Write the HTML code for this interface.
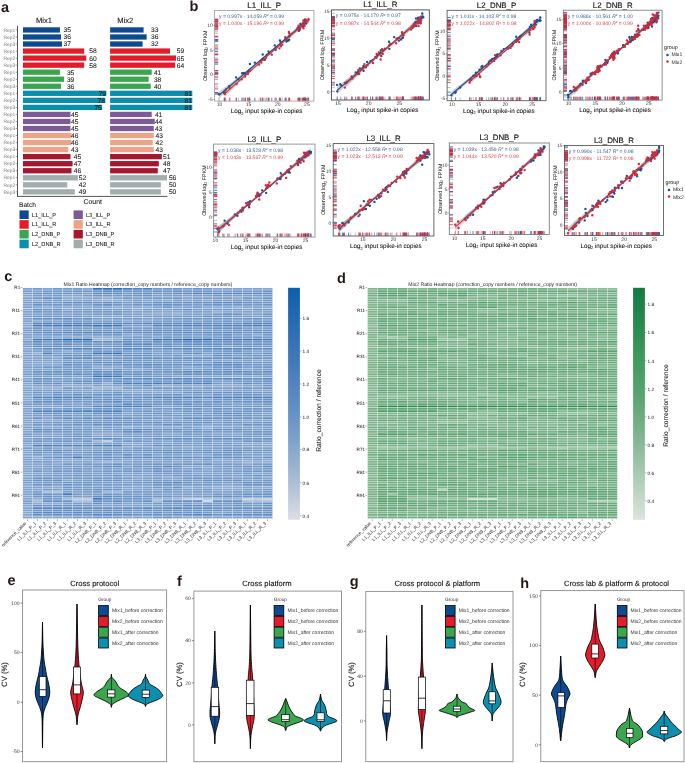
<!DOCTYPE html>
<html><head><meta charset="utf-8"><style>
html,body{margin:0;padding:0;background:#fff;}
body{width:685px;height:763px;overflow:hidden;}
svg{display:block;will-change:transform;text-rendering:geometricPrecision;font-family:"Liberation Sans", sans-serif;}
</style></head><body>
<svg width="685" height="763" viewBox="0 0 685 763">
<text x="1" y="12.2" font-size="14.5" fill="#231815" font-weight="bold">a</text>
<text x="36" y="23" font-size="7.6" fill="#1a1a1a" stroke="#1a1a1a" stroke-width="0.11">Mix1</text>
<text x="117.3" y="22.6" font-size="7.6" fill="#1a1a1a" stroke="#1a1a1a" stroke-width="0.11">Mix2</text>
<rect x="23" y="27.3" width="36.92" height="5.3" fill="#0c4a91"/>
<rect x="110.1" y="27.3" width="33.49" height="5.3" fill="#0c4a91"/>
<text x="63.6" y="32.35" font-size="6.7" fill="#1a1a1a" stroke="#1a1a1a" stroke-width="0.08">35</text>
<text x="151" y="32.35" font-size="6.7" fill="#1a1a1a" stroke="#1a1a1a" stroke-width="0.08">33</text>
<text x="15.2" y="31.65" font-size="4.9" fill="#777" text-anchor="end">Rep1</text>
<line x1="15.6" y1="29.95" x2="17.5" y2="29.95" stroke="#555" stroke-width="0.5"/>
<rect x="23" y="34.34" width="37.98" height="5.3" fill="#0c4a91"/>
<rect x="110.1" y="34.34" width="36.54" height="5.3" fill="#0c4a91"/>
<text x="63.6" y="39.39" font-size="6.7" fill="#1a1a1a" stroke="#1a1a1a" stroke-width="0.08">36</text>
<text x="151" y="39.39" font-size="6.7" fill="#1a1a1a" stroke="#1a1a1a" stroke-width="0.08">36</text>
<text x="15.2" y="38.69" font-size="4.9" fill="#777" text-anchor="end">Rep2</text>
<line x1="15.6" y1="36.99" x2="17.5" y2="36.99" stroke="#555" stroke-width="0.5"/>
<rect x="23" y="41.38" width="39.03" height="5.3" fill="#0c4a91"/>
<rect x="110.1" y="41.38" width="32.48" height="5.3" fill="#0c4a91"/>
<text x="63.6" y="46.43" font-size="6.7" fill="#1a1a1a" stroke="#1a1a1a" stroke-width="0.08">37</text>
<text x="151" y="46.43" font-size="6.7" fill="#1a1a1a" stroke="#1a1a1a" stroke-width="0.08">32</text>
<text x="15.2" y="45.73" font-size="4.9" fill="#777" text-anchor="end">Rep3</text>
<line x1="15.6" y1="44.03" x2="17.5" y2="44.03" stroke="#555" stroke-width="0.5"/>
<rect x="23" y="48.42" width="61.19" height="5.3" fill="#e31b2a"/>
<rect x="110.1" y="48.42" width="59.88" height="5.3" fill="#e31b2a"/>
<text x="89.2" y="53.47" font-size="6.7" fill="#1a1a1a" stroke="#1a1a1a" stroke-width="0.08">58</text>
<text x="176.7" y="53.47" font-size="6.7" fill="#1a1a1a" stroke="#1a1a1a" stroke-width="0.08">59</text>
<text x="15.2" y="52.77" font-size="4.9" fill="#777" text-anchor="end">Rep1</text>
<line x1="15.6" y1="51.07" x2="17.5" y2="51.07" stroke="#555" stroke-width="0.5"/>
<rect x="23" y="55.46" width="63.3" height="5.3" fill="#e31b2a"/>
<rect x="110.1" y="55.46" width="65.97" height="5.3" fill="#e31b2a"/>
<text x="89.2" y="60.51" font-size="6.7" fill="#1a1a1a" stroke="#1a1a1a" stroke-width="0.08">60</text>
<text x="176.7" y="60.51" font-size="6.7" fill="#1a1a1a" stroke="#1a1a1a" stroke-width="0.08">65</text>
<text x="15.2" y="59.81" font-size="4.9" fill="#777" text-anchor="end">Rep2</text>
<line x1="15.6" y1="58.11" x2="17.5" y2="58.11" stroke="#555" stroke-width="0.5"/>
<rect x="23" y="62.5" width="61.19" height="5.3" fill="#e31b2a"/>
<rect x="110.1" y="62.5" width="64.96" height="5.3" fill="#e31b2a"/>
<text x="89.2" y="67.55" font-size="6.7" fill="#1a1a1a" stroke="#1a1a1a" stroke-width="0.08">58</text>
<text x="176.7" y="67.55" font-size="6.7" fill="#1a1a1a" stroke="#1a1a1a" stroke-width="0.08">64</text>
<text x="15.2" y="66.85" font-size="4.9" fill="#777" text-anchor="end">Rep3</text>
<line x1="15.6" y1="65.15" x2="17.5" y2="65.15" stroke="#555" stroke-width="0.5"/>
<rect x="23" y="69.54" width="36.92" height="5.3" fill="#3aa64d"/>
<rect x="110.1" y="69.54" width="41.61" height="5.3" fill="#3aa64d"/>
<text x="66.9" y="74.59" font-size="6.7" fill="#1a1a1a" stroke="#1a1a1a" stroke-width="0.08">35</text>
<text x="153.9" y="74.59" font-size="6.7" fill="#1a1a1a" stroke="#1a1a1a" stroke-width="0.08">41</text>
<text x="15.2" y="73.89" font-size="4.9" fill="#777" text-anchor="end">Rep1</text>
<line x1="15.6" y1="72.19" x2="17.5" y2="72.19" stroke="#555" stroke-width="0.5"/>
<rect x="23" y="76.58" width="41.14" height="5.3" fill="#3aa64d"/>
<rect x="110.1" y="76.58" width="38.57" height="5.3" fill="#3aa64d"/>
<text x="66.9" y="81.63" font-size="6.7" fill="#1a1a1a" stroke="#1a1a1a" stroke-width="0.08">39</text>
<text x="153.9" y="81.63" font-size="6.7" fill="#1a1a1a" stroke="#1a1a1a" stroke-width="0.08">38</text>
<text x="15.2" y="80.93" font-size="4.9" fill="#777" text-anchor="end">Rep2</text>
<line x1="15.6" y1="79.23" x2="17.5" y2="79.23" stroke="#555" stroke-width="0.5"/>
<rect x="23" y="83.62" width="37.98" height="5.3" fill="#3aa64d"/>
<rect x="110.1" y="83.62" width="40.6" height="5.3" fill="#3aa64d"/>
<text x="66.9" y="88.67" font-size="6.7" fill="#1a1a1a" stroke="#1a1a1a" stroke-width="0.08">36</text>
<text x="153.9" y="88.67" font-size="6.7" fill="#1a1a1a" stroke="#1a1a1a" stroke-width="0.08">40</text>
<text x="15.2" y="87.97" font-size="4.9" fill="#777" text-anchor="end">Rep3</text>
<line x1="15.6" y1="86.27" x2="17.5" y2="86.27" stroke="#555" stroke-width="0.5"/>
<rect x="23" y="90.66" width="83.34" height="5.3" fill="#0b8db0"/>
<rect x="110.1" y="90.66" width="82.21" height="5.3" fill="#0b8db0"/>
<text x="106.05" y="95.71" font-size="6.7" fill="#1a1a1a" text-anchor="end" stroke="#1a1a1a" stroke-width="0.08">79</text>
<text x="192.01" y="95.71" font-size="6.7" fill="#1a1a1a" text-anchor="end" stroke="#1a1a1a" stroke-width="0.08">81</text>
<text x="15.2" y="95.01" font-size="4.9" fill="#777" text-anchor="end">Rep1</text>
<line x1="15.6" y1="93.31" x2="17.5" y2="93.31" stroke="#555" stroke-width="0.5"/>
<rect x="23" y="97.7" width="82.29" height="5.3" fill="#0b8db0"/>
<rect x="110.1" y="97.7" width="82.21" height="5.3" fill="#0b8db0"/>
<text x="104.99" y="102.75" font-size="6.7" fill="#1a1a1a" text-anchor="end" stroke="#1a1a1a" stroke-width="0.08">78</text>
<text x="192.01" y="102.75" font-size="6.7" fill="#1a1a1a" text-anchor="end" stroke="#1a1a1a" stroke-width="0.08">81</text>
<text x="15.2" y="102.05" font-size="4.9" fill="#777" text-anchor="end">Rep2</text>
<line x1="15.6" y1="100.35" x2="17.5" y2="100.35" stroke="#555" stroke-width="0.5"/>
<rect x="23" y="104.74" width="79.12" height="5.3" fill="#0b8db0"/>
<rect x="110.1" y="104.74" width="82.21" height="5.3" fill="#0b8db0"/>
<text x="101.83" y="109.79" font-size="6.7" fill="#1a1a1a" text-anchor="end" stroke="#1a1a1a" stroke-width="0.08">75</text>
<text x="192.01" y="109.79" font-size="6.7" fill="#1a1a1a" text-anchor="end" stroke="#1a1a1a" stroke-width="0.08">81</text>
<text x="15.2" y="109.09" font-size="4.9" fill="#777" text-anchor="end">Rep3</text>
<line x1="15.6" y1="107.39" x2="17.5" y2="107.39" stroke="#555" stroke-width="0.5"/>
<rect x="23" y="111.78" width="47.47" height="5.3" fill="#7c5a96"/>
<rect x="110.1" y="111.78" width="41.61" height="5.3" fill="#7c5a96"/>
<text x="71.1" y="116.83" font-size="6.7" fill="#1a1a1a" stroke="#1a1a1a" stroke-width="0.08">45</text>
<text x="154.9" y="116.83" font-size="6.7" fill="#1a1a1a" stroke="#1a1a1a" stroke-width="0.08">41</text>
<text x="15.2" y="116.13" font-size="4.9" fill="#777" text-anchor="end">Rep1</text>
<line x1="15.6" y1="114.43" x2="17.5" y2="114.43" stroke="#555" stroke-width="0.5"/>
<rect x="23" y="118.82" width="47.47" height="5.3" fill="#7c5a96"/>
<rect x="110.1" y="118.82" width="44.66" height="5.3" fill="#7c5a96"/>
<text x="71.1" y="123.87" font-size="6.7" fill="#1a1a1a" stroke="#1a1a1a" stroke-width="0.08">45</text>
<text x="154.9" y="123.87" font-size="6.7" fill="#1a1a1a" stroke="#1a1a1a" stroke-width="0.08">44</text>
<text x="15.2" y="123.17" font-size="4.9" fill="#777" text-anchor="end">Rep2</text>
<line x1="15.6" y1="121.47" x2="17.5" y2="121.47" stroke="#555" stroke-width="0.5"/>
<rect x="23" y="125.86" width="47.47" height="5.3" fill="#7c5a96"/>
<rect x="110.1" y="125.86" width="43.64" height="5.3" fill="#7c5a96"/>
<text x="71.1" y="130.91" font-size="6.7" fill="#1a1a1a" stroke="#1a1a1a" stroke-width="0.08">45</text>
<text x="154.9" y="130.91" font-size="6.7" fill="#1a1a1a" stroke="#1a1a1a" stroke-width="0.08">43</text>
<text x="15.2" y="130.21" font-size="4.9" fill="#777" text-anchor="end">Rep3</text>
<line x1="15.6" y1="128.51" x2="17.5" y2="128.51" stroke="#555" stroke-width="0.5"/>
<rect x="23" y="132.9" width="48.53" height="5.3" fill="#eea387"/>
<rect x="110.1" y="132.9" width="43.64" height="5.3" fill="#eea387"/>
<text x="71.1" y="137.95" font-size="6.7" fill="#1a1a1a" stroke="#1a1a1a" stroke-width="0.08">46</text>
<text x="155.5" y="137.95" font-size="6.7" fill="#1a1a1a" stroke="#1a1a1a" stroke-width="0.08">43</text>
<text x="15.2" y="137.25" font-size="4.9" fill="#777" text-anchor="end">Rep1</text>
<line x1="15.6" y1="135.55" x2="17.5" y2="135.55" stroke="#555" stroke-width="0.5"/>
<rect x="23" y="139.94" width="48.53" height="5.3" fill="#eea387"/>
<rect x="110.1" y="139.94" width="42.63" height="5.3" fill="#eea387"/>
<text x="71.1" y="144.99" font-size="6.7" fill="#1a1a1a" stroke="#1a1a1a" stroke-width="0.08">46</text>
<text x="155.5" y="144.99" font-size="6.7" fill="#1a1a1a" stroke="#1a1a1a" stroke-width="0.08">42</text>
<text x="15.2" y="144.29" font-size="4.9" fill="#777" text-anchor="end">Rep2</text>
<line x1="15.6" y1="142.59" x2="17.5" y2="142.59" stroke="#555" stroke-width="0.5"/>
<rect x="23" y="146.98" width="45.36" height="5.3" fill="#eea387"/>
<rect x="110.1" y="146.98" width="43.64" height="5.3" fill="#eea387"/>
<text x="71.1" y="152.03" font-size="6.7" fill="#1a1a1a" stroke="#1a1a1a" stroke-width="0.08">43</text>
<text x="155.5" y="152.03" font-size="6.7" fill="#1a1a1a" stroke="#1a1a1a" stroke-width="0.08">43</text>
<text x="15.2" y="151.33" font-size="4.9" fill="#777" text-anchor="end">Rep3</text>
<line x1="15.6" y1="149.63" x2="17.5" y2="149.63" stroke="#555" stroke-width="0.5"/>
<rect x="23" y="154.02" width="47.47" height="5.3" fill="#a3182f"/>
<rect x="110.1" y="154.02" width="51.76" height="5.3" fill="#a3182f"/>
<text x="73.7" y="159.07" font-size="6.7" fill="#1a1a1a" stroke="#1a1a1a" stroke-width="0.08">45</text>
<text x="163.1" y="159.07" font-size="6.7" fill="#1a1a1a" stroke="#1a1a1a" stroke-width="0.08">51</text>
<text x="15.2" y="158.37" font-size="4.9" fill="#777" text-anchor="end">Rep1</text>
<line x1="15.6" y1="156.67" x2="17.5" y2="156.67" stroke="#555" stroke-width="0.5"/>
<rect x="23" y="161.06" width="49.58" height="5.3" fill="#a3182f"/>
<rect x="110.1" y="161.06" width="48.72" height="5.3" fill="#a3182f"/>
<text x="73.7" y="166.11" font-size="6.7" fill="#1a1a1a" stroke="#1a1a1a" stroke-width="0.08">47</text>
<text x="163.1" y="166.11" font-size="6.7" fill="#1a1a1a" stroke="#1a1a1a" stroke-width="0.08">48</text>
<text x="15.2" y="165.41" font-size="4.9" fill="#777" text-anchor="end">Rep2</text>
<line x1="15.6" y1="163.71" x2="17.5" y2="163.71" stroke="#555" stroke-width="0.5"/>
<rect x="23" y="168.1" width="48.53" height="5.3" fill="#a3182f"/>
<rect x="110.1" y="168.1" width="47.7" height="5.3" fill="#a3182f"/>
<text x="73.7" y="173.15" font-size="6.7" fill="#1a1a1a" stroke="#1a1a1a" stroke-width="0.08">46</text>
<text x="163.1" y="173.15" font-size="6.7" fill="#1a1a1a" stroke="#1a1a1a" stroke-width="0.08">47</text>
<text x="15.2" y="172.45" font-size="4.9" fill="#777" text-anchor="end">Rep3</text>
<line x1="15.6" y1="170.75" x2="17.5" y2="170.75" stroke="#555" stroke-width="0.5"/>
<rect x="23" y="175.14" width="54.86" height="5.3" fill="#a3adad"/>
<rect x="110.1" y="175.14" width="56.84" height="5.3" fill="#a3adad"/>
<text x="78.8" y="180.19" font-size="6.7" fill="#1a1a1a" stroke="#1a1a1a" stroke-width="0.08">52</text>
<text x="168.9" y="180.19" font-size="6.7" fill="#1a1a1a" stroke="#1a1a1a" stroke-width="0.08">56</text>
<text x="15.2" y="179.49" font-size="4.9" fill="#777" text-anchor="end">Rep1</text>
<line x1="15.6" y1="177.79" x2="17.5" y2="177.79" stroke="#555" stroke-width="0.5"/>
<rect x="23" y="182.18" width="44.31" height="5.3" fill="#a3adad"/>
<rect x="110.1" y="182.18" width="50.75" height="5.3" fill="#a3adad"/>
<text x="78.8" y="187.23" font-size="6.7" fill="#1a1a1a" stroke="#1a1a1a" stroke-width="0.08">42</text>
<text x="168.9" y="187.23" font-size="6.7" fill="#1a1a1a" stroke="#1a1a1a" stroke-width="0.08">50</text>
<text x="15.2" y="186.53" font-size="4.9" fill="#777" text-anchor="end">Rep2</text>
<line x1="15.6" y1="184.83" x2="17.5" y2="184.83" stroke="#555" stroke-width="0.5"/>
<rect x="23" y="189.22" width="51.7" height="5.3" fill="#a3adad"/>
<rect x="110.1" y="189.22" width="50.75" height="5.3" fill="#a3adad"/>
<text x="78.8" y="194.27" font-size="6.7" fill="#1a1a1a" stroke="#1a1a1a" stroke-width="0.08">49</text>
<text x="168.9" y="194.27" font-size="6.7" fill="#1a1a1a" stroke="#1a1a1a" stroke-width="0.08">50</text>
<text x="15.2" y="193.57" font-size="4.9" fill="#777" text-anchor="end">Rep3</text>
<line x1="15.6" y1="191.87" x2="17.5" y2="191.87" stroke="#555" stroke-width="0.5"/>
<line x1="17.5" y1="25.8" x2="17.5" y2="196.8" stroke="#444" stroke-width="0.9"/>
<line x1="17.1" y1="196.4" x2="167.4" y2="196.4" stroke="#444" stroke-width="0.9"/>
<text x="83.5" y="203.8" font-size="6.9" fill="#1a1a1a" stroke="#1a1a1a" stroke-width="0.09">Count</text>
<text x="19" y="207.4" font-size="6.6" fill="#1a1a1a" stroke="#1a1a1a" stroke-width="0.07">Batch</text>
<rect x="19.5" y="210.4" width="9.2" height="8.6" fill="#0c4a91"/>
<text x="31.8" y="216.7" font-size="5.7" fill="#1a1a1a" stroke="#1a1a1a" stroke-width="0.04">L1_ILL_P</text>
<rect x="19.5" y="220.15" width="9.2" height="8.6" fill="#e31b2a"/>
<text x="31.8" y="226.45" font-size="5.7" fill="#1a1a1a" stroke="#1a1a1a" stroke-width="0.04">L1_ILL_R</text>
<rect x="19.5" y="229.9" width="9.2" height="8.6" fill="#3aa64d"/>
<text x="31.8" y="236.2" font-size="5.7" fill="#1a1a1a" stroke="#1a1a1a" stroke-width="0.04">L2_DNB_P</text>
<rect x="19.5" y="239.65" width="9.2" height="8.6" fill="#0b8db0"/>
<text x="31.8" y="245.95" font-size="5.7" fill="#1a1a1a" stroke="#1a1a1a" stroke-width="0.04">L2_DNB_R</text>
<rect x="73.6" y="210.4" width="9.2" height="8.6" fill="#7c5a96"/>
<text x="85.9" y="216.7" font-size="5.7" fill="#1a1a1a" stroke="#1a1a1a" stroke-width="0.04">L3_ILL_P</text>
<rect x="73.6" y="220.15" width="9.2" height="8.6" fill="#eea387"/>
<text x="85.9" y="226.45" font-size="5.7" fill="#1a1a1a" stroke="#1a1a1a" stroke-width="0.04">L3_ILL_R</text>
<rect x="73.6" y="229.9" width="9.2" height="8.6" fill="#a3182f"/>
<text x="85.9" y="236.2" font-size="5.7" fill="#1a1a1a" stroke="#1a1a1a" stroke-width="0.04">L3_DNB_P</text>
<rect x="73.6" y="239.65" width="9.2" height="8.6" fill="#a3adad"/>
<text x="85.9" y="245.95" font-size="5.7" fill="#1a1a1a" stroke="#1a1a1a" stroke-width="0.04">L3_DNB_R</text>
<text x="189.4" y="11" font-size="14.5" fill="#231815" font-weight="bold">b</text>
<rect x="214.6" y="10.5" width="99.3" height="90.6" fill="#fff"/>
<text x="264.25" y="7.9" font-size="7.9" fill="#111" text-anchor="middle" stroke="#111" stroke-width="0.12">L1_ILL_P</text>
<svg x="214.6" y="10.5" width="99.3" height="90.6" viewBox="214.6 10.5 99.3 90.6" overflow="hidden">
<polygon points="218.92,91.6 226.19,86.28 233.47,80.82 240.75,75.2 248.02,69.44 255.3,63.52 262.58,57.46 269.85,51.24 277.13,44.87 284.4,38.35 291.68,31.68 298.96,24.86 306.23,17.89 306.23,25.09 298.96,30.4 291.68,35.87 284.4,41.48 277.13,47.25 269.85,53.17 262.58,59.23 255.3,65.45 248.02,71.82 240.75,78.34 233.47,85.01 226.19,91.83 218.92,98.8" fill="#9a9a9a" fill-opacity="0.45"/>
<polygon points="224.74,89.97 231.74,84.65 238.73,79.17 245.72,73.54 252.71,67.76 259.7,61.83 266.7,55.75 273.69,49.52 280.68,43.13 287.67,36.6 294.66,29.91 301.66,23.08 308.65,16.09 308.65,23.3 301.66,28.62 294.66,34.1 287.67,39.73 280.68,45.51 273.69,51.44 266.7,57.52 259.7,63.76 252.71,70.14 245.72,76.67 238.73,83.36 231.74,90.19 224.74,97.18" fill="#9a9a9a" fill-opacity="0.45"/>
<path stroke="#1d4f95" stroke-width="0.75" stroke-opacity="0.45" d="M218.92 97.7v3.4M214.6 94.2h3.6M229.33 97.7v3.4M214.6 86.23h3.6M238.49 97.7v3.4M214.6 79.29h3.6M248.41 97.7v3.4M214.6 71.16h3.6M264.81 97.7v3.4M214.6 59.86h3.6M274.73 97.7v3.4M214.6 45.4h3.6M288.43 97.7v3.4M214.6 40.53h3.6M286.37 97.7v3.4M214.6 39.55h3.6M289.14 97.7v3.4M214.6 39.63h3.6M286.48 97.7v3.4M214.6 41.62h3.6M300.38 97.7v3.4M214.6 23.95h3.6M298.97 97.7v3.4M214.6 30.87h3.6M299.29 97.7v3.4M214.6 26.89h3.6M304.34 97.7v3.4M214.6 25.77h3.6M306.23 97.7v3.4M214.6 23.55h3.6"/>
<path stroke="#1d4f95" stroke-width="0.75" stroke-opacity="0.7" d="M236.08 97.7v3.4M214.6 77.41h3.6M249.91 97.7v3.4M214.6 64.01h3.6M262.74 97.7v3.4M214.6 54.48h3.6M262.67 97.7v3.4M214.6 59.05h3.6M269.28 97.7v3.4M214.6 53.24h3.6M275.58 97.7v3.4M214.6 49.8h3.6M280.41 97.7v3.4M214.6 41.48h3.6M304.63 97.7v3.4M214.6 21.09h3.6M305.16 97.7v3.4M214.6 21.5h3.6M301.79 97.7v3.4M214.6 25.77h3.6M305.9 97.7v3.4M214.6 19.85h3.6M305.97 97.7v3.4M214.6 21.33h3.6"/>
<path stroke="#1d4f95" stroke-width="0.75" stroke-opacity="1.0" d="M224.17 97.7v3.4M214.6 92.95h3.6M224.99 97.7v3.4M214.6 92.5h3.6M243.92 97.7v3.4M214.6 72.89h3.6M242.15 97.7v3.4M214.6 73.2h3.6M245.61 97.7v3.4M214.6 74.18h3.6M249.31 97.7v3.4M214.6 70.65h3.6M254.87 97.7v3.4M214.6 62.67h3.6M268.54 97.7v3.4M214.6 51.43h3.6M279.87 97.7v3.4M214.6 40.36h3.6M285.19 97.7v3.4M214.6 39.46h3.6M299.54 97.7v3.4M214.6 28.1h3.6M302.65 97.7v3.4M214.6 26.59h3.6M304.23 97.7v3.4M214.6 22.9h3.6M305.05 97.7v3.4M214.6 19.39h3.6"/>
<path stroke="#e3232e" stroke-width="0.75" stroke-opacity="0.45" d="M225.92 97.7v3.4M214.6 89.39h3.6M241.67 97.7v3.4M214.6 79.26h3.6M259.09 97.7v3.4M214.6 64.52h3.6M261.38 97.7v3.4M214.6 62.62h3.6M263.26 97.7v3.4M214.6 59.68h3.6M265.99 97.7v3.4M214.6 57.8h3.6M282.29 97.7v3.4M214.6 44.64h3.6M280.82 97.7v3.4M214.6 46.19h3.6M288.88 97.7v3.4M214.6 31.9h3.6M289.22 97.7v3.4M214.6 33.38h3.6M297.6 97.7v3.4M214.6 27.91h3.6M303.34 97.7v3.4M214.6 20.45h3.6M302.94 97.7v3.4M214.6 23.3h3.6M303.52 97.7v3.4M214.6 28.18h3.6M304.12 97.7v3.4M214.6 25.88h3.6"/>
<path stroke="#e3232e" stroke-width="0.75" stroke-opacity="0.7" d="M245.02 97.7v3.4M214.6 76.42h3.6M276.48 97.7v3.4M214.6 47.18h3.6M289.33 97.7v3.4M214.6 36.3h3.6M285.33 97.7v3.4M214.6 37.25h3.6M297.9 97.7v3.4M214.6 29.22h3.6M299.13 97.7v3.4M214.6 26.88h3.6M300.04 97.7v3.4M214.6 29.46h3.6M305.78 97.7v3.4M214.6 20.15h3.6M303.34 97.7v3.4M214.6 25.07h3.6M304.79 97.7v3.4M214.6 22.76h3.6"/>
<path stroke="#e3232e" stroke-width="0.75" stroke-opacity="1.0" d="M224.74 97.7v3.4M214.6 94.04h3.6M229.83 97.7v3.4M214.6 88.17h3.6M236.57 97.7v3.4M214.6 83.99h3.6M247.88 97.7v3.4M214.6 72.81h3.6M247.82 97.7v3.4M214.6 74.01h3.6M249.6 97.7v3.4M214.6 70.57h3.6M260.61 97.7v3.4M214.6 61.06h3.6M266.91 97.7v3.4M214.6 54.7h3.6M271.78 97.7v3.4M214.6 54.66h3.6M279.39 97.7v3.4M214.6 48.35h3.6M289.75 97.7v3.4M214.6 36.27h3.6M298.61 97.7v3.4M214.6 25.66h3.6M303.68 97.7v3.4M214.6 24.58h3.6M308.65 97.7v3.4M214.6 19.54h3.6M308.55 97.7v3.4M214.6 19.23h3.6M307.48 97.7v3.4M214.6 21.38h3.6"/>
<path stroke="#1d4f95" stroke-width="2.4" stroke-linecap="round" d="M218.92 94.2h0M224.17 92.95h0M224.99 92.5h0M229.33 86.23h0M238.49 79.29h0M236.08 77.41h0M243.92 72.89h0M242.15 73.2h0M249.91 64.01h0M245.61 74.18h0M249.31 70.65h0M248.41 71.16h0M254.87 62.67h0M262.74 54.48h0M262.67 59.05h0M264.81 59.86h0M268.54 51.43h0M269.28 53.24h0M275.58 49.8h0M274.73 45.4h0M279.87 40.36h0M280.41 41.48h0M288.43 40.53h0M286.37 39.55h0M289.14 39.63h0M286.48 41.62h0M285.19 39.46h0M300.38 23.95h0M299.54 28.1h0M298.97 30.87h0M299.29 26.89h0M304.63 21.09h0M302.65 26.59h0M304.34 25.77h0M304.23 22.9h0M305.16 21.5h0M301.79 25.77h0M305.05 19.39h0M305.9 19.85h0M306.23 23.55h0M305.97 21.33h0"/>
<path stroke="#e3232e" stroke-width="2.4" stroke-linecap="round" d="M225.92 89.39h0M224.74 94.04h0M229.83 88.17h0M236.57 83.99h0M245.02 76.42h0M241.67 79.26h0M247.88 72.81h0M247.82 74.01h0M249.6 70.57h0M259.09 64.52h0M260.61 61.06h0M261.38 62.62h0M263.26 59.68h0M266.91 54.7h0M271.78 54.66h0M265.99 57.8h0M276.48 47.18h0M279.39 48.35h0M282.29 44.64h0M280.82 46.19h0M288.88 31.9h0M289.33 36.3h0M285.33 37.25h0M289.22 33.38h0M289.75 36.27h0M297.9 29.22h0M297.6 27.91h0M299.13 26.88h0M300.04 29.46h0M298.61 25.66h0M305.78 20.15h0M303.68 24.58h0M303.34 20.45h0M303.34 25.07h0M302.94 23.3h0M303.52 28.18h0M304.79 22.76h0M308.65 19.54h0M308.55 19.23h0M307.48 21.38h0M304.12 25.88h0"/>
<line x1="218.92" y1="95.2" x2="306.23" y2="21.49" stroke="#1f4f8f" stroke-width="1.15"/>
<line x1="224.74" y1="93.58" x2="308.65" y2="19.69" stroke="#d3313b" stroke-width="1.15"/>
</svg>
<text x="219" y="18" font-size="5" fill="#3b5b8f">y = 0.997x - 14.059  <tspan font-style="italic">R</tspan><tspan font-size="3" dy="-1.6">2</tspan><tspan dy="1.6"> = 0.99</tspan></text>
<text x="219" y="25.3" font-size="5" fill="#d8404d">y = 1.040x - 15.196  <tspan font-style="italic">R</tspan><tspan font-size="3" dy="-1.6">2</tspan><tspan dy="1.6"> = 0.99</tspan></text>
<rect x="214.6" y="10.5" width="99.3" height="90.6" fill="none" stroke="#a0a0a0" stroke-width="0.85"/>
<line x1="219.5" y1="101.1" x2="219.5" y2="102.4" stroke="#666" stroke-width="0.5"/>
<text x="219.5" y="106.4" font-size="5" fill="#333" text-anchor="middle">10</text>
<line x1="248.63" y1="101.1" x2="248.63" y2="102.4" stroke="#666" stroke-width="0.5"/>
<text x="248.63" y="106.4" font-size="5" fill="#333" text-anchor="middle">15</text>
<line x1="277.77" y1="101.1" x2="277.77" y2="102.4" stroke="#666" stroke-width="0.5"/>
<text x="277.77" y="106.4" font-size="5" fill="#333" text-anchor="middle">20</text>
<line x1="306.9" y1="101.1" x2="306.9" y2="102.4" stroke="#666" stroke-width="0.5"/>
<text x="306.9" y="106.4" font-size="5" fill="#333" text-anchor="middle">25</text>
<line x1="213.3" y1="99.2" x2="214.6" y2="99.2" stroke="#666" stroke-width="0.5"/>
<text x="212.7" y="100.9" font-size="4.9" fill="#333" text-anchor="end">-5</text>
<line x1="213.3" y1="74.53" x2="214.6" y2="74.53" stroke="#666" stroke-width="0.5"/>
<text x="212.7" y="76.23" font-size="4.9" fill="#333" text-anchor="end">0</text>
<line x1="213.3" y1="49.87" x2="214.6" y2="49.87" stroke="#666" stroke-width="0.5"/>
<text x="212.7" y="51.57" font-size="4.9" fill="#333" text-anchor="end">5</text>
<line x1="213.3" y1="25.2" x2="214.6" y2="25.2" stroke="#666" stroke-width="0.5"/>
<text x="212.7" y="26.9" font-size="4.9" fill="#333" text-anchor="end">10</text>
<text x="266.55" y="113.3" font-size="6.3" fill="#111" text-anchor="middle" stroke="#111" stroke-width="0.06">Log<tspan font-size="4.0" dy="1.4">2</tspan><tspan dy="-1.4"> input spike-in copies</tspan></text>
<text x="206.8" y="55.8" font-size="5.4" fill="#222" text-anchor="middle" transform="rotate(-90 206.8 55.8)" stroke="#222" stroke-width="0.03">Observed log<tspan font-size="3.7" dy="1.3">2</tspan><tspan dy="-1.3"> FPKM</tspan></text>
<rect x="331.4" y="9.9" width="97.9" height="90.1" fill="#fff"/>
<text x="380.35" y="7.3" font-size="7.9" fill="#111" text-anchor="middle" stroke="#111" stroke-width="0.12">L1_ILL_R</text>
<svg x="331.4" y="9.9" width="97.9" height="90.1" viewBox="331.4 9.9 97.9 90.1" overflow="hidden">
<polygon points="337.06,86.43 344.25,81.19 351.44,75.78 358.64,70.21 365.83,64.48 373.02,58.58 380.21,52.51 387.4,46.28 394.59,39.89 401.79,33.33 408.98,26.61 416.17,19.73 423.36,12.68 423.36,20.52 416.17,25.77 408.98,31.18 401.79,36.75 394.59,42.48 387.4,48.38 380.21,54.45 373.02,60.68 365.83,67.07 358.64,73.62 351.44,80.35 344.25,87.23 337.06,94.28" fill="#9a9a9a" fill-opacity="0.45"/>
<polygon points="344.83,80.77 351.16,76.2 357.48,71.46 363.81,66.56 370.14,61.5 376.46,56.27 382.79,50.88 389.12,45.32 395.45,39.6 401.77,33.72 408.1,27.67 414.43,21.46 420.75,15.08 420.75,22.92 414.43,27.49 408.1,32.23 401.77,37.13 395.45,42.19 389.12,47.42 382.79,52.81 376.46,58.37 370.14,64.09 363.81,69.97 357.48,76.02 351.16,82.23 344.83,88.61" fill="#9a9a9a" fill-opacity="0.45"/>
<path stroke="#1d4f95" stroke-width="0.75" stroke-opacity="0.45" d="M337.06 96.6v3.4M331.4 84.86h3.6M341.11 96.6v3.4M331.4 85.34h3.6M340.21 96.6v3.4M331.4 84.3h3.6M358.25 96.6v3.4M331.4 74h3.6M367.13 96.6v3.4M331.4 61.96h3.6M380.34 96.6v3.4M331.4 52.96h3.6M394.11 96.6v3.4M331.4 37.11h3.6M398.78 96.6v3.4M331.4 40.64h3.6M402.86 96.6v3.4M331.4 37.85h3.6M403.21 96.6v3.4M331.4 35.36h3.6M414.39 96.6v3.4M331.4 25.63h3.6M412.63 96.6v3.4M331.4 27.72h3.6M414.53 96.6v3.4M331.4 23.51h3.6M413.56 96.6v3.4M331.4 25.85h3.6M422.21 96.6v3.4M331.4 13.47h3.6M418.73 96.6v3.4M331.4 20.79h3.6M416.37 96.6v3.4M331.4 21.83h3.6"/>
<path stroke="#1d4f95" stroke-width="0.75" stroke-opacity="0.7" d="M337.26 96.6v3.4M331.4 91.35h3.6M346.79 96.6v3.4M331.4 82.2h3.6M357.88 96.6v3.4M331.4 72.21h3.6M359.85 96.6v3.4M331.4 68.57h3.6M363.6 96.6v3.4M331.4 70.7h3.6M377.3 96.6v3.4M331.4 55.48h3.6M383.23 96.6v3.4M331.4 50.38h3.6M380.71 96.6v3.4M331.4 50.56h3.6M388.97 96.6v3.4M331.4 41.77h3.6M396.83 96.6v3.4M331.4 38.98h3.6M402.44 96.6v3.4M331.4 33.39h3.6M402.49 96.6v3.4M331.4 38h3.6M415.99 96.6v3.4M331.4 18.55h3.6M415.2 96.6v3.4M331.4 22.4h3.6M418.52 96.6v3.4M331.4 19.21h3.6M419.75 96.6v3.4M331.4 20.84h3.6M420.58 96.6v3.4M331.4 17.12h3.6M418.95 96.6v3.4M331.4 21.94h3.6M421.59 96.6v3.4M331.4 17.68h3.6M422.17 96.6v3.4M331.4 16.8h3.6M422.57 96.6v3.4M331.4 16.36h3.6"/>
<path stroke="#1d4f95" stroke-width="0.75" stroke-opacity="1.0" d="M355.7 96.6v3.4M331.4 72.38h3.6M365.95 96.6v3.4M331.4 67.19h3.6M363.37 96.6v3.4M331.4 66.24h3.6M372.53 96.6v3.4M331.4 60.27h3.6M370.55 96.6v3.4M331.4 61.11h3.6M379.69 96.6v3.4M331.4 53.44h3.6M379.24 96.6v3.4M331.4 54.13h3.6M381.23 96.6v3.4M331.4 55.95h3.6M389.33 96.6v3.4M331.4 48.87h3.6M400.94 96.6v3.4M331.4 39.51h3.6M416.26 96.6v3.4M331.4 25.98h3.6M418.16 96.6v3.4M331.4 17.77h3.6M420.54 96.6v3.4M331.4 19.46h3.6M423.36 96.6v3.4M331.4 17.32h3.6M420.48 96.6v3.4M331.4 23.37h3.6"/>
<path stroke="#e3232e" stroke-width="0.75" stroke-opacity="0.45" d="M344.83 96.6v3.4M331.4 87.61h3.6M357.65 96.6v3.4M331.4 72.62h3.6M365.21 96.6v3.4M331.4 66.88h3.6M376.48 96.6v3.4M331.4 57.83h3.6M378.8 96.6v3.4M331.4 52.36h3.6M384.77 96.6v3.4M331.4 48.82h3.6M380.63 96.6v3.4M331.4 59.48h3.6M389.11 96.6v3.4M331.4 45.5h3.6M402.09 96.6v3.4M331.4 32.16h3.6M412.33 96.6v3.4M331.4 26.15h3.6M413.61 96.6v3.4M331.4 24.77h3.6M414.97 96.6v3.4M331.4 24.1h3.6M413.59 96.6v3.4M331.4 26.47h3.6M417.61 96.6v3.4M331.4 22.19h3.6M418.65 96.6v3.4M331.4 26.1h3.6M420.75 96.6v3.4M331.4 22.79h3.6"/>
<path stroke="#e3232e" stroke-width="0.75" stroke-opacity="0.7" d="M358.31 96.6v3.4M331.4 69.95h3.6M359.26 96.6v3.4M331.4 73.87h3.6M364.36 96.6v3.4M331.4 64.27h3.6M372.9 96.6v3.4M331.4 62.9h3.6M375.43 96.6v3.4M331.4 56.91h3.6M397.48 96.6v3.4M331.4 38.2h3.6M396.81 96.6v3.4M331.4 38.48h3.6M396.17 96.6v3.4M331.4 43.25h3.6M402.83 96.6v3.4M331.4 34.16h3.6M403.54 96.6v3.4M331.4 35.21h3.6M403.17 96.6v3.4M331.4 35.03h3.6M415.08 96.6v3.4M331.4 25.59h3.6M411.15 96.6v3.4M331.4 29.6h3.6M419.84 96.6v3.4M331.4 19.11h3.6M418.24 96.6v3.4M331.4 23.38h3.6M420.75 96.6v3.4M331.4 20.52h3.6M420.75 96.6v3.4M331.4 17.77h3.6M420.75 96.6v3.4M331.4 16.92h3.6M420.75 96.6v3.4M331.4 21.11h3.6"/>
<path stroke="#e3232e" stroke-width="0.75" stroke-opacity="1.0" d="M344.86 96.6v3.4M331.4 82.87h3.6M351.54 96.6v3.4M331.4 76.38h3.6M352.35 96.6v3.4M331.4 78.55h3.6M367.49 96.6v3.4M331.4 65.25h3.6M362.32 96.6v3.4M331.4 68.3h3.6M376.68 96.6v3.4M331.4 54.05h3.6M382.09 96.6v3.4M331.4 49.25h3.6M382.8 96.6v3.4M331.4 53.8h3.6M382.21 96.6v3.4M331.4 53.61h3.6M390.36 96.6v3.4M331.4 43.72h3.6M403.27 96.6v3.4M331.4 35.57h3.6M399.05 96.6v3.4M331.4 38.15h3.6M415.56 96.6v3.4M331.4 23.63h3.6M418.16 96.6v3.4M331.4 19.67h3.6M420.75 96.6v3.4M331.4 23.04h3.6M418.31 96.6v3.4M331.4 20.62h3.6"/>
<path stroke="#1d4f95" stroke-width="2.4" stroke-linecap="round" d="M337.06 84.86h0M337.26 91.35h0M341.11 85.34h0M340.21 84.3h0M346.79 82.2h0M355.7 72.38h0M357.88 72.21h0M358.25 74h0M359.85 68.57h0M367.13 61.96h0M363.6 70.7h0M365.95 67.19h0M363.37 66.24h0M372.53 60.27h0M370.55 61.11h0M379.69 53.44h0M379.24 54.13h0M377.3 55.48h0M383.23 50.38h0M381.23 55.95h0M380.71 50.56h0M380.34 52.96h0M388.97 41.77h0M389.33 48.87h0M396.83 38.98h0M394.11 37.11h0M398.78 40.64h0M400.94 39.51h0M402.86 37.85h0M402.44 33.39h0M402.49 38h0M403.21 35.36h0M415.99 18.55h0M414.39 25.63h0M415.2 22.4h0M412.63 27.72h0M414.53 23.51h0M413.56 25.85h0M418.52 19.21h0M422.21 13.47h0M419.75 20.84h0M420.58 17.12h0M418.73 20.79h0M416.26 25.98h0M416.37 21.83h0M418.95 21.94h0M418.16 17.77h0M420.54 19.46h0M423.36 17.32h0M420.48 23.37h0M421.59 17.68h0M422.17 16.8h0M422.57 16.36h0"/>
<path stroke="#e3232e" stroke-width="2.4" stroke-linecap="round" d="M344.86 82.87h0M344.83 87.61h0M351.54 76.38h0M352.35 78.55h0M358.31 69.95h0M359.26 73.87h0M357.65 72.62h0M365.21 66.88h0M367.49 65.25h0M362.32 68.3h0M364.36 64.27h0M372.9 62.9h0M376.48 57.83h0M375.43 56.91h0M376.68 54.05h0M378.8 52.36h0M384.77 48.82h0M382.09 49.25h0M380.63 59.48h0M382.8 53.8h0M382.21 53.61h0M389.11 45.5h0M390.36 43.72h0M397.48 38.2h0M396.81 38.48h0M396.17 43.25h0M403.27 35.57h0M402.83 34.16h0M399.05 38.15h0M403.54 35.21h0M402.09 32.16h0M403.17 35.03h0M415.08 25.59h0M412.33 26.15h0M413.61 24.77h0M411.15 29.6h0M415.56 23.63h0M414.97 24.1h0M419.84 19.11h0M413.59 26.47h0M418.16 19.67h0M418.24 23.38h0M417.61 22.19h0M420.75 23.04h0M418.65 26.1h0M418.31 20.62h0M420.75 20.52h0M420.75 17.77h0M420.75 16.92h0M420.75 21.11h0M420.75 22.79h0"/>
<line x1="337.06" y1="90.36" x2="423.36" y2="16.6" stroke="#1f4f8f" stroke-width="1.15"/>
<line x1="344.83" y1="84.69" x2="420.75" y2="19" stroke="#d3313b" stroke-width="1.15"/>
</svg>
<text x="335.8" y="17.4" font-size="5" fill="#3b5b8f">y = 0.975x - 14.170  <tspan font-style="italic">R</tspan><tspan font-size="3" dy="-1.6">2</tspan><tspan dy="1.6"> = 0.97</tspan></text>
<text x="335.8" y="24.7" font-size="5" fill="#d8404d">y = 0.987x - 14.544  <tspan font-style="italic">R</tspan><tspan font-size="3" dy="-1.6">2</tspan><tspan dy="1.6"> = 0.98</tspan></text>
<rect x="331.4" y="9.9" width="97.9" height="90.1" fill="none" stroke="#3c3c3c" stroke-width="0.85"/>
<line x1="338" y1="100" x2="338" y2="101.3" stroke="#666" stroke-width="0.5"/>
<text x="338" y="105.3" font-size="5" fill="#333" text-anchor="middle">15</text>
<line x1="368.65" y1="100" x2="368.65" y2="101.3" stroke="#666" stroke-width="0.5"/>
<text x="368.65" y="105.3" font-size="5" fill="#333" text-anchor="middle">20</text>
<line x1="399.3" y1="100" x2="399.3" y2="101.3" stroke="#666" stroke-width="0.5"/>
<text x="399.3" y="105.3" font-size="5" fill="#333" text-anchor="middle">25</text>
<line x1="330.1" y1="92" x2="331.4" y2="92" stroke="#666" stroke-width="0.5"/>
<text x="329.5" y="93.7" font-size="4.9" fill="#333" text-anchor="end">0</text>
<line x1="330.1" y1="65.13" x2="331.4" y2="65.13" stroke="#666" stroke-width="0.5"/>
<text x="329.5" y="66.83" font-size="4.9" fill="#333" text-anchor="end">5</text>
<line x1="330.1" y1="38.27" x2="331.4" y2="38.27" stroke="#666" stroke-width="0.5"/>
<text x="329.5" y="39.97" font-size="4.9" fill="#333" text-anchor="end">10</text>
<line x1="330.1" y1="11.4" x2="331.4" y2="11.4" stroke="#666" stroke-width="0.5"/>
<text x="329.5" y="13.1" font-size="4.9" fill="#333" text-anchor="end">15</text>
<text x="382.65" y="112.2" font-size="6.3" fill="#111" text-anchor="middle" stroke="#111" stroke-width="0.06">Log<tspan font-size="4.0" dy="1.4">2</tspan><tspan dy="-1.4"> input spike-in copies</tspan></text>
<text x="323.6" y="54.95" font-size="5.4" fill="#222" text-anchor="middle" transform="rotate(-90 323.6 54.95)" stroke="#222" stroke-width="0.03">Observed log<tspan font-size="3.7" dy="1.3">2</tspan><tspan dy="-1.3"> FPKM</tspan></text>
<rect x="447.1" y="10.3" width="98.9" height="90.4" fill="#fff"/>
<text x="496.55" y="7.7" font-size="7.9" fill="#111" text-anchor="middle" stroke="#111" stroke-width="0.12">L2_DNB_P</text>
<svg x="447.1" y="10.3" width="98.9" height="90.4" viewBox="447.1 10.3 98.9 90.4" overflow="hidden">
<polygon points="451.37,91.17 458.8,85.62 466.24,79.92 473.68,74.1 481.11,68.13 488.55,62.03 495.99,55.79 503.42,49.41 510.86,42.9 518.3,36.25 525.73,29.46 533.17,22.54 540.61,15.48 540.61,22.02 533.17,27.57 525.73,33.27 518.3,39.09 510.86,45.06 503.42,51.16 495.99,57.4 488.55,63.78 481.11,70.29 473.68,76.94 466.24,83.73 458.8,90.65 451.37,97.71" fill="#9a9a9a" fill-opacity="0.45"/>
<polygon points="469.52,78.25 474.95,74.35 480.38,70.31 485.81,66.13 491.24,61.82 496.67,57.37 502.1,52.78 507.52,48.06 512.95,43.2 518.38,38.2 523.81,33.07 529.24,27.8 534.67,22.39 534.67,28.93 529.24,32.83 523.81,36.87 518.38,41.05 512.95,45.36 507.52,49.81 502.1,54.4 496.67,59.12 491.24,63.98 485.81,68.98 480.38,74.11 474.95,79.38 469.52,84.79" fill="#9a9a9a" fill-opacity="0.45"/>
<path stroke="#1d4f95" stroke-width="0.75" stroke-opacity="0.45" d="M455.35 97.3v3.4M447.1 92.7h3.6M460.15 97.3v3.4M447.1 87.48h3.6M475.85 97.3v3.4M447.1 72.7h3.6M476.58 97.3v3.4M447.1 75.73h3.6M488.73 97.3v3.4M447.1 63.99h3.6M490.4 97.3v3.4M447.1 60.41h3.6M497.4 97.3v3.4M447.1 56.8h3.6M497.13 97.3v3.4M447.1 54.61h3.6M516.37 97.3v3.4M447.1 41.77h3.6M516.22 97.3v3.4M447.1 36.79h3.6M531.16 97.3v3.4M447.1 24.77h3.6M536.48 97.3v3.4M447.1 20.33h3.6M536.27 97.3v3.4M447.1 21.66h3.6M535.06 97.3v3.4M447.1 22.64h3.6M535.99 97.3v3.4M447.1 24.6h3.6"/>
<path stroke="#1d4f95" stroke-width="0.75" stroke-opacity="0.7" d="M455.63 97.3v3.4M447.1 91.98h3.6M471.19 97.3v3.4M447.1 79.74h3.6M479.5 97.3v3.4M447.1 69.78h3.6M491.31 97.3v3.4M447.1 60.76h3.6M494.54 97.3v3.4M447.1 58.45h3.6M497.45 97.3v3.4M447.1 54.37h3.6M508.29 97.3v3.4M447.1 48.55h3.6M511.52 97.3v3.4M447.1 46.12h3.6M517.73 97.3v3.4M447.1 39.78h3.6M520.86 97.3v3.4M447.1 35.87h3.6M519.91 97.3v3.4M447.1 36.7h3.6M535.54 97.3v3.4M447.1 22.36h3.6M539.76 97.3v3.4M447.1 20.72h3.6M537.16 97.3v3.4M447.1 20.93h3.6"/>
<path stroke="#1d4f95" stroke-width="0.75" stroke-opacity="1.0" d="M451.37 97.3v3.4M447.1 95.21h3.6M481.47 97.3v3.4M447.1 66.63h3.6M482.42 97.3v3.4M447.1 66.03h3.6M492.41 97.3v3.4M447.1 58.83h3.6M503.75 97.3v3.4M447.1 49.16h3.6M513.03 97.3v3.4M447.1 43.85h3.6M532.73 97.3v3.4M447.1 28.46h3.6M529.92 97.3v3.4M447.1 26.85h3.6M529.36 97.3v3.4M447.1 32.38h3.6M537.26 97.3v3.4M447.1 19.9h3.6M536.82 97.3v3.4M447.1 21.23h3.6M540.28 97.3v3.4M447.1 17.56h3.6M540.61 97.3v3.4M447.1 20.59h3.6"/>
<path stroke="#e3232e" stroke-width="0.75" stroke-opacity="0.45" d="M470.18 97.3v3.4M447.1 80.32h3.6M473.54 97.3v3.4M447.1 75.78h3.6M479.02 97.3v3.4M447.1 74.23h3.6M475.55 97.3v3.4M447.1 76.3h3.6M480.14 97.3v3.4M447.1 76.47h3.6M486.46 97.3v3.4M447.1 66.43h3.6M488.88 97.3v3.4M447.1 61.69h3.6M500.51 97.3v3.4M447.1 55.42h3.6M501.4 97.3v3.4M447.1 51.07h3.6M519.41 97.3v3.4M447.1 38.86h3.6M529.64 97.3v3.4M447.1 34.51h3.6M534.67 97.3v3.4M447.1 21h3.6M534.67 97.3v3.4M447.1 24.38h3.6M534.67 97.3v3.4M447.1 27.25h3.6M534.67 97.3v3.4M447.1 25.33h3.6"/>
<path stroke="#e3232e" stroke-width="0.75" stroke-opacity="0.7" d="M494.81 97.3v3.4M447.1 58.23h3.6M507.33 97.3v3.4M447.1 48.08h3.6M510.45 97.3v3.4M447.1 47.91h3.6M534.67 97.3v3.4M447.1 23.74h3.6M534.67 97.3v3.4M447.1 26.69h3.6M534.67 97.3v3.4M447.1 25.35h3.6M534.67 97.3v3.4M447.1 23.5h3.6"/>
<path stroke="#e3232e" stroke-width="0.75" stroke-opacity="1.0" d="M469.52 97.3v3.4M447.1 82.57h3.6M481.57 97.3v3.4M447.1 68.52h3.6M480.09 97.3v3.4M447.1 77.03h3.6M494.14 97.3v3.4M447.1 60.91h3.6M495.16 97.3v3.4M447.1 55.27h3.6M496.14 97.3v3.4M447.1 58.26h3.6M512.58 97.3v3.4M447.1 45.36h3.6M519.58 97.3v3.4M447.1 38.8h3.6M519.18 97.3v3.4M447.1 42.09h3.6M517.15 97.3v3.4M447.1 40.79h3.6M529.61 97.3v3.4M447.1 29.73h3.6M533.3 97.3v3.4M447.1 29.05h3.6M530.21 97.3v3.4M447.1 29.74h3.6M534.67 97.3v3.4M447.1 25.08h3.6M534.67 97.3v3.4M447.1 21.79h3.6M534.67 97.3v3.4M447.1 24.79h3.6M534.67 97.3v3.4M447.1 25.42h3.6"/>
<path stroke="#1d4f95" stroke-width="2.4" stroke-linecap="round" d="M451.37 95.21h0M455.63 91.98h0M455.35 92.7h0M460.15 87.48h0M471.19 79.74h0M475.85 72.7h0M476.58 75.73h0M479.5 69.78h0M481.47 66.63h0M482.42 66.03h0M488.73 63.99h0M490.4 60.41h0M491.31 60.76h0M492.41 58.83h0M494.54 58.45h0M497.4 56.8h0M497.45 54.37h0M497.13 54.61h0M508.29 48.55h0M503.75 49.16h0M511.52 46.12h0M513.03 43.85h0M516.37 41.77h0M517.73 39.78h0M520.86 35.87h0M516.22 36.79h0M519.91 36.7h0M532.73 28.46h0M529.92 26.85h0M529.36 32.38h0M531.16 24.77h0M536.48 20.33h0M537.26 19.9h0M536.27 21.66h0M535.54 22.36h0M536.82 21.23h0M535.06 22.64h0M535.99 24.6h0M540.28 17.56h0M539.76 20.72h0M537.16 20.93h0M540.61 20.59h0"/>
<path stroke="#e3232e" stroke-width="2.4" stroke-linecap="round" d="M469.52 82.57h0M470.18 80.32h0M473.54 75.78h0M479.02 74.23h0M475.55 76.3h0M481.57 68.52h0M480.14 76.47h0M480.09 77.03h0M486.46 66.43h0M488.88 61.69h0M494.14 60.91h0M495.16 55.27h0M494.81 58.23h0M496.14 58.26h0M500.51 55.42h0M501.4 51.07h0M507.33 48.08h0M512.58 45.36h0M510.45 47.91h0M519.58 38.8h0M519.18 42.09h0M519.41 38.86h0M517.15 40.79h0M529.61 29.73h0M533.3 29.05h0M529.64 34.51h0M530.21 29.74h0M534.67 23.74h0M534.67 26.69h0M534.67 25.08h0M534.67 21h0M534.67 21.79h0M534.67 24.38h0M534.67 25.35h0M534.67 23.5h0M534.67 24.79h0M534.67 27.25h0M534.67 25.42h0M534.67 25.33h0"/>
<line x1="451.37" y1="94.44" x2="540.61" y2="18.75" stroke="#1f4f8f" stroke-width="1.15"/>
<line x1="469.52" y1="81.52" x2="534.67" y2="25.66" stroke="#d3313b" stroke-width="1.15"/>
</svg>
<text x="451.5" y="17.8" font-size="5" fill="#3b5b8f">y = 1.011x - 14.103  <tspan font-style="italic">R</tspan><tspan font-size="3" dy="-1.6">2</tspan><tspan dy="1.6"> = 0.98</tspan></text>
<text x="451.5" y="25.1" font-size="5" fill="#d8404d">y = 1.022x - 14.802  <tspan font-style="italic">R</tspan><tspan font-size="3" dy="-1.6">2</tspan><tspan dy="1.6"> = 0.98</tspan></text>
<rect x="447.1" y="10.3" width="98.9" height="90.4" fill="none" stroke="#555" stroke-width="0.85"/>
<line x1="451.9" y1="100.7" x2="451.9" y2="102" stroke="#666" stroke-width="0.5"/>
<text x="451.9" y="106" font-size="5" fill="#333" text-anchor="middle">10</text>
<line x1="478.6" y1="100.7" x2="478.6" y2="102" stroke="#666" stroke-width="0.5"/>
<text x="478.6" y="106" font-size="5" fill="#333" text-anchor="middle">15</text>
<line x1="505.3" y1="100.7" x2="505.3" y2="102" stroke="#666" stroke-width="0.5"/>
<text x="505.3" y="106" font-size="5" fill="#333" text-anchor="middle">20</text>
<line x1="532" y1="100.7" x2="532" y2="102" stroke="#666" stroke-width="0.5"/>
<text x="532" y="106" font-size="5" fill="#333" text-anchor="middle">25</text>
<line x1="445.8" y1="98.5" x2="447.1" y2="98.5" stroke="#666" stroke-width="0.5"/>
<text x="445.2" y="100.2" font-size="4.9" fill="#333" text-anchor="end">-5</text>
<line x1="445.8" y1="76.1" x2="447.1" y2="76.1" stroke="#666" stroke-width="0.5"/>
<text x="445.2" y="77.8" font-size="4.9" fill="#333" text-anchor="end">0</text>
<line x1="445.8" y1="53.7" x2="447.1" y2="53.7" stroke="#666" stroke-width="0.5"/>
<text x="445.2" y="55.4" font-size="4.9" fill="#333" text-anchor="end">5</text>
<line x1="445.8" y1="31.3" x2="447.1" y2="31.3" stroke="#666" stroke-width="0.5"/>
<text x="445.2" y="33" font-size="4.9" fill="#333" text-anchor="end">10</text>
<text x="498.85" y="112.9" font-size="6.3" fill="#111" text-anchor="middle" stroke="#111" stroke-width="0.06">Log<tspan font-size="4.0" dy="1.4">2</tspan><tspan dy="-1.4"> input spike-in copies</tspan></text>
<text x="439.3" y="55.5" font-size="5.4" fill="#222" text-anchor="middle" transform="rotate(-90 439.3 55.5)" stroke="#222" stroke-width="0.03">Observed log<tspan font-size="3.7" dy="1.3">2</tspan><tspan dy="-1.3"> FPKM</tspan></text>
<rect x="563.4" y="10.2" width="98.7" height="89.9" fill="#fff"/>
<text x="612.75" y="7.6" font-size="7.9" fill="#111" text-anchor="middle" stroke="#111" stroke-width="0.12">L2_DNB_R</text>
<svg x="563.4" y="10.2" width="98.7" height="89.9" viewBox="563.4 10.2 98.7 89.9" overflow="hidden">
<polygon points="567.96,92.34 575.5,86.43 583.04,80.37 590.58,74.17 598.12,67.82 605.66,61.32 613.2,54.67 620.74,47.88 628.28,40.94 635.82,33.85 643.36,26.61 650.9,19.22 658.44,11.69 658.44,18.75 650.9,24.66 643.36,30.72 635.82,36.92 628.28,43.27 620.74,49.77 613.2,56.42 605.66,63.21 598.12,70.15 590.58,77.24 583.04,84.48 575.5,91.87 567.96,99.4" fill="#9a9a9a" fill-opacity="0.45"/>
<polygon points="573.77,87.77 580.69,82.32 587.61,76.73 594.53,70.99 601.46,65.1 608.38,59.07 615.3,52.88 622.22,46.55 629.14,40.07 636.06,33.44 642.99,26.67 649.91,19.74 656.83,12.67 656.83,19.74 649.91,25.18 642.99,30.78 636.06,36.52 629.14,42.4 622.22,48.44 615.3,54.62 608.38,60.96 601.46,67.44 594.53,74.06 587.61,80.84 580.69,87.76 573.77,94.83" fill="#9a9a9a" fill-opacity="0.45"/>
<path stroke="#1d4f95" stroke-width="0.75" stroke-opacity="0.45" d="M568.34 96.7v3.4M563.4 96.94h3.6M574.74 96.7v3.4M563.4 90.57h3.6M582.84 96.7v3.4M563.4 80.79h3.6M590.62 96.7v3.4M563.4 73.71h3.6M599.71 96.7v3.4M563.4 65.89h3.6M605.48 96.7v3.4M563.4 59.94h3.6M604.3 96.7v3.4M563.4 64.65h3.6M607.37 96.7v3.4M563.4 62.74h3.6M612.87 96.7v3.4M563.4 57.66h3.6M607.71 96.7v3.4M563.4 61.83h3.6M612.76 96.7v3.4M563.4 56.96h3.6M614.45 96.7v3.4M563.4 51.7h3.6M633.05 96.7v3.4M563.4 39.79h3.6M629.37 96.7v3.4M563.4 37.15h3.6M634.17 96.7v3.4M563.4 37.86h3.6M638.68 96.7v3.4M563.4 30.18h3.6M636.25 96.7v3.4M563.4 35.11h3.6M651.85 96.7v3.4M563.4 21.11h3.6M646.53 96.7v3.4M563.4 26.15h3.6M652.27 96.7v3.4M563.4 18h3.6M652.31 96.7v3.4M563.4 22.22h3.6M653.12 96.7v3.4M563.4 20.63h3.6M655.76 96.7v3.4M563.4 15.76h3.6M652.01 96.7v3.4M563.4 18.89h3.6M656.09 96.7v3.4M563.4 18.11h3.6M655.7 96.7v3.4M563.4 17.08h3.6M655.09 96.7v3.4M563.4 20.3h3.6"/>
<path stroke="#1d4f95" stroke-width="0.75" stroke-opacity="0.7" d="M571.39 96.7v3.4M563.4 91.52h3.6M570.16 96.7v3.4M563.4 91.03h3.6M575.38 96.7v3.4M563.4 88.55h3.6M580.28 96.7v3.4M563.4 84.23h3.6M586.08 96.7v3.4M563.4 82.96h3.6M582.44 96.7v3.4M563.4 84.65h3.6M595.93 96.7v3.4M563.4 71.88h3.6M590.97 96.7v3.4M563.4 75.11h3.6M592.45 96.7v3.4M563.4 72.65h3.6M597.38 96.7v3.4M563.4 67.41h3.6M598.16 96.7v3.4M563.4 68.02h3.6M599.13 96.7v3.4M563.4 68.53h3.6M605.27 96.7v3.4M563.4 62.77h3.6M613.17 96.7v3.4M563.4 54.7h3.6M614.11 96.7v3.4M563.4 53.92h3.6M607.69 96.7v3.4M563.4 61.59h3.6M611.08 96.7v3.4M563.4 55.44h3.6M617.5 96.7v3.4M563.4 52.33h3.6M613.26 96.7v3.4M563.4 52.65h3.6M627.68 96.7v3.4M563.4 43.69h3.6M623.04 96.7v3.4M563.4 45.27h3.6M629.68 96.7v3.4M563.4 37.67h3.6M630.47 96.7v3.4M563.4 41.93h3.6M635.48 96.7v3.4M563.4 35.65h3.6M635.05 96.7v3.4M563.4 34.75h3.6M652.96 96.7v3.4M563.4 18.57h3.6M648.49 96.7v3.4M563.4 27.4h3.6M647.71 96.7v3.4M563.4 22.62h3.6M646.08 96.7v3.4M563.4 26.04h3.6M651.39 96.7v3.4M563.4 23.51h3.6M655.47 96.7v3.4M563.4 18.82h3.6M651.91 96.7v3.4M563.4 20.08h3.6M655.66 96.7v3.4M563.4 19.19h3.6M658.22 96.7v3.4M563.4 18.27h3.6M656.25 96.7v3.4M563.4 17.57h3.6M651.05 96.7v3.4M563.4 18.89h3.6M656.45 96.7v3.4M563.4 22.21h3.6"/>
<path stroke="#1d4f95" stroke-width="0.75" stroke-opacity="1.0" d="M567.96 96.7v3.4M563.4 94.99h3.6M580.99 96.7v3.4M563.4 84.03h3.6M577.78 96.7v3.4M563.4 87.31h3.6M597.79 96.7v3.4M563.4 69.64h3.6M594.46 96.7v3.4M563.4 72.82h3.6M599.62 96.7v3.4M563.4 70.56h3.6M600.52 96.7v3.4M563.4 65.59h3.6M594.36 96.7v3.4M563.4 73.69h3.6M614.03 96.7v3.4M563.4 54.55h3.6M617.91 96.7v3.4M563.4 53.4h3.6M618.22 96.7v3.4M563.4 51.28h3.6M619.42 96.7v3.4M563.4 49.43h3.6M623.65 96.7v3.4M563.4 46.78h3.6M631.88 96.7v3.4M563.4 37.05h3.6M633.54 96.7v3.4M563.4 37.68h3.6M636.65 96.7v3.4M563.4 36.68h3.6M638.83 96.7v3.4M563.4 34.58h3.6M631.28 96.7v3.4M563.4 40.62h3.6M632.43 96.7v3.4M563.4 37.66h3.6M637.15 96.7v3.4M563.4 35.4h3.6M642.95 96.7v3.4M563.4 29.77h3.6M648.27 96.7v3.4M563.4 25.74h3.6M648.12 96.7v3.4M563.4 28.01h3.6M647.79 96.7v3.4M563.4 27.38h3.6M652.06 96.7v3.4M563.4 26.5h3.6M654.12 96.7v3.4M563.4 19.41h3.6M652.95 96.7v3.4M563.4 19.69h3.6M653.79 96.7v3.4M563.4 21.75h3.6M656.19 96.7v3.4M563.4 18.04h3.6M652.01 96.7v3.4M563.4 19.24h3.6M652.55 96.7v3.4M563.4 22.04h3.6M651.06 96.7v3.4M563.4 21.13h3.6M658.44 96.7v3.4M563.4 15.73h3.6M658.44 96.7v3.4M563.4 12.58h3.6M653.69 96.7v3.4M563.4 22.3h3.6"/>
<path stroke="#e3232e" stroke-width="0.75" stroke-opacity="0.45" d="M579.84 96.7v3.4M563.4 85.68h3.6M576.36 96.7v3.4M563.4 88.33h3.6M587.28 96.7v3.4M563.4 80.55h3.6M585.7 96.7v3.4M563.4 81.69h3.6M594.39 96.7v3.4M563.4 73.04h3.6M592.34 96.7v3.4M563.4 73.14h3.6M595.27 96.7v3.4M563.4 74.15h3.6M587.56 96.7v3.4M563.4 77.81h3.6M598.03 96.7v3.4M563.4 72.13h3.6M601.59 96.7v3.4M563.4 66.49h3.6M597.75 96.7v3.4M563.4 71.06h3.6M605.88 96.7v3.4M563.4 64.55h3.6M607.44 96.7v3.4M563.4 60.55h3.6M614.71 96.7v3.4M563.4 54.42h3.6M614.58 96.7v3.4M563.4 58.19h3.6M614.36 96.7v3.4M563.4 52.89h3.6M614.36 96.7v3.4M563.4 56.77h3.6M633.69 96.7v3.4M563.4 37.79h3.6M636.67 96.7v3.4M563.4 31.18h3.6M637.26 96.7v3.4M563.4 34.31h3.6M638.14 96.7v3.4M563.4 29.03h3.6M634.44 96.7v3.4M563.4 36.46h3.6M636.52 96.7v3.4M563.4 35.97h3.6M639.54 96.7v3.4M563.4 35.09h3.6M649.13 96.7v3.4M563.4 25.05h3.6M645.27 96.7v3.4M563.4 27.88h3.6M646.91 96.7v3.4M563.4 27.12h3.6M655.87 96.7v3.4M563.4 17.43h3.6M650.2 96.7v3.4M563.4 22.6h3.6M648.9 96.7v3.4M563.4 23.57h3.6M651.22 96.7v3.4M563.4 24.8h3.6M652.09 96.7v3.4M563.4 21.72h3.6"/>
<path stroke="#e3232e" stroke-width="0.75" stroke-opacity="0.7" d="M576.24 96.7v3.4M563.4 89.88h3.6M573.81 96.7v3.4M563.4 86.95h3.6M588.83 96.7v3.4M563.4 79.83h3.6M597.64 96.7v3.4M563.4 68.3h3.6M597.83 96.7v3.4M563.4 66.2h3.6M605.27 96.7v3.4M563.4 63.05h3.6M610.83 96.7v3.4M563.4 56.67h3.6M613.3 96.7v3.4M563.4 59.81h3.6M618.56 96.7v3.4M563.4 49.37h3.6M613.85 96.7v3.4M563.4 52.96h3.6M624.23 96.7v3.4M563.4 45.88h3.6M628.7 96.7v3.4M563.4 42.33h3.6M628.36 96.7v3.4M563.4 42.93h3.6M635.72 96.7v3.4M563.4 37.02h3.6M637.88 96.7v3.4M563.4 36.29h3.6M634.82 96.7v3.4M563.4 38.82h3.6M649.98 96.7v3.4M563.4 23.28h3.6M643.97 96.7v3.4M563.4 25.7h3.6M647.16 96.7v3.4M563.4 25.23h3.6M647.5 96.7v3.4M563.4 26.15h3.6M651.31 96.7v3.4M563.4 19.18h3.6M652.13 96.7v3.4M563.4 19.39h3.6M651.86 96.7v3.4M563.4 21.4h3.6M656.83 96.7v3.4M563.4 18.98h3.6M656.25 96.7v3.4M563.4 16.83h3.6M654.35 96.7v3.4M563.4 15.39h3.6M652.8 96.7v3.4M563.4 19.37h3.6"/>
<path stroke="#e3232e" stroke-width="0.75" stroke-opacity="1.0" d="M573.77 96.7v3.4M563.4 90.33h3.6M578.98 96.7v3.4M563.4 86.28h3.6M589.26 96.7v3.4M563.4 79.58h3.6M595.63 96.7v3.4M563.4 72.05h3.6M599.05 96.7v3.4M563.4 71.31h3.6M600.12 96.7v3.4M563.4 65.98h3.6M609.62 96.7v3.4M563.4 57.33h3.6M612.54 96.7v3.4M563.4 56.14h3.6M616.72 96.7v3.4M563.4 51.04h3.6M616.52 96.7v3.4M563.4 52.3h3.6M612.01 96.7v3.4M563.4 53.68h3.6M618.54 96.7v3.4M563.4 49.99h3.6M624.88 96.7v3.4M563.4 46.64h3.6M626.87 96.7v3.4M563.4 40.41h3.6M630.03 96.7v3.4M563.4 39.16h3.6M628.24 96.7v3.4M563.4 42.12h3.6M638.4 96.7v3.4M563.4 35.33h3.6M638.2 96.7v3.4M563.4 25.71h3.6M636.47 96.7v3.4M563.4 34.96h3.6M647.09 96.7v3.4M563.4 28.37h3.6M647.36 96.7v3.4M563.4 25.94h3.6M650.32 96.7v3.4M563.4 21.8h3.6M644.96 96.7v3.4M563.4 29.65h3.6M654.09 96.7v3.4M563.4 19.51h3.6M654.79 96.7v3.4M563.4 16.61h3.6M650.79 96.7v3.4M563.4 24.56h3.6M656.02 96.7v3.4M563.4 15.84h3.6M654.2 96.7v3.4M563.4 17.88h3.6M651.61 96.7v3.4M563.4 22.34h3.6M652.79 96.7v3.4M563.4 14.5h3.6M656.83 96.7v3.4M563.4 13.06h3.6M652.35 96.7v3.4M563.4 20.64h3.6M656.83 96.7v3.4M563.4 15.84h3.6M652.26 96.7v3.4M563.4 19.15h3.6M656.83 96.7v3.4M563.4 20.96h3.6M651.75 96.7v3.4M563.4 23.86h3.6M656.83 96.7v3.4M563.4 14.41h3.6M656.83 96.7v3.4M563.4 18.37h3.6"/>
<path stroke="#1d4f95" stroke-width="2.4" stroke-linecap="round" d="M567.96 94.99h0M568.34 96.94h0M571.39 91.52h0M570.16 91.03h0M574.74 90.57h0M575.38 88.55h0M580.99 84.03h0M580.28 84.23h0M577.78 87.31h0M586.08 82.96h0M582.84 80.79h0M582.44 84.65h0M590.62 73.71h0M595.93 71.88h0M590.97 75.11h0M592.45 72.65h0M597.79 69.64h0M594.46 72.82h0M597.38 67.41h0M599.71 65.89h0M598.16 68.02h0M599.13 68.53h0M599.62 70.56h0M600.52 65.59h0M605.27 62.77h0M594.36 73.69h0M605.48 59.94h0M604.3 64.65h0M607.37 62.74h0M613.17 54.7h0M614.11 53.92h0M612.87 57.66h0M607.69 61.59h0M611.08 55.44h0M607.71 61.83h0M614.03 54.55h0M612.76 56.96h0M614.45 51.7h0M617.91 53.4h0M618.22 51.28h0M617.5 52.33h0M613.26 52.65h0M619.42 49.43h0M627.68 43.69h0M623.04 45.27h0M623.65 46.78h0M633.05 39.79h0M631.88 37.05h0M629.37 37.15h0M629.68 37.67h0M630.47 41.93h0M633.54 37.68h0M634.17 37.86h0M636.65 36.68h0M638.68 30.18h0M638.83 34.58h0M631.28 40.62h0M636.25 35.11h0M635.48 35.65h0M635.05 34.75h0M632.43 37.66h0M637.15 35.4h0M651.85 21.11h0M646.53 26.15h0M652.96 18.57h0M642.95 29.77h0M648.49 27.4h0M648.27 25.74h0M647.71 22.62h0M648.12 28.01h0M647.79 27.38h0M646.08 26.04h0M651.39 23.51h0M652.06 26.5h0M654.12 19.41h0M652.27 18h0M652.31 22.22h0M655.47 18.82h0M653.12 20.63h0M652.95 19.69h0M653.79 21.75h0M656.19 18.04h0M652.01 19.24h0M651.91 20.08h0M655.76 15.76h0M652.01 18.89h0M652.55 22.04h0M651.06 21.13h0M656.09 18.11h0M655.7 17.08h0M655.66 19.19h0M658.44 15.73h0M655.09 20.3h0M658.22 18.27h0M656.25 17.57h0M658.44 12.58h0M651.05 18.89h0M653.69 22.3h0M656.45 22.21h0"/>
<path stroke="#e3232e" stroke-width="2.4" stroke-linecap="round" d="M576.24 89.88h0M573.77 90.33h0M573.81 86.95h0M579.84 85.68h0M576.36 88.33h0M578.98 86.28h0M589.26 79.58h0M587.28 80.55h0M585.7 81.69h0M594.39 73.04h0M592.34 73.14h0M595.27 74.15h0M588.83 79.83h0M587.56 77.81h0M597.64 68.3h0M595.63 72.05h0M599.05 71.31h0M598.03 72.13h0M597.83 66.2h0M601.59 66.49h0M597.75 71.06h0M600.12 65.98h0M605.88 64.55h0M605.27 63.05h0M607.44 60.55h0M610.83 56.67h0M609.62 57.33h0M613.3 59.81h0M614.71 54.42h0M612.54 56.14h0M614.58 58.19h0M616.72 51.04h0M618.56 49.37h0M614.36 52.89h0M616.52 52.3h0M612.01 53.68h0M614.36 56.77h0M618.54 49.99h0M613.85 52.96h0M624.88 46.64h0M624.23 45.88h0M626.87 40.41h0M630.03 39.16h0M633.69 37.79h0M636.67 31.18h0M628.7 42.33h0M628.24 42.12h0M628.36 42.93h0M635.72 37.02h0M637.88 36.29h0M637.26 34.31h0M638.4 35.33h0M638.14 29.03h0M634.44 36.46h0M638.2 25.71h0M636.52 35.97h0M636.47 34.96h0M634.82 38.82h0M639.54 35.09h0M649.13 25.05h0M649.98 23.28h0M647.09 28.37h0M643.97 25.7h0M647.36 25.94h0M645.27 27.88h0M647.16 25.23h0M646.91 27.12h0M647.5 26.15h0M650.32 21.8h0M644.96 29.65h0M654.09 19.51h0M654.79 16.61h0M650.79 24.56h0M656.02 15.84h0M651.31 19.18h0M654.2 17.88h0M651.61 22.34h0M655.87 17.43h0M652.13 19.39h0M650.2 22.6h0M652.79 14.5h0M648.9 23.57h0M651.22 24.8h0M656.83 13.06h0M651.86 21.4h0M652.35 20.64h0M656.83 15.84h0M652.26 19.15h0M656.83 20.96h0M656.83 18.98h0M651.75 23.86h0M656.83 14.41h0M656.25 16.83h0M656.83 18.37h0M654.35 15.39h0M652.8 19.37h0M652.09 21.72h0"/>
<line x1="567.96" y1="95.87" x2="658.44" y2="15.22" stroke="#1f4f8f" stroke-width="1.15"/>
<line x1="573.77" y1="91.3" x2="656.83" y2="16.21" stroke="#d3313b" stroke-width="1.15"/>
</svg>
<text x="567.8" y="17.7" font-size="5" fill="#3b5b8f">y = 0.986x - 10.561  <tspan font-style="italic">R</tspan><tspan font-size="3" dy="-1.6">2</tspan><tspan dy="1.6"> = 1.00</tspan></text>
<text x="567.8" y="25" font-size="5" fill="#d8404d">y = 1.000x - 10.840  <tspan font-style="italic">R</tspan><tspan font-size="3" dy="-1.6">2</tspan><tspan dy="1.6"> = 0.99</tspan></text>
<rect x="563.4" y="10.2" width="98.7" height="89.9" fill="none" stroke="#7a7a7a" stroke-width="0.85"/>
<line x1="568.5" y1="100.1" x2="568.5" y2="101.4" stroke="#666" stroke-width="0.5"/>
<text x="568.5" y="105.4" font-size="5" fill="#333" text-anchor="middle">10</text>
<line x1="595.27" y1="100.1" x2="595.27" y2="101.4" stroke="#666" stroke-width="0.5"/>
<text x="595.27" y="105.4" font-size="5" fill="#333" text-anchor="middle">15</text>
<line x1="622.03" y1="100.1" x2="622.03" y2="101.4" stroke="#666" stroke-width="0.5"/>
<text x="622.03" y="105.4" font-size="5" fill="#333" text-anchor="middle">20</text>
<line x1="648.8" y1="100.1" x2="648.8" y2="101.4" stroke="#666" stroke-width="0.5"/>
<text x="648.8" y="105.4" font-size="5" fill="#333" text-anchor="middle">25</text>
<line x1="562.1" y1="92" x2="563.4" y2="92" stroke="#666" stroke-width="0.5"/>
<text x="561.5" y="93.7" font-size="4.9" fill="#333" text-anchor="end">0</text>
<line x1="562.1" y1="67.8" x2="563.4" y2="67.8" stroke="#666" stroke-width="0.5"/>
<text x="561.5" y="69.5" font-size="4.9" fill="#333" text-anchor="end">5</text>
<line x1="562.1" y1="43.6" x2="563.4" y2="43.6" stroke="#666" stroke-width="0.5"/>
<text x="561.5" y="45.3" font-size="4.9" fill="#333" text-anchor="end">10</text>
<line x1="562.1" y1="19.4" x2="563.4" y2="19.4" stroke="#666" stroke-width="0.5"/>
<text x="561.5" y="21.1" font-size="4.9" fill="#333" text-anchor="end">15</text>
<text x="615.05" y="112.3" font-size="6.3" fill="#111" text-anchor="middle" stroke="#111" stroke-width="0.06">Log<tspan font-size="4.0" dy="1.4">2</tspan><tspan dy="-1.4"> input spike-in copies</tspan></text>
<text x="555.6" y="55.15" font-size="5.4" fill="#222" text-anchor="middle" transform="rotate(-90 555.6 55.15)" stroke="#222" stroke-width="0.03">Observed log<tspan font-size="3.7" dy="1.3">2</tspan><tspan dy="-1.3"> FPKM</tspan></text>
<rect x="213.6" y="144.1" width="101.4" height="92.9" fill="#fff"/>
<text x="264.3" y="141.5" font-size="7.9" fill="#111" text-anchor="middle" stroke="#111" stroke-width="0.12">L3_ILL_P</text>
<svg x="213.6" y="144.1" width="101.4" height="92.9" viewBox="213.6 144.1 101.4 92.9" overflow="hidden">
<polygon points="217.42,226.96 225.21,221.18 233.01,215.25 240.81,209.16 248.61,202.93 256.41,196.54 264.21,190.01 272,183.32 279.8,176.49 287.6,169.5 295.4,162.37 303.2,155.09 311,147.65 311,154.82 303.2,160.6 295.4,166.54 287.6,172.62 279.8,178.86 272,185.24 264.21,191.78 256.41,198.46 248.61,205.29 240.81,212.28 233.01,219.41 225.21,226.7 217.42,234.13" fill="#9a9a9a" fill-opacity="0.45"/>
<polygon points="218.41,226.06 225.92,220.48 233.44,214.76 240.96,208.88 248.47,202.85 255.99,196.68 263.51,190.35 271.02,183.87 278.54,177.25 286.06,170.47 293.57,163.54 301.09,156.47 308.61,149.24 308.61,156.41 301.09,161.99 293.57,167.71 286.06,173.59 278.54,179.61 271.02,185.79 263.51,192.12 255.99,198.59 248.47,205.22 240.96,212 233.44,218.92 225.92,226 218.41,233.23" fill="#9a9a9a" fill-opacity="0.45"/>
<path stroke="#1d4f95" stroke-width="0.75" stroke-opacity="0.45" d="M219.1 233.6v3.4M213.6 231.54h3.6M224.62 233.6v3.4M213.6 220.65h3.6M234.81 233.6v3.4M213.6 214.65h3.6M241.34 233.6v3.4M213.6 211.8h3.6M242.48 233.6v3.4M213.6 208.01h3.6M249.17 233.6v3.4M213.6 207.3h3.6M248.14 233.6v3.4M213.6 202.38h3.6M266.24 233.6v3.4M213.6 188.37h3.6M268.18 233.6v3.4M213.6 185.08h3.6M280.49 233.6v3.4M213.6 178.99h3.6M289.79 233.6v3.4M213.6 172.58h3.6M288.65 233.6v3.4M213.6 172.29h3.6M287.21 233.6v3.4M213.6 171.63h3.6M288.53 233.6v3.4M213.6 170.96h3.6M299.04 233.6v3.4M213.6 161.1h3.6M300.65 233.6v3.4M213.6 162.62h3.6M299 233.6v3.4M213.6 158.91h3.6M304.87 233.6v3.4M213.6 155.3h3.6M306.38 233.6v3.4M213.6 154.42h3.6M305.6 233.6v3.4M213.6 156.63h3.6M309.22 233.6v3.4M213.6 151.38h3.6M308.49 233.6v3.4M213.6 153.3h3.6"/>
<path stroke="#1d4f95" stroke-width="0.75" stroke-opacity="0.7" d="M227.62 233.6v3.4M213.6 223.43h3.6M240.49 233.6v3.4M213.6 210.45h3.6M250 233.6v3.4M213.6 201.29h3.6M249.55 233.6v3.4M213.6 204.2h3.6M266.12 233.6v3.4M213.6 192.83h3.6M267.76 233.6v3.4M213.6 187.27h3.6M270 233.6v3.4M213.6 185.75h3.6M279.31 233.6v3.4M213.6 178.8h3.6M280.73 233.6v3.4M213.6 173.2h3.6M284.85 233.6v3.4M213.6 173.87h3.6M297.77 233.6v3.4M213.6 163.74h3.6M302.07 233.6v3.4M213.6 159.54h3.6M305.54 233.6v3.4M213.6 154.31h3.6M307.45 233.6v3.4M213.6 152.64h3.6"/>
<path stroke="#1d4f95" stroke-width="0.75" stroke-opacity="1.0" d="M217.42 233.6v3.4M213.6 228.72h3.6M222.94 233.6v3.4M213.6 226.22h3.6M237.41 233.6v3.4M213.6 215.68h3.6M257.6 233.6v3.4M213.6 192.73h3.6M259.02 233.6v3.4M213.6 194.51h3.6M259.02 233.6v3.4M213.6 196.15h3.6M262.17 233.6v3.4M213.6 190.35h3.6M277.47 233.6v3.4M213.6 178.39h3.6M307.95 233.6v3.4M213.6 153.59h3.6M305.63 233.6v3.4M213.6 154.59h3.6M305.56 233.6v3.4M213.6 155.19h3.6M304.17 233.6v3.4M213.6 157.08h3.6M310.76 233.6v3.4M213.6 153.2h3.6M311 233.6v3.4M213.6 152.02h3.6"/>
<path stroke="#e3232e" stroke-width="0.75" stroke-opacity="0.45" d="M218.41 233.6v3.4M213.6 227.67h3.6M218.41 233.6v3.4M213.6 232.45h3.6M223.56 233.6v3.4M213.6 225.91h3.6M238.12 233.6v3.4M213.6 212.67h3.6M235.6 233.6v3.4M213.6 214.78h3.6M242.88 233.6v3.4M213.6 209.19h3.6M242.98 233.6v3.4M213.6 207.6h3.6M257.24 233.6v3.4M213.6 194.14h3.6M268.12 233.6v3.4M213.6 185h3.6M265.75 233.6v3.4M213.6 185.2h3.6M267.14 233.6v3.4M213.6 186.76h3.6M276.77 233.6v3.4M213.6 183.4h3.6M282.73 233.6v3.4M213.6 175.32h3.6M290.8 233.6v3.4M213.6 166.13h3.6M287.52 233.6v3.4M213.6 170.56h3.6M286.13 233.6v3.4M213.6 177.92h3.6M306.89 233.6v3.4M213.6 152.61h3.6M306.86 233.6v3.4M213.6 155.78h3.6M305.6 233.6v3.4M213.6 155.98h3.6M308.61 233.6v3.4M213.6 153.96h3.6M308.61 233.6v3.4M213.6 152.75h3.6"/>
<path stroke="#e3232e" stroke-width="0.75" stroke-opacity="0.7" d="M242.96 233.6v3.4M213.6 210.42h3.6M246.07 233.6v3.4M213.6 203.31h3.6M269.35 233.6v3.4M213.6 182.53h3.6M288.94 233.6v3.4M213.6 169.57h3.6M286.71 233.6v3.4M213.6 172.27h3.6M297.35 233.6v3.4M213.6 160.72h3.6M303.64 233.6v3.4M213.6 161.28h3.6M308.61 233.6v3.4M213.6 154.83h3.6"/>
<path stroke="#e3232e" stroke-width="0.75" stroke-opacity="1.0" d="M229.07 233.6v3.4M213.6 225.08h3.6M248.04 233.6v3.4M213.6 204.69h3.6M247.38 233.6v3.4M213.6 204.58h3.6M248.76 233.6v3.4M213.6 206.07h3.6M257.29 233.6v3.4M213.6 196.15h3.6M255.96 233.6v3.4M213.6 196.06h3.6M259.26 233.6v3.4M213.6 199.48h3.6M260.39 233.6v3.4M213.6 194.91h3.6M281.09 233.6v3.4M213.6 176.78h3.6M281.96 233.6v3.4M213.6 174.99h3.6M301.46 233.6v3.4M213.6 158.44h3.6M298.78 233.6v3.4M213.6 162.17h3.6M298.01 233.6v3.4M213.6 165.1h3.6M301.69 233.6v3.4M213.6 159.48h3.6M303.61 233.6v3.4M213.6 156.67h3.6M307.11 233.6v3.4M213.6 153.3h3.6M305.08 233.6v3.4M213.6 152.84h3.6M303.92 233.6v3.4M213.6 152.78h3.6M308.61 233.6v3.4M213.6 155.17h3.6M308.57 233.6v3.4M213.6 153.71h3.6"/>
<path stroke="#1d4f95" stroke-width="2.4" stroke-linecap="round" d="M219.1 231.54h0M217.42 228.72h0M222.94 226.22h0M224.62 220.65h0M227.62 223.43h0M237.41 215.68h0M234.81 214.65h0M241.34 211.8h0M240.49 210.45h0M242.48 208.01h0M250 201.29h0M249.17 207.3h0M248.14 202.38h0M249.55 204.2h0M257.6 192.73h0M259.02 194.51h0M259.02 196.15h0M266.12 192.83h0M262.17 190.35h0M266.24 188.37h0M268.18 185.08h0M267.76 187.27h0M270 185.75h0M277.47 178.39h0M280.49 178.99h0M279.31 178.8h0M280.73 173.2h0M289.79 172.58h0M288.65 172.29h0M284.85 173.87h0M287.21 171.63h0M288.53 170.96h0M299.04 161.1h0M297.77 163.74h0M300.65 162.62h0M299 158.91h0M302.07 159.54h0M307.95 153.59h0M305.63 154.59h0M304.87 155.3h0M306.38 154.42h0M305.54 154.31h0M305.6 156.63h0M305.56 155.19h0M304.17 157.08h0M309.22 151.38h0M308.49 153.3h0M310.76 153.2h0M307.45 152.64h0M311 152.02h0"/>
<path stroke="#e3232e" stroke-width="2.4" stroke-linecap="round" d="M218.41 227.67h0M218.41 232.45h0M223.56 225.91h0M229.07 225.08h0M238.12 212.67h0M235.6 214.78h0M242.88 209.19h0M242.98 207.6h0M242.96 210.42h0M248.04 204.69h0M247.38 204.58h0M248.76 206.07h0M246.07 203.31h0M257.29 196.15h0M255.96 196.06h0M257.24 194.14h0M259.26 199.48h0M260.39 194.91h0M268.12 185h0M269.35 182.53h0M265.75 185.2h0M267.14 186.76h0M276.77 183.4h0M281.09 176.78h0M281.96 174.99h0M282.73 175.32h0M288.94 169.57h0M286.71 172.27h0M290.8 166.13h0M287.52 170.56h0M286.13 177.92h0M301.46 158.44h0M298.78 162.17h0M297.35 160.72h0M298.01 165.1h0M301.69 159.48h0M306.89 152.61h0M303.64 161.28h0M303.61 156.67h0M306.86 155.78h0M307.11 153.3h0M305.08 152.84h0M305.6 155.98h0M303.92 152.78h0M308.61 154.83h0M308.61 153.96h0M308.61 155.17h0M308.57 153.71h0M308.61 152.75h0"/>
<line x1="217.42" y1="230.55" x2="311" y2="151.24" stroke="#1f4f8f" stroke-width="1.15"/>
<line x1="218.41" y1="229.64" x2="308.61" y2="152.83" stroke="#d3313b" stroke-width="1.15"/>
</svg>
<text x="218" y="151.6" font-size="5" fill="#3b5b8f">y = 1.038x - 13.528  <tspan font-style="italic">R</tspan><tspan font-size="3" dy="-1.6">2</tspan><tspan dy="1.6"> = 0.98</tspan></text>
<text x="218" y="158.9" font-size="5" fill="#d8404d">y = 1.043x - 13.567  <tspan font-style="italic">R</tspan><tspan font-size="3" dy="-1.6">2</tspan><tspan dy="1.6"> = 0.99</tspan></text>
<rect x="213.6" y="144.1" width="101.4" height="92.9" fill="none" stroke="#8a8a8a" stroke-width="0.85"/>
<line x1="215.4" y1="237" x2="215.4" y2="238.3" stroke="#666" stroke-width="0.5"/>
<text x="215.4" y="242.3" font-size="5" fill="#333" text-anchor="middle">10</text>
<line x1="245.47" y1="237" x2="245.47" y2="238.3" stroke="#666" stroke-width="0.5"/>
<text x="245.47" y="242.3" font-size="5" fill="#333" text-anchor="middle">15</text>
<line x1="275.53" y1="237" x2="275.53" y2="238.3" stroke="#666" stroke-width="0.5"/>
<text x="275.53" y="242.3" font-size="5" fill="#333" text-anchor="middle">20</text>
<line x1="305.6" y1="237" x2="305.6" y2="238.3" stroke="#666" stroke-width="0.5"/>
<text x="305.6" y="242.3" font-size="5" fill="#333" text-anchor="middle">25</text>
<line x1="212.3" y1="216.8" x2="213.6" y2="216.8" stroke="#666" stroke-width="0.5"/>
<text x="211.7" y="218.5" font-size="4.9" fill="#333" text-anchor="end">0</text>
<line x1="212.3" y1="192.25" x2="213.6" y2="192.25" stroke="#666" stroke-width="0.5"/>
<text x="211.7" y="193.95" font-size="4.9" fill="#333" text-anchor="end">5</text>
<line x1="212.3" y1="167.7" x2="213.6" y2="167.7" stroke="#666" stroke-width="0.5"/>
<text x="211.7" y="169.4" font-size="4.9" fill="#333" text-anchor="end">10</text>
<text x="266.6" y="249.2" font-size="6.3" fill="#111" text-anchor="middle" stroke="#111" stroke-width="0.06">Log<tspan font-size="4.0" dy="1.4">2</tspan><tspan dy="-1.4"> input spike-in copies</tspan></text>
<text x="205.8" y="190.55" font-size="5.4" fill="#222" text-anchor="middle" transform="rotate(-90 205.8 190.55)" stroke="#222" stroke-width="0.03">Observed log<tspan font-size="3.7" dy="1.3">2</tspan><tspan dy="-1.3"> FPKM</tspan></text>
<rect x="333.2" y="143.6" width="100.7" height="92.4" fill="#fff"/>
<text x="383.55" y="141" font-size="7.9" fill="#111" text-anchor="middle" stroke="#111" stroke-width="0.12">L3_ILL_R</text>
<svg x="333.2" y="143.6" width="100.7" height="92.4" viewBox="333.2 143.6 100.7 92.4" overflow="hidden">
<polygon points="338.6,225.41 346.17,219.79 353.73,214.02 361.3,208.09 368.87,202.01 376.44,195.76 384,189.36 391.57,182.8 399.14,176.08 406.71,169.2 414.27,162.16 421.84,154.97 429.41,147.61 429.41,155.18 421.84,160.79 414.27,166.56 406.71,172.49 399.14,178.58 391.57,184.82 384,191.22 376.44,197.79 368.87,204.51 361.3,211.38 353.73,218.42 346.17,225.62 338.6,232.97" fill="#9a9a9a" fill-opacity="0.45"/>
<polygon points="338.6,225.12 346.01,219.63 353.43,213.98 360.85,208.18 368.26,202.21 375.68,196.09 383.09,189.81 390.51,183.37 397.93,176.78 405.34,170.02 412.76,163.11 420.17,156.04 427.59,148.81 427.59,156.37 420.17,161.86 412.76,167.51 405.34,173.31 397.93,179.27 390.51,185.4 383.09,191.68 375.68,198.11 368.26,204.71 360.85,211.46 353.43,218.38 346.01,225.45 338.6,232.68" fill="#9a9a9a" fill-opacity="0.45"/>
<path stroke="#1d4f95" stroke-width="0.75" stroke-opacity="0.45" d="M338.6 232.6v3.4M333.2 226.06h3.6M355.22 232.6v3.4M333.2 214.04h3.6M363.86 232.6v3.4M333.2 201.15h3.6M367.28 232.6v3.4M333.2 204.88h3.6M367.97 232.6v3.4M333.2 204.79h3.6M369.88 232.6v3.4M333.2 205.71h3.6M376.6 232.6v3.4M333.2 198.79h3.6M378.37 232.6v3.4M333.2 195.23h3.6M386.46 232.6v3.4M333.2 189.25h3.6M386.67 232.6v3.4M333.2 186.87h3.6M403.52 232.6v3.4M333.2 174.15h3.6M402.4 232.6v3.4M333.2 174.4h3.6M406.42 232.6v3.4M333.2 173.44h3.6M421.22 232.6v3.4M333.2 156.48h3.6M425.12 232.6v3.4M333.2 157.37h3.6"/>
<path stroke="#1d4f95" stroke-width="0.75" stroke-opacity="0.7" d="M340.03 232.6v3.4M333.2 228.53h3.6M374.45 232.6v3.4M333.2 201.98h3.6M381.42 232.6v3.4M333.2 193.38h3.6M379.03 232.6v3.4M333.2 197.46h3.6M379 232.6v3.4M333.2 194.86h3.6M387.79 232.6v3.4M333.2 191.91h3.6M385.49 232.6v3.4M333.2 188.14h3.6M391.92 232.6v3.4M333.2 183.06h3.6M406.36 232.6v3.4M333.2 171.86h3.6M408.08 232.6v3.4M333.2 169.92h3.6M420.12 232.6v3.4M333.2 160.4h3.6M420.27 232.6v3.4M333.2 155.44h3.6M422.18 232.6v3.4M333.2 164.64h3.6M424.57 232.6v3.4M333.2 152.61h3.6M421.38 232.6v3.4M333.2 158.01h3.6M428.67 232.6v3.4M333.2 151.95h3.6M426.59 232.6v3.4M333.2 157.25h3.6M427.14 232.6v3.4M333.2 153.66h3.6M427.56 232.6v3.4M333.2 157.21h3.6M429.41 232.6v3.4M333.2 154.24h3.6"/>
<path stroke="#1d4f95" stroke-width="0.75" stroke-opacity="1.0" d="M343.52 232.6v3.4M333.2 223.85h3.6M342.38 232.6v3.4M333.2 222.99h3.6M348.63 232.6v3.4M333.2 222.3h3.6M365.98 232.6v3.4M333.2 209.05h3.6M359.78 232.6v3.4M333.2 214.61h3.6M404.54 232.6v3.4M333.2 171.16h3.6M403.81 232.6v3.4M333.2 175.46h3.6M405.66 232.6v3.4M333.2 173.27h3.6M420.3 232.6v3.4M333.2 160.43h3.6M417.85 232.6v3.4M333.2 159.92h3.6M424.92 232.6v3.4M333.2 156.32h3.6M425.19 232.6v3.4M333.2 153.59h3.6M423.56 232.6v3.4M333.2 152.11h3.6"/>
<path stroke="#e3232e" stroke-width="0.75" stroke-opacity="0.45" d="M350.7 232.6v3.4M333.2 217.61h3.6M364.04 232.6v3.4M333.2 209.14h3.6M382.88 232.6v3.4M333.2 189.62h3.6M381.05 232.6v3.4M333.2 196.08h3.6M388.24 232.6v3.4M333.2 185.34h3.6M385.53 232.6v3.4M333.2 189.99h3.6M397.23 232.6v3.4M333.2 176.61h3.6M402.98 232.6v3.4M333.2 172.11h3.6M408.13 232.6v3.4M333.2 169.42h3.6M419.05 232.6v3.4M333.2 157.54h3.6M417.87 232.6v3.4M333.2 159.21h3.6M422.23 232.6v3.4M333.2 156.05h3.6M422.68 232.6v3.4M333.2 157.87h3.6M423.57 232.6v3.4M333.2 156.37h3.6M427.59 232.6v3.4M333.2 150.81h3.6"/>
<path stroke="#e3232e" stroke-width="0.75" stroke-opacity="0.7" d="M358.52 232.6v3.4M333.2 216.14h3.6M359.33 232.6v3.4M333.2 210.39h3.6M366.63 232.6v3.4M333.2 204.5h3.6M371.74 232.6v3.4M333.2 199.83h3.6M367.97 232.6v3.4M333.2 201.46h3.6M377.92 232.6v3.4M333.2 194.9h3.6M390.19 232.6v3.4M333.2 186.12h3.6M384.93 232.6v3.4M333.2 190.87h3.6M396.26 232.6v3.4M333.2 181.69h3.6M400.37 232.6v3.4M333.2 178.13h3.6M404.19 232.6v3.4M333.2 172.93h3.6M405.01 232.6v3.4M333.2 177.55h3.6M406.64 232.6v3.4M333.2 169.07h3.6M416.6 232.6v3.4M333.2 157.88h3.6M422.68 232.6v3.4M333.2 156.52h3.6M427.59 232.6v3.4M333.2 152.64h3.6"/>
<path stroke="#e3232e" stroke-width="0.75" stroke-opacity="1.0" d="M338.6 232.6v3.4M333.2 227.22h3.6M339.51 232.6v3.4M333.2 225.21h3.6M344.51 232.6v3.4M333.2 225.3h3.6M360.72 232.6v3.4M333.2 205.74h3.6M362.51 232.6v3.4M333.2 210.11h3.6M369.58 232.6v3.4M333.2 199.81h3.6M380.16 232.6v3.4M333.2 196.43h3.6M403.76 232.6v3.4M333.2 173.46h3.6M405.98 232.6v3.4M333.2 170.9h3.6M420.32 232.6v3.4M333.2 158.84h3.6M416.8 232.6v3.4M333.2 161.26h3.6M424.63 232.6v3.4M333.2 155.05h3.6M424.96 232.6v3.4M333.2 158.11h3.6M422.51 232.6v3.4M333.2 156.12h3.6M424.27 232.6v3.4M333.2 155.46h3.6M426.98 232.6v3.4M333.2 152.31h3.6M427.59 232.6v3.4M333.2 152.99h3.6M427.59 232.6v3.4M333.2 150.05h3.6"/>
<path stroke="#1d4f95" stroke-width="2.4" stroke-linecap="round" d="M338.6 226.06h0M340.03 228.53h0M343.52 223.85h0M342.38 222.99h0M348.63 222.3h0M355.22 214.04h0M365.98 209.05h0M363.86 201.15h0M359.78 214.61h0M367.28 204.88h0M374.45 201.98h0M367.97 204.79h0M369.88 205.71h0M381.42 193.38h0M376.6 198.79h0M378.37 195.23h0M379.03 197.46h0M379 194.86h0M387.79 191.91h0M386.46 189.25h0M385.49 188.14h0M386.67 186.87h0M391.92 183.06h0M403.52 174.15h0M402.4 174.4h0M404.54 171.16h0M406.42 173.44h0M403.81 175.46h0M406.36 171.86h0M405.66 173.27h0M408.08 169.92h0M420.12 160.4h0M421.22 156.48h0M420.3 160.43h0M420.27 155.44h0M417.85 159.92h0M424.92 156.32h0M425.19 153.59h0M422.18 164.64h0M424.57 152.61h0M423.56 152.11h0M421.38 158.01h0M425.12 157.37h0M428.67 151.95h0M426.59 157.25h0M427.14 153.66h0M427.56 157.21h0M429.41 154.24h0"/>
<path stroke="#e3232e" stroke-width="2.4" stroke-linecap="round" d="M338.6 227.22h0M339.51 225.21h0M344.51 225.3h0M350.7 217.61h0M358.52 216.14h0M359.33 210.39h0M360.72 205.74h0M362.51 210.11h0M364.04 209.14h0M366.63 204.5h0M371.74 199.83h0M367.97 201.46h0M369.58 199.81h0M377.92 194.9h0M380.16 196.43h0M382.88 189.62h0M381.05 196.08h0M388.24 185.34h0M390.19 186.12h0M385.53 189.99h0M384.93 190.87h0M396.26 181.69h0M397.23 176.61h0M402.98 172.11h0M403.76 173.46h0M400.37 178.13h0M408.13 169.42h0M405.98 170.9h0M404.19 172.93h0M405.01 177.55h0M406.64 169.07h0M416.6 157.88h0M419.05 157.54h0M420.32 158.84h0M416.8 161.26h0M417.87 159.21h0M424.63 155.05h0M424.96 158.11h0M422.23 156.05h0M422.68 156.52h0M422.51 156.12h0M422.68 157.87h0M423.57 156.37h0M424.27 155.46h0M426.98 152.31h0M427.59 152.99h0M427.59 150.81h0M427.59 150.05h0M427.59 152.64h0"/>
<line x1="338.6" y1="229.19" x2="429.41" y2="151.4" stroke="#1f4f8f" stroke-width="1.15"/>
<line x1="338.6" y1="228.9" x2="427.59" y2="152.59" stroke="#d3313b" stroke-width="1.15"/>
</svg>
<text x="337.6" y="151.1" font-size="5" fill="#3b5b8f">y = 1.022x - 12.558  <tspan font-style="italic">R</tspan><tspan font-size="3" dy="-1.6">2</tspan><tspan dy="1.6"> = 0.98</tspan></text>
<text x="337.6" y="158.4" font-size="5" fill="#d8404d">y = 1.023x - 12.513  <tspan font-style="italic">R</tspan><tspan font-size="3" dy="-1.6">2</tspan><tspan dy="1.6"> = 0.99</tspan></text>
<rect x="333.2" y="143.6" width="100.7" height="92.4" fill="none" stroke="#505050" stroke-width="0.85"/>
<line x1="362.7" y1="236" x2="362.7" y2="237.3" stroke="#666" stroke-width="0.5"/>
<text x="362.7" y="241.3" font-size="5" fill="#333" text-anchor="middle">15</text>
<line x1="393.6" y1="236" x2="393.6" y2="237.3" stroke="#666" stroke-width="0.5"/>
<text x="393.6" y="241.3" font-size="5" fill="#333" text-anchor="middle">20</text>
<line x1="424.5" y1="236" x2="424.5" y2="237.3" stroke="#666" stroke-width="0.5"/>
<text x="424.5" y="241.3" font-size="5" fill="#333" text-anchor="middle">25</text>
<line x1="331.9" y1="222.9" x2="333.2" y2="222.9" stroke="#666" stroke-width="0.5"/>
<text x="331.3" y="224.6" font-size="4.9" fill="#333" text-anchor="end">0</text>
<line x1="331.9" y1="197" x2="333.2" y2="197" stroke="#666" stroke-width="0.5"/>
<text x="331.3" y="198.7" font-size="4.9" fill="#333" text-anchor="end">5</text>
<line x1="331.9" y1="171.1" x2="333.2" y2="171.1" stroke="#666" stroke-width="0.5"/>
<text x="331.3" y="172.8" font-size="4.9" fill="#333" text-anchor="end">10</text>
<line x1="331.9" y1="145.2" x2="333.2" y2="145.2" stroke="#666" stroke-width="0.5"/>
<text x="331.3" y="146.9" font-size="4.9" fill="#333" text-anchor="end">15</text>
<text x="385.85" y="248.2" font-size="6.3" fill="#111" text-anchor="middle" stroke="#111" stroke-width="0.06">Log<tspan font-size="4.0" dy="1.4">2</tspan><tspan dy="-1.4"> input spike-in copies</tspan></text>
<text x="325.4" y="189.8" font-size="5.4" fill="#222" text-anchor="middle" transform="rotate(-90 325.4 189.8)" stroke="#222" stroke-width="0.03">Observed log<tspan font-size="3.7" dy="1.3">2</tspan><tspan dy="-1.3"> FPKM</tspan></text>
<rect x="449.3" y="143" width="100" height="91.5" fill="#fff"/>
<text x="499.3" y="140.4" font-size="7.9" fill="#111" text-anchor="middle" stroke="#111" stroke-width="0.12">L3_DNB_P</text>
<svg x="449.3" y="143" width="100" height="91.5" viewBox="449.3 143 100 91.5" overflow="hidden">
<polygon points="465.05,214.95 471.68,209.91 478.31,204.72 484.94,199.39 491.57,193.91 498.2,188.29 504.83,182.51 511.45,176.59 518.08,170.53 524.71,164.31 531.34,157.95 537.97,151.44 544.6,144.79 544.6,151.81 537.97,156.85 531.34,162.03 524.71,167.37 518.08,172.85 511.45,178.47 504.83,184.24 498.2,190.16 491.57,196.23 484.94,202.45 478.31,208.81 471.68,215.31 465.05,221.97" fill="#9a9a9a" fill-opacity="0.45"/>
<polygon points="455.22,223.66 462.48,218.04 469.74,212.27 477,206.35 484.26,200.28 491.52,194.07 498.78,187.71 506.04,181.21 513.3,174.55 520.56,167.75 527.81,160.8 535.07,153.71 542.33,146.47 542.33,153.49 535.07,159.12 527.81,164.89 520.56,170.81 513.3,176.87 506.04,183.08 498.78,189.44 491.52,195.95 484.26,202.6 477,209.4 469.74,216.35 462.48,223.45 455.22,230.69" fill="#9a9a9a" fill-opacity="0.45"/>
<path stroke="#1d4f95" stroke-width="0.75" stroke-opacity="0.45" d="M479.9 231.1v3.4M449.3 205.71h3.6M483.83 231.1v3.4M449.3 203.53h3.6M500.32 231.1v3.4M449.3 187.31h3.6M502.33 231.1v3.4M449.3 184.13h3.6M500.54 231.1v3.4M449.3 183.32h3.6M533.49 231.1v3.4M449.3 160.59h3.6M531.27 231.1v3.4M449.3 160.83h3.6M531.16 231.1v3.4M449.3 160.05h3.6M540.01 231.1v3.4M449.3 151.39h3.6M539.03 231.1v3.4M449.3 154.93h3.6M541.01 231.1v3.4M449.3 150.39h3.6M544.6 231.1v3.4M449.3 146.76h3.6M543.85 231.1v3.4M449.3 146.57h3.6"/>
<path stroke="#1d4f95" stroke-width="0.75" stroke-opacity="0.7" d="M465.05 231.1v3.4M449.3 218.67h3.6M467.56 231.1v3.4M449.3 217.57h3.6M492.74 231.1v3.4M449.3 192.09h3.6M494.54 231.1v3.4M449.3 191.68h3.6M497.64 231.1v3.4M449.3 186.68h3.6M502.49 231.1v3.4M449.3 184.52h3.6M511 231.1v3.4M449.3 176.76h3.6M516.88 231.1v3.4M449.3 177.73h3.6M520.44 231.1v3.4M449.3 169.03h3.6M520.37 231.1v3.4M449.3 169.96h3.6M521.46 231.1v3.4M449.3 169.64h3.6M538.78 231.1v3.4M449.3 154.02h3.6M540 231.1v3.4M449.3 153.59h3.6M543.78 231.1v3.4M449.3 148.02h3.6"/>
<path stroke="#1d4f95" stroke-width="0.75" stroke-opacity="1.0" d="M473.06 231.1v3.4M449.3 214.82h3.6M476.21 231.1v3.4M449.3 207.72h3.6M482.99 231.1v3.4M449.3 202.52h3.6M483.57 231.1v3.4M449.3 199.81h3.6M485.16 231.1v3.4M449.3 199.87h3.6M494.66 231.1v3.4M449.3 191.43h3.6M518.37 231.1v3.4M449.3 175.83h3.6M521.26 231.1v3.4M449.3 170.11h3.6M520.36 231.1v3.4M449.3 173.25h3.6M534.37 231.1v3.4M449.3 156.96h3.6M530.91 231.1v3.4M449.3 161.53h3.6M540.45 231.1v3.4M449.3 154.88h3.6M538.41 231.1v3.4M449.3 150.35h3.6M540.3 231.1v3.4M449.3 151.01h3.6M541.49 231.1v3.4M449.3 150.91h3.6"/>
<path stroke="#e3232e" stroke-width="0.75" stroke-opacity="0.45" d="M458.56 231.1v3.4M449.3 228h3.6M482.32 231.1v3.4M449.3 203.62h3.6M481.35 231.1v3.4M449.3 206.81h3.6M490.41 231.1v3.4M449.3 195.69h3.6M492.44 231.1v3.4M449.3 195.02h3.6M499.46 231.1v3.4M449.3 189.02h3.6M503.91 231.1v3.4M449.3 182.58h3.6M500.07 231.1v3.4M449.3 186.55h3.6M509.6 231.1v3.4M449.3 179.49h3.6M516.13 231.1v3.4M449.3 173.94h3.6M523.37 231.1v3.4M449.3 166.61h3.6M521.3 231.1v3.4M449.3 172.95h3.6M534.97 231.1v3.4M449.3 157.47h3.6M538.12 231.1v3.4M449.3 153.75h3.6M536.13 231.1v3.4M449.3 154.76h3.6M542.33 231.1v3.4M449.3 149.67h3.6M542.33 231.1v3.4M449.3 149.95h3.6"/>
<path stroke="#e3232e" stroke-width="0.75" stroke-opacity="0.7" d="M470.28 231.1v3.4M449.3 215.02h3.6M477.98 231.1v3.4M449.3 206.68h3.6M477.83 231.1v3.4M449.3 208.42h3.6M483.59 231.1v3.4M449.3 201.44h3.6M496.08 231.1v3.4M449.3 187.53h3.6M501.54 231.1v3.4M449.3 184.29h3.6M503.29 231.1v3.4M449.3 186.04h3.6M522.75 231.1v3.4M449.3 166.36h3.6M519.89 231.1v3.4M449.3 172.2h3.6M538.9 231.1v3.4M449.3 153.44h3.6M542.33 231.1v3.4M449.3 151.58h3.6"/>
<path stroke="#e3232e" stroke-width="0.75" stroke-opacity="1.0" d="M455.22 231.1v3.4M449.3 224.66h3.6M458.16 231.1v3.4M449.3 221.51h3.6M465.73 231.1v3.4M449.3 220.08h3.6M464.85 231.1v3.4M449.3 219.17h3.6M477.96 231.1v3.4M449.3 205.8h3.6M484.69 231.1v3.4M449.3 202.34h3.6M494.38 231.1v3.4M449.3 187.95h3.6M514.83 231.1v3.4M449.3 174.94h3.6M515.81 231.1v3.4M449.3 172.42h3.6M524.61 231.1v3.4M449.3 170.1h3.6M537.94 231.1v3.4M449.3 154.17h3.6M535.08 231.1v3.4M449.3 155.31h3.6M534.79 231.1v3.4M449.3 154.37h3.6M539.31 231.1v3.4M449.3 154.08h3.6M542.33 231.1v3.4M449.3 151.66h3.6M539.98 231.1v3.4M449.3 152.39h3.6M540.43 231.1v3.4M449.3 148.32h3.6M540.99 231.1v3.4M449.3 149.54h3.6"/>
<path stroke="#1d4f95" stroke-width="2.4" stroke-linecap="round" d="M465.05 218.67h0M467.56 217.57h0M473.06 214.82h0M479.9 205.71h0M476.21 207.72h0M483.83 203.53h0M482.99 202.52h0M483.57 199.81h0M485.16 199.87h0M492.74 192.09h0M494.54 191.68h0M497.64 186.68h0M494.66 191.43h0M500.32 187.31h0M502.49 184.52h0M502.33 184.13h0M500.54 183.32h0M511 176.76h0M518.37 175.83h0M516.88 177.73h0M520.44 169.03h0M521.26 170.11h0M520.37 169.96h0M520.36 173.25h0M521.46 169.64h0M533.49 160.59h0M534.37 156.96h0M531.27 160.83h0M531.16 160.05h0M530.91 161.53h0M540.45 154.88h0M540.01 151.39h0M538.41 150.35h0M538.78 154.02h0M539.03 154.93h0M540 153.59h0M540.3 151.01h0M541.01 150.39h0M543.78 148.02h0M544.6 146.76h0M541.49 150.91h0M543.85 146.57h0"/>
<path stroke="#e3232e" stroke-width="2.4" stroke-linecap="round" d="M455.22 224.66h0M458.56 228h0M458.16 221.51h0M465.73 220.08h0M464.85 219.17h0M470.28 215.02h0M477.98 206.68h0M477.96 205.8h0M477.83 208.42h0M482.32 203.62h0M481.35 206.81h0M483.59 201.44h0M484.69 202.34h0M490.41 195.69h0M492.44 195.02h0M496.08 187.53h0M499.46 189.02h0M494.38 187.95h0M501.54 184.29h0M503.91 182.58h0M500.07 186.55h0M503.29 186.04h0M509.6 179.49h0M514.83 174.94h0M516.13 173.94h0M515.81 172.42h0M522.75 166.36h0M524.61 170.1h0M519.89 172.2h0M523.37 166.61h0M521.3 172.95h0M537.94 154.17h0M535.08 155.31h0M534.97 157.47h0M534.79 154.37h0M539.31 154.08h0M538.12 153.75h0M542.33 151.66h0M539.98 152.39h0M540.43 148.32h0M536.13 154.76h0M538.9 153.44h0M542.33 151.58h0M540.99 149.54h0M542.33 149.67h0M542.33 149.95h0"/>
<line x1="465.05" y1="218.46" x2="544.6" y2="148.3" stroke="#1f4f8f" stroke-width="1.15"/>
<line x1="455.22" y1="227.18" x2="542.33" y2="149.98" stroke="#d3313b" stroke-width="1.15"/>
</svg>
<text x="453.7" y="150.5" font-size="5" fill="#3b5b8f">y = 1.039x - 13.459  <tspan font-style="italic">R</tspan><tspan font-size="3" dy="-1.6">2</tspan><tspan dy="1.6"> = 0.98</tspan></text>
<text x="453.7" y="157.8" font-size="5" fill="#d8404d">y = 1.044x - 13.520  <tspan font-style="italic">R</tspan><tspan font-size="3" dy="-1.6">2</tspan><tspan dy="1.6"> = 0.99</tspan></text>
<rect x="449.3" y="143" width="100" height="91.5" fill="none" stroke="#777" stroke-width="0.85"/>
<line x1="454.5" y1="234.5" x2="454.5" y2="235.8" stroke="#666" stroke-width="0.5"/>
<text x="454.5" y="239.8" font-size="5" fill="#333" text-anchor="middle">10</text>
<line x1="482.83" y1="234.5" x2="482.83" y2="235.8" stroke="#666" stroke-width="0.5"/>
<text x="482.83" y="239.8" font-size="5" fill="#333" text-anchor="middle">15</text>
<line x1="511.17" y1="234.5" x2="511.17" y2="235.8" stroke="#666" stroke-width="0.5"/>
<text x="511.17" y="239.8" font-size="5" fill="#333" text-anchor="middle">20</text>
<line x1="539.5" y1="234.5" x2="539.5" y2="235.8" stroke="#666" stroke-width="0.5"/>
<text x="539.5" y="239.8" font-size="5" fill="#333" text-anchor="middle">25</text>
<line x1="448" y1="213" x2="449.3" y2="213" stroke="#666" stroke-width="0.5"/>
<text x="447.4" y="214.7" font-size="4.9" fill="#333" text-anchor="end">0</text>
<line x1="448" y1="188.95" x2="449.3" y2="188.95" stroke="#666" stroke-width="0.5"/>
<text x="447.4" y="190.65" font-size="4.9" fill="#333" text-anchor="end">5</text>
<line x1="448" y1="164.9" x2="449.3" y2="164.9" stroke="#666" stroke-width="0.5"/>
<text x="447.4" y="166.6" font-size="4.9" fill="#333" text-anchor="end">10</text>
<text x="501.6" y="246.7" font-size="6.3" fill="#111" text-anchor="middle" stroke="#111" stroke-width="0.06">Log<tspan font-size="4.0" dy="1.4">2</tspan><tspan dy="-1.4"> input spike-in copies</tspan></text>
<text x="441.5" y="188.75" font-size="5.4" fill="#222" text-anchor="middle" transform="rotate(-90 441.5 188.75)" stroke="#222" stroke-width="0.03">Observed log<tspan font-size="3.7" dy="1.3">2</tspan><tspan dy="-1.3"> FPKM</tspan></text>
<rect x="564.4" y="145.5" width="99.1" height="90" fill="#fff"/>
<text x="613.95" y="142.9" font-size="7.9" fill="#111" text-anchor="middle" stroke="#111" stroke-width="0.12">L3_DNB_R</text>
<svg x="564.4" y="145.5" width="99.1" height="90" viewBox="564.4 145.5 99.1 90" overflow="hidden">
<polygon points="572.89,222.18 580.08,216.81 587.27,211.27 594.45,205.57 601.64,199.71 608.82,193.68 616.01,187.49 623.2,181.14 630.38,174.63 637.57,167.96 644.75,161.12 651.94,154.12 659.12,146.96 659.12,154.72 651.94,160.09 644.75,165.63 637.57,171.33 630.38,177.19 623.2,183.22 616.01,189.41 608.82,195.76 601.64,202.27 594.45,208.94 587.27,215.78 580.08,222.78 572.89,229.94" fill="#9a9a9a" fill-opacity="0.45"/>
<polygon points="568.07,226.87 575.51,221.22 582.95,215.41 590.38,209.44 597.82,203.3 605.26,197.01 612.69,190.55 620.13,183.93 627.57,177.14 635,170.2 642.44,163.09 649.88,155.82 657.31,148.39 657.31,156.14 649.88,161.79 642.44,167.6 635,173.57 627.57,179.7 620.13,186 612.69,192.46 605.26,199.08 597.82,205.87 590.38,212.81 582.95,219.92 575.51,227.19 568.07,234.62" fill="#9a9a9a" fill-opacity="0.45"/>
<path stroke="#1d4f95" stroke-width="0.75" stroke-opacity="0.45" d="M585.42 232.1v3.4M564.4 208.92h3.6M579.05 232.1v3.4M564.4 222.38h3.6M584.77 232.1v3.4M564.4 220.4h3.6M593.4 232.1v3.4M564.4 206.12h3.6M610.27 232.1v3.4M564.4 191.9h3.6M613.66 232.1v3.4M564.4 192.37h3.6M626.85 232.1v3.4M564.4 176.07h3.6M641.13 232.1v3.4M564.4 168.67h3.6M633.89 232.1v3.4M564.4 171.52h3.6M637.15 232.1v3.4M564.4 176.14h3.6M635 232.1v3.4M564.4 173.96h3.6M652.23 232.1v3.4M564.4 154.94h3.6M659.06 232.1v3.4M564.4 151.56h3.6M654.66 232.1v3.4M564.4 155.69h3.6M653.03 232.1v3.4M564.4 156.75h3.6M653.44 232.1v3.4M564.4 156.63h3.6M659.12 232.1v3.4M564.4 151.49h3.6M656.48 232.1v3.4M564.4 152.68h3.6"/>
<path stroke="#1d4f95" stroke-width="0.75" stroke-opacity="0.7" d="M572.89 232.1v3.4M564.4 228.2h3.6M585.84 232.1v3.4M564.4 212.87h3.6M591.9 232.1v3.4M564.4 208.84h3.6M596.55 232.1v3.4M564.4 205.37h3.6M597.86 232.1v3.4M564.4 202.63h3.6M598.46 232.1v3.4M564.4 200.7h3.6M613.06 232.1v3.4M564.4 196.85h3.6M614.33 232.1v3.4M564.4 193.56h3.6M611.48 232.1v3.4M564.4 192.33h3.6M618.63 232.1v3.4M564.4 188.05h3.6M614.86 232.1v3.4M564.4 187.63h3.6M621.11 232.1v3.4M564.4 181.66h3.6M621.98 232.1v3.4M564.4 188.05h3.6M630.75 232.1v3.4M564.4 178.36h3.6M641.36 232.1v3.4M564.4 168.74h3.6M638.9 232.1v3.4M564.4 169.47h3.6M648.24 232.1v3.4M564.4 160.28h3.6M649.69 232.1v3.4M564.4 159.47h3.6M653.05 232.1v3.4M564.4 153.52h3.6M648.22 232.1v3.4M564.4 158.09h3.6M656.18 232.1v3.4M564.4 155.07h3.6M659.12 232.1v3.4M564.4 150.43h3.6M659.12 232.1v3.4M564.4 147.75h3.6"/>
<path stroke="#1d4f95" stroke-width="0.75" stroke-opacity="1.0" d="M572.89 232.1v3.4M564.4 228.98h3.6M587.48 232.1v3.4M564.4 216.04h3.6M592.51 232.1v3.4M564.4 210.17h3.6M596.3 232.1v3.4M564.4 204.56h3.6M607.26 232.1v3.4M564.4 200.31h3.6M605.69 232.1v3.4M564.4 202.11h3.6M607.47 232.1v3.4M564.4 197.15h3.6M612.15 232.1v3.4M564.4 196.56h3.6M633.63 232.1v3.4M564.4 172.89h3.6M629.35 232.1v3.4M564.4 177.97h3.6M640.75 232.1v3.4M564.4 170.32h3.6M648.88 232.1v3.4M564.4 159.17h3.6M646.34 232.1v3.4M564.4 160.86h3.6M651.06 232.1v3.4M564.4 159.13h3.6M653.41 232.1v3.4M564.4 154.81h3.6M652.42 232.1v3.4M564.4 157.52h3.6M659.12 232.1v3.4M564.4 146.87h3.6M658.8 232.1v3.4M564.4 152.31h3.6M656.69 232.1v3.4M564.4 154.54h3.6"/>
<path stroke="#e3232e" stroke-width="0.75" stroke-opacity="0.45" d="M568.07 232.1v3.4M564.4 233.24h3.6M584.63 232.1v3.4M564.4 216.96h3.6M592.4 232.1v3.4M564.4 205.81h3.6M598.07 232.1v3.4M564.4 206.87h3.6M610.12 232.1v3.4M564.4 196.37h3.6M608.93 232.1v3.4M564.4 193.64h3.6M612.25 232.1v3.4M564.4 190.38h3.6M611.4 232.1v3.4M564.4 192.24h3.6M618.77 232.1v3.4M564.4 185.6h3.6M618.22 232.1v3.4M564.4 185.28h3.6M614.76 232.1v3.4M564.4 190.72h3.6M631.43 232.1v3.4M564.4 177.37h3.6M635.49 232.1v3.4M564.4 173.26h3.6M633.4 232.1v3.4M564.4 171.5h3.6M638.43 232.1v3.4M564.4 168.65h3.6M636.91 232.1v3.4M564.4 174.79h3.6M646.52 232.1v3.4M564.4 159.18h3.6M657.31 232.1v3.4M564.4 153.36h3.6M655.07 232.1v3.4M564.4 152.44h3.6M653.78 232.1v3.4M564.4 156.35h3.6M657.31 232.1v3.4M564.4 154.09h3.6M655.58 232.1v3.4M564.4 154.53h3.6M657.2 232.1v3.4M564.4 152.44h3.6"/>
<path stroke="#e3232e" stroke-width="0.75" stroke-opacity="0.7" d="M571.79 232.1v3.4M564.4 228.05h3.6M579.93 232.1v3.4M564.4 218.21h3.6M592.32 232.1v3.4M564.4 215.28h3.6M590.6 232.1v3.4M564.4 210.45h3.6M600.4 232.1v3.4M564.4 203.79h3.6M597.36 232.1v3.4M564.4 203.11h3.6M602.81 232.1v3.4M564.4 200.39h3.6M608.86 232.1v3.4M564.4 193.88h3.6M623.14 232.1v3.4M564.4 182.67h3.6M614.74 232.1v3.4M564.4 189.24h3.6M622.66 232.1v3.4M564.4 181.81h3.6M631.85 232.1v3.4M564.4 175.76h3.6M629.66 232.1v3.4M564.4 180.65h3.6M636.7 232.1v3.4M564.4 170.3h3.6M642.29 232.1v3.4M564.4 165.7h3.6M647.9 232.1v3.4M564.4 159.52h3.6M652.74 232.1v3.4M564.4 154.41h3.6M654.1 232.1v3.4M564.4 152.79h3.6M655.18 232.1v3.4M564.4 153.7h3.6M654.79 232.1v3.4M564.4 155.73h3.6"/>
<path stroke="#e3232e" stroke-width="0.75" stroke-opacity="1.0" d="M576.09 232.1v3.4M564.4 225.77h3.6M574.49 232.1v3.4M564.4 227.04h3.6M579.35 232.1v3.4M564.4 218.67h3.6M586.99 232.1v3.4M564.4 214.36h3.6M596.48 232.1v3.4M564.4 206.46h3.6M599.34 232.1v3.4M564.4 202.03h3.6M598.72 232.1v3.4M564.4 203.22h3.6M625.93 232.1v3.4M564.4 178.28h3.6M634.97 232.1v3.4M564.4 174.85h3.6M638.84 232.1v3.4M564.4 163.95h3.6M647.49 232.1v3.4M564.4 157.37h3.6M653.85 232.1v3.4M564.4 156.47h3.6M651.05 232.1v3.4M564.4 161.1h3.6M654.66 232.1v3.4M564.4 158.63h3.6M652.37 232.1v3.4M564.4 152.09h3.6M653.39 232.1v3.4M564.4 155.99h3.6M657.31 232.1v3.4M564.4 150.44h3.6M657.31 232.1v3.4M564.4 152.61h3.6M655.52 232.1v3.4M564.4 154.98h3.6"/>
<path stroke="#1d4f95" stroke-width="2.4" stroke-linecap="round" d="M572.89 228.98h0M572.89 228.2h0M585.42 208.92h0M579.05 222.38h0M584.77 220.4h0M585.84 212.87h0M587.48 216.04h0M592.51 210.17h0M591.9 208.84h0M596.55 205.37h0M597.86 202.63h0M593.4 206.12h0M598.46 200.7h0M596.3 204.56h0M607.26 200.31h0M605.69 202.11h0M610.27 191.9h0M607.47 197.15h0M612.15 196.56h0M613.06 196.85h0M614.33 193.56h0M611.48 192.33h0M618.63 188.05h0M614.86 187.63h0M613.66 192.37h0M621.11 181.66h0M621.98 188.05h0M633.63 172.89h0M630.75 178.36h0M629.35 177.97h0M626.85 176.07h0M640.75 170.32h0M641.13 168.67h0M641.36 168.74h0M638.9 169.47h0M633.89 171.52h0M637.15 176.14h0M635 173.96h0M648.88 159.17h0M648.24 160.28h0M646.34 160.86h0M649.69 159.47h0M653.05 153.52h0M651.06 159.13h0M652.23 154.94h0M653.41 154.81h0M659.06 151.56h0M654.66 155.69h0M653.03 156.75h0M653.44 156.63h0M652.42 157.52h0M659.12 151.49h0M648.22 158.09h0M659.12 146.87h0M658.8 152.31h0M656.18 155.07h0M659.12 150.43h0M659.12 147.75h0M656.69 154.54h0M656.48 152.68h0"/>
<path stroke="#e3232e" stroke-width="2.4" stroke-linecap="round" d="M568.07 233.24h0M571.79 228.05h0M576.09 225.77h0M574.49 227.04h0M579.93 218.21h0M579.35 218.67h0M586.99 214.36h0M584.63 216.96h0M592.32 215.28h0M596.48 206.46h0M592.4 205.81h0M590.6 210.45h0M600.4 203.79h0M599.34 202.03h0M598.72 203.22h0M598.07 206.87h0M597.36 203.11h0M602.81 200.39h0M608.86 193.88h0M610.12 196.37h0M608.93 193.64h0M612.25 190.38h0M611.4 192.24h0M623.14 182.67h0M618.77 185.6h0M618.22 185.28h0M614.76 190.72h0M614.74 189.24h0M625.93 178.28h0M622.66 181.81h0M631.43 177.37h0M631.85 175.76h0M629.66 180.65h0M635.49 173.26h0M634.97 174.85h0M633.4 171.5h0M636.7 170.3h0M638.84 163.95h0M638.43 168.65h0M636.91 174.79h0M642.29 165.7h0M647.9 159.52h0M647.49 157.37h0M646.52 159.18h0M652.74 154.41h0M653.85 156.47h0M657.31 153.36h0M654.1 152.79h0M655.07 152.44h0M653.78 156.35h0M651.05 161.1h0M655.18 153.7h0M654.66 158.63h0M652.37 152.09h0M653.39 155.99h0M657.31 150.44h0M657.31 152.61h0M657.31 154.09h0M655.52 154.98h0M655.58 154.53h0M654.79 155.73h0M657.2 152.44h0"/>
<line x1="572.89" y1="226.06" x2="659.12" y2="150.84" stroke="#1f4f8f" stroke-width="1.15"/>
<line x1="568.07" y1="230.74" x2="657.31" y2="152.26" stroke="#d3313b" stroke-width="1.15"/>
</svg>
<text x="568.8" y="153" font-size="5" fill="#3b5b8f">y = 0.990x - 11.547  <tspan font-style="italic">R</tspan><tspan font-size="3" dy="-1.6">2</tspan><tspan dy="1.6"> = 0.98</tspan></text>
<text x="568.8" y="160.3" font-size="5" fill="#d8404d">y = 0.998x - 11.722  <tspan font-style="italic">R</tspan><tspan font-size="3" dy="-1.6">2</tspan><tspan dy="1.6"> = 0.98</tspan></text>
<rect x="564.4" y="145.5" width="99.1" height="90" fill="none" stroke="#555" stroke-width="0.85"/>
<line x1="594" y1="235.5" x2="594" y2="236.8" stroke="#666" stroke-width="0.5"/>
<text x="594" y="240.8" font-size="5" fill="#333" text-anchor="middle">15</text>
<line x1="624.15" y1="235.5" x2="624.15" y2="236.8" stroke="#666" stroke-width="0.5"/>
<text x="624.15" y="240.8" font-size="5" fill="#333" text-anchor="middle">20</text>
<line x1="654.3" y1="235.5" x2="654.3" y2="236.8" stroke="#666" stroke-width="0.5"/>
<text x="654.3" y="240.8" font-size="5" fill="#333" text-anchor="middle">25</text>
<line x1="563.1" y1="225.2" x2="564.4" y2="225.2" stroke="#666" stroke-width="0.5"/>
<text x="562.5" y="226.9" font-size="4.9" fill="#333" text-anchor="end">0</text>
<line x1="563.1" y1="198.63" x2="564.4" y2="198.63" stroke="#666" stroke-width="0.5"/>
<text x="562.5" y="200.33" font-size="4.9" fill="#333" text-anchor="end">5</text>
<line x1="563.1" y1="172.07" x2="564.4" y2="172.07" stroke="#666" stroke-width="0.5"/>
<text x="562.5" y="173.77" font-size="4.9" fill="#333" text-anchor="end">10</text>
<line x1="563.1" y1="145.5" x2="564.4" y2="145.5" stroke="#666" stroke-width="0.5"/>
<text x="562.5" y="147.2" font-size="4.9" fill="#333" text-anchor="end">15</text>
<text x="616.25" y="247.7" font-size="6.3" fill="#111" text-anchor="middle" stroke="#111" stroke-width="0.06">Log<tspan font-size="4.0" dy="1.4">2</tspan><tspan dy="-1.4"> input spike-in copies</tspan></text>
<text x="556.6" y="190.5" font-size="5.4" fill="#222" text-anchor="middle" transform="rotate(-90 556.6 190.5)" stroke="#222" stroke-width="0.03">Observed log<tspan font-size="3.7" dy="1.3">2</tspan><tspan dy="-1.3"> FPKM</tspan></text>
<text x="663.9" y="48.6" font-size="5.4" fill="#222" stroke="#222" stroke-width="0.03">group</text>
<circle cx="667.5" cy="54.9" r="1.25" fill="#1d4f95"/>
<circle cx="667.5" cy="61.6" r="1.25" fill="#e3232e"/>
<text x="671.5" y="55.9" font-size="5.1" fill="#222">Mix1</text>
<text x="671.5" y="63.6" font-size="5.1" fill="#222">Mix2</text>
<text x="665.4" y="183.6" font-size="5.4" fill="#222" stroke="#222" stroke-width="0.03">group</text>
<circle cx="669" cy="189.9" r="1.25" fill="#1d4f95"/>
<circle cx="669" cy="196.6" r="1.25" fill="#e3232e"/>
<text x="673" y="190.9" font-size="5.1" fill="#222">Mix1</text>
<text x="673" y="198.6" font-size="5.1" fill="#222">Mix2</text>
<text x="4.3" y="280.8" font-size="14.5" fill="#231815" font-weight="bold">c</text>
<text x="147.9" y="285.6" font-size="5.1" fill="#222" text-anchor="middle">Mix1 Ratio Heatmap (correction_copy numbers / reference_copy numbers)</text>
<rect x="22.9" y="287.9" width="250" height="230.8" fill="#d9e3f0"/>
<path fill="#d2d8e1" d="M202.9 500.24h9.38v1.76h-9.38z"/>
<path fill="#ccd4e0" d="M192.9 497.93h9.38v1.76h-9.38zM242.9 497.93h9.38v1.76h-9.38zM262.9 497.93h9.38v1.76h-9.38z"/>
<path fill="#c2cddd" d="M102.9 440.23h9.38v1.76h-9.38zM72.9 497.93h9.38v1.76h-9.38zM82.9 497.93h9.38v1.76h-9.38zM182.9 497.93h9.38v1.76h-9.38zM252.9 497.93h9.38v1.76h-9.38z"/>
<path fill="#b8c6da" d="M202.9 497.93h9.38v1.76h-9.38z"/>
<path fill="#b2c3d8" d="M52.9 491h9.38v1.76h-9.38z"/>
<path fill="#adbfd7" d="M42.9 491h9.38v1.76h-9.38zM212.9 497.93h9.38v1.76h-9.38zM72.9 500.24h9.38v1.76h-9.38zM82.9 500.24h9.38v1.76h-9.38zM242.9 500.24h9.38v1.76h-9.38zM262.9 500.24h9.38v1.76h-9.38z"/>
<path fill="#a8bcd6" d="M62.9 497.93h9.38v1.76h-9.38zM152.9 497.93h9.38v1.76h-9.38zM32.9 500.24h9.38v1.76h-9.38zM152.9 500.24h9.38v1.76h-9.38zM252.9 500.24h9.38v1.76h-9.38z"/>
<path fill="#a4bad5" d="M172.9 497.93h9.38v1.76h-9.38z"/>
<path fill="#a1b7d4" d="M92.9 387.14h9.38v1.76h-9.38zM92.9 440.23h9.38v1.76h-9.38zM102.9 461h9.38v1.76h-9.38zM102.9 491h9.38v1.76h-9.38zM112.9 491h9.38v1.76h-9.38zM222.9 497.93h9.38v1.76h-9.38zM232.9 497.93h9.38v1.76h-9.38z"/>
<path fill="#9db4d3" d="M92.9 338.68h9.38v1.76h-9.38zM102.9 338.68h9.38v1.76h-9.38zM102.9 387.14h9.38v1.76h-9.38zM112.9 387.14h9.38v1.76h-9.38zM242.9 461h9.38v1.76h-9.38zM162.9 497.93h9.38v1.76h-9.38z"/>
<path fill="#99b2d2" d="M102.9 299.44h9.38v1.76h-9.38zM212.9 310.98h9.38v1.76h-9.38zM52.9 387.14h9.38v1.76h-9.38zM122.9 426.38h9.38v1.76h-9.38zM112.9 461h9.38v1.76h-9.38zM32.9 497.93h9.38v1.76h-9.38z"/>
<path fill="#95b0d1" d="M42.9 306.36h9.38v1.76h-9.38zM172.9 313.29h9.38v1.76h-9.38zM72.9 336.37h9.38v1.76h-9.38zM32.9 352.52h9.38v1.76h-9.38zM162.9 384.84h9.38v1.76h-9.38zM42.9 387.14h9.38v1.76h-9.38zM202.9 426.38h9.38v1.76h-9.38zM92.9 433.3h9.38v1.76h-9.38zM92.9 461h9.38v1.76h-9.38zM252.9 461h9.38v1.76h-9.38zM262.9 461h9.38v1.76h-9.38z"/>
<path fill="#91add0" d="M102.9 297.13h9.38v1.76h-9.38zM32.9 299.44h9.38v1.76h-9.38zM92.9 299.44h9.38v1.76h-9.38zM112.9 299.44h9.38v1.76h-9.38zM112.9 306.36h9.38v1.76h-9.38zM142.9 306.36h9.38v1.76h-9.38zM232.9 306.36h9.38v1.76h-9.38zM152.9 313.29h9.38v1.76h-9.38zM32.9 320.21h9.38v1.76h-9.38zM122.9 320.21h9.38v1.76h-9.38zM132.9 334.06h9.38v1.76h-9.38zM252.9 334.06h9.38v1.76h-9.38zM52.9 336.37h9.38v1.76h-9.38zM92.9 336.37h9.38v1.76h-9.38zM102.9 336.37h9.38v1.76h-9.38zM62.9 350.22h9.38v1.76h-9.38zM102.9 382.53h9.38v1.76h-9.38zM62.9 384.84h9.38v1.76h-9.38zM82.9 384.84h9.38v1.76h-9.38zM32.9 387.14h9.38v1.76h-9.38zM102.9 433.3h9.38v1.76h-9.38zM112.9 433.3h9.38v1.76h-9.38zM122.9 442.54h9.38v1.76h-9.38zM62.9 447.15h9.38v1.76h-9.38zM212.9 486.39h9.38v1.76h-9.38zM222.9 486.39h9.38v1.76h-9.38zM262.9 486.39h9.38v1.76h-9.38zM42.9 502.54h9.38v1.76h-9.38z"/>
<path fill="#8daacf" d="M62.9 297.13h9.38v1.76h-9.38zM82.9 297.13h9.38v1.76h-9.38zM162.9 299.44h9.38v1.76h-9.38zM202.9 299.44h9.38v1.76h-9.38zM62.9 306.36h9.38v1.76h-9.38zM82.9 306.36h9.38v1.76h-9.38zM212.9 306.36h9.38v1.76h-9.38zM262.9 306.36h9.38v1.76h-9.38zM222.9 310.98h9.38v1.76h-9.38zM142.9 313.29h9.38v1.76h-9.38zM162.9 313.29h9.38v1.76h-9.38zM142.9 320.21h9.38v1.76h-9.38zM122.9 334.06h9.38v1.76h-9.38zM62.9 336.37h9.38v1.76h-9.38zM112.9 336.37h9.38v1.76h-9.38zM112.9 338.68h9.38v1.76h-9.38zM92.9 366.37h9.38v1.76h-9.38zM132.9 368.68h9.38v1.76h-9.38zM222.9 375.6h9.38v1.76h-9.38zM232.9 375.6h9.38v1.76h-9.38zM252.9 375.6h9.38v1.76h-9.38zM72.9 384.84h9.38v1.76h-9.38zM152.9 384.84h9.38v1.76h-9.38zM192.9 384.84h9.38v1.76h-9.38zM222.9 384.84h9.38v1.76h-9.38zM232.9 384.84h9.38v1.76h-9.38zM132.9 389.45h9.38v1.76h-9.38zM32.9 419.46h9.38v1.76h-9.38zM42.9 419.46h9.38v1.76h-9.38zM52.9 419.46h9.38v1.76h-9.38zM162.9 426.38h9.38v1.76h-9.38zM162.9 433.3h9.38v1.76h-9.38zM172.9 433.3h9.38v1.76h-9.38zM232.9 433.3h9.38v1.76h-9.38zM42.9 442.54h9.38v1.76h-9.38zM72.9 442.54h9.38v1.76h-9.38zM242.9 442.54h9.38v1.76h-9.38zM252.9 442.54h9.38v1.76h-9.38zM262.9 442.54h9.38v1.76h-9.38zM32.9 456.38h9.38v1.76h-9.38zM72.9 458.69h9.38v1.76h-9.38zM212.9 458.69h9.38v1.76h-9.38zM62.9 461h9.38v1.76h-9.38zM172.9 461h9.38v1.76h-9.38zM192.9 461h9.38v1.76h-9.38zM222.9 461h9.38v1.76h-9.38zM232.9 461h9.38v1.76h-9.38zM242.9 463.31h9.38v1.76h-9.38zM252.9 472.54h9.38v1.76h-9.38zM182.9 486.39h9.38v1.76h-9.38zM232.9 486.39h9.38v1.76h-9.38zM252.9 486.39h9.38v1.76h-9.38zM32.9 502.54h9.38v1.76h-9.38zM52.9 502.54h9.38v1.76h-9.38zM182.9 516.39h9.38v1.76h-9.38z"/>
<path fill="#89a8ce" d="M262.9 287.9h9.38v1.76h-9.38zM72.9 297.13h9.38v1.76h-9.38zM232.9 297.13h9.38v1.76h-9.38zM62.9 299.44h9.38v1.76h-9.38zM122.9 299.44h9.38v1.76h-9.38zM152.9 299.44h9.38v1.76h-9.38zM122.9 306.36h9.38v1.76h-9.38zM132.9 306.36h9.38v1.76h-9.38zM202.9 306.36h9.38v1.76h-9.38zM132.9 308.67h9.38v1.76h-9.38zM152.9 310.98h9.38v1.76h-9.38zM162.9 310.98h9.38v1.76h-9.38zM172.9 310.98h9.38v1.76h-9.38zM232.9 310.98h9.38v1.76h-9.38zM252.9 310.98h9.38v1.76h-9.38zM22.9 313.29h9.38v1.76h-9.38zM112.9 315.6h9.38v1.76h-9.38zM42.9 320.21h9.38v1.76h-9.38zM52.9 320.21h9.38v1.76h-9.38zM132.9 320.21h9.38v1.76h-9.38zM232.9 320.21h9.38v1.76h-9.38zM32.9 336.37h9.38v1.76h-9.38zM42.9 336.37h9.38v1.76h-9.38zM82.9 336.37h9.38v1.76h-9.38zM152.9 336.37h9.38v1.76h-9.38zM22.9 347.91h9.38v1.76h-9.38zM192.9 354.83h9.38v1.76h-9.38zM22.9 357.14h9.38v1.76h-9.38zM222.9 359.45h9.38v1.76h-9.38zM252.9 359.45h9.38v1.76h-9.38zM22.9 364.06h9.38v1.76h-9.38zM42.9 364.06h9.38v1.76h-9.38zM52.9 364.06h9.38v1.76h-9.38zM102.9 366.37h9.38v1.76h-9.38zM112.9 366.37h9.38v1.76h-9.38zM182.9 366.37h9.38v1.76h-9.38zM242.9 375.6h9.38v1.76h-9.38zM172.9 384.84h9.38v1.76h-9.38zM182.9 384.84h9.38v1.76h-9.38zM212.9 384.84h9.38v1.76h-9.38zM22.9 387.14h9.38v1.76h-9.38zM122.9 389.45h9.38v1.76h-9.38zM142.9 389.45h9.38v1.76h-9.38zM212.9 389.45h9.38v1.76h-9.38zM252.9 389.45h9.38v1.76h-9.38zM162.9 391.76h9.38v1.76h-9.38zM22.9 394.07h9.38v1.76h-9.38zM202.9 394.07h9.38v1.76h-9.38zM22.9 398.68h9.38v1.76h-9.38zM22.9 424.07h9.38v1.76h-9.38zM142.9 426.38h9.38v1.76h-9.38zM172.9 426.38h9.38v1.76h-9.38zM212.9 433.3h9.38v1.76h-9.38zM62.9 442.54h9.38v1.76h-9.38zM132.9 442.54h9.38v1.76h-9.38zM52.9 447.15h9.38v1.76h-9.38zM72.9 447.15h9.38v1.76h-9.38zM92.9 447.15h9.38v1.76h-9.38zM102.9 447.15h9.38v1.76h-9.38zM122.9 447.15h9.38v1.76h-9.38zM152.9 447.15h9.38v1.76h-9.38zM182.9 447.15h9.38v1.76h-9.38zM192.9 454.08h9.38v1.76h-9.38zM32.9 458.69h9.38v1.76h-9.38zM52.9 458.69h9.38v1.76h-9.38zM62.9 458.69h9.38v1.76h-9.38zM82.9 458.69h9.38v1.76h-9.38zM142.9 458.69h9.38v1.76h-9.38zM242.9 458.69h9.38v1.76h-9.38zM262.9 458.69h9.38v1.76h-9.38zM122.9 461h9.38v1.76h-9.38zM202.9 461h9.38v1.76h-9.38zM52.9 463.31h9.38v1.76h-9.38zM182.9 465.62h9.38v1.76h-9.38zM202.9 465.62h9.38v1.76h-9.38zM92.9 467.92h9.38v1.76h-9.38zM202.9 467.92h9.38v1.76h-9.38zM22.9 472.54h9.38v1.76h-9.38zM22.9 477.16h9.38v1.76h-9.38zM162.9 477.16h9.38v1.76h-9.38zM262.9 477.16h9.38v1.76h-9.38zM22.9 484.08h9.38v1.76h-9.38zM52.9 486.39h9.38v1.76h-9.38zM202.9 486.39h9.38v1.76h-9.38zM22.9 495.62h9.38v1.76h-9.38zM22.9 511.78h9.38v1.76h-9.38zM42.9 516.39h9.38v1.76h-9.38zM52.9 516.39h9.38v1.76h-9.38zM62.9 516.39h9.38v1.76h-9.38zM142.9 516.39h9.38v1.76h-9.38zM192.9 516.39h9.38v1.76h-9.38z"/>
<path fill="#85a6ce" d="M212.9 287.9h9.38v1.76h-9.38zM32.9 290.21h9.38v1.76h-9.38zM22.9 294.82h9.38v1.76h-9.38zM62.9 294.82h9.38v1.76h-9.38zM72.9 294.82h9.38v1.76h-9.38zM22.9 299.44h9.38v1.76h-9.38zM72.9 299.44h9.38v1.76h-9.38zM142.9 299.44h9.38v1.76h-9.38zM252.9 299.44h9.38v1.76h-9.38zM32.9 306.36h9.38v1.76h-9.38zM52.9 306.36h9.38v1.76h-9.38zM72.9 306.36h9.38v1.76h-9.38zM102.9 306.36h9.38v1.76h-9.38zM172.9 306.36h9.38v1.76h-9.38zM222.9 306.36h9.38v1.76h-9.38zM242.9 306.36h9.38v1.76h-9.38zM22.9 308.67h9.38v1.76h-9.38zM62.9 308.67h9.38v1.76h-9.38zM242.9 310.98h9.38v1.76h-9.38zM262.9 310.98h9.38v1.76h-9.38zM32.9 313.29h9.38v1.76h-9.38zM62.9 313.29h9.38v1.76h-9.38zM242.9 313.29h9.38v1.76h-9.38zM92.9 315.6h9.38v1.76h-9.38zM92.9 320.21h9.38v1.76h-9.38zM172.9 320.21h9.38v1.76h-9.38zM192.9 320.21h9.38v1.76h-9.38zM22.9 322.52h9.38v1.76h-9.38zM22.9 324.83h9.38v1.76h-9.38zM42.9 327.14h9.38v1.76h-9.38zM22.9 338.68h9.38v1.76h-9.38zM82.9 350.22h9.38v1.76h-9.38zM172.9 350.22h9.38v1.76h-9.38zM252.9 350.22h9.38v1.76h-9.38zM22.9 352.52h9.38v1.76h-9.38zM182.9 354.83h9.38v1.76h-9.38zM202.9 354.83h9.38v1.76h-9.38zM52.9 357.14h9.38v1.76h-9.38zM232.9 359.45h9.38v1.76h-9.38zM32.9 361.76h9.38v1.76h-9.38zM42.9 361.76h9.38v1.76h-9.38zM32.9 364.06h9.38v1.76h-9.38zM102.9 368.68h9.38v1.76h-9.38zM22.9 375.6h9.38v1.76h-9.38zM182.9 375.6h9.38v1.76h-9.38zM192.9 375.6h9.38v1.76h-9.38zM202.9 375.6h9.38v1.76h-9.38zM212.9 375.6h9.38v1.76h-9.38zM22.9 377.91h9.38v1.76h-9.38zM132.9 380.22h9.38v1.76h-9.38zM22.9 382.53h9.38v1.76h-9.38zM22.9 384.84h9.38v1.76h-9.38zM102.9 384.84h9.38v1.76h-9.38zM202.9 384.84h9.38v1.76h-9.38zM72.9 387.14h9.38v1.76h-9.38zM82.9 389.45h9.38v1.76h-9.38zM262.9 389.45h9.38v1.76h-9.38zM132.9 391.76h9.38v1.76h-9.38zM152.9 391.76h9.38v1.76h-9.38zM172.9 391.76h9.38v1.76h-9.38zM42.9 394.07h9.38v1.76h-9.38zM182.9 394.07h9.38v1.76h-9.38zM202.9 398.68h9.38v1.76h-9.38zM92.9 403.3h9.38v1.76h-9.38zM102.9 403.3h9.38v1.76h-9.38zM32.9 405.61h9.38v1.76h-9.38zM22.9 410.22h9.38v1.76h-9.38zM122.9 412.53h9.38v1.76h-9.38zM22.9 419.46h9.38v1.76h-9.38zM242.9 419.46h9.38v1.76h-9.38zM252.9 419.46h9.38v1.76h-9.38zM262.9 419.46h9.38v1.76h-9.38zM22.9 421.76h9.38v1.76h-9.38zM202.9 424.07h9.38v1.76h-9.38zM42.9 426.38h9.38v1.76h-9.38zM52.9 426.38h9.38v1.76h-9.38zM92.9 426.38h9.38v1.76h-9.38zM132.9 426.38h9.38v1.76h-9.38zM152.9 426.38h9.38v1.76h-9.38zM192.9 426.38h9.38v1.76h-9.38zM222.9 426.38h9.38v1.76h-9.38zM22.9 428.69h9.38v1.76h-9.38zM22.9 431h9.38v1.76h-9.38zM102.9 431h9.38v1.76h-9.38zM32.9 433.3h9.38v1.76h-9.38zM42.9 433.3h9.38v1.76h-9.38zM52.9 433.3h9.38v1.76h-9.38zM132.9 433.3h9.38v1.76h-9.38zM202.9 433.3h9.38v1.76h-9.38zM222.9 433.3h9.38v1.76h-9.38zM162.9 440.23h9.38v1.76h-9.38zM22.9 442.54h9.38v1.76h-9.38zM52.9 442.54h9.38v1.76h-9.38zM142.9 442.54h9.38v1.76h-9.38zM162.9 442.54h9.38v1.76h-9.38zM232.9 442.54h9.38v1.76h-9.38zM22.9 444.84h9.38v1.76h-9.38zM262.9 444.84h9.38v1.76h-9.38zM32.9 447.15h9.38v1.76h-9.38zM82.9 447.15h9.38v1.76h-9.38zM112.9 447.15h9.38v1.76h-9.38zM162.9 447.15h9.38v1.76h-9.38zM192.9 447.15h9.38v1.76h-9.38zM22.9 449.46h9.38v1.76h-9.38zM22.9 451.77h9.38v1.76h-9.38zM22.9 454.08h9.38v1.76h-9.38zM42.9 454.08h9.38v1.76h-9.38zM182.9 454.08h9.38v1.76h-9.38zM202.9 454.08h9.38v1.76h-9.38zM42.9 458.69h9.38v1.76h-9.38zM122.9 458.69h9.38v1.76h-9.38zM222.9 458.69h9.38v1.76h-9.38zM22.9 461h9.38v1.76h-9.38zM52.9 461h9.38v1.76h-9.38zM72.9 461h9.38v1.76h-9.38zM82.9 461h9.38v1.76h-9.38zM152.9 461h9.38v1.76h-9.38zM212.9 461h9.38v1.76h-9.38zM22.9 463.31h9.38v1.76h-9.38zM32.9 463.31h9.38v1.76h-9.38zM192.9 465.62h9.38v1.76h-9.38zM22.9 467.92h9.38v1.76h-9.38zM112.9 467.92h9.38v1.76h-9.38zM182.9 467.92h9.38v1.76h-9.38zM232.9 467.92h9.38v1.76h-9.38zM22.9 470.23h9.38v1.76h-9.38zM32.9 472.54h9.38v1.76h-9.38zM192.9 472.54h9.38v1.76h-9.38zM132.9 477.16h9.38v1.76h-9.38zM172.9 477.16h9.38v1.76h-9.38zM62.9 479.46h9.38v1.76h-9.38zM222.9 484.08h9.38v1.76h-9.38zM42.9 486.39h9.38v1.76h-9.38zM122.9 488.7h9.38v1.76h-9.38zM152.9 488.7h9.38v1.76h-9.38zM222.9 488.7h9.38v1.76h-9.38zM232.9 488.7h9.38v1.76h-9.38zM22.9 491h9.38v1.76h-9.38zM22.9 493.31h9.38v1.76h-9.38zM162.9 493.31h9.38v1.76h-9.38zM202.9 493.31h9.38v1.76h-9.38zM22.9 497.93h9.38v1.76h-9.38zM122.9 502.54h9.38v1.76h-9.38zM192.9 502.54h9.38v1.76h-9.38zM22.9 504.85h9.38v1.76h-9.38zM122.9 504.85h9.38v1.76h-9.38zM22.9 514.08h9.38v1.76h-9.38zM32.9 516.39h9.38v1.76h-9.38zM122.9 516.39h9.38v1.76h-9.38zM222.9 516.39h9.38v1.76h-9.38z"/>
<path fill="#81a3cd" d="M22.9 287.9h9.38v1.76h-9.38zM42.9 287.9h9.38v1.76h-9.38zM82.9 287.9h9.38v1.76h-9.38zM222.9 287.9h9.38v1.76h-9.38zM232.9 287.9h9.38v1.76h-9.38zM242.9 287.9h9.38v1.76h-9.38zM252.9 287.9h9.38v1.76h-9.38zM212.9 290.21h9.38v1.76h-9.38zM22.9 292.52h9.38v1.76h-9.38zM182.9 294.82h9.38v1.76h-9.38zM22.9 297.13h9.38v1.76h-9.38zM92.9 297.13h9.38v1.76h-9.38zM112.9 297.13h9.38v1.76h-9.38zM182.9 297.13h9.38v1.76h-9.38zM42.9 299.44h9.38v1.76h-9.38zM82.9 299.44h9.38v1.76h-9.38zM182.9 299.44h9.38v1.76h-9.38zM222.9 299.44h9.38v1.76h-9.38zM22.9 304.06h9.38v1.76h-9.38zM22.9 306.36h9.38v1.76h-9.38zM92.9 306.36h9.38v1.76h-9.38zM152.9 306.36h9.38v1.76h-9.38zM182.9 306.36h9.38v1.76h-9.38zM252.9 306.36h9.38v1.76h-9.38zM242.9 308.67h9.38v1.76h-9.38zM22.9 310.98h9.38v1.76h-9.38zM132.9 310.98h9.38v1.76h-9.38zM142.9 310.98h9.38v1.76h-9.38zM182.9 310.98h9.38v1.76h-9.38zM202.9 310.98h9.38v1.76h-9.38zM82.9 313.29h9.38v1.76h-9.38zM122.9 313.29h9.38v1.76h-9.38zM132.9 313.29h9.38v1.76h-9.38zM182.9 313.29h9.38v1.76h-9.38zM192.9 313.29h9.38v1.76h-9.38zM202.9 313.29h9.38v1.76h-9.38zM252.9 313.29h9.38v1.76h-9.38zM102.9 315.6h9.38v1.76h-9.38zM132.9 315.6h9.38v1.76h-9.38zM252.9 315.6h9.38v1.76h-9.38zM22.9 317.9h9.38v1.76h-9.38zM22.9 320.21h9.38v1.76h-9.38zM82.9 320.21h9.38v1.76h-9.38zM102.9 320.21h9.38v1.76h-9.38zM112.9 320.21h9.38v1.76h-9.38zM152.9 320.21h9.38v1.76h-9.38zM242.9 320.21h9.38v1.76h-9.38zM22.9 327.14h9.38v1.76h-9.38zM252.9 327.14h9.38v1.76h-9.38zM22.9 331.75h9.38v1.76h-9.38zM22.9 334.06h9.38v1.76h-9.38zM32.9 334.06h9.38v1.76h-9.38zM62.9 334.06h9.38v1.76h-9.38zM82.9 334.06h9.38v1.76h-9.38zM142.9 334.06h9.38v1.76h-9.38zM22.9 336.37h9.38v1.76h-9.38zM122.9 336.37h9.38v1.76h-9.38zM22.9 343.29h9.38v1.76h-9.38zM222.9 345.6h9.38v1.76h-9.38zM22.9 350.22h9.38v1.76h-9.38zM52.9 350.22h9.38v1.76h-9.38zM152.9 350.22h9.38v1.76h-9.38zM162.9 350.22h9.38v1.76h-9.38zM192.9 350.22h9.38v1.76h-9.38zM242.9 350.22h9.38v1.76h-9.38zM262.9 350.22h9.38v1.76h-9.38zM32.9 357.14h9.38v1.76h-9.38zM22.9 359.45h9.38v1.76h-9.38zM32.9 359.45h9.38v1.76h-9.38zM42.9 359.45h9.38v1.76h-9.38zM52.9 359.45h9.38v1.76h-9.38zM72.9 359.45h9.38v1.76h-9.38zM82.9 359.45h9.38v1.76h-9.38zM212.9 359.45h9.38v1.76h-9.38zM262.9 359.45h9.38v1.76h-9.38zM22.9 361.76h9.38v1.76h-9.38zM52.9 361.76h9.38v1.76h-9.38zM192.9 361.76h9.38v1.76h-9.38zM192.9 366.37h9.38v1.76h-9.38zM202.9 366.37h9.38v1.76h-9.38zM22.9 368.68h9.38v1.76h-9.38zM42.9 368.68h9.38v1.76h-9.38zM122.9 368.68h9.38v1.76h-9.38zM142.9 368.68h9.38v1.76h-9.38zM242.9 368.68h9.38v1.76h-9.38zM22.9 370.99h9.38v1.76h-9.38zM52.9 375.6h9.38v1.76h-9.38zM172.9 375.6h9.38v1.76h-9.38zM72.9 377.91h9.38v1.76h-9.38zM52.9 380.22h9.38v1.76h-9.38zM142.9 380.22h9.38v1.76h-9.38zM212.9 380.22h9.38v1.76h-9.38zM222.9 380.22h9.38v1.76h-9.38zM122.9 384.84h9.38v1.76h-9.38zM242.9 384.84h9.38v1.76h-9.38zM252.9 384.84h9.38v1.76h-9.38zM192.9 387.14h9.38v1.76h-9.38zM52.9 389.45h9.38v1.76h-9.38zM72.9 389.45h9.38v1.76h-9.38zM92.9 389.45h9.38v1.76h-9.38zM112.9 389.45h9.38v1.76h-9.38zM152.9 389.45h9.38v1.76h-9.38zM222.9 389.45h9.38v1.76h-9.38zM232.9 389.45h9.38v1.76h-9.38zM22.9 391.76h9.38v1.76h-9.38zM122.9 391.76h9.38v1.76h-9.38zM142.9 391.76h9.38v1.76h-9.38zM192.9 394.07h9.38v1.76h-9.38zM22.9 400.99h9.38v1.76h-9.38zM72.9 403.3h9.38v1.76h-9.38zM112.9 403.3h9.38v1.76h-9.38zM232.9 403.3h9.38v1.76h-9.38zM252.9 403.3h9.38v1.76h-9.38zM22.9 405.61h9.38v1.76h-9.38zM42.9 405.61h9.38v1.76h-9.38zM52.9 405.61h9.38v1.76h-9.38zM162.9 405.61h9.38v1.76h-9.38zM22.9 407.92h9.38v1.76h-9.38zM142.9 407.92h9.38v1.76h-9.38zM152.9 410.22h9.38v1.76h-9.38zM162.9 410.22h9.38v1.76h-9.38zM22.9 412.53h9.38v1.76h-9.38zM82.9 412.53h9.38v1.76h-9.38zM172.9 412.53h9.38v1.76h-9.38zM262.9 412.53h9.38v1.76h-9.38zM22.9 414.84h9.38v1.76h-9.38zM22.9 417.15h9.38v1.76h-9.38zM142.9 419.46h9.38v1.76h-9.38zM152.9 419.46h9.38v1.76h-9.38zM172.9 419.46h9.38v1.76h-9.38zM212.9 419.46h9.38v1.76h-9.38zM232.9 419.46h9.38v1.76h-9.38zM212.9 426.38h9.38v1.76h-9.38zM252.9 426.38h9.38v1.76h-9.38zM92.9 431h9.38v1.76h-9.38zM122.9 433.3h9.38v1.76h-9.38zM142.9 433.3h9.38v1.76h-9.38zM92.9 435.61h9.38v1.76h-9.38zM22.9 437.92h9.38v1.76h-9.38zM152.9 440.23h9.38v1.76h-9.38zM212.9 440.23h9.38v1.76h-9.38zM222.9 440.23h9.38v1.76h-9.38zM232.9 440.23h9.38v1.76h-9.38zM32.9 442.54h9.38v1.76h-9.38zM82.9 442.54h9.38v1.76h-9.38zM92.9 442.54h9.38v1.76h-9.38zM102.9 442.54h9.38v1.76h-9.38zM212.9 442.54h9.38v1.76h-9.38zM132.9 444.84h9.38v1.76h-9.38zM242.9 444.84h9.38v1.76h-9.38zM172.9 447.15h9.38v1.76h-9.38zM202.9 447.15h9.38v1.76h-9.38zM252.9 447.15h9.38v1.76h-9.38zM242.9 451.77h9.38v1.76h-9.38zM52.9 454.08h9.38v1.76h-9.38zM152.9 454.08h9.38v1.76h-9.38zM172.9 454.08h9.38v1.76h-9.38zM262.9 454.08h9.38v1.76h-9.38zM132.9 458.69h9.38v1.76h-9.38zM152.9 458.69h9.38v1.76h-9.38zM172.9 458.69h9.38v1.76h-9.38zM192.9 458.69h9.38v1.76h-9.38zM232.9 458.69h9.38v1.76h-9.38zM132.9 461h9.38v1.76h-9.38zM142.9 461h9.38v1.76h-9.38zM162.9 461h9.38v1.76h-9.38zM182.9 461h9.38v1.76h-9.38zM42.9 463.31h9.38v1.76h-9.38zM22.9 465.62h9.38v1.76h-9.38zM32.9 465.62h9.38v1.76h-9.38zM32.9 467.92h9.38v1.76h-9.38zM132.9 467.92h9.38v1.76h-9.38zM162.9 467.92h9.38v1.76h-9.38zM212.9 467.92h9.38v1.76h-9.38zM222.9 467.92h9.38v1.76h-9.38zM252.9 467.92h9.38v1.76h-9.38zM192.9 470.23h9.38v1.76h-9.38zM202.9 470.23h9.38v1.76h-9.38zM42.9 472.54h9.38v1.76h-9.38zM112.9 472.54h9.38v1.76h-9.38zM122.9 472.54h9.38v1.76h-9.38zM142.9 472.54h9.38v1.76h-9.38zM202.9 472.54h9.38v1.76h-9.38zM212.9 472.54h9.38v1.76h-9.38zM262.9 472.54h9.38v1.76h-9.38zM22.9 474.85h9.38v1.76h-9.38zM142.9 477.16h9.38v1.76h-9.38zM232.9 477.16h9.38v1.76h-9.38zM22.9 486.39h9.38v1.76h-9.38zM122.9 486.39h9.38v1.76h-9.38zM132.9 486.39h9.38v1.76h-9.38zM192.9 486.39h9.38v1.76h-9.38zM242.9 486.39h9.38v1.76h-9.38zM22.9 488.7h9.38v1.76h-9.38zM32.9 488.7h9.38v1.76h-9.38zM132.9 488.7h9.38v1.76h-9.38zM212.9 488.7h9.38v1.76h-9.38zM62.9 491h9.38v1.76h-9.38zM72.9 491h9.38v1.76h-9.38zM182.9 491h9.38v1.76h-9.38zM212.9 491h9.38v1.76h-9.38zM222.9 491h9.38v1.76h-9.38zM252.9 491h9.38v1.76h-9.38zM92.9 493.31h9.38v1.76h-9.38zM132.9 493.31h9.38v1.76h-9.38zM152.9 493.31h9.38v1.76h-9.38zM172.9 493.31h9.38v1.76h-9.38zM192.9 493.31h9.38v1.76h-9.38zM222.9 493.31h9.38v1.76h-9.38zM102.9 502.54h9.38v1.76h-9.38zM132.9 502.54h9.38v1.76h-9.38zM102.9 504.85h9.38v1.76h-9.38zM142.9 504.85h9.38v1.76h-9.38zM22.9 507.16h9.38v1.76h-9.38zM22.9 509.47h9.38v1.76h-9.38zM212.9 511.78h9.38v1.76h-9.38zM22.9 516.39h9.38v1.76h-9.38zM132.9 516.39h9.38v1.76h-9.38zM232.9 516.39h9.38v1.76h-9.38z"/>
<path fill="#7da0cc" d="M22.9 290.21h9.38v1.76h-9.38zM222.9 290.21h9.38v1.76h-9.38zM242.9 290.21h9.38v1.76h-9.38zM82.9 292.52h9.38v1.76h-9.38zM42.9 294.82h9.38v1.76h-9.38zM152.9 294.82h9.38v1.76h-9.38zM192.9 294.82h9.38v1.76h-9.38zM202.9 294.82h9.38v1.76h-9.38zM232.9 294.82h9.38v1.76h-9.38zM242.9 294.82h9.38v1.76h-9.38zM132.9 297.13h9.38v1.76h-9.38zM252.9 297.13h9.38v1.76h-9.38zM132.9 299.44h9.38v1.76h-9.38zM172.9 299.44h9.38v1.76h-9.38zM192.9 299.44h9.38v1.76h-9.38zM22.9 301.75h9.38v1.76h-9.38zM82.9 304.06h9.38v1.76h-9.38zM162.9 308.67h9.38v1.76h-9.38zM122.9 310.98h9.38v1.76h-9.38zM192.9 310.98h9.38v1.76h-9.38zM42.9 313.29h9.38v1.76h-9.38zM52.9 313.29h9.38v1.76h-9.38zM72.9 313.29h9.38v1.76h-9.38zM22.9 315.6h9.38v1.76h-9.38zM82.9 315.6h9.38v1.76h-9.38zM92.9 317.9h9.38v1.76h-9.38zM102.9 317.9h9.38v1.76h-9.38zM142.9 317.9h9.38v1.76h-9.38zM72.9 320.21h9.38v1.76h-9.38zM162.9 320.21h9.38v1.76h-9.38zM212.9 320.21h9.38v1.76h-9.38zM52.9 327.14h9.38v1.76h-9.38zM132.9 327.14h9.38v1.76h-9.38zM112.9 329.44h9.38v1.76h-9.38zM162.9 334.06h9.38v1.76h-9.38zM232.9 334.06h9.38v1.76h-9.38zM242.9 334.06h9.38v1.76h-9.38zM172.9 336.37h9.38v1.76h-9.38zM192.9 336.37h9.38v1.76h-9.38zM202.9 336.37h9.38v1.76h-9.38zM212.9 336.37h9.38v1.76h-9.38zM22.9 345.6h9.38v1.76h-9.38zM32.9 350.22h9.38v1.76h-9.38zM42.9 350.22h9.38v1.76h-9.38zM72.9 350.22h9.38v1.76h-9.38zM132.9 350.22h9.38v1.76h-9.38zM142.9 350.22h9.38v1.76h-9.38zM152.9 352.52h9.38v1.76h-9.38zM202.9 352.52h9.38v1.76h-9.38zM22.9 354.83h9.38v1.76h-9.38zM102.9 354.83h9.38v1.76h-9.38zM62.9 359.45h9.38v1.76h-9.38zM102.9 359.45h9.38v1.76h-9.38zM202.9 361.76h9.38v1.76h-9.38zM32.9 368.68h9.38v1.76h-9.38zM52.9 368.68h9.38v1.76h-9.38zM192.9 368.68h9.38v1.76h-9.38zM22.9 373.3h9.38v1.76h-9.38zM162.9 373.3h9.38v1.76h-9.38zM72.9 375.6h9.38v1.76h-9.38zM262.9 375.6h9.38v1.76h-9.38zM22.9 380.22h9.38v1.76h-9.38zM62.9 382.53h9.38v1.76h-9.38zM222.9 382.53h9.38v1.76h-9.38zM32.9 384.84h9.38v1.76h-9.38zM42.9 384.84h9.38v1.76h-9.38zM92.9 384.84h9.38v1.76h-9.38zM112.9 384.84h9.38v1.76h-9.38zM82.9 387.14h9.38v1.76h-9.38zM142.9 387.14h9.38v1.76h-9.38zM22.9 389.45h9.38v1.76h-9.38zM42.9 389.45h9.38v1.76h-9.38zM102.9 389.45h9.38v1.76h-9.38zM162.9 389.45h9.38v1.76h-9.38zM172.9 389.45h9.38v1.76h-9.38zM182.9 389.45h9.38v1.76h-9.38zM192.9 389.45h9.38v1.76h-9.38zM202.9 389.45h9.38v1.76h-9.38zM242.9 389.45h9.38v1.76h-9.38zM62.9 391.76h9.38v1.76h-9.38zM92.9 391.76h9.38v1.76h-9.38zM32.9 394.07h9.38v1.76h-9.38zM222.9 394.07h9.38v1.76h-9.38zM262.9 394.07h9.38v1.76h-9.38zM22.9 396.38h9.38v1.76h-9.38zM192.9 398.68h9.38v1.76h-9.38zM42.9 403.3h9.38v1.76h-9.38zM62.9 403.3h9.38v1.76h-9.38zM242.9 403.3h9.38v1.76h-9.38zM52.9 407.92h9.38v1.76h-9.38zM132.9 407.92h9.38v1.76h-9.38zM172.9 410.22h9.38v1.76h-9.38zM192.9 410.22h9.38v1.76h-9.38zM202.9 410.22h9.38v1.76h-9.38zM222.9 410.22h9.38v1.76h-9.38zM62.9 412.53h9.38v1.76h-9.38zM132.9 412.53h9.38v1.76h-9.38zM202.9 412.53h9.38v1.76h-9.38zM42.9 417.15h9.38v1.76h-9.38zM92.9 419.46h9.38v1.76h-9.38zM182.9 419.46h9.38v1.76h-9.38zM142.9 424.07h9.38v1.76h-9.38zM182.9 424.07h9.38v1.76h-9.38zM212.9 424.07h9.38v1.76h-9.38zM232.9 424.07h9.38v1.76h-9.38zM22.9 426.38h9.38v1.76h-9.38zM32.9 426.38h9.38v1.76h-9.38zM72.9 426.38h9.38v1.76h-9.38zM112.9 426.38h9.38v1.76h-9.38zM232.9 426.38h9.38v1.76h-9.38zM242.9 426.38h9.38v1.76h-9.38zM262.9 426.38h9.38v1.76h-9.38zM202.9 428.69h9.38v1.76h-9.38zM252.9 428.69h9.38v1.76h-9.38zM72.9 431h9.38v1.76h-9.38zM112.9 431h9.38v1.76h-9.38zM212.9 431h9.38v1.76h-9.38zM22.9 433.3h9.38v1.76h-9.38zM62.9 433.3h9.38v1.76h-9.38zM82.9 433.3h9.38v1.76h-9.38zM152.9 433.3h9.38v1.76h-9.38zM192.9 433.3h9.38v1.76h-9.38zM22.9 435.61h9.38v1.76h-9.38zM32.9 435.61h9.38v1.76h-9.38zM42.9 435.61h9.38v1.76h-9.38zM52.9 435.61h9.38v1.76h-9.38zM262.9 435.61h9.38v1.76h-9.38zM122.9 437.92h9.38v1.76h-9.38zM22.9 440.23h9.38v1.76h-9.38zM112.9 440.23h9.38v1.76h-9.38zM192.9 440.23h9.38v1.76h-9.38zM112.9 442.54h9.38v1.76h-9.38zM172.9 442.54h9.38v1.76h-9.38zM182.9 442.54h9.38v1.76h-9.38zM182.9 444.84h9.38v1.76h-9.38zM252.9 444.84h9.38v1.76h-9.38zM22.9 447.15h9.38v1.76h-9.38zM142.9 447.15h9.38v1.76h-9.38zM262.9 447.15h9.38v1.76h-9.38zM82.9 449.46h9.38v1.76h-9.38zM262.9 451.77h9.38v1.76h-9.38zM112.9 454.08h9.38v1.76h-9.38zM132.9 454.08h9.38v1.76h-9.38zM162.9 454.08h9.38v1.76h-9.38zM242.9 454.08h9.38v1.76h-9.38zM252.9 454.08h9.38v1.76h-9.38zM22.9 456.38h9.38v1.76h-9.38zM22.9 458.69h9.38v1.76h-9.38zM72.9 463.31h9.38v1.76h-9.38zM122.9 465.62h9.38v1.76h-9.38zM42.9 467.92h9.38v1.76h-9.38zM52.9 467.92h9.38v1.76h-9.38zM62.9 467.92h9.38v1.76h-9.38zM102.9 467.92h9.38v1.76h-9.38zM262.9 467.92h9.38v1.76h-9.38zM42.9 470.23h9.38v1.76h-9.38zM82.9 470.23h9.38v1.76h-9.38zM212.9 470.23h9.38v1.76h-9.38zM222.9 470.23h9.38v1.76h-9.38zM52.9 472.54h9.38v1.76h-9.38zM62.9 472.54h9.38v1.76h-9.38zM82.9 472.54h9.38v1.76h-9.38zM92.9 472.54h9.38v1.76h-9.38zM132.9 472.54h9.38v1.76h-9.38zM182.9 472.54h9.38v1.76h-9.38zM232.9 472.54h9.38v1.76h-9.38zM122.9 474.85h9.38v1.76h-9.38zM162.9 474.85h9.38v1.76h-9.38zM242.9 477.16h9.38v1.76h-9.38zM22.9 479.46h9.38v1.76h-9.38zM122.9 479.46h9.38v1.76h-9.38zM22.9 481.77h9.38v1.76h-9.38zM132.9 484.08h9.38v1.76h-9.38zM142.9 484.08h9.38v1.76h-9.38zM232.9 484.08h9.38v1.76h-9.38zM32.9 486.39h9.38v1.76h-9.38zM142.9 486.39h9.38v1.76h-9.38zM142.9 488.7h9.38v1.76h-9.38zM172.9 491h9.38v1.76h-9.38zM242.9 491h9.38v1.76h-9.38zM82.9 493.31h9.38v1.76h-9.38zM182.9 493.31h9.38v1.76h-9.38zM82.9 495.62h9.38v1.76h-9.38zM182.9 495.62h9.38v1.76h-9.38zM142.9 497.93h9.38v1.76h-9.38zM22.9 500.24h9.38v1.76h-9.38zM22.9 502.54h9.38v1.76h-9.38zM62.9 502.54h9.38v1.76h-9.38zM82.9 502.54h9.38v1.76h-9.38zM142.9 502.54h9.38v1.76h-9.38zM92.9 504.85h9.38v1.76h-9.38zM112.9 504.85h9.38v1.76h-9.38zM132.9 504.85h9.38v1.76h-9.38zM152.9 504.85h9.38v1.76h-9.38zM222.9 511.78h9.38v1.76h-9.38zM82.9 516.39h9.38v1.76h-9.38zM172.9 516.39h9.38v1.76h-9.38zM202.9 516.39h9.38v1.76h-9.38zM212.9 516.39h9.38v1.76h-9.38zM262.9 516.39h9.38v1.76h-9.38z"/>
<path fill="#799ecb" d="M182.9 287.9h9.38v1.76h-9.38zM42.9 290.21h9.38v1.76h-9.38zM52.9 290.21h9.38v1.76h-9.38zM62.9 290.21h9.38v1.76h-9.38zM252.9 290.21h9.38v1.76h-9.38zM82.9 294.82h9.38v1.76h-9.38zM162.9 294.82h9.38v1.76h-9.38zM172.9 294.82h9.38v1.76h-9.38zM222.9 294.82h9.38v1.76h-9.38zM252.9 294.82h9.38v1.76h-9.38zM192.9 297.13h9.38v1.76h-9.38zM202.9 297.13h9.38v1.76h-9.38zM52.9 299.44h9.38v1.76h-9.38zM212.9 299.44h9.38v1.76h-9.38zM122.9 301.75h9.38v1.76h-9.38zM142.9 301.75h9.38v1.76h-9.38zM72.9 304.06h9.38v1.76h-9.38zM122.9 308.67h9.38v1.76h-9.38zM42.9 310.98h9.38v1.76h-9.38zM62.9 310.98h9.38v1.76h-9.38zM72.9 310.98h9.38v1.76h-9.38zM92.9 313.29h9.38v1.76h-9.38zM62.9 315.6h9.38v1.76h-9.38zM122.9 315.6h9.38v1.76h-9.38zM142.9 315.6h9.38v1.76h-9.38zM192.9 315.6h9.38v1.76h-9.38zM232.9 315.6h9.38v1.76h-9.38zM242.9 315.6h9.38v1.76h-9.38zM152.9 317.9h9.38v1.76h-9.38zM262.9 317.9h9.38v1.76h-9.38zM62.9 320.21h9.38v1.76h-9.38zM202.9 320.21h9.38v1.76h-9.38zM252.9 320.21h9.38v1.76h-9.38zM262.9 320.21h9.38v1.76h-9.38zM62.9 327.14h9.38v1.76h-9.38zM72.9 327.14h9.38v1.76h-9.38zM82.9 327.14h9.38v1.76h-9.38zM92.9 327.14h9.38v1.76h-9.38zM112.9 327.14h9.38v1.76h-9.38zM142.9 327.14h9.38v1.76h-9.38zM162.9 327.14h9.38v1.76h-9.38zM172.9 327.14h9.38v1.76h-9.38zM242.9 327.14h9.38v1.76h-9.38zM262.9 327.14h9.38v1.76h-9.38zM22.9 329.44h9.38v1.76h-9.38zM202.9 329.44h9.38v1.76h-9.38zM42.9 334.06h9.38v1.76h-9.38zM152.9 334.06h9.38v1.76h-9.38zM182.9 334.06h9.38v1.76h-9.38zM192.9 334.06h9.38v1.76h-9.38zM142.9 336.37h9.38v1.76h-9.38zM182.9 336.37h9.38v1.76h-9.38zM242.9 336.37h9.38v1.76h-9.38zM262.9 336.37h9.38v1.76h-9.38zM42.9 340.98h9.38v1.76h-9.38zM122.9 350.22h9.38v1.76h-9.38zM212.9 350.22h9.38v1.76h-9.38zM52.9 352.52h9.38v1.76h-9.38zM72.9 352.52h9.38v1.76h-9.38zM172.9 352.52h9.38v1.76h-9.38zM252.9 352.52h9.38v1.76h-9.38zM32.9 354.83h9.38v1.76h-9.38zM92.9 354.83h9.38v1.76h-9.38zM42.9 357.14h9.38v1.76h-9.38zM112.9 359.45h9.38v1.76h-9.38zM152.9 359.45h9.38v1.76h-9.38zM242.9 359.45h9.38v1.76h-9.38zM182.9 361.76h9.38v1.76h-9.38zM92.9 364.06h9.38v1.76h-9.38zM262.9 364.06h9.38v1.76h-9.38zM22.9 366.37h9.38v1.76h-9.38zM32.9 366.37h9.38v1.76h-9.38zM172.9 366.37h9.38v1.76h-9.38zM242.9 366.37h9.38v1.76h-9.38zM172.9 368.68h9.38v1.76h-9.38zM152.9 373.3h9.38v1.76h-9.38zM42.9 375.6h9.38v1.76h-9.38zM122.9 375.6h9.38v1.76h-9.38zM62.9 377.91h9.38v1.76h-9.38zM82.9 377.91h9.38v1.76h-9.38zM122.9 380.22h9.38v1.76h-9.38zM162.9 380.22h9.38v1.76h-9.38zM172.9 380.22h9.38v1.76h-9.38zM232.9 380.22h9.38v1.76h-9.38zM242.9 380.22h9.38v1.76h-9.38zM52.9 384.84h9.38v1.76h-9.38zM132.9 384.84h9.38v1.76h-9.38zM212.9 387.14h9.38v1.76h-9.38zM222.9 387.14h9.38v1.76h-9.38zM32.9 389.45h9.38v1.76h-9.38zM62.9 389.45h9.38v1.76h-9.38zM42.9 391.76h9.38v1.76h-9.38zM82.9 391.76h9.38v1.76h-9.38zM102.9 391.76h9.38v1.76h-9.38zM62.9 394.07h9.38v1.76h-9.38zM82.9 394.07h9.38v1.76h-9.38zM152.9 398.68h9.38v1.76h-9.38zM182.9 398.68h9.38v1.76h-9.38zM142.9 400.99h9.38v1.76h-9.38zM222.9 400.99h9.38v1.76h-9.38zM22.9 403.3h9.38v1.76h-9.38zM82.9 403.3h9.38v1.76h-9.38zM192.9 403.3h9.38v1.76h-9.38zM212.9 403.3h9.38v1.76h-9.38zM262.9 405.61h9.38v1.76h-9.38zM82.9 407.92h9.38v1.76h-9.38zM202.9 407.92h9.38v1.76h-9.38zM232.9 407.92h9.38v1.76h-9.38zM122.9 410.22h9.38v1.76h-9.38zM262.9 410.22h9.38v1.76h-9.38zM72.9 412.53h9.38v1.76h-9.38zM142.9 412.53h9.38v1.76h-9.38zM182.9 412.53h9.38v1.76h-9.38zM252.9 412.53h9.38v1.76h-9.38zM42.9 414.84h9.38v1.76h-9.38zM102.9 414.84h9.38v1.76h-9.38zM122.9 414.84h9.38v1.76h-9.38zM152.9 414.84h9.38v1.76h-9.38zM192.9 414.84h9.38v1.76h-9.38zM162.9 417.15h9.38v1.76h-9.38zM172.9 417.15h9.38v1.76h-9.38zM62.9 419.46h9.38v1.76h-9.38zM82.9 419.46h9.38v1.76h-9.38zM122.9 419.46h9.38v1.76h-9.38zM162.9 419.46h9.38v1.76h-9.38zM192.9 419.46h9.38v1.76h-9.38zM202.9 419.46h9.38v1.76h-9.38zM222.9 419.46h9.38v1.76h-9.38zM242.9 421.76h9.38v1.76h-9.38zM42.9 424.07h9.38v1.76h-9.38zM222.9 424.07h9.38v1.76h-9.38zM102.9 426.38h9.38v1.76h-9.38zM92.9 428.69h9.38v1.76h-9.38zM52.9 431h9.38v1.76h-9.38zM82.9 431h9.38v1.76h-9.38zM162.9 431h9.38v1.76h-9.38zM222.9 431h9.38v1.76h-9.38zM232.9 431h9.38v1.76h-9.38zM102.9 435.61h9.38v1.76h-9.38zM112.9 435.61h9.38v1.76h-9.38zM82.9 437.92h9.38v1.76h-9.38zM142.9 437.92h9.38v1.76h-9.38zM72.9 440.23h9.38v1.76h-9.38zM142.9 440.23h9.38v1.76h-9.38zM172.9 440.23h9.38v1.76h-9.38zM182.9 440.23h9.38v1.76h-9.38zM262.9 440.23h9.38v1.76h-9.38zM152.9 442.54h9.38v1.76h-9.38zM192.9 442.54h9.38v1.76h-9.38zM202.9 442.54h9.38v1.76h-9.38zM222.9 442.54h9.38v1.76h-9.38zM122.9 444.84h9.38v1.76h-9.38zM192.9 444.84h9.38v1.76h-9.38zM222.9 444.84h9.38v1.76h-9.38zM132.9 447.15h9.38v1.76h-9.38zM212.9 447.15h9.38v1.76h-9.38zM232.9 447.15h9.38v1.76h-9.38zM242.9 447.15h9.38v1.76h-9.38zM42.9 451.77h9.38v1.76h-9.38zM62.9 451.77h9.38v1.76h-9.38zM72.9 451.77h9.38v1.76h-9.38zM122.9 451.77h9.38v1.76h-9.38zM132.9 451.77h9.38v1.76h-9.38zM142.9 451.77h9.38v1.76h-9.38zM32.9 454.08h9.38v1.76h-9.38zM82.9 454.08h9.38v1.76h-9.38zM112.9 458.69h9.38v1.76h-9.38zM182.9 458.69h9.38v1.76h-9.38zM252.9 458.69h9.38v1.76h-9.38zM32.9 461h9.38v1.76h-9.38zM42.9 461h9.38v1.76h-9.38zM122.9 463.31h9.38v1.76h-9.38zM132.9 463.31h9.38v1.76h-9.38zM162.9 463.31h9.38v1.76h-9.38zM212.9 463.31h9.38v1.76h-9.38zM222.9 463.31h9.38v1.76h-9.38zM232.9 463.31h9.38v1.76h-9.38zM252.9 463.31h9.38v1.76h-9.38zM262.9 463.31h9.38v1.76h-9.38zM42.9 465.62h9.38v1.76h-9.38zM62.9 465.62h9.38v1.76h-9.38zM72.9 465.62h9.38v1.76h-9.38zM82.9 465.62h9.38v1.76h-9.38zM212.9 465.62h9.38v1.76h-9.38zM252.9 465.62h9.38v1.76h-9.38zM82.9 467.92h9.38v1.76h-9.38zM142.9 467.92h9.38v1.76h-9.38zM172.9 467.92h9.38v1.76h-9.38zM242.9 467.92h9.38v1.76h-9.38zM92.9 470.23h9.38v1.76h-9.38zM142.9 470.23h9.38v1.76h-9.38zM72.9 472.54h9.38v1.76h-9.38zM102.9 472.54h9.38v1.76h-9.38zM222.9 472.54h9.38v1.76h-9.38zM242.9 472.54h9.38v1.76h-9.38zM132.9 474.85h9.38v1.76h-9.38zM142.9 474.85h9.38v1.76h-9.38zM222.9 474.85h9.38v1.76h-9.38zM232.9 474.85h9.38v1.76h-9.38zM52.9 477.16h9.38v1.76h-9.38zM82.9 477.16h9.38v1.76h-9.38zM122.9 477.16h9.38v1.76h-9.38zM152.9 477.16h9.38v1.76h-9.38zM212.9 477.16h9.38v1.76h-9.38zM72.9 479.46h9.38v1.76h-9.38zM132.9 479.46h9.38v1.76h-9.38zM172.9 479.46h9.38v1.76h-9.38zM242.9 479.46h9.38v1.76h-9.38zM252.9 479.46h9.38v1.76h-9.38zM102.9 481.77h9.38v1.76h-9.38zM112.9 481.77h9.38v1.76h-9.38zM122.9 481.77h9.38v1.76h-9.38zM192.9 481.77h9.38v1.76h-9.38zM222.9 481.77h9.38v1.76h-9.38zM232.9 481.77h9.38v1.76h-9.38zM52.9 484.08h9.38v1.76h-9.38zM92.9 484.08h9.38v1.76h-9.38zM212.9 484.08h9.38v1.76h-9.38zM162.9 486.39h9.38v1.76h-9.38zM52.9 488.7h9.38v1.76h-9.38zM192.9 488.7h9.38v1.76h-9.38zM242.9 488.7h9.38v1.76h-9.38zM252.9 488.7h9.38v1.76h-9.38zM32.9 491h9.38v1.76h-9.38zM82.9 491h9.38v1.76h-9.38zM142.9 491h9.38v1.76h-9.38zM162.9 491h9.38v1.76h-9.38zM202.9 491h9.38v1.76h-9.38zM262.9 491h9.38v1.76h-9.38zM112.9 493.31h9.38v1.76h-9.38zM142.9 493.31h9.38v1.76h-9.38zM72.9 495.62h9.38v1.76h-9.38zM172.9 495.62h9.38v1.76h-9.38zM192.9 495.62h9.38v1.76h-9.38zM52.9 497.93h9.38v1.76h-9.38zM72.9 502.54h9.38v1.76h-9.38zM162.9 502.54h9.38v1.76h-9.38zM182.9 502.54h9.38v1.76h-9.38zM72.9 516.39h9.38v1.76h-9.38zM102.9 516.39h9.38v1.76h-9.38zM112.9 516.39h9.38v1.76h-9.38zM242.9 516.39h9.38v1.76h-9.38zM252.9 516.39h9.38v1.76h-9.38z"/>
<path fill="#759cca" d="M32.9 287.9h9.38v1.76h-9.38zM62.9 287.9h9.38v1.76h-9.38zM72.9 287.9h9.38v1.76h-9.38zM82.9 290.21h9.38v1.76h-9.38zM142.9 290.21h9.38v1.76h-9.38zM162.9 290.21h9.38v1.76h-9.38zM202.9 290.21h9.38v1.76h-9.38zM232.9 290.21h9.38v1.76h-9.38zM122.9 292.52h9.38v1.76h-9.38zM152.9 292.52h9.38v1.76h-9.38zM262.9 294.82h9.38v1.76h-9.38zM142.9 297.13h9.38v1.76h-9.38zM212.9 297.13h9.38v1.76h-9.38zM222.9 297.13h9.38v1.76h-9.38zM232.9 299.44h9.38v1.76h-9.38zM242.9 299.44h9.38v1.76h-9.38zM262.9 299.44h9.38v1.76h-9.38zM52.9 301.75h9.38v1.76h-9.38zM122.9 304.06h9.38v1.76h-9.38zM192.9 304.06h9.38v1.76h-9.38zM252.9 304.06h9.38v1.76h-9.38zM192.9 306.36h9.38v1.76h-9.38zM102.9 308.67h9.38v1.76h-9.38zM112.9 308.67h9.38v1.76h-9.38zM142.9 308.67h9.38v1.76h-9.38zM152.9 308.67h9.38v1.76h-9.38zM192.9 308.67h9.38v1.76h-9.38zM232.9 308.67h9.38v1.76h-9.38zM262.9 308.67h9.38v1.76h-9.38zM52.9 310.98h9.38v1.76h-9.38zM82.9 310.98h9.38v1.76h-9.38zM92.9 310.98h9.38v1.76h-9.38zM102.9 310.98h9.38v1.76h-9.38zM102.9 313.29h9.38v1.76h-9.38zM212.9 313.29h9.38v1.76h-9.38zM72.9 315.6h9.38v1.76h-9.38zM172.9 315.6h9.38v1.76h-9.38zM112.9 317.9h9.38v1.76h-9.38zM122.9 317.9h9.38v1.76h-9.38zM182.9 320.21h9.38v1.76h-9.38zM222.9 320.21h9.38v1.76h-9.38zM122.9 324.83h9.38v1.76h-9.38zM132.9 324.83h9.38v1.76h-9.38zM142.9 324.83h9.38v1.76h-9.38zM102.9 327.14h9.38v1.76h-9.38zM192.9 327.14h9.38v1.76h-9.38zM82.9 329.44h9.38v1.76h-9.38zM192.9 329.44h9.38v1.76h-9.38zM212.9 329.44h9.38v1.76h-9.38zM222.9 329.44h9.38v1.76h-9.38zM92.9 334.06h9.38v1.76h-9.38zM102.9 334.06h9.38v1.76h-9.38zM202.9 334.06h9.38v1.76h-9.38zM262.9 334.06h9.38v1.76h-9.38zM132.9 336.37h9.38v1.76h-9.38zM162.9 336.37h9.38v1.76h-9.38zM232.9 336.37h9.38v1.76h-9.38zM252.9 336.37h9.38v1.76h-9.38zM22.9 340.98h9.38v1.76h-9.38zM242.9 340.98h9.38v1.76h-9.38zM42.9 343.29h9.38v1.76h-9.38zM72.9 343.29h9.38v1.76h-9.38zM92.9 343.29h9.38v1.76h-9.38zM102.9 343.29h9.38v1.76h-9.38zM112.9 343.29h9.38v1.76h-9.38zM72.9 345.6h9.38v1.76h-9.38zM102.9 345.6h9.38v1.76h-9.38zM232.9 345.6h9.38v1.76h-9.38zM102.9 347.91h9.38v1.76h-9.38zM102.9 350.22h9.38v1.76h-9.38zM182.9 350.22h9.38v1.76h-9.38zM202.9 350.22h9.38v1.76h-9.38zM42.9 354.83h9.38v1.76h-9.38zM152.9 354.83h9.38v1.76h-9.38zM162.9 354.83h9.38v1.76h-9.38zM232.9 354.83h9.38v1.76h-9.38zM162.9 359.45h9.38v1.76h-9.38zM202.9 359.45h9.38v1.76h-9.38zM132.9 361.76h9.38v1.76h-9.38zM162.9 361.76h9.38v1.76h-9.38zM82.9 364.06h9.38v1.76h-9.38zM112.9 364.06h9.38v1.76h-9.38zM252.9 364.06h9.38v1.76h-9.38zM62.9 366.37h9.38v1.76h-9.38zM72.9 366.37h9.38v1.76h-9.38zM122.9 366.37h9.38v1.76h-9.38zM132.9 366.37h9.38v1.76h-9.38zM162.9 366.37h9.38v1.76h-9.38zM92.9 368.68h9.38v1.76h-9.38zM182.9 368.68h9.38v1.76h-9.38zM252.9 368.68h9.38v1.76h-9.38zM262.9 368.68h9.38v1.76h-9.38zM82.9 370.99h9.38v1.76h-9.38zM172.9 373.3h9.38v1.76h-9.38zM32.9 375.6h9.38v1.76h-9.38zM62.9 375.6h9.38v1.76h-9.38zM162.9 375.6h9.38v1.76h-9.38zM52.9 377.91h9.38v1.76h-9.38zM42.9 380.22h9.38v1.76h-9.38zM62.9 380.22h9.38v1.76h-9.38zM102.9 380.22h9.38v1.76h-9.38zM152.9 380.22h9.38v1.76h-9.38zM252.9 380.22h9.38v1.76h-9.38zM62.9 387.14h9.38v1.76h-9.38zM122.9 387.14h9.38v1.76h-9.38zM132.9 387.14h9.38v1.76h-9.38zM162.9 387.14h9.38v1.76h-9.38zM172.9 387.14h9.38v1.76h-9.38zM232.9 387.14h9.38v1.76h-9.38zM252.9 387.14h9.38v1.76h-9.38zM72.9 391.76h9.38v1.76h-9.38zM132.9 394.07h9.38v1.76h-9.38zM142.9 394.07h9.38v1.76h-9.38zM32.9 398.68h9.38v1.76h-9.38zM82.9 398.68h9.38v1.76h-9.38zM122.9 398.68h9.38v1.76h-9.38zM142.9 398.68h9.38v1.76h-9.38zM62.9 400.99h9.38v1.76h-9.38zM72.9 400.99h9.38v1.76h-9.38zM82.9 400.99h9.38v1.76h-9.38zM32.9 403.3h9.38v1.76h-9.38zM52.9 403.3h9.38v1.76h-9.38zM222.9 403.3h9.38v1.76h-9.38zM72.9 405.61h9.38v1.76h-9.38zM82.9 405.61h9.38v1.76h-9.38zM172.9 405.61h9.38v1.76h-9.38zM222.9 405.61h9.38v1.76h-9.38zM32.9 407.92h9.38v1.76h-9.38zM42.9 407.92h9.38v1.76h-9.38zM122.9 407.92h9.38v1.76h-9.38zM162.9 407.92h9.38v1.76h-9.38zM232.9 410.22h9.38v1.76h-9.38zM32.9 412.53h9.38v1.76h-9.38zM32.9 414.84h9.38v1.76h-9.38zM72.9 414.84h9.38v1.76h-9.38zM92.9 414.84h9.38v1.76h-9.38zM262.9 414.84h9.38v1.76h-9.38zM72.9 419.46h9.38v1.76h-9.38zM102.9 419.46h9.38v1.76h-9.38zM112.9 419.46h9.38v1.76h-9.38zM132.9 419.46h9.38v1.76h-9.38zM62.9 421.76h9.38v1.76h-9.38zM162.9 421.76h9.38v1.76h-9.38zM212.9 421.76h9.38v1.76h-9.38zM82.9 424.07h9.38v1.76h-9.38zM122.9 424.07h9.38v1.76h-9.38zM132.9 424.07h9.38v1.76h-9.38zM152.9 424.07h9.38v1.76h-9.38zM192.9 424.07h9.38v1.76h-9.38zM62.9 426.38h9.38v1.76h-9.38zM82.9 426.38h9.38v1.76h-9.38zM182.9 426.38h9.38v1.76h-9.38zM182.9 428.69h9.38v1.76h-9.38zM262.9 428.69h9.38v1.76h-9.38zM62.9 431h9.38v1.76h-9.38zM152.9 431h9.38v1.76h-9.38zM172.9 431h9.38v1.76h-9.38zM242.9 431h9.38v1.76h-9.38zM72.9 433.3h9.38v1.76h-9.38zM182.9 433.3h9.38v1.76h-9.38zM242.9 433.3h9.38v1.76h-9.38zM252.9 433.3h9.38v1.76h-9.38zM122.9 435.61h9.38v1.76h-9.38zM162.9 435.61h9.38v1.76h-9.38zM172.9 435.61h9.38v1.76h-9.38zM182.9 435.61h9.38v1.76h-9.38zM192.9 435.61h9.38v1.76h-9.38zM222.9 435.61h9.38v1.76h-9.38zM232.9 435.61h9.38v1.76h-9.38zM252.9 435.61h9.38v1.76h-9.38zM62.9 437.92h9.38v1.76h-9.38zM132.9 437.92h9.38v1.76h-9.38zM42.9 440.23h9.38v1.76h-9.38zM202.9 440.23h9.38v1.76h-9.38zM142.9 444.84h9.38v1.76h-9.38zM202.9 444.84h9.38v1.76h-9.38zM42.9 447.15h9.38v1.76h-9.38zM222.9 447.15h9.38v1.76h-9.38zM72.9 449.46h9.38v1.76h-9.38zM212.9 449.46h9.38v1.76h-9.38zM252.9 449.46h9.38v1.76h-9.38zM252.9 451.77h9.38v1.76h-9.38zM62.9 454.08h9.38v1.76h-9.38zM72.9 454.08h9.38v1.76h-9.38zM92.9 454.08h9.38v1.76h-9.38zM232.9 454.08h9.38v1.76h-9.38zM92.9 458.69h9.38v1.76h-9.38zM162.9 458.69h9.38v1.76h-9.38zM92.9 463.31h9.38v1.76h-9.38zM102.9 463.31h9.38v1.76h-9.38zM142.9 463.31h9.38v1.76h-9.38zM142.9 465.62h9.38v1.76h-9.38zM222.9 465.62h9.38v1.76h-9.38zM72.9 467.92h9.38v1.76h-9.38zM122.9 467.92h9.38v1.76h-9.38zM192.9 467.92h9.38v1.76h-9.38zM62.9 470.23h9.38v1.76h-9.38zM182.9 470.23h9.38v1.76h-9.38zM232.9 470.23h9.38v1.76h-9.38zM152.9 472.54h9.38v1.76h-9.38zM162.9 472.54h9.38v1.76h-9.38zM172.9 472.54h9.38v1.76h-9.38zM42.9 474.85h9.38v1.76h-9.38zM92.9 474.85h9.38v1.76h-9.38zM202.9 474.85h9.38v1.76h-9.38zM62.9 477.16h9.38v1.76h-9.38zM72.9 477.16h9.38v1.76h-9.38zM102.9 477.16h9.38v1.76h-9.38zM202.9 477.16h9.38v1.76h-9.38zM222.9 477.16h9.38v1.76h-9.38zM252.9 477.16h9.38v1.76h-9.38zM82.9 479.46h9.38v1.76h-9.38zM142.9 479.46h9.38v1.76h-9.38zM152.9 479.46h9.38v1.76h-9.38zM162.9 479.46h9.38v1.76h-9.38zM192.9 479.46h9.38v1.76h-9.38zM32.9 481.77h9.38v1.76h-9.38zM42.9 481.77h9.38v1.76h-9.38zM52.9 481.77h9.38v1.76h-9.38zM212.9 481.77h9.38v1.76h-9.38zM72.9 484.08h9.38v1.76h-9.38zM112.9 484.08h9.38v1.76h-9.38zM122.9 484.08h9.38v1.76h-9.38zM82.9 486.39h9.38v1.76h-9.38zM102.9 486.39h9.38v1.76h-9.38zM112.9 486.39h9.38v1.76h-9.38zM172.9 488.7h9.38v1.76h-9.38zM182.9 488.7h9.38v1.76h-9.38zM262.9 488.7h9.38v1.76h-9.38zM122.9 491h9.38v1.76h-9.38zM152.9 491h9.38v1.76h-9.38zM192.9 491h9.38v1.76h-9.38zM232.9 491h9.38v1.76h-9.38zM52.9 493.31h9.38v1.76h-9.38zM72.9 493.31h9.38v1.76h-9.38zM122.9 493.31h9.38v1.76h-9.38zM212.9 493.31h9.38v1.76h-9.38zM232.9 493.31h9.38v1.76h-9.38zM62.9 495.62h9.38v1.76h-9.38zM202.9 502.54h9.38v1.76h-9.38zM212.9 502.54h9.38v1.76h-9.38zM222.9 502.54h9.38v1.76h-9.38zM252.9 502.54h9.38v1.76h-9.38zM172.9 504.85h9.38v1.76h-9.38zM222.9 504.85h9.38v1.76h-9.38zM252.9 504.85h9.38v1.76h-9.38zM222.9 509.47h9.38v1.76h-9.38zM232.9 509.47h9.38v1.76h-9.38zM122.9 511.78h9.38v1.76h-9.38zM132.9 511.78h9.38v1.76h-9.38zM142.9 511.78h9.38v1.76h-9.38zM162.9 511.78h9.38v1.76h-9.38zM232.9 511.78h9.38v1.76h-9.38zM242.9 511.78h9.38v1.76h-9.38z"/>
<path fill="#7199c9" d="M52.9 287.9h9.38v1.76h-9.38zM152.9 287.9h9.38v1.76h-9.38zM202.9 287.9h9.38v1.76h-9.38zM72.9 290.21h9.38v1.76h-9.38zM92.9 290.21h9.38v1.76h-9.38zM122.9 290.21h9.38v1.76h-9.38zM182.9 290.21h9.38v1.76h-9.38zM192.9 290.21h9.38v1.76h-9.38zM62.9 292.52h9.38v1.76h-9.38zM72.9 292.52h9.38v1.76h-9.38zM32.9 294.82h9.38v1.76h-9.38zM52.9 294.82h9.38v1.76h-9.38zM112.9 294.82h9.38v1.76h-9.38zM122.9 297.13h9.38v1.76h-9.38zM162.9 297.13h9.38v1.76h-9.38zM262.9 301.75h9.38v1.76h-9.38zM42.9 304.06h9.38v1.76h-9.38zM62.9 304.06h9.38v1.76h-9.38zM182.9 304.06h9.38v1.76h-9.38zM242.9 304.06h9.38v1.76h-9.38zM162.9 306.36h9.38v1.76h-9.38zM72.9 308.67h9.38v1.76h-9.38zM82.9 308.67h9.38v1.76h-9.38zM172.9 308.67h9.38v1.76h-9.38zM202.9 308.67h9.38v1.76h-9.38zM212.9 308.67h9.38v1.76h-9.38zM222.9 308.67h9.38v1.76h-9.38zM32.9 310.98h9.38v1.76h-9.38zM112.9 310.98h9.38v1.76h-9.38zM112.9 313.29h9.38v1.76h-9.38zM262.9 313.29h9.38v1.76h-9.38zM42.9 315.6h9.38v1.76h-9.38zM52.9 315.6h9.38v1.76h-9.38zM152.9 315.6h9.38v1.76h-9.38zM162.9 315.6h9.38v1.76h-9.38zM182.9 315.6h9.38v1.76h-9.38zM262.9 315.6h9.38v1.76h-9.38zM132.9 317.9h9.38v1.76h-9.38zM162.9 317.9h9.38v1.76h-9.38zM172.9 317.9h9.38v1.76h-9.38zM202.9 317.9h9.38v1.76h-9.38zM222.9 317.9h9.38v1.76h-9.38zM232.9 317.9h9.38v1.76h-9.38zM152.9 327.14h9.38v1.76h-9.38zM52.9 329.44h9.38v1.76h-9.38zM52.9 334.06h9.38v1.76h-9.38zM72.9 334.06h9.38v1.76h-9.38zM112.9 334.06h9.38v1.76h-9.38zM172.9 334.06h9.38v1.76h-9.38zM212.9 334.06h9.38v1.76h-9.38zM132.9 340.98h9.38v1.76h-9.38zM142.9 340.98h9.38v1.76h-9.38zM162.9 340.98h9.38v1.76h-9.38zM252.9 340.98h9.38v1.76h-9.38zM172.9 343.29h9.38v1.76h-9.38zM92.9 345.6h9.38v1.76h-9.38zM152.9 345.6h9.38v1.76h-9.38zM172.9 345.6h9.38v1.76h-9.38zM192.9 345.6h9.38v1.76h-9.38zM252.9 345.6h9.38v1.76h-9.38zM262.9 345.6h9.38v1.76h-9.38zM32.9 347.91h9.38v1.76h-9.38zM92.9 350.22h9.38v1.76h-9.38zM112.9 350.22h9.38v1.76h-9.38zM222.9 350.22h9.38v1.76h-9.38zM62.9 352.52h9.38v1.76h-9.38zM82.9 352.52h9.38v1.76h-9.38zM132.9 352.52h9.38v1.76h-9.38zM52.9 354.83h9.38v1.76h-9.38zM242.9 354.83h9.38v1.76h-9.38zM262.9 354.83h9.38v1.76h-9.38zM92.9 359.45h9.38v1.76h-9.38zM142.9 359.45h9.38v1.76h-9.38zM182.9 359.45h9.38v1.76h-9.38zM122.9 361.76h9.38v1.76h-9.38zM152.9 361.76h9.38v1.76h-9.38zM172.9 361.76h9.38v1.76h-9.38zM242.9 361.76h9.38v1.76h-9.38zM252.9 361.76h9.38v1.76h-9.38zM262.9 361.76h9.38v1.76h-9.38zM242.9 364.06h9.38v1.76h-9.38zM82.9 366.37h9.38v1.76h-9.38zM152.9 366.37h9.38v1.76h-9.38zM252.9 366.37h9.38v1.76h-9.38zM62.9 368.68h9.38v1.76h-9.38zM82.9 368.68h9.38v1.76h-9.38zM232.9 368.68h9.38v1.76h-9.38zM72.9 370.99h9.38v1.76h-9.38zM122.9 370.99h9.38v1.76h-9.38zM152.9 370.99h9.38v1.76h-9.38zM32.9 373.3h9.38v1.76h-9.38zM52.9 373.3h9.38v1.76h-9.38zM262.9 373.3h9.38v1.76h-9.38zM82.9 375.6h9.38v1.76h-9.38zM142.9 375.6h9.38v1.76h-9.38zM152.9 375.6h9.38v1.76h-9.38zM32.9 380.22h9.38v1.76h-9.38zM192.9 380.22h9.38v1.76h-9.38zM212.9 382.53h9.38v1.76h-9.38zM232.9 382.53h9.38v1.76h-9.38zM262.9 384.84h9.38v1.76h-9.38zM182.9 387.14h9.38v1.76h-9.38zM202.9 387.14h9.38v1.76h-9.38zM252.9 391.76h9.38v1.76h-9.38zM262.9 391.76h9.38v1.76h-9.38zM52.9 394.07h9.38v1.76h-9.38zM122.9 394.07h9.38v1.76h-9.38zM152.9 394.07h9.38v1.76h-9.38zM162.9 394.07h9.38v1.76h-9.38zM212.9 394.07h9.38v1.76h-9.38zM232.9 394.07h9.38v1.76h-9.38zM242.9 394.07h9.38v1.76h-9.38zM252.9 394.07h9.38v1.76h-9.38zM212.9 398.68h9.38v1.76h-9.38zM232.9 398.68h9.38v1.76h-9.38zM242.9 398.68h9.38v1.76h-9.38zM122.9 400.99h9.38v1.76h-9.38zM182.9 400.99h9.38v1.76h-9.38zM132.9 403.3h9.38v1.76h-9.38zM202.9 403.3h9.38v1.76h-9.38zM262.9 403.3h9.38v1.76h-9.38zM62.9 405.61h9.38v1.76h-9.38zM152.9 405.61h9.38v1.76h-9.38zM232.9 405.61h9.38v1.76h-9.38zM242.9 405.61h9.38v1.76h-9.38zM62.9 407.92h9.38v1.76h-9.38zM72.9 407.92h9.38v1.76h-9.38zM112.9 407.92h9.38v1.76h-9.38zM152.9 407.92h9.38v1.76h-9.38zM132.9 410.22h9.38v1.76h-9.38zM142.9 410.22h9.38v1.76h-9.38zM182.9 410.22h9.38v1.76h-9.38zM212.9 410.22h9.38v1.76h-9.38zM242.9 410.22h9.38v1.76h-9.38zM252.9 410.22h9.38v1.76h-9.38zM162.9 412.53h9.38v1.76h-9.38zM242.9 412.53h9.38v1.76h-9.38zM82.9 414.84h9.38v1.76h-9.38zM112.9 414.84h9.38v1.76h-9.38zM132.9 414.84h9.38v1.76h-9.38zM142.9 414.84h9.38v1.76h-9.38zM162.9 414.84h9.38v1.76h-9.38zM172.9 414.84h9.38v1.76h-9.38zM182.9 414.84h9.38v1.76h-9.38zM202.9 414.84h9.38v1.76h-9.38zM212.9 414.84h9.38v1.76h-9.38zM252.9 414.84h9.38v1.76h-9.38zM132.9 417.15h9.38v1.76h-9.38zM32.9 421.76h9.38v1.76h-9.38zM42.9 421.76h9.38v1.76h-9.38zM32.9 424.07h9.38v1.76h-9.38zM52.9 424.07h9.38v1.76h-9.38zM62.9 424.07h9.38v1.76h-9.38zM262.9 424.07h9.38v1.76h-9.38zM102.9 428.69h9.38v1.76h-9.38zM242.9 428.69h9.38v1.76h-9.38zM42.9 431h9.38v1.76h-9.38zM142.9 431h9.38v1.76h-9.38zM182.9 431h9.38v1.76h-9.38zM192.9 431h9.38v1.76h-9.38zM202.9 431h9.38v1.76h-9.38zM262.9 431h9.38v1.76h-9.38zM132.9 435.61h9.38v1.76h-9.38zM142.9 435.61h9.38v1.76h-9.38zM152.9 435.61h9.38v1.76h-9.38zM212.9 435.61h9.38v1.76h-9.38zM242.9 435.61h9.38v1.76h-9.38zM32.9 437.92h9.38v1.76h-9.38zM52.9 437.92h9.38v1.76h-9.38zM132.9 440.23h9.38v1.76h-9.38zM212.9 444.84h9.38v1.76h-9.38zM232.9 444.84h9.38v1.76h-9.38zM92.9 449.46h9.38v1.76h-9.38zM182.9 449.46h9.38v1.76h-9.38zM82.9 451.77h9.38v1.76h-9.38zM152.9 451.77h9.38v1.76h-9.38zM192.9 451.77h9.38v1.76h-9.38zM252.9 456.38h9.38v1.76h-9.38zM102.9 458.69h9.38v1.76h-9.38zM202.9 458.69h9.38v1.76h-9.38zM62.9 463.31h9.38v1.76h-9.38zM82.9 463.31h9.38v1.76h-9.38zM172.9 463.31h9.38v1.76h-9.38zM182.9 463.31h9.38v1.76h-9.38zM52.9 465.62h9.38v1.76h-9.38zM232.9 465.62h9.38v1.76h-9.38zM102.9 470.23h9.38v1.76h-9.38zM112.9 470.23h9.38v1.76h-9.38zM162.9 470.23h9.38v1.76h-9.38zM172.9 470.23h9.38v1.76h-9.38zM242.9 470.23h9.38v1.76h-9.38zM262.9 470.23h9.38v1.76h-9.38zM32.9 474.85h9.38v1.76h-9.38zM52.9 474.85h9.38v1.76h-9.38zM62.9 474.85h9.38v1.76h-9.38zM102.9 474.85h9.38v1.76h-9.38zM152.9 474.85h9.38v1.76h-9.38zM212.9 474.85h9.38v1.76h-9.38zM242.9 474.85h9.38v1.76h-9.38zM262.9 474.85h9.38v1.76h-9.38zM92.9 477.16h9.38v1.76h-9.38zM112.9 477.16h9.38v1.76h-9.38zM182.9 477.16h9.38v1.76h-9.38zM182.9 479.46h9.38v1.76h-9.38zM62.9 481.77h9.38v1.76h-9.38zM92.9 481.77h9.38v1.76h-9.38zM202.9 481.77h9.38v1.76h-9.38zM102.9 484.08h9.38v1.76h-9.38zM172.9 484.08h9.38v1.76h-9.38zM182.9 484.08h9.38v1.76h-9.38zM192.9 484.08h9.38v1.76h-9.38zM202.9 484.08h9.38v1.76h-9.38zM72.9 486.39h9.38v1.76h-9.38zM92.9 486.39h9.38v1.76h-9.38zM152.9 486.39h9.38v1.76h-9.38zM42.9 488.7h9.38v1.76h-9.38zM62.9 488.7h9.38v1.76h-9.38zM92.9 491h9.38v1.76h-9.38zM132.9 491h9.38v1.76h-9.38zM102.9 493.31h9.38v1.76h-9.38zM52.9 495.62h9.38v1.76h-9.38zM202.9 495.62h9.38v1.76h-9.38zM252.9 495.62h9.38v1.76h-9.38zM42.9 497.93h9.38v1.76h-9.38zM112.9 497.93h9.38v1.76h-9.38zM132.9 497.93h9.38v1.76h-9.38zM122.9 500.24h9.38v1.76h-9.38zM132.9 500.24h9.38v1.76h-9.38zM112.9 502.54h9.38v1.76h-9.38zM152.9 502.54h9.38v1.76h-9.38zM172.9 502.54h9.38v1.76h-9.38zM242.9 502.54h9.38v1.76h-9.38zM82.9 504.85h9.38v1.76h-9.38zM162.9 504.85h9.38v1.76h-9.38zM242.9 504.85h9.38v1.76h-9.38zM32.9 509.47h9.38v1.76h-9.38zM82.9 509.47h9.38v1.76h-9.38zM132.9 509.47h9.38v1.76h-9.38zM242.9 509.47h9.38v1.76h-9.38zM202.9 511.78h9.38v1.76h-9.38zM92.9 516.39h9.38v1.76h-9.38zM152.9 516.39h9.38v1.76h-9.38z"/>
<path fill="#6e96c8" d="M162.9 287.9h9.38v1.76h-9.38zM172.9 287.9h9.38v1.76h-9.38zM132.9 290.21h9.38v1.76h-9.38zM152.9 290.21h9.38v1.76h-9.38zM262.9 290.21h9.38v1.76h-9.38zM32.9 292.52h9.38v1.76h-9.38zM52.9 292.52h9.38v1.76h-9.38zM132.9 292.52h9.38v1.76h-9.38zM162.9 292.52h9.38v1.76h-9.38zM102.9 294.82h9.38v1.76h-9.38zM122.9 294.82h9.38v1.76h-9.38zM132.9 294.82h9.38v1.76h-9.38zM212.9 294.82h9.38v1.76h-9.38zM32.9 297.13h9.38v1.76h-9.38zM152.9 297.13h9.38v1.76h-9.38zM172.9 297.13h9.38v1.76h-9.38zM242.9 297.13h9.38v1.76h-9.38zM262.9 297.13h9.38v1.76h-9.38zM32.9 301.75h9.38v1.76h-9.38zM42.9 301.75h9.38v1.76h-9.38zM132.9 301.75h9.38v1.76h-9.38zM52.9 304.06h9.38v1.76h-9.38zM112.9 304.06h9.38v1.76h-9.38zM132.9 304.06h9.38v1.76h-9.38zM142.9 304.06h9.38v1.76h-9.38zM202.9 304.06h9.38v1.76h-9.38zM222.9 304.06h9.38v1.76h-9.38zM232.9 304.06h9.38v1.76h-9.38zM262.9 304.06h9.38v1.76h-9.38zM92.9 308.67h9.38v1.76h-9.38zM252.9 308.67h9.38v1.76h-9.38zM232.9 313.29h9.38v1.76h-9.38zM32.9 315.6h9.38v1.76h-9.38zM212.9 315.6h9.38v1.76h-9.38zM222.9 315.6h9.38v1.76h-9.38zM72.9 317.9h9.38v1.76h-9.38zM182.9 317.9h9.38v1.76h-9.38zM192.9 317.9h9.38v1.76h-9.38zM212.9 317.9h9.38v1.76h-9.38zM242.9 317.9h9.38v1.76h-9.38zM122.9 327.14h9.38v1.76h-9.38zM182.9 327.14h9.38v1.76h-9.38zM202.9 327.14h9.38v1.76h-9.38zM32.9 329.44h9.38v1.76h-9.38zM92.9 329.44h9.38v1.76h-9.38zM102.9 329.44h9.38v1.76h-9.38zM252.9 329.44h9.38v1.76h-9.38zM262.9 329.44h9.38v1.76h-9.38zM242.9 331.75h9.38v1.76h-9.38zM222.9 336.37h9.38v1.76h-9.38zM52.9 340.98h9.38v1.76h-9.38zM212.9 340.98h9.38v1.76h-9.38zM262.9 340.98h9.38v1.76h-9.38zM152.9 343.29h9.38v1.76h-9.38zM242.9 343.29h9.38v1.76h-9.38zM262.9 343.29h9.38v1.76h-9.38zM62.9 345.6h9.38v1.76h-9.38zM82.9 345.6h9.38v1.76h-9.38zM112.9 345.6h9.38v1.76h-9.38zM242.9 345.6h9.38v1.76h-9.38zM152.9 347.91h9.38v1.76h-9.38zM122.9 352.52h9.38v1.76h-9.38zM162.9 352.52h9.38v1.76h-9.38zM232.9 352.52h9.38v1.76h-9.38zM112.9 354.83h9.38v1.76h-9.38zM172.9 354.83h9.38v1.76h-9.38zM252.9 354.83h9.38v1.76h-9.38zM102.9 357.14h9.38v1.76h-9.38zM112.9 357.14h9.38v1.76h-9.38zM122.9 357.14h9.38v1.76h-9.38zM242.9 357.14h9.38v1.76h-9.38zM262.9 357.14h9.38v1.76h-9.38zM132.9 359.45h9.38v1.76h-9.38zM172.9 359.45h9.38v1.76h-9.38zM192.9 359.45h9.38v1.76h-9.38zM142.9 361.76h9.38v1.76h-9.38zM72.9 364.06h9.38v1.76h-9.38zM102.9 364.06h9.38v1.76h-9.38zM172.9 364.06h9.38v1.76h-9.38zM42.9 366.37h9.38v1.76h-9.38zM52.9 366.37h9.38v1.76h-9.38zM142.9 366.37h9.38v1.76h-9.38zM212.9 366.37h9.38v1.76h-9.38zM222.9 366.37h9.38v1.76h-9.38zM262.9 366.37h9.38v1.76h-9.38zM72.9 368.68h9.38v1.76h-9.38zM112.9 368.68h9.38v1.76h-9.38zM152.9 368.68h9.38v1.76h-9.38zM162.9 368.68h9.38v1.76h-9.38zM202.9 368.68h9.38v1.76h-9.38zM212.9 368.68h9.38v1.76h-9.38zM42.9 373.3h9.38v1.76h-9.38zM142.9 373.3h9.38v1.76h-9.38zM232.9 373.3h9.38v1.76h-9.38zM252.9 373.3h9.38v1.76h-9.38zM132.9 375.6h9.38v1.76h-9.38zM112.9 377.91h9.38v1.76h-9.38zM72.9 380.22h9.38v1.76h-9.38zM82.9 380.22h9.38v1.76h-9.38zM262.9 380.22h9.38v1.76h-9.38zM72.9 382.53h9.38v1.76h-9.38zM82.9 382.53h9.38v1.76h-9.38zM92.9 382.53h9.38v1.76h-9.38zM252.9 382.53h9.38v1.76h-9.38zM262.9 382.53h9.38v1.76h-9.38zM152.9 387.14h9.38v1.76h-9.38zM242.9 387.14h9.38v1.76h-9.38zM32.9 391.76h9.38v1.76h-9.38zM182.9 391.76h9.38v1.76h-9.38zM202.9 391.76h9.38v1.76h-9.38zM242.9 391.76h9.38v1.76h-9.38zM172.9 394.07h9.38v1.76h-9.38zM42.9 398.68h9.38v1.76h-9.38zM72.9 398.68h9.38v1.76h-9.38zM132.9 400.99h9.38v1.76h-9.38zM152.9 400.99h9.38v1.76h-9.38zM202.9 400.99h9.38v1.76h-9.38zM142.9 403.3h9.38v1.76h-9.38zM152.9 403.3h9.38v1.76h-9.38zM162.9 403.3h9.38v1.76h-9.38zM252.9 405.61h9.38v1.76h-9.38zM92.9 407.92h9.38v1.76h-9.38zM102.9 407.92h9.38v1.76h-9.38zM172.9 407.92h9.38v1.76h-9.38zM182.9 407.92h9.38v1.76h-9.38zM222.9 407.92h9.38v1.76h-9.38zM242.9 407.92h9.38v1.76h-9.38zM252.9 407.92h9.38v1.76h-9.38zM262.9 407.92h9.38v1.76h-9.38zM42.9 412.53h9.38v1.76h-9.38zM112.9 412.53h9.38v1.76h-9.38zM152.9 412.53h9.38v1.76h-9.38zM192.9 412.53h9.38v1.76h-9.38zM52.9 414.84h9.38v1.76h-9.38zM62.9 414.84h9.38v1.76h-9.38zM222.9 414.84h9.38v1.76h-9.38zM242.9 414.84h9.38v1.76h-9.38zM72.9 417.15h9.38v1.76h-9.38zM92.9 417.15h9.38v1.76h-9.38zM142.9 417.15h9.38v1.76h-9.38zM152.9 417.15h9.38v1.76h-9.38zM252.9 417.15h9.38v1.76h-9.38zM52.9 421.76h9.38v1.76h-9.38zM222.9 421.76h9.38v1.76h-9.38zM232.9 421.76h9.38v1.76h-9.38zM252.9 421.76h9.38v1.76h-9.38zM262.9 421.76h9.38v1.76h-9.38zM252.9 424.07h9.38v1.76h-9.38zM112.9 428.69h9.38v1.76h-9.38zM32.9 431h9.38v1.76h-9.38zM252.9 431h9.38v1.76h-9.38zM262.9 433.3h9.38v1.76h-9.38zM62.9 435.61h9.38v1.76h-9.38zM202.9 435.61h9.38v1.76h-9.38zM42.9 437.92h9.38v1.76h-9.38zM72.9 437.92h9.38v1.76h-9.38zM192.9 437.92h9.38v1.76h-9.38zM242.9 437.92h9.38v1.76h-9.38zM252.9 437.92h9.38v1.76h-9.38zM32.9 440.23h9.38v1.76h-9.38zM52.9 440.23h9.38v1.76h-9.38zM62.9 440.23h9.38v1.76h-9.38zM82.9 440.23h9.38v1.76h-9.38zM122.9 440.23h9.38v1.76h-9.38zM242.9 440.23h9.38v1.76h-9.38zM252.9 440.23h9.38v1.76h-9.38zM172.9 444.84h9.38v1.76h-9.38zM112.9 449.46h9.38v1.76h-9.38zM122.9 449.46h9.38v1.76h-9.38zM172.9 449.46h9.38v1.76h-9.38zM192.9 449.46h9.38v1.76h-9.38zM202.9 449.46h9.38v1.76h-9.38zM262.9 449.46h9.38v1.76h-9.38zM32.9 451.77h9.38v1.76h-9.38zM182.9 451.77h9.38v1.76h-9.38zM202.9 451.77h9.38v1.76h-9.38zM102.9 454.08h9.38v1.76h-9.38zM212.9 454.08h9.38v1.76h-9.38zM222.9 454.08h9.38v1.76h-9.38zM152.9 463.31h9.38v1.76h-9.38zM92.9 465.62h9.38v1.76h-9.38zM152.9 465.62h9.38v1.76h-9.38zM242.9 465.62h9.38v1.76h-9.38zM152.9 467.92h9.38v1.76h-9.38zM32.9 470.23h9.38v1.76h-9.38zM52.9 470.23h9.38v1.76h-9.38zM72.9 470.23h9.38v1.76h-9.38zM122.9 470.23h9.38v1.76h-9.38zM132.9 470.23h9.38v1.76h-9.38zM252.9 470.23h9.38v1.76h-9.38zM82.9 474.85h9.38v1.76h-9.38zM172.9 474.85h9.38v1.76h-9.38zM182.9 474.85h9.38v1.76h-9.38zM192.9 474.85h9.38v1.76h-9.38zM32.9 477.16h9.38v1.76h-9.38zM42.9 477.16h9.38v1.76h-9.38zM192.9 477.16h9.38v1.76h-9.38zM102.9 479.46h9.38v1.76h-9.38zM222.9 479.46h9.38v1.76h-9.38zM262.9 479.46h9.38v1.76h-9.38zM72.9 481.77h9.38v1.76h-9.38zM82.9 481.77h9.38v1.76h-9.38zM132.9 481.77h9.38v1.76h-9.38zM142.9 481.77h9.38v1.76h-9.38zM262.9 481.77h9.38v1.76h-9.38zM32.9 484.08h9.38v1.76h-9.38zM82.9 484.08h9.38v1.76h-9.38zM152.9 484.08h9.38v1.76h-9.38zM62.9 486.39h9.38v1.76h-9.38zM72.9 488.7h9.38v1.76h-9.38zM82.9 488.7h9.38v1.76h-9.38zM202.9 488.7h9.38v1.76h-9.38zM42.9 493.31h9.38v1.76h-9.38zM32.9 495.62h9.38v1.76h-9.38zM122.9 495.62h9.38v1.76h-9.38zM142.9 495.62h9.38v1.76h-9.38zM152.9 495.62h9.38v1.76h-9.38zM162.9 495.62h9.38v1.76h-9.38zM232.9 495.62h9.38v1.76h-9.38zM122.9 497.93h9.38v1.76h-9.38zM102.9 500.24h9.38v1.76h-9.38zM232.9 502.54h9.38v1.76h-9.38zM42.9 504.85h9.38v1.76h-9.38zM232.9 504.85h9.38v1.76h-9.38zM42.9 509.47h9.38v1.76h-9.38zM92.9 509.47h9.38v1.76h-9.38zM152.9 509.47h9.38v1.76h-9.38zM172.9 509.47h9.38v1.76h-9.38zM182.9 509.47h9.38v1.76h-9.38zM252.9 509.47h9.38v1.76h-9.38zM262.9 509.47h9.38v1.76h-9.38zM92.9 511.78h9.38v1.76h-9.38zM182.9 511.78h9.38v1.76h-9.38zM262.9 511.78h9.38v1.76h-9.38zM42.9 514.08h9.38v1.76h-9.38zM72.9 514.08h9.38v1.76h-9.38zM82.9 514.08h9.38v1.76h-9.38zM132.9 514.08h9.38v1.76h-9.38zM162.9 514.08h9.38v1.76h-9.38zM172.9 514.08h9.38v1.76h-9.38zM212.9 514.08h9.38v1.76h-9.38z"/>
<path fill="#6a94c7" d="M192.9 287.9h9.38v1.76h-9.38zM172.9 290.21h9.38v1.76h-9.38zM92.9 294.82h9.38v1.76h-9.38zM142.9 294.82h9.38v1.76h-9.38zM52.9 297.13h9.38v1.76h-9.38zM92.9 301.75h9.38v1.76h-9.38zM112.9 301.75h9.38v1.76h-9.38zM172.9 301.75h9.38v1.76h-9.38zM152.9 304.06h9.38v1.76h-9.38zM172.9 304.06h9.38v1.76h-9.38zM42.9 308.67h9.38v1.76h-9.38zM52.9 308.67h9.38v1.76h-9.38zM252.9 317.9h9.38v1.76h-9.38zM32.9 327.14h9.38v1.76h-9.38zM42.9 329.44h9.38v1.76h-9.38zM62.9 329.44h9.38v1.76h-9.38zM72.9 329.44h9.38v1.76h-9.38zM132.9 329.44h9.38v1.76h-9.38zM162.9 329.44h9.38v1.76h-9.38zM182.9 329.44h9.38v1.76h-9.38zM232.9 329.44h9.38v1.76h-9.38zM222.9 334.06h9.38v1.76h-9.38zM132.9 338.68h9.38v1.76h-9.38zM142.9 338.68h9.38v1.76h-9.38zM172.9 340.98h9.38v1.76h-9.38zM222.9 340.98h9.38v1.76h-9.38zM232.9 340.98h9.38v1.76h-9.38zM32.9 343.29h9.38v1.76h-9.38zM52.9 343.29h9.38v1.76h-9.38zM222.9 343.29h9.38v1.76h-9.38zM252.9 343.29h9.38v1.76h-9.38zM42.9 345.6h9.38v1.76h-9.38zM132.9 345.6h9.38v1.76h-9.38zM182.9 345.6h9.38v1.76h-9.38zM202.9 345.6h9.38v1.76h-9.38zM112.9 347.91h9.38v1.76h-9.38zM232.9 350.22h9.38v1.76h-9.38zM212.9 352.52h9.38v1.76h-9.38zM222.9 352.52h9.38v1.76h-9.38zM242.9 352.52h9.38v1.76h-9.38zM262.9 352.52h9.38v1.76h-9.38zM62.9 354.83h9.38v1.76h-9.38zM132.9 354.83h9.38v1.76h-9.38zM142.9 354.83h9.38v1.76h-9.38zM92.9 357.14h9.38v1.76h-9.38zM252.9 357.14h9.38v1.76h-9.38zM122.9 359.45h9.38v1.76h-9.38zM62.9 361.76h9.38v1.76h-9.38zM72.9 361.76h9.38v1.76h-9.38zM82.9 361.76h9.38v1.76h-9.38zM102.9 361.76h9.38v1.76h-9.38zM62.9 364.06h9.38v1.76h-9.38zM122.9 364.06h9.38v1.76h-9.38zM162.9 364.06h9.38v1.76h-9.38zM182.9 364.06h9.38v1.76h-9.38zM222.9 368.68h9.38v1.76h-9.38zM62.9 370.99h9.38v1.76h-9.38zM132.9 370.99h9.38v1.76h-9.38zM162.9 370.99h9.38v1.76h-9.38zM252.9 370.99h9.38v1.76h-9.38zM82.9 373.3h9.38v1.76h-9.38zM122.9 373.3h9.38v1.76h-9.38zM212.9 373.3h9.38v1.76h-9.38zM102.9 377.91h9.38v1.76h-9.38zM152.9 377.91h9.38v1.76h-9.38zM112.9 380.22h9.38v1.76h-9.38zM182.9 380.22h9.38v1.76h-9.38zM202.9 380.22h9.38v1.76h-9.38zM42.9 382.53h9.38v1.76h-9.38zM142.9 384.84h9.38v1.76h-9.38zM262.9 387.14h9.38v1.76h-9.38zM52.9 391.76h9.38v1.76h-9.38zM112.9 391.76h9.38v1.76h-9.38zM212.9 391.76h9.38v1.76h-9.38zM222.9 391.76h9.38v1.76h-9.38zM232.9 391.76h9.38v1.76h-9.38zM72.9 394.07h9.38v1.76h-9.38zM92.9 394.07h9.38v1.76h-9.38zM112.9 394.07h9.38v1.76h-9.38zM112.9 396.38h9.38v1.76h-9.38zM62.9 398.68h9.38v1.76h-9.38zM92.9 398.68h9.38v1.76h-9.38zM132.9 398.68h9.38v1.76h-9.38zM162.9 398.68h9.38v1.76h-9.38zM172.9 398.68h9.38v1.76h-9.38zM162.9 400.99h9.38v1.76h-9.38zM232.9 400.99h9.38v1.76h-9.38zM172.9 403.3h9.38v1.76h-9.38zM182.9 405.61h9.38v1.76h-9.38zM212.9 405.61h9.38v1.76h-9.38zM192.9 407.92h9.38v1.76h-9.38zM212.9 407.92h9.38v1.76h-9.38zM52.9 412.53h9.38v1.76h-9.38zM232.9 412.53h9.38v1.76h-9.38zM72.9 421.76h9.38v1.76h-9.38zM82.9 421.76h9.38v1.76h-9.38zM112.9 421.76h9.38v1.76h-9.38zM172.9 421.76h9.38v1.76h-9.38zM182.9 421.76h9.38v1.76h-9.38zM72.9 424.07h9.38v1.76h-9.38zM102.9 424.07h9.38v1.76h-9.38zM112.9 424.07h9.38v1.76h-9.38zM172.9 424.07h9.38v1.76h-9.38zM242.9 424.07h9.38v1.76h-9.38zM62.9 428.69h9.38v1.76h-9.38zM82.9 428.69h9.38v1.76h-9.38zM72.9 435.61h9.38v1.76h-9.38zM82.9 435.61h9.38v1.76h-9.38zM62.9 449.46h9.38v1.76h-9.38zM102.9 449.46h9.38v1.76h-9.38zM132.9 449.46h9.38v1.76h-9.38zM242.9 449.46h9.38v1.76h-9.38zM112.9 451.77h9.38v1.76h-9.38zM212.9 451.77h9.38v1.76h-9.38zM222.9 451.77h9.38v1.76h-9.38zM142.9 454.08h9.38v1.76h-9.38zM112.9 463.31h9.38v1.76h-9.38zM192.9 463.31h9.38v1.76h-9.38zM132.9 465.62h9.38v1.76h-9.38zM172.9 465.62h9.38v1.76h-9.38zM152.9 470.23h9.38v1.76h-9.38zM72.9 474.85h9.38v1.76h-9.38zM112.9 474.85h9.38v1.76h-9.38zM252.9 474.85h9.38v1.76h-9.38zM42.9 479.46h9.38v1.76h-9.38zM92.9 479.46h9.38v1.76h-9.38zM112.9 479.46h9.38v1.76h-9.38zM182.9 481.77h9.38v1.76h-9.38zM42.9 484.08h9.38v1.76h-9.38zM62.9 484.08h9.38v1.76h-9.38zM262.9 484.08h9.38v1.76h-9.38zM172.9 486.39h9.38v1.76h-9.38zM112.9 488.7h9.38v1.76h-9.38zM32.9 493.31h9.38v1.76h-9.38zM242.9 493.31h9.38v1.76h-9.38zM262.9 493.31h9.38v1.76h-9.38zM242.9 495.62h9.38v1.76h-9.38zM262.9 495.62h9.38v1.76h-9.38zM62.9 500.24h9.38v1.76h-9.38zM32.9 504.85h9.38v1.76h-9.38zM62.9 504.85h9.38v1.76h-9.38zM212.9 504.85h9.38v1.76h-9.38zM262.9 504.85h9.38v1.76h-9.38zM72.9 509.47h9.38v1.76h-9.38zM112.9 509.47h9.38v1.76h-9.38zM122.9 509.47h9.38v1.76h-9.38zM142.9 509.47h9.38v1.76h-9.38zM192.9 509.47h9.38v1.76h-9.38zM202.9 509.47h9.38v1.76h-9.38zM212.9 509.47h9.38v1.76h-9.38zM62.9 511.78h9.38v1.76h-9.38zM102.9 511.78h9.38v1.76h-9.38zM252.9 511.78h9.38v1.76h-9.38zM62.9 514.08h9.38v1.76h-9.38zM142.9 514.08h9.38v1.76h-9.38zM162.9 516.39h9.38v1.76h-9.38z"/>
<path fill="#6692c7" d="M112.9 290.21h9.38v1.76h-9.38zM42.9 292.52h9.38v1.76h-9.38zM172.9 292.52h9.38v1.76h-9.38zM262.9 292.52h9.38v1.76h-9.38zM182.9 301.75h9.38v1.76h-9.38zM202.9 301.75h9.38v1.76h-9.38zM242.9 301.75h9.38v1.76h-9.38zM252.9 301.75h9.38v1.76h-9.38zM32.9 304.06h9.38v1.76h-9.38zM92.9 304.06h9.38v1.76h-9.38zM162.9 304.06h9.38v1.76h-9.38zM212.9 304.06h9.38v1.76h-9.38zM182.9 308.67h9.38v1.76h-9.38zM222.9 313.29h9.38v1.76h-9.38zM202.9 315.6h9.38v1.76h-9.38zM32.9 317.9h9.38v1.76h-9.38zM42.9 317.9h9.38v1.76h-9.38zM82.9 317.9h9.38v1.76h-9.38zM232.9 322.52h9.38v1.76h-9.38zM222.9 327.14h9.38v1.76h-9.38zM122.9 329.44h9.38v1.76h-9.38zM142.9 329.44h9.38v1.76h-9.38zM242.9 329.44h9.38v1.76h-9.38zM122.9 331.75h9.38v1.76h-9.38zM162.9 331.75h9.38v1.76h-9.38zM102.9 340.98h9.38v1.76h-9.38zM152.9 340.98h9.38v1.76h-9.38zM202.9 340.98h9.38v1.76h-9.38zM82.9 343.29h9.38v1.76h-9.38zM162.9 343.29h9.38v1.76h-9.38zM182.9 343.29h9.38v1.76h-9.38zM232.9 343.29h9.38v1.76h-9.38zM142.9 345.6h9.38v1.76h-9.38zM212.9 345.6h9.38v1.76h-9.38zM142.9 352.52h9.38v1.76h-9.38zM182.9 352.52h9.38v1.76h-9.38zM122.9 354.83h9.38v1.76h-9.38zM222.9 354.83h9.38v1.76h-9.38zM132.9 357.14h9.38v1.76h-9.38zM162.9 357.14h9.38v1.76h-9.38zM172.9 357.14h9.38v1.76h-9.38zM192.9 357.14h9.38v1.76h-9.38zM232.9 361.76h9.38v1.76h-9.38zM132.9 364.06h9.38v1.76h-9.38zM152.9 364.06h9.38v1.76h-9.38zM232.9 366.37h9.38v1.76h-9.38zM32.9 370.99h9.38v1.76h-9.38zM42.9 370.99h9.38v1.76h-9.38zM102.9 370.99h9.38v1.76h-9.38zM142.9 370.99h9.38v1.76h-9.38zM212.9 370.99h9.38v1.76h-9.38zM62.9 373.3h9.38v1.76h-9.38zM132.9 373.3h9.38v1.76h-9.38zM192.9 373.3h9.38v1.76h-9.38zM202.9 373.3h9.38v1.76h-9.38zM222.9 373.3h9.38v1.76h-9.38zM242.9 373.3h9.38v1.76h-9.38zM32.9 377.91h9.38v1.76h-9.38zM42.9 377.91h9.38v1.76h-9.38zM252.9 377.91h9.38v1.76h-9.38zM32.9 382.53h9.38v1.76h-9.38zM52.9 382.53h9.38v1.76h-9.38zM192.9 391.76h9.38v1.76h-9.38zM52.9 398.68h9.38v1.76h-9.38zM102.9 398.68h9.38v1.76h-9.38zM222.9 398.68h9.38v1.76h-9.38zM252.9 398.68h9.38v1.76h-9.38zM262.9 398.68h9.38v1.76h-9.38zM92.9 400.99h9.38v1.76h-9.38zM102.9 400.99h9.38v1.76h-9.38zM172.9 400.99h9.38v1.76h-9.38zM212.9 400.99h9.38v1.76h-9.38zM242.9 400.99h9.38v1.76h-9.38zM252.9 400.99h9.38v1.76h-9.38zM182.9 403.3h9.38v1.76h-9.38zM202.9 405.61h9.38v1.76h-9.38zM92.9 412.53h9.38v1.76h-9.38zM102.9 412.53h9.38v1.76h-9.38zM212.9 412.53h9.38v1.76h-9.38zM32.9 417.15h9.38v1.76h-9.38zM52.9 417.15h9.38v1.76h-9.38zM232.9 417.15h9.38v1.76h-9.38zM262.9 417.15h9.38v1.76h-9.38zM92.9 421.76h9.38v1.76h-9.38zM102.9 421.76h9.38v1.76h-9.38zM122.9 421.76h9.38v1.76h-9.38zM142.9 421.76h9.38v1.76h-9.38zM192.9 421.76h9.38v1.76h-9.38zM202.9 421.76h9.38v1.76h-9.38zM92.9 424.07h9.38v1.76h-9.38zM162.9 424.07h9.38v1.76h-9.38zM72.9 428.69h9.38v1.76h-9.38zM152.9 428.69h9.38v1.76h-9.38zM192.9 428.69h9.38v1.76h-9.38zM222.9 428.69h9.38v1.76h-9.38zM92.9 437.92h9.38v1.76h-9.38zM112.9 437.92h9.38v1.76h-9.38zM152.9 437.92h9.38v1.76h-9.38zM262.9 437.92h9.38v1.76h-9.38zM32.9 449.46h9.38v1.76h-9.38zM42.9 449.46h9.38v1.76h-9.38zM52.9 449.46h9.38v1.76h-9.38zM152.9 449.46h9.38v1.76h-9.38zM162.9 449.46h9.38v1.76h-9.38zM222.9 449.46h9.38v1.76h-9.38zM52.9 451.77h9.38v1.76h-9.38zM92.9 451.77h9.38v1.76h-9.38zM232.9 451.77h9.38v1.76h-9.38zM122.9 454.08h9.38v1.76h-9.38zM82.9 456.38h9.38v1.76h-9.38zM112.9 456.38h9.38v1.76h-9.38zM242.9 456.38h9.38v1.76h-9.38zM202.9 463.31h9.38v1.76h-9.38zM102.9 465.62h9.38v1.76h-9.38zM112.9 465.62h9.38v1.76h-9.38zM32.9 479.46h9.38v1.76h-9.38zM212.9 479.46h9.38v1.76h-9.38zM252.9 481.77h9.38v1.76h-9.38zM162.9 484.08h9.38v1.76h-9.38zM242.9 484.08h9.38v1.76h-9.38zM252.9 484.08h9.38v1.76h-9.38zM92.9 488.7h9.38v1.76h-9.38zM102.9 488.7h9.38v1.76h-9.38zM162.9 488.7h9.38v1.76h-9.38zM252.9 493.31h9.38v1.76h-9.38zM42.9 495.62h9.38v1.76h-9.38zM112.9 495.62h9.38v1.76h-9.38zM132.9 495.62h9.38v1.76h-9.38zM212.9 495.62h9.38v1.76h-9.38zM102.9 497.93h9.38v1.76h-9.38zM92.9 500.24h9.38v1.76h-9.38zM142.9 500.24h9.38v1.76h-9.38zM172.9 500.24h9.38v1.76h-9.38zM212.9 500.24h9.38v1.76h-9.38zM222.9 500.24h9.38v1.76h-9.38zM232.9 500.24h9.38v1.76h-9.38zM92.9 502.54h9.38v1.76h-9.38zM262.9 502.54h9.38v1.76h-9.38zM52.9 504.85h9.38v1.76h-9.38zM72.9 504.85h9.38v1.76h-9.38zM152.9 507.16h9.38v1.76h-9.38zM212.9 507.16h9.38v1.76h-9.38zM52.9 509.47h9.38v1.76h-9.38zM62.9 509.47h9.38v1.76h-9.38zM102.9 509.47h9.38v1.76h-9.38zM162.9 509.47h9.38v1.76h-9.38zM152.9 511.78h9.38v1.76h-9.38zM192.9 511.78h9.38v1.76h-9.38zM152.9 514.08h9.38v1.76h-9.38zM232.9 514.08h9.38v1.76h-9.38z"/>
<path fill="#6490c6" d="M102.9 290.21h9.38v1.76h-9.38zM142.9 292.52h9.38v1.76h-9.38zM182.9 292.52h9.38v1.76h-9.38zM242.9 292.52h9.38v1.76h-9.38zM62.9 301.75h9.38v1.76h-9.38zM102.9 301.75h9.38v1.76h-9.38zM152.9 301.75h9.38v1.76h-9.38zM162.9 301.75h9.38v1.76h-9.38zM192.9 301.75h9.38v1.76h-9.38zM52.9 317.9h9.38v1.76h-9.38zM222.9 322.52h9.38v1.76h-9.38zM212.9 327.14h9.38v1.76h-9.38zM232.9 327.14h9.38v1.76h-9.38zM172.9 329.44h9.38v1.76h-9.38zM32.9 331.75h9.38v1.76h-9.38zM132.9 331.75h9.38v1.76h-9.38zM172.9 331.75h9.38v1.76h-9.38zM192.9 331.75h9.38v1.76h-9.38zM252.9 331.75h9.38v1.76h-9.38zM262.9 331.75h9.38v1.76h-9.38zM62.9 340.98h9.38v1.76h-9.38zM72.9 340.98h9.38v1.76h-9.38zM82.9 340.98h9.38v1.76h-9.38zM92.9 340.98h9.38v1.76h-9.38zM122.9 340.98h9.38v1.76h-9.38zM182.9 340.98h9.38v1.76h-9.38zM62.9 343.29h9.38v1.76h-9.38zM202.9 343.29h9.38v1.76h-9.38zM212.9 343.29h9.38v1.76h-9.38zM32.9 345.6h9.38v1.76h-9.38zM52.9 345.6h9.38v1.76h-9.38zM52.9 347.91h9.38v1.76h-9.38zM92.9 347.91h9.38v1.76h-9.38zM72.9 354.83h9.38v1.76h-9.38zM212.9 354.83h9.38v1.76h-9.38zM142.9 357.14h9.38v1.76h-9.38zM152.9 357.14h9.38v1.76h-9.38zM182.9 357.14h9.38v1.76h-9.38zM202.9 357.14h9.38v1.76h-9.38zM222.9 357.14h9.38v1.76h-9.38zM92.9 361.76h9.38v1.76h-9.38zM202.9 364.06h9.38v1.76h-9.38zM52.9 370.99h9.38v1.76h-9.38zM172.9 370.99h9.38v1.76h-9.38zM202.9 370.99h9.38v1.76h-9.38zM242.9 370.99h9.38v1.76h-9.38zM112.9 373.3h9.38v1.76h-9.38zM182.9 373.3h9.38v1.76h-9.38zM92.9 380.22h9.38v1.76h-9.38zM102.9 394.07h9.38v1.76h-9.38zM92.9 396.38h9.38v1.76h-9.38zM102.9 396.38h9.38v1.76h-9.38zM132.9 396.38h9.38v1.76h-9.38zM112.9 398.68h9.38v1.76h-9.38zM52.9 400.99h9.38v1.76h-9.38zM192.9 400.99h9.38v1.76h-9.38zM262.9 400.99h9.38v1.76h-9.38zM192.9 405.61h9.38v1.76h-9.38zM222.9 412.53h9.38v1.76h-9.38zM232.9 414.84h9.38v1.76h-9.38zM112.9 417.15h9.38v1.76h-9.38zM122.9 417.15h9.38v1.76h-9.38zM202.9 417.15h9.38v1.76h-9.38zM212.9 417.15h9.38v1.76h-9.38zM222.9 417.15h9.38v1.76h-9.38zM242.9 417.15h9.38v1.76h-9.38zM132.9 421.76h9.38v1.76h-9.38zM152.9 421.76h9.38v1.76h-9.38zM52.9 428.69h9.38v1.76h-9.38zM142.9 428.69h9.38v1.76h-9.38zM162.9 428.69h9.38v1.76h-9.38zM122.9 431h9.38v1.76h-9.38zM162.9 437.92h9.38v1.76h-9.38zM172.9 437.92h9.38v1.76h-9.38zM202.9 437.92h9.38v1.76h-9.38zM212.9 437.92h9.38v1.76h-9.38zM152.9 444.84h9.38v1.76h-9.38zM162.9 444.84h9.38v1.76h-9.38zM142.9 449.46h9.38v1.76h-9.38zM232.9 449.46h9.38v1.76h-9.38zM102.9 451.77h9.38v1.76h-9.38zM172.9 451.77h9.38v1.76h-9.38zM42.9 456.38h9.38v1.76h-9.38zM62.9 456.38h9.38v1.76h-9.38zM152.9 456.38h9.38v1.76h-9.38zM192.9 456.38h9.38v1.76h-9.38zM202.9 456.38h9.38v1.76h-9.38zM262.9 456.38h9.38v1.76h-9.38zM262.9 465.62h9.38v1.76h-9.38zM202.9 479.46h9.38v1.76h-9.38zM232.9 479.46h9.38v1.76h-9.38zM152.9 481.77h9.38v1.76h-9.38zM242.9 481.77h9.38v1.76h-9.38zM42.9 500.24h9.38v1.76h-9.38zM52.9 500.24h9.38v1.76h-9.38zM182.9 500.24h9.38v1.76h-9.38zM112.9 507.16h9.38v1.76h-9.38zM192.9 507.16h9.38v1.76h-9.38zM222.9 507.16h9.38v1.76h-9.38zM252.9 507.16h9.38v1.76h-9.38zM262.9 507.16h9.38v1.76h-9.38zM112.9 511.78h9.38v1.76h-9.38zM172.9 511.78h9.38v1.76h-9.38zM32.9 514.08h9.38v1.76h-9.38zM52.9 514.08h9.38v1.76h-9.38zM112.9 514.08h9.38v1.76h-9.38zM252.9 514.08h9.38v1.76h-9.38z"/>
<path fill="#618ec5" d="M112.9 292.52h9.38v1.76h-9.38zM212.9 292.52h9.38v1.76h-9.38zM42.9 297.13h9.38v1.76h-9.38zM82.9 301.75h9.38v1.76h-9.38zM222.9 301.75h9.38v1.76h-9.38zM32.9 308.67h9.38v1.76h-9.38zM62.9 317.9h9.38v1.76h-9.38zM212.9 322.52h9.38v1.76h-9.38zM152.9 329.44h9.38v1.76h-9.38zM52.9 331.75h9.38v1.76h-9.38zM142.9 331.75h9.38v1.76h-9.38zM232.9 331.75h9.38v1.76h-9.38zM32.9 340.98h9.38v1.76h-9.38zM112.9 340.98h9.38v1.76h-9.38zM192.9 340.98h9.38v1.76h-9.38zM192.9 343.29h9.38v1.76h-9.38zM122.9 345.6h9.38v1.76h-9.38zM162.9 345.6h9.38v1.76h-9.38zM42.9 347.91h9.38v1.76h-9.38zM162.9 347.91h9.38v1.76h-9.38zM192.9 347.91h9.38v1.76h-9.38zM252.9 347.91h9.38v1.76h-9.38zM192.9 352.52h9.38v1.76h-9.38zM82.9 354.83h9.38v1.76h-9.38zM212.9 357.14h9.38v1.76h-9.38zM222.9 361.76h9.38v1.76h-9.38zM142.9 364.06h9.38v1.76h-9.38zM192.9 364.06h9.38v1.76h-9.38zM212.9 364.06h9.38v1.76h-9.38zM92.9 370.99h9.38v1.76h-9.38zM112.9 370.99h9.38v1.76h-9.38zM222.9 370.99h9.38v1.76h-9.38zM262.9 370.99h9.38v1.76h-9.38zM72.9 373.3h9.38v1.76h-9.38zM102.9 373.3h9.38v1.76h-9.38zM92.9 377.91h9.38v1.76h-9.38zM192.9 377.91h9.38v1.76h-9.38zM202.9 377.91h9.38v1.76h-9.38zM112.9 382.53h9.38v1.76h-9.38zM242.9 382.53h9.38v1.76h-9.38zM32.9 400.99h9.38v1.76h-9.38zM42.9 400.99h9.38v1.76h-9.38zM62.9 417.15h9.38v1.76h-9.38zM82.9 417.15h9.38v1.76h-9.38zM182.9 417.15h9.38v1.76h-9.38zM192.9 417.15h9.38v1.76h-9.38zM122.9 428.69h9.38v1.76h-9.38zM172.9 428.69h9.38v1.76h-9.38zM212.9 428.69h9.38v1.76h-9.38zM232.9 428.69h9.38v1.76h-9.38zM102.9 437.92h9.38v1.76h-9.38zM182.9 437.92h9.38v1.76h-9.38zM222.9 437.92h9.38v1.76h-9.38zM232.9 437.92h9.38v1.76h-9.38zM162.9 451.77h9.38v1.76h-9.38zM92.9 456.38h9.38v1.76h-9.38zM102.9 456.38h9.38v1.76h-9.38zM182.9 456.38h9.38v1.76h-9.38zM162.9 465.62h9.38v1.76h-9.38zM52.9 479.46h9.38v1.76h-9.38zM162.9 481.77h9.38v1.76h-9.38zM92.9 495.62h9.38v1.76h-9.38zM222.9 495.62h9.38v1.76h-9.38zM112.9 500.24h9.38v1.76h-9.38zM162.9 500.24h9.38v1.76h-9.38zM192.9 500.24h9.38v1.76h-9.38zM192.9 504.85h9.38v1.76h-9.38zM92.9 507.16h9.38v1.76h-9.38zM232.9 507.16h9.38v1.76h-9.38zM122.9 514.08h9.38v1.76h-9.38zM182.9 514.08h9.38v1.76h-9.38zM222.9 514.08h9.38v1.76h-9.38zM242.9 514.08h9.38v1.76h-9.38zM262.9 514.08h9.38v1.76h-9.38z"/>
<path fill="#5f8dc4" d="M92.9 292.52h9.38v1.76h-9.38zM102.9 292.52h9.38v1.76h-9.38zM202.9 292.52h9.38v1.76h-9.38zM222.9 292.52h9.38v1.76h-9.38zM252.9 292.52h9.38v1.76h-9.38zM72.9 301.75h9.38v1.76h-9.38zM102.9 304.06h9.38v1.76h-9.38zM132.9 322.52h9.38v1.76h-9.38zM162.9 322.52h9.38v1.76h-9.38zM202.9 322.52h9.38v1.76h-9.38zM42.9 331.75h9.38v1.76h-9.38zM152.9 331.75h9.38v1.76h-9.38zM212.9 331.75h9.38v1.76h-9.38zM122.9 338.68h9.38v1.76h-9.38zM132.9 343.29h9.38v1.76h-9.38zM62.9 347.91h9.38v1.76h-9.38zM172.9 347.91h9.38v1.76h-9.38zM202.9 347.91h9.38v1.76h-9.38zM262.9 347.91h9.38v1.76h-9.38zM62.9 357.14h9.38v1.76h-9.38zM72.9 357.14h9.38v1.76h-9.38zM232.9 357.14h9.38v1.76h-9.38zM112.9 361.76h9.38v1.76h-9.38zM212.9 361.76h9.38v1.76h-9.38zM222.9 364.06h9.38v1.76h-9.38zM232.9 364.06h9.38v1.76h-9.38zM232.9 370.99h9.38v1.76h-9.38zM92.9 373.3h9.38v1.76h-9.38zM132.9 377.91h9.38v1.76h-9.38zM162.9 377.91h9.38v1.76h-9.38zM212.9 377.91h9.38v1.76h-9.38zM242.9 377.91h9.38v1.76h-9.38zM122.9 403.3h9.38v1.76h-9.38zM102.9 417.15h9.38v1.76h-9.38zM42.9 428.69h9.38v1.76h-9.38zM52.9 456.38h9.38v1.76h-9.38zM132.9 456.38h9.38v1.76h-9.38zM162.9 456.38h9.38v1.76h-9.38zM172.9 456.38h9.38v1.76h-9.38zM212.9 456.38h9.38v1.76h-9.38zM222.9 456.38h9.38v1.76h-9.38zM232.9 456.38h9.38v1.76h-9.38zM182.9 504.85h9.38v1.76h-9.38zM202.9 504.85h9.38v1.76h-9.38zM72.9 507.16h9.38v1.76h-9.38zM102.9 507.16h9.38v1.76h-9.38zM132.9 507.16h9.38v1.76h-9.38zM162.9 507.16h9.38v1.76h-9.38zM242.9 507.16h9.38v1.76h-9.38zM32.9 511.78h9.38v1.76h-9.38zM82.9 511.78h9.38v1.76h-9.38z"/>
<path fill="#5c8bc3" d="M232.9 292.52h9.38v1.76h-9.38zM212.9 301.75h9.38v1.76h-9.38zM232.9 301.75h9.38v1.76h-9.38zM92.9 322.52h9.38v1.76h-9.38zM172.9 322.52h9.38v1.76h-9.38zM182.9 322.52h9.38v1.76h-9.38zM62.9 331.75h9.38v1.76h-9.38zM72.9 331.75h9.38v1.76h-9.38zM102.9 331.75h9.38v1.76h-9.38zM182.9 331.75h9.38v1.76h-9.38zM202.9 331.75h9.38v1.76h-9.38zM222.9 331.75h9.38v1.76h-9.38zM232.9 347.91h9.38v1.76h-9.38zM82.9 357.14h9.38v1.76h-9.38zM182.9 370.99h9.38v1.76h-9.38zM192.9 370.99h9.38v1.76h-9.38zM172.9 377.91h9.38v1.76h-9.38zM262.9 377.91h9.38v1.76h-9.38zM122.9 396.38h9.38v1.76h-9.38zM142.9 396.38h9.38v1.76h-9.38zM112.9 400.99h9.38v1.76h-9.38zM132.9 428.69h9.38v1.76h-9.38zM132.9 431h9.38v1.76h-9.38zM142.9 456.38h9.38v1.76h-9.38zM102.9 495.62h9.38v1.76h-9.38zM82.9 507.16h9.38v1.76h-9.38zM122.9 507.16h9.38v1.76h-9.38zM182.9 507.16h9.38v1.76h-9.38zM202.9 507.16h9.38v1.76h-9.38zM52.9 511.78h9.38v1.76h-9.38zM72.9 511.78h9.38v1.76h-9.38zM102.9 514.08h9.38v1.76h-9.38z"/>
<path fill="#5a89c2" d="M192.9 292.52h9.38v1.76h-9.38zM52.9 322.52h9.38v1.76h-9.38zM62.9 322.52h9.38v1.76h-9.38zM82.9 322.52h9.38v1.76h-9.38zM122.9 322.52h9.38v1.76h-9.38zM112.9 331.75h9.38v1.76h-9.38zM122.9 343.29h9.38v1.76h-9.38zM142.9 343.29h9.38v1.76h-9.38zM82.9 347.91h9.38v1.76h-9.38zM212.9 347.91h9.38v1.76h-9.38zM242.9 347.91h9.38v1.76h-9.38zM122.9 377.91h9.38v1.76h-9.38zM142.9 377.91h9.38v1.76h-9.38zM182.9 377.91h9.38v1.76h-9.38zM222.9 377.91h9.38v1.76h-9.38zM232.9 377.91h9.38v1.76h-9.38zM32.9 428.69h9.38v1.76h-9.38zM122.9 456.38h9.38v1.76h-9.38zM172.9 481.77h9.38v1.76h-9.38zM42.9 511.78h9.38v1.76h-9.38zM92.9 514.08h9.38v1.76h-9.38zM192.9 514.08h9.38v1.76h-9.38zM202.9 514.08h9.38v1.76h-9.38z"/>
<path fill="#5787c2" d="M32.9 322.52h9.38v1.76h-9.38zM102.9 322.52h9.38v1.76h-9.38zM112.9 322.52h9.38v1.76h-9.38zM152.9 322.52h9.38v1.76h-9.38zM192.9 322.52h9.38v1.76h-9.38zM262.9 322.52h9.38v1.76h-9.38zM82.9 331.75h9.38v1.76h-9.38zM92.9 331.75h9.38v1.76h-9.38zM72.9 347.91h9.38v1.76h-9.38zM122.9 347.91h9.38v1.76h-9.38zM132.9 347.91h9.38v1.76h-9.38zM142.9 347.91h9.38v1.76h-9.38zM222.9 347.91h9.38v1.76h-9.38zM62.9 507.16h9.38v1.76h-9.38zM142.9 507.16h9.38v1.76h-9.38z"/>
<path fill="#5485c1" d="M132.9 287.9h9.38v1.76h-9.38zM72.9 322.52h9.38v1.76h-9.38zM142.9 322.52h9.38v1.76h-9.38zM242.9 322.52h9.38v1.76h-9.38zM182.9 347.91h9.38v1.76h-9.38zM92.9 405.61h9.38v1.76h-9.38zM102.9 405.61h9.38v1.76h-9.38zM142.9 405.61h9.38v1.76h-9.38zM32.9 410.22h9.38v1.76h-9.38zM32.9 507.16h9.38v1.76h-9.38zM42.9 507.16h9.38v1.76h-9.38zM52.9 507.16h9.38v1.76h-9.38zM172.9 507.16h9.38v1.76h-9.38z"/>
<path fill="#5284c0" d="M252.9 322.52h9.38v1.76h-9.38zM172.9 324.83h9.38v1.76h-9.38zM162.9 382.53h9.38v1.76h-9.38zM42.9 396.38h9.38v1.76h-9.38zM202.9 396.38h9.38v1.76h-9.38zM42.9 410.22h9.38v1.76h-9.38zM52.9 410.22h9.38v1.76h-9.38zM72.9 410.22h9.38v1.76h-9.38zM92.9 410.22h9.38v1.76h-9.38zM102.9 410.22h9.38v1.76h-9.38zM82.9 444.84h9.38v1.76h-9.38z"/>
<path fill="#4f82bf" d="M42.9 322.52h9.38v1.76h-9.38zM162.9 324.83h9.38v1.76h-9.38zM202.9 324.83h9.38v1.76h-9.38zM262.9 324.83h9.38v1.76h-9.38zM42.9 352.52h9.38v1.76h-9.38zM182.9 382.53h9.38v1.76h-9.38zM192.9 382.53h9.38v1.76h-9.38zM32.9 396.38h9.38v1.76h-9.38zM62.9 396.38h9.38v1.76h-9.38zM192.9 396.38h9.38v1.76h-9.38zM62.9 410.22h9.38v1.76h-9.38zM52.9 444.84h9.38v1.76h-9.38zM72.9 444.84h9.38v1.76h-9.38z"/>
<path fill="#4d80be" d="M142.9 287.9h9.38v1.76h-9.38zM152.9 324.83h9.38v1.76h-9.38zM212.9 324.83h9.38v1.76h-9.38zM222.9 324.83h9.38v1.76h-9.38zM232.9 324.83h9.38v1.76h-9.38zM142.9 382.53h9.38v1.76h-9.38zM202.9 382.53h9.38v1.76h-9.38zM72.9 396.38h9.38v1.76h-9.38zM82.9 396.38h9.38v1.76h-9.38zM152.9 396.38h9.38v1.76h-9.38zM162.9 396.38h9.38v1.76h-9.38zM172.9 396.38h9.38v1.76h-9.38zM222.9 396.38h9.38v1.76h-9.38zM262.9 396.38h9.38v1.76h-9.38zM112.9 405.61h9.38v1.76h-9.38zM122.9 405.61h9.38v1.76h-9.38zM132.9 405.61h9.38v1.76h-9.38zM112.9 410.22h9.38v1.76h-9.38zM62.9 444.84h9.38v1.76h-9.38z"/>
<path fill="#4a7ebe" d="M182.9 324.83h9.38v1.76h-9.38zM242.9 324.83h9.38v1.76h-9.38zM222.9 338.68h9.38v1.76h-9.38zM122.9 382.53h9.38v1.76h-9.38zM132.9 382.53h9.38v1.76h-9.38zM172.9 382.53h9.38v1.76h-9.38zM182.9 396.38h9.38v1.76h-9.38zM232.9 396.38h9.38v1.76h-9.38zM252.9 396.38h9.38v1.76h-9.38zM82.9 410.22h9.38v1.76h-9.38zM32.9 444.84h9.38v1.76h-9.38zM92.9 444.84h9.38v1.76h-9.38zM102.9 444.84h9.38v1.76h-9.38zM112.9 444.84h9.38v1.76h-9.38z"/>
<path fill="#477dbd" d="M122.9 287.9h9.38v1.76h-9.38zM192.9 324.83h9.38v1.76h-9.38zM212.9 338.68h9.38v1.76h-9.38zM52.9 396.38h9.38v1.76h-9.38zM212.9 396.38h9.38v1.76h-9.38zM242.9 396.38h9.38v1.76h-9.38zM42.9 444.84h9.38v1.76h-9.38z"/>
<path fill="#457bbc" d="M252.9 324.83h9.38v1.76h-9.38zM232.9 338.68h9.38v1.76h-9.38zM262.9 338.68h9.38v1.76h-9.38zM152.9 382.53h9.38v1.76h-9.38zM62.9 493.31h9.38v1.76h-9.38zM92.9 497.93h9.38v1.76h-9.38z"/>
<path fill="#4279bb" d="M42.9 324.83h9.38v1.76h-9.38zM82.9 324.83h9.38v1.76h-9.38zM32.9 338.68h9.38v1.76h-9.38zM42.9 338.68h9.38v1.76h-9.38zM162.9 338.68h9.38v1.76h-9.38zM252.9 338.68h9.38v1.76h-9.38zM112.9 375.6h9.38v1.76h-9.38zM72.9 456.38h9.38v1.76h-9.38z"/>
<path fill="#4077ba" d="M32.9 324.83h9.38v1.76h-9.38zM72.9 324.83h9.38v1.76h-9.38zM52.9 338.68h9.38v1.76h-9.38zM242.9 338.68h9.38v1.76h-9.38zM102.9 352.52h9.38v1.76h-9.38z"/>
<path fill="#3d75ba" d="M52.9 324.83h9.38v1.76h-9.38zM152.9 338.68h9.38v1.76h-9.38zM172.9 338.68h9.38v1.76h-9.38zM92.9 352.52h9.38v1.76h-9.38zM112.9 352.52h9.38v1.76h-9.38zM92.9 375.6h9.38v1.76h-9.38zM102.9 375.6h9.38v1.76h-9.38z"/>
<path fill="#3a74b9" d="M62.9 324.83h9.38v1.76h-9.38zM112.9 324.83h9.38v1.76h-9.38z"/>
<path fill="#3872b8" d="M102.9 324.83h9.38v1.76h-9.38z"/>
<path fill="#3571b7" d="M92.9 324.83h9.38v1.76h-9.38z"/>
<path fill="#306fb5" d="M92.9 287.9h9.38v1.76h-9.38zM102.9 287.9h9.38v1.76h-9.38z"/>
<path fill="#2d6db5" d="M112.9 287.9h9.38v1.76h-9.38zM192.9 338.68h9.38v1.76h-9.38z"/>
<path fill="#2a6cb4" d="M202.9 338.68h9.38v1.76h-9.38z"/>
<path fill="#276bb3" d="M72.9 338.68h9.38v1.76h-9.38z"/>
<path fill="#2569b2" d="M82.9 338.68h9.38v1.76h-9.38zM182.9 338.68h9.38v1.76h-9.38z"/>
<path fill="#2268b1" d="M62.9 338.68h9.38v1.76h-9.38z"/>
<text x="20.2" y="289.15" font-size="4.6" fill="#111" text-anchor="end">R1</text>
<line x1="20.7" y1="287.55" x2="22.4" y2="287.55" stroke="#555" stroke-width="0.45"/>
<text x="20.2" y="312.23" font-size="4.6" fill="#111" text-anchor="end">R11</text>
<line x1="20.7" y1="310.63" x2="22.4" y2="310.63" stroke="#555" stroke-width="0.45"/>
<text x="20.2" y="335.31" font-size="4.6" fill="#111" text-anchor="end">R21</text>
<line x1="20.7" y1="333.71" x2="22.4" y2="333.71" stroke="#555" stroke-width="0.45"/>
<text x="20.2" y="358.39" font-size="4.6" fill="#111" text-anchor="end">R31</text>
<line x1="20.7" y1="356.79" x2="22.4" y2="356.79" stroke="#555" stroke-width="0.45"/>
<text x="20.2" y="381.47" font-size="4.6" fill="#111" text-anchor="end">R41</text>
<line x1="20.7" y1="379.87" x2="22.4" y2="379.87" stroke="#555" stroke-width="0.45"/>
<text x="20.2" y="404.55" font-size="4.6" fill="#111" text-anchor="end">R51</text>
<line x1="20.7" y1="402.95" x2="22.4" y2="402.95" stroke="#555" stroke-width="0.45"/>
<text x="20.2" y="427.63" font-size="4.6" fill="#111" text-anchor="end">R61</text>
<line x1="20.7" y1="426.03" x2="22.4" y2="426.03" stroke="#555" stroke-width="0.45"/>
<text x="20.2" y="450.71" font-size="4.6" fill="#111" text-anchor="end">R71</text>
<line x1="20.7" y1="449.11" x2="22.4" y2="449.11" stroke="#555" stroke-width="0.45"/>
<text x="20.2" y="473.79" font-size="4.6" fill="#111" text-anchor="end">R81</text>
<line x1="20.7" y1="472.19" x2="22.4" y2="472.19" stroke="#555" stroke-width="0.45"/>
<text x="20.2" y="496.87" font-size="4.6" fill="#111" text-anchor="end">R91</text>
<line x1="20.7" y1="495.27" x2="22.4" y2="495.27" stroke="#555" stroke-width="0.45"/>
<line x1="27.5" y1="519.2" x2="27.5" y2="520.9" stroke="#555" stroke-width="0.45"/>
<text x="26.6" y="523.7" font-size="4.6" fill="#222" text-anchor="end" transform="rotate(-45 26.6 523.7)">reference_value</text>
<line x1="37.5" y1="519.2" x2="37.5" y2="520.9" stroke="#555" stroke-width="0.45"/>
<text x="36.6" y="523.7" font-size="4.6" fill="#222" text-anchor="end" transform="rotate(-45 36.6 523.7)">L1_ILL_P_1</text>
<line x1="47.5" y1="519.2" x2="47.5" y2="520.9" stroke="#555" stroke-width="0.45"/>
<text x="46.6" y="523.7" font-size="4.6" fill="#222" text-anchor="end" transform="rotate(-45 46.6 523.7)">L1_ILL_P_2</text>
<line x1="57.5" y1="519.2" x2="57.5" y2="520.9" stroke="#555" stroke-width="0.45"/>
<text x="56.6" y="523.7" font-size="4.6" fill="#222" text-anchor="end" transform="rotate(-45 56.6 523.7)">L1_ILL_P_3</text>
<line x1="67.5" y1="519.2" x2="67.5" y2="520.9" stroke="#555" stroke-width="0.45"/>
<text x="66.6" y="523.7" font-size="4.6" fill="#222" text-anchor="end" transform="rotate(-45 66.6 523.7)">L1_ILL_R_1</text>
<line x1="77.5" y1="519.2" x2="77.5" y2="520.9" stroke="#555" stroke-width="0.45"/>
<text x="76.6" y="523.7" font-size="4.6" fill="#222" text-anchor="end" transform="rotate(-45 76.6 523.7)">L1_ILL_R_2</text>
<line x1="87.5" y1="519.2" x2="87.5" y2="520.9" stroke="#555" stroke-width="0.45"/>
<text x="86.6" y="523.7" font-size="4.6" fill="#222" text-anchor="end" transform="rotate(-45 86.6 523.7)">L1_ILL_R_3</text>
<line x1="97.5" y1="519.2" x2="97.5" y2="520.9" stroke="#555" stroke-width="0.45"/>
<text x="96.6" y="523.7" font-size="4.6" fill="#222" text-anchor="end" transform="rotate(-45 96.6 523.7)">L2_DNB_P_1</text>
<line x1="107.5" y1="519.2" x2="107.5" y2="520.9" stroke="#555" stroke-width="0.45"/>
<text x="106.6" y="523.7" font-size="4.6" fill="#222" text-anchor="end" transform="rotate(-45 106.6 523.7)">L2_DNB_P_2</text>
<line x1="117.5" y1="519.2" x2="117.5" y2="520.9" stroke="#555" stroke-width="0.45"/>
<text x="116.6" y="523.7" font-size="4.6" fill="#222" text-anchor="end" transform="rotate(-45 116.6 523.7)">L2_DNB_P_3</text>
<line x1="127.5" y1="519.2" x2="127.5" y2="520.9" stroke="#555" stroke-width="0.45"/>
<text x="126.6" y="523.7" font-size="4.6" fill="#222" text-anchor="end" transform="rotate(-45 126.6 523.7)">L2_DNB_R_1</text>
<line x1="137.5" y1="519.2" x2="137.5" y2="520.9" stroke="#555" stroke-width="0.45"/>
<text x="136.6" y="523.7" font-size="4.6" fill="#222" text-anchor="end" transform="rotate(-45 136.6 523.7)">L2_DNB_R_2</text>
<line x1="147.5" y1="519.2" x2="147.5" y2="520.9" stroke="#555" stroke-width="0.45"/>
<text x="146.6" y="523.7" font-size="4.6" fill="#222" text-anchor="end" transform="rotate(-45 146.6 523.7)">L2_DNB_R_3</text>
<line x1="157.5" y1="519.2" x2="157.5" y2="520.9" stroke="#555" stroke-width="0.45"/>
<text x="156.6" y="523.7" font-size="4.6" fill="#222" text-anchor="end" transform="rotate(-45 156.6 523.7)">L3_DNB_P_1</text>
<line x1="167.5" y1="519.2" x2="167.5" y2="520.9" stroke="#555" stroke-width="0.45"/>
<text x="166.6" y="523.7" font-size="4.6" fill="#222" text-anchor="end" transform="rotate(-45 166.6 523.7)">L3_DNB_P_2</text>
<line x1="177.5" y1="519.2" x2="177.5" y2="520.9" stroke="#555" stroke-width="0.45"/>
<text x="176.6" y="523.7" font-size="4.6" fill="#222" text-anchor="end" transform="rotate(-45 176.6 523.7)">L3_DNB_P_3</text>
<line x1="187.5" y1="519.2" x2="187.5" y2="520.9" stroke="#555" stroke-width="0.45"/>
<text x="186.6" y="523.7" font-size="4.6" fill="#222" text-anchor="end" transform="rotate(-45 186.6 523.7)">L3_DNB_R_1</text>
<line x1="197.5" y1="519.2" x2="197.5" y2="520.9" stroke="#555" stroke-width="0.45"/>
<text x="196.6" y="523.7" font-size="4.6" fill="#222" text-anchor="end" transform="rotate(-45 196.6 523.7)">L3_DNB_R_2</text>
<line x1="207.5" y1="519.2" x2="207.5" y2="520.9" stroke="#555" stroke-width="0.45"/>
<text x="206.6" y="523.7" font-size="4.6" fill="#222" text-anchor="end" transform="rotate(-45 206.6 523.7)">L3_DNB_R_3</text>
<line x1="217.5" y1="519.2" x2="217.5" y2="520.9" stroke="#555" stroke-width="0.45"/>
<text x="216.6" y="523.7" font-size="4.6" fill="#222" text-anchor="end" transform="rotate(-45 216.6 523.7)">L3_ILL_P_1</text>
<line x1="227.5" y1="519.2" x2="227.5" y2="520.9" stroke="#555" stroke-width="0.45"/>
<text x="226.6" y="523.7" font-size="4.6" fill="#222" text-anchor="end" transform="rotate(-45 226.6 523.7)">L3_ILL_P_2</text>
<line x1="237.5" y1="519.2" x2="237.5" y2="520.9" stroke="#555" stroke-width="0.45"/>
<text x="236.6" y="523.7" font-size="4.6" fill="#222" text-anchor="end" transform="rotate(-45 236.6 523.7)">L3_ILL_P_3</text>
<line x1="247.5" y1="519.2" x2="247.5" y2="520.9" stroke="#555" stroke-width="0.45"/>
<text x="246.6" y="523.7" font-size="4.6" fill="#222" text-anchor="end" transform="rotate(-45 246.6 523.7)">L3_ILL_R_1</text>
<line x1="257.5" y1="519.2" x2="257.5" y2="520.9" stroke="#555" stroke-width="0.45"/>
<text x="256.6" y="523.7" font-size="4.6" fill="#222" text-anchor="end" transform="rotate(-45 256.6 523.7)">L3_ILL_R_2</text>
<line x1="267.5" y1="519.2" x2="267.5" y2="520.9" stroke="#555" stroke-width="0.45"/>
<text x="266.6" y="523.7" font-size="4.6" fill="#222" text-anchor="end" transform="rotate(-45 266.6 523.7)">L3_ILL_R_3</text>
<defs><linearGradient id="g22" x1="0" y1="1" x2="0" y2="0">
<stop offset="0" stop-color="#dcdfe4"/>
<stop offset="0.1" stop-color="#bdcadb"/>
<stop offset="0.2" stop-color="#a1b7d4"/>
<stop offset="0.3" stop-color="#89a8ce"/>
<stop offset="0.4" stop-color="#7199c9"/>
<stop offset="0.5" stop-color="#5f8dc4"/>
<stop offset="0.6" stop-color="#4f82bf"/>
<stop offset="0.7" stop-color="#4077ba"/>
<stop offset="0.8" stop-color="#306fb5"/>
<stop offset="0.9" stop-color="#1f67b0"/>
<stop offset="1" stop-color="#0f5fab"/>
</linearGradient></defs>
<rect x="288.1" y="287.8" width="11.8" height="232" fill="url(#g22)"/>
<line x1="299.9" y1="318.3" x2="301.4" y2="318.3" stroke="#555" stroke-width="0.45"/>
<text x="302.6" y="320" font-size="4.8" fill="#111">1.6</text>
<line x1="299.9" y1="351" x2="301.4" y2="351" stroke="#555" stroke-width="0.45"/>
<text x="302.6" y="352.7" font-size="4.8" fill="#111">1.4</text>
<line x1="299.9" y1="384" x2="301.4" y2="384" stroke="#555" stroke-width="0.45"/>
<text x="302.6" y="385.7" font-size="4.8" fill="#111">1.2</text>
<line x1="299.9" y1="417" x2="301.4" y2="417" stroke="#555" stroke-width="0.45"/>
<text x="302.6" y="418.7" font-size="4.8" fill="#111">1.0</text>
<line x1="299.9" y1="449.7" x2="301.4" y2="449.7" stroke="#555" stroke-width="0.45"/>
<text x="302.6" y="451.4" font-size="4.8" fill="#111">0.8</text>
<line x1="299.9" y1="482.8" x2="301.4" y2="482.8" stroke="#555" stroke-width="0.45"/>
<text x="302.6" y="484.5" font-size="4.8" fill="#111">0.6</text>
<line x1="299.9" y1="515.8" x2="301.4" y2="515.8" stroke="#555" stroke-width="0.45"/>
<text x="302.6" y="517.5" font-size="4.8" fill="#111">0.4</text>
<text x="321" y="410.6" font-size="6.7" fill="#222" text-anchor="middle" transform="rotate(-90 321 410.6)" stroke="#222" stroke-width="0.08">Ratio_correction / reference</text>
<text x="337" y="282.8" font-size="14.5" fill="#231815" font-weight="bold">d</text>
<text x="492.7" y="285.6" font-size="5.1" fill="#222" text-anchor="middle">Mix2 Ratio Heatmap (correction_copy numbers / reference_copy numbers)</text>
<rect x="367.7" y="287.9" width="250" height="230.8" fill="#dae9de"/>
<path fill="#d2e0d6" d="M467.7 497.93h9.38v1.76h-9.38zM487.7 497.93h9.38v1.76h-9.38z"/>
<path fill="#ceded2" d="M477.7 497.93h9.38v1.76h-9.38z"/>
<path fill="#b9d3bf" d="M597.7 500.24h9.38v1.76h-9.38z"/>
<path fill="#b0ceb8" d="M437.7 488.7h9.38v1.76h-9.38zM587.7 500.24h9.38v1.76h-9.38zM607.7 500.24h9.38v1.76h-9.38z"/>
<path fill="#acccb4" d="M557.7 447.15h9.38v1.76h-9.38z"/>
<path fill="#a8cab0" d="M587.7 447.15h9.38v1.76h-9.38zM607.7 447.15h9.38v1.76h-9.38z"/>
<path fill="#a4c8ad" d="M387.7 336.37h9.38v1.76h-9.38z"/>
<path fill="#a0c6a9" d="M567.7 412.53h9.38v1.76h-9.38zM457.7 447.15h9.38v1.76h-9.38zM497.7 447.15h9.38v1.76h-9.38zM547.7 447.15h9.38v1.76h-9.38zM577.7 447.15h9.38v1.76h-9.38zM447.7 497.93h9.38v1.76h-9.38z"/>
<path fill="#9cc4a6" d="M447.7 338.68h9.38v1.76h-9.38zM477.7 394.07h9.38v1.76h-9.38zM487.7 394.07h9.38v1.76h-9.38zM577.7 412.53h9.38v1.76h-9.38zM377.7 447.15h9.38v1.76h-9.38zM387.7 447.15h9.38v1.76h-9.38zM397.7 447.15h9.38v1.76h-9.38zM447.7 447.15h9.38v1.76h-9.38zM507.7 447.15h9.38v1.76h-9.38zM517.7 447.15h9.38v1.76h-9.38zM597.7 447.15h9.38v1.76h-9.38zM387.7 493.31h9.38v1.76h-9.38zM437.7 497.93h9.38v1.76h-9.38z"/>
<path fill="#97c1a3" d="M397.7 299.44h9.38v1.76h-9.38zM437.7 338.68h9.38v1.76h-9.38zM457.7 338.68h9.38v1.76h-9.38zM447.7 394.07h9.38v1.76h-9.38zM457.7 394.07h9.38v1.76h-9.38zM587.7 394.07h9.38v1.76h-9.38zM467.7 412.53h9.38v1.76h-9.38zM487.7 412.53h9.38v1.76h-9.38zM517.7 412.53h9.38v1.76h-9.38zM437.7 421.76h9.38v1.76h-9.38zM437.7 447.15h9.38v1.76h-9.38zM467.7 447.15h9.38v1.76h-9.38zM537.7 447.15h9.38v1.76h-9.38zM567.7 447.15h9.38v1.76h-9.38zM407.7 497.93h9.38v1.76h-9.38zM427.7 497.93h9.38v1.76h-9.38z"/>
<path fill="#93bf9f" d="M447.7 287.9h9.38v1.76h-9.38zM567.7 287.9h9.38v1.76h-9.38zM587.7 287.9h9.38v1.76h-9.38zM557.7 294.82h9.38v1.76h-9.38zM567.7 294.82h9.38v1.76h-9.38zM387.7 299.44h9.38v1.76h-9.38zM447.7 299.44h9.38v1.76h-9.38zM537.7 299.44h9.38v1.76h-9.38zM547.7 299.44h9.38v1.76h-9.38zM377.7 336.37h9.38v1.76h-9.38zM397.7 336.37h9.38v1.76h-9.38zM437.7 394.07h9.38v1.76h-9.38zM597.7 394.07h9.38v1.76h-9.38zM607.7 394.07h9.38v1.76h-9.38zM507.7 412.53h9.38v1.76h-9.38zM557.7 412.53h9.38v1.76h-9.38zM447.7 421.76h9.38v1.76h-9.38zM487.7 444.84h9.38v1.76h-9.38zM407.7 447.15h9.38v1.76h-9.38zM417.7 447.15h9.38v1.76h-9.38zM427.7 447.15h9.38v1.76h-9.38zM487.7 447.15h9.38v1.76h-9.38zM457.7 497.93h9.38v1.76h-9.38zM517.7 497.93h9.38v1.76h-9.38zM557.7 497.93h9.38v1.76h-9.38z"/>
<path fill="#8fbd9c" d="M607.7 287.9h9.38v1.76h-9.38zM377.7 299.44h9.38v1.76h-9.38zM437.7 299.44h9.38v1.76h-9.38zM457.7 299.44h9.38v1.76h-9.38zM527.7 299.44h9.38v1.76h-9.38zM477.7 310.98h9.38v1.76h-9.38zM607.7 327.14h9.38v1.76h-9.38zM467.7 334.06h9.38v1.76h-9.38zM517.7 334.06h9.38v1.76h-9.38zM567.7 347.91h9.38v1.76h-9.38zM517.7 380.22h9.38v1.76h-9.38zM467.7 394.07h9.38v1.76h-9.38zM497.7 394.07h9.38v1.76h-9.38zM557.7 394.07h9.38v1.76h-9.38zM547.7 396.38h9.38v1.76h-9.38zM377.7 412.53h9.38v1.76h-9.38zM397.7 412.53h9.38v1.76h-9.38zM427.7 412.53h9.38v1.76h-9.38zM437.7 412.53h9.38v1.76h-9.38zM477.7 412.53h9.38v1.76h-9.38zM497.7 412.53h9.38v1.76h-9.38zM587.7 412.53h9.38v1.76h-9.38zM607.7 412.53h9.38v1.76h-9.38zM387.7 421.76h9.38v1.76h-9.38zM457.7 421.76h9.38v1.76h-9.38zM407.7 437.92h9.38v1.76h-9.38zM507.7 440.23h9.38v1.76h-9.38zM467.7 444.84h9.38v1.76h-9.38zM477.7 447.15h9.38v1.76h-9.38zM517.7 481.77h9.38v1.76h-9.38zM417.7 497.93h9.38v1.76h-9.38zM497.7 497.93h9.38v1.76h-9.38zM527.7 497.93h9.38v1.76h-9.38zM537.7 497.93h9.38v1.76h-9.38zM547.7 497.93h9.38v1.76h-9.38z"/>
<path fill="#8bbb99" d="M457.7 287.9h9.38v1.76h-9.38zM577.7 287.9h9.38v1.76h-9.38zM597.7 287.9h9.38v1.76h-9.38zM537.7 294.82h9.38v1.76h-9.38zM577.7 294.82h9.38v1.76h-9.38zM497.7 299.44h9.38v1.76h-9.38zM497.7 310.98h9.38v1.76h-9.38zM557.7 310.98h9.38v1.76h-9.38zM367.7 324.83h9.38v1.76h-9.38zM497.7 334.06h9.38v1.76h-9.38zM527.7 334.06h9.38v1.76h-9.38zM437.7 336.37h9.38v1.76h-9.38zM467.7 336.37h9.38v1.76h-9.38zM537.7 336.37h9.38v1.76h-9.38zM567.7 336.37h9.38v1.76h-9.38zM367.7 343.29h9.38v1.76h-9.38zM577.7 347.91h9.38v1.76h-9.38zM527.7 361.76h9.38v1.76h-9.38zM457.7 364.06h9.38v1.76h-9.38zM367.7 370.99h9.38v1.76h-9.38zM387.7 394.07h9.38v1.76h-9.38zM397.7 394.07h9.38v1.76h-9.38zM407.7 394.07h9.38v1.76h-9.38zM417.7 394.07h9.38v1.76h-9.38zM427.7 394.07h9.38v1.76h-9.38zM537.7 394.07h9.38v1.76h-9.38zM567.7 394.07h9.38v1.76h-9.38zM387.7 396.38h9.38v1.76h-9.38zM367.7 398.68h9.38v1.76h-9.38zM577.7 410.22h9.38v1.76h-9.38zM447.7 412.53h9.38v1.76h-9.38zM457.7 412.53h9.38v1.76h-9.38zM467.7 417.15h9.38v1.76h-9.38zM477.7 417.15h9.38v1.76h-9.38zM377.7 421.76h9.38v1.76h-9.38zM477.7 421.76h9.38v1.76h-9.38zM577.7 421.76h9.38v1.76h-9.38zM597.7 424.07h9.38v1.76h-9.38zM527.7 447.15h9.38v1.76h-9.38zM587.7 484.08h9.38v1.76h-9.38zM507.7 497.93h9.38v1.76h-9.38zM567.7 497.93h9.38v1.76h-9.38zM577.7 497.93h9.38v1.76h-9.38zM517.7 500.24h9.38v1.76h-9.38z"/>
<path fill="#87b995" d="M407.7 287.9h9.38v1.76h-9.38zM417.7 287.9h9.38v1.76h-9.38zM437.7 287.9h9.38v1.76h-9.38zM557.7 287.9h9.38v1.76h-9.38zM367.7 290.21h9.38v1.76h-9.38zM437.7 297.13h9.38v1.76h-9.38zM517.7 299.44h9.38v1.76h-9.38zM557.7 299.44h9.38v1.76h-9.38zM577.7 299.44h9.38v1.76h-9.38zM387.7 310.98h9.38v1.76h-9.38zM487.7 310.98h9.38v1.76h-9.38zM507.7 310.98h9.38v1.76h-9.38zM567.7 310.98h9.38v1.76h-9.38zM587.7 310.98h9.38v1.76h-9.38zM597.7 310.98h9.38v1.76h-9.38zM607.7 310.98h9.38v1.76h-9.38zM367.7 317.9h9.38v1.76h-9.38zM457.7 327.14h9.38v1.76h-9.38zM537.7 327.14h9.38v1.76h-9.38zM557.7 327.14h9.38v1.76h-9.38zM367.7 329.44h9.38v1.76h-9.38zM427.7 334.06h9.38v1.76h-9.38zM487.7 334.06h9.38v1.76h-9.38zM547.7 334.06h9.38v1.76h-9.38zM557.7 334.06h9.38v1.76h-9.38zM597.7 334.06h9.38v1.76h-9.38zM477.7 336.37h9.38v1.76h-9.38zM487.7 336.37h9.38v1.76h-9.38zM507.7 336.37h9.38v1.76h-9.38zM547.7 336.37h9.38v1.76h-9.38zM557.7 336.37h9.38v1.76h-9.38zM577.7 336.37h9.38v1.76h-9.38zM597.7 336.37h9.38v1.76h-9.38zM597.7 338.68h9.38v1.76h-9.38zM437.7 343.29h9.38v1.76h-9.38zM447.7 343.29h9.38v1.76h-9.38zM367.7 345.6h9.38v1.76h-9.38zM457.7 345.6h9.38v1.76h-9.38zM497.7 345.6h9.38v1.76h-9.38zM527.7 345.6h9.38v1.76h-9.38zM557.7 347.91h9.38v1.76h-9.38zM367.7 350.22h9.38v1.76h-9.38zM577.7 359.45h9.38v1.76h-9.38zM597.7 366.37h9.38v1.76h-9.38zM577.7 373.3h9.38v1.76h-9.38zM367.7 375.6h9.38v1.76h-9.38zM367.7 380.22h9.38v1.76h-9.38zM387.7 380.22h9.38v1.76h-9.38zM437.7 380.22h9.38v1.76h-9.38zM507.7 380.22h9.38v1.76h-9.38zM367.7 389.45h9.38v1.76h-9.38zM537.7 391.76h9.38v1.76h-9.38zM377.7 394.07h9.38v1.76h-9.38zM507.7 394.07h9.38v1.76h-9.38zM517.7 394.07h9.38v1.76h-9.38zM527.7 394.07h9.38v1.76h-9.38zM547.7 394.07h9.38v1.76h-9.38zM577.7 394.07h9.38v1.76h-9.38zM527.7 396.38h9.38v1.76h-9.38zM487.7 398.68h9.38v1.76h-9.38zM367.7 400.99h9.38v1.76h-9.38zM607.7 403.3h9.38v1.76h-9.38zM477.7 410.22h9.38v1.76h-9.38zM487.7 410.22h9.38v1.76h-9.38zM557.7 410.22h9.38v1.76h-9.38zM367.7 412.53h9.38v1.76h-9.38zM387.7 412.53h9.38v1.76h-9.38zM417.7 412.53h9.38v1.76h-9.38zM537.7 412.53h9.38v1.76h-9.38zM547.7 412.53h9.38v1.76h-9.38zM597.7 412.53h9.38v1.76h-9.38zM437.7 419.46h9.38v1.76h-9.38zM457.7 419.46h9.38v1.76h-9.38zM487.7 421.76h9.38v1.76h-9.38zM547.7 421.76h9.38v1.76h-9.38zM557.7 421.76h9.38v1.76h-9.38zM597.7 421.76h9.38v1.76h-9.38zM487.7 424.07h9.38v1.76h-9.38zM497.7 424.07h9.38v1.76h-9.38zM507.7 424.07h9.38v1.76h-9.38zM547.7 424.07h9.38v1.76h-9.38zM367.7 433.3h9.38v1.76h-9.38zM377.7 437.92h9.38v1.76h-9.38zM417.7 437.92h9.38v1.76h-9.38zM487.7 437.92h9.38v1.76h-9.38zM597.7 437.92h9.38v1.76h-9.38zM557.7 440.23h9.38v1.76h-9.38zM567.7 440.23h9.38v1.76h-9.38zM577.7 440.23h9.38v1.76h-9.38zM377.7 444.84h9.38v1.76h-9.38zM577.7 444.84h9.38v1.76h-9.38zM587.7 444.84h9.38v1.76h-9.38zM607.7 444.84h9.38v1.76h-9.38zM367.7 447.15h9.38v1.76h-9.38zM457.7 451.77h9.38v1.76h-9.38zM417.7 461h9.38v1.76h-9.38zM527.7 461h9.38v1.76h-9.38zM447.7 463.31h9.38v1.76h-9.38zM517.7 463.31h9.38v1.76h-9.38zM367.7 467.92h9.38v1.76h-9.38zM367.7 474.85h9.38v1.76h-9.38zM547.7 479.46h9.38v1.76h-9.38zM367.7 481.77h9.38v1.76h-9.38zM377.7 481.77h9.38v1.76h-9.38zM417.7 495.62h9.38v1.76h-9.38zM367.7 500.24h9.38v1.76h-9.38zM567.7 500.24h9.38v1.76h-9.38zM577.7 500.24h9.38v1.76h-9.38zM367.7 504.85h9.38v1.76h-9.38zM367.7 511.78h9.38v1.76h-9.38zM577.7 511.78h9.38v1.76h-9.38z"/>
<path fill="#83b792" d="M487.7 287.9h9.38v1.76h-9.38zM547.7 287.9h9.38v1.76h-9.38zM567.7 292.52h9.38v1.76h-9.38zM607.7 292.52h9.38v1.76h-9.38zM477.7 294.82h9.38v1.76h-9.38zM547.7 294.82h9.38v1.76h-9.38zM367.7 297.13h9.38v1.76h-9.38zM467.7 297.13h9.38v1.76h-9.38zM487.7 297.13h9.38v1.76h-9.38zM427.7 299.44h9.38v1.76h-9.38zM487.7 299.44h9.38v1.76h-9.38zM507.7 299.44h9.38v1.76h-9.38zM567.7 299.44h9.38v1.76h-9.38zM367.7 304.06h9.38v1.76h-9.38zM397.7 304.06h9.38v1.76h-9.38zM507.7 306.36h9.38v1.76h-9.38zM367.7 308.67h9.38v1.76h-9.38zM597.7 308.67h9.38v1.76h-9.38zM367.7 310.98h9.38v1.76h-9.38zM377.7 310.98h9.38v1.76h-9.38zM397.7 310.98h9.38v1.76h-9.38zM417.7 310.98h9.38v1.76h-9.38zM427.7 310.98h9.38v1.76h-9.38zM517.7 310.98h9.38v1.76h-9.38zM577.7 310.98h9.38v1.76h-9.38zM587.7 315.6h9.38v1.76h-9.38zM507.7 324.83h9.38v1.76h-9.38zM367.7 327.14h9.38v1.76h-9.38zM437.7 327.14h9.38v1.76h-9.38zM447.7 327.14h9.38v1.76h-9.38zM547.7 327.14h9.38v1.76h-9.38zM577.7 327.14h9.38v1.76h-9.38zM597.7 327.14h9.38v1.76h-9.38zM417.7 329.44h9.38v1.76h-9.38zM367.7 331.75h9.38v1.76h-9.38zM367.7 334.06h9.38v1.76h-9.38zM377.7 334.06h9.38v1.76h-9.38zM437.7 334.06h9.38v1.76h-9.38zM477.7 334.06h9.38v1.76h-9.38zM507.7 334.06h9.38v1.76h-9.38zM537.7 334.06h9.38v1.76h-9.38zM577.7 334.06h9.38v1.76h-9.38zM457.7 336.37h9.38v1.76h-9.38zM497.7 336.37h9.38v1.76h-9.38zM587.7 336.37h9.38v1.76h-9.38zM367.7 338.68h9.38v1.76h-9.38zM587.7 338.68h9.38v1.76h-9.38zM507.7 340.98h9.38v1.76h-9.38zM457.7 343.29h9.38v1.76h-9.38zM407.7 345.6h9.38v1.76h-9.38zM437.7 345.6h9.38v1.76h-9.38zM577.7 345.6h9.38v1.76h-9.38zM607.7 345.6h9.38v1.76h-9.38zM587.7 347.91h9.38v1.76h-9.38zM367.7 352.52h9.38v1.76h-9.38zM487.7 352.52h9.38v1.76h-9.38zM377.7 354.83h9.38v1.76h-9.38zM367.7 357.14h9.38v1.76h-9.38zM557.7 357.14h9.38v1.76h-9.38zM447.7 359.45h9.38v1.76h-9.38zM517.7 361.76h9.38v1.76h-9.38zM547.7 361.76h9.38v1.76h-9.38zM557.7 361.76h9.38v1.76h-9.38zM447.7 364.06h9.38v1.76h-9.38zM497.7 373.3h9.38v1.76h-9.38zM547.7 373.3h9.38v1.76h-9.38zM417.7 380.22h9.38v1.76h-9.38zM467.7 380.22h9.38v1.76h-9.38zM497.7 380.22h9.38v1.76h-9.38zM367.7 387.14h9.38v1.76h-9.38zM477.7 387.14h9.38v1.76h-9.38zM367.7 391.76h9.38v1.76h-9.38zM407.7 391.76h9.38v1.76h-9.38zM427.7 391.76h9.38v1.76h-9.38zM437.7 391.76h9.38v1.76h-9.38zM447.7 391.76h9.38v1.76h-9.38zM367.7 396.38h9.38v1.76h-9.38zM397.7 396.38h9.38v1.76h-9.38zM537.7 396.38h9.38v1.76h-9.38zM517.7 400.99h9.38v1.76h-9.38zM367.7 403.3h9.38v1.76h-9.38zM467.7 403.3h9.38v1.76h-9.38zM537.7 403.3h9.38v1.76h-9.38zM587.7 410.22h9.38v1.76h-9.38zM407.7 412.53h9.38v1.76h-9.38zM487.7 417.15h9.38v1.76h-9.38zM527.7 417.15h9.38v1.76h-9.38zM447.7 419.46h9.38v1.76h-9.38zM487.7 419.46h9.38v1.76h-9.38zM427.7 421.76h9.38v1.76h-9.38zM527.7 421.76h9.38v1.76h-9.38zM567.7 421.76h9.38v1.76h-9.38zM607.7 421.76h9.38v1.76h-9.38zM367.7 424.07h9.38v1.76h-9.38zM377.7 424.07h9.38v1.76h-9.38zM417.7 424.07h9.38v1.76h-9.38zM517.7 424.07h9.38v1.76h-9.38zM527.7 424.07h9.38v1.76h-9.38zM537.7 424.07h9.38v1.76h-9.38zM367.7 428.69h9.38v1.76h-9.38zM467.7 428.69h9.38v1.76h-9.38zM527.7 428.69h9.38v1.76h-9.38zM557.7 428.69h9.38v1.76h-9.38zM387.7 437.92h9.38v1.76h-9.38zM447.7 437.92h9.38v1.76h-9.38zM477.7 437.92h9.38v1.76h-9.38zM557.7 437.92h9.38v1.76h-9.38zM567.7 437.92h9.38v1.76h-9.38zM577.7 437.92h9.38v1.76h-9.38zM367.7 440.23h9.38v1.76h-9.38zM497.7 440.23h9.38v1.76h-9.38zM367.7 444.84h9.38v1.76h-9.38zM387.7 451.77h9.38v1.76h-9.38zM407.7 451.77h9.38v1.76h-9.38zM427.7 451.77h9.38v1.76h-9.38zM367.7 461h9.38v1.76h-9.38zM377.7 461h9.38v1.76h-9.38zM397.7 461h9.38v1.76h-9.38zM557.7 461h9.38v1.76h-9.38zM567.7 461h9.38v1.76h-9.38zM507.7 463.31h9.38v1.76h-9.38zM417.7 470.23h9.38v1.76h-9.38zM527.7 479.46h9.38v1.76h-9.38zM487.7 484.08h9.38v1.76h-9.38zM367.7 491h9.38v1.76h-9.38zM367.7 495.62h9.38v1.76h-9.38zM407.7 495.62h9.38v1.76h-9.38zM427.7 495.62h9.38v1.76h-9.38zM497.7 500.24h9.38v1.76h-9.38zM507.7 500.24h9.38v1.76h-9.38zM537.7 500.24h9.38v1.76h-9.38zM397.7 511.78h9.38v1.76h-9.38zM417.7 511.78h9.38v1.76h-9.38zM517.7 511.78h9.38v1.76h-9.38zM367.7 516.39h9.38v1.76h-9.38z"/>
<path fill="#7fb58f" d="M367.7 287.9h9.38v1.76h-9.38zM467.7 287.9h9.38v1.76h-9.38zM477.7 287.9h9.38v1.76h-9.38zM497.7 287.9h9.38v1.76h-9.38zM497.7 292.52h9.38v1.76h-9.38zM487.7 294.82h9.38v1.76h-9.38zM367.7 299.44h9.38v1.76h-9.38zM407.7 299.44h9.38v1.76h-9.38zM467.7 299.44h9.38v1.76h-9.38zM477.7 299.44h9.38v1.76h-9.38zM367.7 301.75h9.38v1.76h-9.38zM407.7 304.06h9.38v1.76h-9.38zM417.7 304.06h9.38v1.76h-9.38zM427.7 304.06h9.38v1.76h-9.38zM527.7 306.36h9.38v1.76h-9.38zM477.7 308.67h9.38v1.76h-9.38zM487.7 308.67h9.38v1.76h-9.38zM587.7 308.67h9.38v1.76h-9.38zM607.7 308.67h9.38v1.76h-9.38zM367.7 313.29h9.38v1.76h-9.38zM367.7 315.6h9.38v1.76h-9.38zM607.7 315.6h9.38v1.76h-9.38zM367.7 320.21h9.38v1.76h-9.38zM607.7 320.21h9.38v1.76h-9.38zM367.7 322.52h9.38v1.76h-9.38zM457.7 322.52h9.38v1.76h-9.38zM497.7 322.52h9.38v1.76h-9.38zM507.7 322.52h9.38v1.76h-9.38zM537.7 322.52h9.38v1.76h-9.38zM547.7 322.52h9.38v1.76h-9.38zM557.7 322.52h9.38v1.76h-9.38zM427.7 327.14h9.38v1.76h-9.38zM477.7 327.14h9.38v1.76h-9.38zM487.7 327.14h9.38v1.76h-9.38zM567.7 327.14h9.38v1.76h-9.38zM587.7 327.14h9.38v1.76h-9.38zM407.7 334.06h9.38v1.76h-9.38zM447.7 334.06h9.38v1.76h-9.38zM367.7 336.37h9.38v1.76h-9.38zM517.7 336.37h9.38v1.76h-9.38zM527.7 336.37h9.38v1.76h-9.38zM607.7 336.37h9.38v1.76h-9.38zM497.7 338.68h9.38v1.76h-9.38zM507.7 338.68h9.38v1.76h-9.38zM567.7 338.68h9.38v1.76h-9.38zM607.7 338.68h9.38v1.76h-9.38zM487.7 340.98h9.38v1.76h-9.38zM497.7 343.29h9.38v1.76h-9.38zM507.7 343.29h9.38v1.76h-9.38zM517.7 343.29h9.38v1.76h-9.38zM377.7 345.6h9.38v1.76h-9.38zM447.7 345.6h9.38v1.76h-9.38zM487.7 345.6h9.38v1.76h-9.38zM507.7 345.6h9.38v1.76h-9.38zM517.7 345.6h9.38v1.76h-9.38zM537.7 345.6h9.38v1.76h-9.38zM367.7 347.91h9.38v1.76h-9.38zM417.7 347.91h9.38v1.76h-9.38zM427.7 347.91h9.38v1.76h-9.38zM497.7 347.91h9.38v1.76h-9.38zM607.7 347.91h9.38v1.76h-9.38zM517.7 352.52h9.38v1.76h-9.38zM387.7 354.83h9.38v1.76h-9.38zM507.7 354.83h9.38v1.76h-9.38zM517.7 354.83h9.38v1.76h-9.38zM527.7 357.14h9.38v1.76h-9.38zM367.7 359.45h9.38v1.76h-9.38zM437.7 359.45h9.38v1.76h-9.38zM457.7 359.45h9.38v1.76h-9.38zM467.7 361.76h9.38v1.76h-9.38zM537.7 361.76h9.38v1.76h-9.38zM367.7 364.06h9.38v1.76h-9.38zM397.7 364.06h9.38v1.76h-9.38zM437.7 364.06h9.38v1.76h-9.38zM597.7 364.06h9.38v1.76h-9.38zM607.7 364.06h9.38v1.76h-9.38zM587.7 366.37h9.38v1.76h-9.38zM607.7 366.37h9.38v1.76h-9.38zM367.7 368.68h9.38v1.76h-9.38zM427.7 368.68h9.38v1.76h-9.38zM367.7 373.3h9.38v1.76h-9.38zM507.7 373.3h9.38v1.76h-9.38zM587.7 373.3h9.38v1.76h-9.38zM507.7 375.6h9.38v1.76h-9.38zM547.7 377.91h9.38v1.76h-9.38zM577.7 377.91h9.38v1.76h-9.38zM447.7 380.22h9.38v1.76h-9.38zM487.7 380.22h9.38v1.76h-9.38zM527.7 380.22h9.38v1.76h-9.38zM547.7 380.22h9.38v1.76h-9.38zM367.7 384.84h9.38v1.76h-9.38zM417.7 391.76h9.38v1.76h-9.38zM457.7 391.76h9.38v1.76h-9.38zM477.7 391.76h9.38v1.76h-9.38zM547.7 391.76h9.38v1.76h-9.38zM367.7 394.07h9.38v1.76h-9.38zM507.7 398.68h9.38v1.76h-9.38zM517.7 398.68h9.38v1.76h-9.38zM607.7 398.68h9.38v1.76h-9.38zM467.7 400.99h9.38v1.76h-9.38zM387.7 403.3h9.38v1.76h-9.38zM447.7 403.3h9.38v1.76h-9.38zM457.7 403.3h9.38v1.76h-9.38zM547.7 403.3h9.38v1.76h-9.38zM597.7 403.3h9.38v1.76h-9.38zM367.7 405.61h9.38v1.76h-9.38zM367.7 410.22h9.38v1.76h-9.38zM457.7 410.22h9.38v1.76h-9.38zM567.7 410.22h9.38v1.76h-9.38zM527.7 412.53h9.38v1.76h-9.38zM367.7 417.15h9.38v1.76h-9.38zM437.7 417.15h9.38v1.76h-9.38zM547.7 419.46h9.38v1.76h-9.38zM367.7 421.76h9.38v1.76h-9.38zM397.7 421.76h9.38v1.76h-9.38zM467.7 421.76h9.38v1.76h-9.38zM517.7 421.76h9.38v1.76h-9.38zM537.7 421.76h9.38v1.76h-9.38zM467.7 424.07h9.38v1.76h-9.38zM567.7 424.07h9.38v1.76h-9.38zM587.7 424.07h9.38v1.76h-9.38zM447.7 428.69h9.38v1.76h-9.38zM547.7 428.69h9.38v1.76h-9.38zM367.7 431h9.38v1.76h-9.38zM397.7 437.92h9.38v1.76h-9.38zM427.7 437.92h9.38v1.76h-9.38zM607.7 437.92h9.38v1.76h-9.38zM407.7 440.23h9.38v1.76h-9.38zM427.7 440.23h9.38v1.76h-9.38zM517.7 440.23h9.38v1.76h-9.38zM527.7 440.23h9.38v1.76h-9.38zM547.7 440.23h9.38v1.76h-9.38zM417.7 442.54h9.38v1.76h-9.38zM397.7 444.84h9.38v1.76h-9.38zM417.7 444.84h9.38v1.76h-9.38zM477.7 444.84h9.38v1.76h-9.38zM567.7 444.84h9.38v1.76h-9.38zM597.7 444.84h9.38v1.76h-9.38zM367.7 449.46h9.38v1.76h-9.38zM377.7 451.77h9.38v1.76h-9.38zM417.7 451.77h9.38v1.76h-9.38zM607.7 451.77h9.38v1.76h-9.38zM367.7 458.69h9.38v1.76h-9.38zM607.7 458.69h9.38v1.76h-9.38zM407.7 461h9.38v1.76h-9.38zM467.7 461h9.38v1.76h-9.38zM537.7 461h9.38v1.76h-9.38zM577.7 461h9.38v1.76h-9.38zM587.7 461h9.38v1.76h-9.38zM367.7 463.31h9.38v1.76h-9.38zM567.7 463.31h9.38v1.76h-9.38zM367.7 465.62h9.38v1.76h-9.38zM367.7 470.23h9.38v1.76h-9.38zM367.7 472.54h9.38v1.76h-9.38zM367.7 477.16h9.38v1.76h-9.38zM497.7 477.16h9.38v1.76h-9.38zM367.7 479.46h9.38v1.76h-9.38zM427.7 479.46h9.38v1.76h-9.38zM587.7 479.46h9.38v1.76h-9.38zM367.7 484.08h9.38v1.76h-9.38zM387.7 484.08h9.38v1.76h-9.38zM567.7 484.08h9.38v1.76h-9.38zM577.7 484.08h9.38v1.76h-9.38zM367.7 486.39h9.38v1.76h-9.38zM367.7 497.93h9.38v1.76h-9.38zM547.7 500.24h9.38v1.76h-9.38zM557.7 500.24h9.38v1.76h-9.38zM367.7 502.54h9.38v1.76h-9.38zM437.7 507.16h9.38v1.76h-9.38zM367.7 509.47h9.38v1.76h-9.38zM407.7 509.47h9.38v1.76h-9.38zM467.7 509.47h9.38v1.76h-9.38zM377.7 511.78h9.38v1.76h-9.38zM387.7 511.78h9.38v1.76h-9.38z"/>
<path fill="#7bb38b" d="M507.7 287.9h9.38v1.76h-9.38zM517.7 287.9h9.38v1.76h-9.38zM447.7 290.21h9.38v1.76h-9.38zM507.7 292.52h9.38v1.76h-9.38zM597.7 292.52h9.38v1.76h-9.38zM527.7 294.82h9.38v1.76h-9.38zM587.7 294.82h9.38v1.76h-9.38zM377.7 297.13h9.38v1.76h-9.38zM507.7 297.13h9.38v1.76h-9.38zM517.7 297.13h9.38v1.76h-9.38zM587.7 297.13h9.38v1.76h-9.38zM417.7 299.44h9.38v1.76h-9.38zM377.7 304.06h9.38v1.76h-9.38zM387.7 304.06h9.38v1.76h-9.38zM527.7 304.06h9.38v1.76h-9.38zM567.7 304.06h9.38v1.76h-9.38zM577.7 304.06h9.38v1.76h-9.38zM597.7 304.06h9.38v1.76h-9.38zM367.7 306.36h9.38v1.76h-9.38zM497.7 306.36h9.38v1.76h-9.38zM517.7 306.36h9.38v1.76h-9.38zM387.7 308.67h9.38v1.76h-9.38zM547.7 308.67h9.38v1.76h-9.38zM467.7 310.98h9.38v1.76h-9.38zM537.7 310.98h9.38v1.76h-9.38zM537.7 315.6h9.38v1.76h-9.38zM417.7 320.21h9.38v1.76h-9.38zM427.7 320.21h9.38v1.76h-9.38zM567.7 320.21h9.38v1.76h-9.38zM447.7 322.52h9.38v1.76h-9.38zM517.7 322.52h9.38v1.76h-9.38zM567.7 322.52h9.38v1.76h-9.38zM497.7 324.83h9.38v1.76h-9.38zM527.7 327.14h9.38v1.76h-9.38zM427.7 329.44h9.38v1.76h-9.38zM597.7 329.44h9.38v1.76h-9.38zM417.7 334.06h9.38v1.76h-9.38zM567.7 334.06h9.38v1.76h-9.38zM587.7 334.06h9.38v1.76h-9.38zM607.7 334.06h9.38v1.76h-9.38zM397.7 338.68h9.38v1.76h-9.38zM367.7 340.98h9.38v1.76h-9.38zM457.7 340.98h9.38v1.76h-9.38zM467.7 340.98h9.38v1.76h-9.38zM497.7 340.98h9.38v1.76h-9.38zM517.7 340.98h9.38v1.76h-9.38zM387.7 345.6h9.38v1.76h-9.38zM397.7 345.6h9.38v1.76h-9.38zM417.7 345.6h9.38v1.76h-9.38zM427.7 345.6h9.38v1.76h-9.38zM467.7 345.6h9.38v1.76h-9.38zM557.7 345.6h9.38v1.76h-9.38zM567.7 345.6h9.38v1.76h-9.38zM587.7 345.6h9.38v1.76h-9.38zM377.7 347.91h9.38v1.76h-9.38zM437.7 347.91h9.38v1.76h-9.38zM447.7 347.91h9.38v1.76h-9.38zM457.7 347.91h9.38v1.76h-9.38zM527.7 347.91h9.38v1.76h-9.38zM537.7 347.91h9.38v1.76h-9.38zM477.7 352.52h9.38v1.76h-9.38zM547.7 352.52h9.38v1.76h-9.38zM557.7 352.52h9.38v1.76h-9.38zM567.7 352.52h9.38v1.76h-9.38zM587.7 352.52h9.38v1.76h-9.38zM367.7 354.83h9.38v1.76h-9.38zM437.7 354.83h9.38v1.76h-9.38zM497.7 354.83h9.38v1.76h-9.38zM557.7 354.83h9.38v1.76h-9.38zM437.7 357.14h9.38v1.76h-9.38zM537.7 357.14h9.38v1.76h-9.38zM527.7 359.45h9.38v1.76h-9.38zM367.7 361.76h9.38v1.76h-9.38zM397.7 361.76h9.38v1.76h-9.38zM477.7 361.76h9.38v1.76h-9.38zM487.7 361.76h9.38v1.76h-9.38zM577.7 361.76h9.38v1.76h-9.38zM377.7 364.06h9.38v1.76h-9.38zM407.7 364.06h9.38v1.76h-9.38zM527.7 364.06h9.38v1.76h-9.38zM547.7 364.06h9.38v1.76h-9.38zM367.7 366.37h9.38v1.76h-9.38zM427.7 373.3h9.38v1.76h-9.38zM537.7 373.3h9.38v1.76h-9.38zM557.7 373.3h9.38v1.76h-9.38zM477.7 375.6h9.38v1.76h-9.38zM497.7 375.6h9.38v1.76h-9.38zM567.7 375.6h9.38v1.76h-9.38zM577.7 375.6h9.38v1.76h-9.38zM367.7 377.91h9.38v1.76h-9.38zM387.7 377.91h9.38v1.76h-9.38zM397.7 377.91h9.38v1.76h-9.38zM537.7 377.91h9.38v1.76h-9.38zM557.7 377.91h9.38v1.76h-9.38zM587.7 377.91h9.38v1.76h-9.38zM377.7 380.22h9.38v1.76h-9.38zM397.7 380.22h9.38v1.76h-9.38zM407.7 380.22h9.38v1.76h-9.38zM457.7 380.22h9.38v1.76h-9.38zM477.7 380.22h9.38v1.76h-9.38zM537.7 380.22h9.38v1.76h-9.38zM597.7 380.22h9.38v1.76h-9.38zM367.7 382.53h9.38v1.76h-9.38zM527.7 384.84h9.38v1.76h-9.38zM537.7 384.84h9.38v1.76h-9.38zM467.7 391.76h9.38v1.76h-9.38zM377.7 396.38h9.38v1.76h-9.38zM437.7 396.38h9.38v1.76h-9.38zM507.7 396.38h9.38v1.76h-9.38zM457.7 398.68h9.38v1.76h-9.38zM467.7 398.68h9.38v1.76h-9.38zM477.7 398.68h9.38v1.76h-9.38zM587.7 398.68h9.38v1.76h-9.38zM477.7 400.99h9.38v1.76h-9.38zM557.7 400.99h9.38v1.76h-9.38zM377.7 403.3h9.38v1.76h-9.38zM477.7 403.3h9.38v1.76h-9.38zM487.7 403.3h9.38v1.76h-9.38zM557.7 403.3h9.38v1.76h-9.38zM587.7 403.3h9.38v1.76h-9.38zM607.7 410.22h9.38v1.76h-9.38zM367.7 414.84h9.38v1.76h-9.38zM467.7 414.84h9.38v1.76h-9.38zM477.7 414.84h9.38v1.76h-9.38zM377.7 417.15h9.38v1.76h-9.38zM387.7 417.15h9.38v1.76h-9.38zM427.7 417.15h9.38v1.76h-9.38zM537.7 417.15h9.38v1.76h-9.38zM567.7 417.15h9.38v1.76h-9.38zM607.7 417.15h9.38v1.76h-9.38zM367.7 419.46h9.38v1.76h-9.38zM477.7 419.46h9.38v1.76h-9.38zM527.7 419.46h9.38v1.76h-9.38zM537.7 419.46h9.38v1.76h-9.38zM417.7 421.76h9.38v1.76h-9.38zM497.7 421.76h9.38v1.76h-9.38zM387.7 424.07h9.38v1.76h-9.38zM397.7 424.07h9.38v1.76h-9.38zM407.7 424.07h9.38v1.76h-9.38zM427.7 424.07h9.38v1.76h-9.38zM557.7 424.07h9.38v1.76h-9.38zM607.7 424.07h9.38v1.76h-9.38zM387.7 426.38h9.38v1.76h-9.38zM397.7 426.38h9.38v1.76h-9.38zM427.7 428.69h9.38v1.76h-9.38zM497.7 428.69h9.38v1.76h-9.38zM517.7 428.69h9.38v1.76h-9.38zM537.7 428.69h9.38v1.76h-9.38zM377.7 431h9.38v1.76h-9.38zM407.7 431h9.38v1.76h-9.38zM447.7 431h9.38v1.76h-9.38zM527.7 431h9.38v1.76h-9.38zM537.7 431h9.38v1.76h-9.38zM547.7 431h9.38v1.76h-9.38zM577.7 433.3h9.38v1.76h-9.38zM367.7 435.61h9.38v1.76h-9.38zM527.7 435.61h9.38v1.76h-9.38zM547.7 435.61h9.38v1.76h-9.38zM557.7 435.61h9.38v1.76h-9.38zM567.7 435.61h9.38v1.76h-9.38zM577.7 435.61h9.38v1.76h-9.38zM367.7 437.92h9.38v1.76h-9.38zM437.7 437.92h9.38v1.76h-9.38zM507.7 437.92h9.38v1.76h-9.38zM477.7 440.23h9.38v1.76h-9.38zM537.7 440.23h9.38v1.76h-9.38zM597.7 440.23h9.38v1.76h-9.38zM367.7 442.54h9.38v1.76h-9.38zM387.7 444.84h9.38v1.76h-9.38zM537.7 444.84h9.38v1.76h-9.38zM367.7 451.77h9.38v1.76h-9.38zM397.7 451.77h9.38v1.76h-9.38zM437.7 451.77h9.38v1.76h-9.38zM517.7 451.77h9.38v1.76h-9.38zM597.7 451.77h9.38v1.76h-9.38zM367.7 456.38h9.38v1.76h-9.38zM477.7 456.38h9.38v1.76h-9.38zM457.7 458.69h9.38v1.76h-9.38zM387.7 461h9.38v1.76h-9.38zM427.7 461h9.38v1.76h-9.38zM427.7 463.31h9.38v1.76h-9.38zM477.7 463.31h9.38v1.76h-9.38zM497.7 463.31h9.38v1.76h-9.38zM537.7 463.31h9.38v1.76h-9.38zM477.7 465.62h9.38v1.76h-9.38zM427.7 470.23h9.38v1.76h-9.38zM507.7 470.23h9.38v1.76h-9.38zM607.7 472.54h9.38v1.76h-9.38zM457.7 474.85h9.38v1.76h-9.38zM537.7 474.85h9.38v1.76h-9.38zM517.7 477.16h9.38v1.76h-9.38zM437.7 479.46h9.38v1.76h-9.38zM457.7 479.46h9.38v1.76h-9.38zM537.7 479.46h9.38v1.76h-9.38zM467.7 481.77h9.38v1.76h-9.38zM497.7 481.77h9.38v1.76h-9.38zM527.7 481.77h9.38v1.76h-9.38zM547.7 481.77h9.38v1.76h-9.38zM417.7 484.08h9.38v1.76h-9.38zM597.7 484.08h9.38v1.76h-9.38zM607.7 484.08h9.38v1.76h-9.38zM437.7 486.39h9.38v1.76h-9.38zM367.7 488.7h9.38v1.76h-9.38zM367.7 493.31h9.38v1.76h-9.38zM527.7 500.24h9.38v1.76h-9.38zM367.7 507.16h9.38v1.76h-9.38zM427.7 507.16h9.38v1.76h-9.38zM447.7 507.16h9.38v1.76h-9.38zM427.7 509.47h9.38v1.76h-9.38zM457.7 509.47h9.38v1.76h-9.38zM577.7 509.47h9.38v1.76h-9.38zM407.7 511.78h9.38v1.76h-9.38zM427.7 511.78h9.38v1.76h-9.38zM467.7 511.78h9.38v1.76h-9.38zM477.7 511.78h9.38v1.76h-9.38zM367.7 514.08h9.38v1.76h-9.38zM407.7 514.08h9.38v1.76h-9.38z"/>
<path fill="#76b088" d="M377.7 287.9h9.38v1.76h-9.38zM427.7 287.9h9.38v1.76h-9.38zM537.7 287.9h9.38v1.76h-9.38zM367.7 292.52h9.38v1.76h-9.38zM467.7 292.52h9.38v1.76h-9.38zM487.7 292.52h9.38v1.76h-9.38zM517.7 292.52h9.38v1.76h-9.38zM537.7 292.52h9.38v1.76h-9.38zM547.7 292.52h9.38v1.76h-9.38zM577.7 292.52h9.38v1.76h-9.38zM367.7 294.82h9.38v1.76h-9.38zM607.7 294.82h9.38v1.76h-9.38zM457.7 297.13h9.38v1.76h-9.38zM477.7 297.13h9.38v1.76h-9.38zM537.7 297.13h9.38v1.76h-9.38zM557.7 297.13h9.38v1.76h-9.38zM577.7 297.13h9.38v1.76h-9.38zM597.7 299.44h9.38v1.76h-9.38zM377.7 301.75h9.38v1.76h-9.38zM387.7 301.75h9.38v1.76h-9.38zM457.7 301.75h9.38v1.76h-9.38zM447.7 304.06h9.38v1.76h-9.38zM517.7 304.06h9.38v1.76h-9.38zM537.7 304.06h9.38v1.76h-9.38zM557.7 304.06h9.38v1.76h-9.38zM587.7 304.06h9.38v1.76h-9.38zM407.7 306.36h9.38v1.76h-9.38zM417.7 306.36h9.38v1.76h-9.38zM547.7 306.36h9.38v1.76h-9.38zM557.7 306.36h9.38v1.76h-9.38zM457.7 308.67h9.38v1.76h-9.38zM527.7 310.98h9.38v1.76h-9.38zM547.7 310.98h9.38v1.76h-9.38zM387.7 315.6h9.38v1.76h-9.38zM407.7 315.6h9.38v1.76h-9.38zM597.7 315.6h9.38v1.76h-9.38zM397.7 320.21h9.38v1.76h-9.38zM407.7 320.21h9.38v1.76h-9.38zM437.7 320.21h9.38v1.76h-9.38zM457.7 320.21h9.38v1.76h-9.38zM557.7 320.21h9.38v1.76h-9.38zM577.7 320.21h9.38v1.76h-9.38zM587.7 320.21h9.38v1.76h-9.38zM397.7 322.52h9.38v1.76h-9.38zM467.7 322.52h9.38v1.76h-9.38zM477.7 322.52h9.38v1.76h-9.38zM527.7 322.52h9.38v1.76h-9.38zM577.7 322.52h9.38v1.76h-9.38zM517.7 324.83h9.38v1.76h-9.38zM467.7 327.14h9.38v1.76h-9.38zM497.7 327.14h9.38v1.76h-9.38zM507.7 327.14h9.38v1.76h-9.38zM377.7 329.44h9.38v1.76h-9.38zM407.7 329.44h9.38v1.76h-9.38zM487.7 329.44h9.38v1.76h-9.38zM517.7 329.44h9.38v1.76h-9.38zM457.7 334.06h9.38v1.76h-9.38zM407.7 336.37h9.38v1.76h-9.38zM417.7 336.37h9.38v1.76h-9.38zM447.7 336.37h9.38v1.76h-9.38zM487.7 338.68h9.38v1.76h-9.38zM557.7 338.68h9.38v1.76h-9.38zM447.7 340.98h9.38v1.76h-9.38zM397.7 343.29h9.38v1.76h-9.38zM567.7 343.29h9.38v1.76h-9.38zM477.7 345.6h9.38v1.76h-9.38zM547.7 345.6h9.38v1.76h-9.38zM597.7 345.6h9.38v1.76h-9.38zM447.7 352.52h9.38v1.76h-9.38zM457.7 352.52h9.38v1.76h-9.38zM577.7 352.52h9.38v1.76h-9.38zM397.7 354.83h9.38v1.76h-9.38zM457.7 354.83h9.38v1.76h-9.38zM487.7 354.83h9.38v1.76h-9.38zM567.7 354.83h9.38v1.76h-9.38zM447.7 357.14h9.38v1.76h-9.38zM377.7 359.45h9.38v1.76h-9.38zM397.7 359.45h9.38v1.76h-9.38zM487.7 359.45h9.38v1.76h-9.38zM537.7 359.45h9.38v1.76h-9.38zM567.7 359.45h9.38v1.76h-9.38zM387.7 361.76h9.38v1.76h-9.38zM407.7 361.76h9.38v1.76h-9.38zM427.7 361.76h9.38v1.76h-9.38zM447.7 361.76h9.38v1.76h-9.38zM457.7 361.76h9.38v1.76h-9.38zM507.7 361.76h9.38v1.76h-9.38zM567.7 361.76h9.38v1.76h-9.38zM387.7 364.06h9.38v1.76h-9.38zM477.7 364.06h9.38v1.76h-9.38zM517.7 364.06h9.38v1.76h-9.38zM587.7 364.06h9.38v1.76h-9.38zM427.7 366.37h9.38v1.76h-9.38zM467.7 366.37h9.38v1.76h-9.38zM477.7 368.68h9.38v1.76h-9.38zM457.7 370.99h9.38v1.76h-9.38zM487.7 370.99h9.38v1.76h-9.38zM437.7 373.3h9.38v1.76h-9.38zM527.7 373.3h9.38v1.76h-9.38zM567.7 373.3h9.38v1.76h-9.38zM377.7 375.6h9.38v1.76h-9.38zM387.7 375.6h9.38v1.76h-9.38zM427.7 375.6h9.38v1.76h-9.38zM467.7 375.6h9.38v1.76h-9.38zM517.7 375.6h9.38v1.76h-9.38zM407.7 377.91h9.38v1.76h-9.38zM417.7 377.91h9.38v1.76h-9.38zM527.7 377.91h9.38v1.76h-9.38zM567.7 377.91h9.38v1.76h-9.38zM607.7 377.91h9.38v1.76h-9.38zM567.7 380.22h9.38v1.76h-9.38zM587.7 380.22h9.38v1.76h-9.38zM447.7 384.84h9.38v1.76h-9.38zM547.7 387.14h9.38v1.76h-9.38zM587.7 387.14h9.38v1.76h-9.38zM487.7 391.76h9.38v1.76h-9.38zM527.7 391.76h9.38v1.76h-9.38zM577.7 391.76h9.38v1.76h-9.38zM447.7 396.38h9.38v1.76h-9.38zM467.7 396.38h9.38v1.76h-9.38zM577.7 396.38h9.38v1.76h-9.38zM607.7 396.38h9.38v1.76h-9.38zM597.7 398.68h9.38v1.76h-9.38zM407.7 400.99h9.38v1.76h-9.38zM417.7 400.99h9.38v1.76h-9.38zM447.7 400.99h9.38v1.76h-9.38zM457.7 400.99h9.38v1.76h-9.38zM537.7 400.99h9.38v1.76h-9.38zM397.7 403.3h9.38v1.76h-9.38zM407.7 403.3h9.38v1.76h-9.38zM507.7 403.3h9.38v1.76h-9.38zM527.7 403.3h9.38v1.76h-9.38zM367.7 407.92h9.38v1.76h-9.38zM437.7 410.22h9.38v1.76h-9.38zM447.7 410.22h9.38v1.76h-9.38zM387.7 414.84h9.38v1.76h-9.38zM557.7 414.84h9.38v1.76h-9.38zM407.7 417.15h9.38v1.76h-9.38zM417.7 417.15h9.38v1.76h-9.38zM507.7 417.15h9.38v1.76h-9.38zM417.7 419.46h9.38v1.76h-9.38zM467.7 419.46h9.38v1.76h-9.38zM497.7 419.46h9.38v1.76h-9.38zM507.7 421.76h9.38v1.76h-9.38zM477.7 424.07h9.38v1.76h-9.38zM367.7 426.38h9.38v1.76h-9.38zM477.7 426.38h9.38v1.76h-9.38zM497.7 426.38h9.38v1.76h-9.38zM517.7 426.38h9.38v1.76h-9.38zM557.7 426.38h9.38v1.76h-9.38zM397.7 428.69h9.38v1.76h-9.38zM487.7 428.69h9.38v1.76h-9.38zM507.7 428.69h9.38v1.76h-9.38zM567.7 428.69h9.38v1.76h-9.38zM607.7 428.69h9.38v1.76h-9.38zM437.7 431h9.38v1.76h-9.38zM467.7 431h9.38v1.76h-9.38zM557.7 433.3h9.38v1.76h-9.38zM437.7 435.61h9.38v1.76h-9.38zM537.7 435.61h9.38v1.76h-9.38zM457.7 437.92h9.38v1.76h-9.38zM467.7 437.92h9.38v1.76h-9.38zM497.7 437.92h9.38v1.76h-9.38zM527.7 437.92h9.38v1.76h-9.38zM397.7 440.23h9.38v1.76h-9.38zM417.7 440.23h9.38v1.76h-9.38zM457.7 440.23h9.38v1.76h-9.38zM487.7 440.23h9.38v1.76h-9.38zM427.7 442.54h9.38v1.76h-9.38zM557.7 442.54h9.38v1.76h-9.38zM407.7 444.84h9.38v1.76h-9.38zM427.7 444.84h9.38v1.76h-9.38zM457.7 444.84h9.38v1.76h-9.38zM497.7 444.84h9.38v1.76h-9.38zM527.7 444.84h9.38v1.76h-9.38zM557.7 444.84h9.38v1.76h-9.38zM447.7 451.77h9.38v1.76h-9.38zM477.7 451.77h9.38v1.76h-9.38zM487.7 451.77h9.38v1.76h-9.38zM497.7 451.77h9.38v1.76h-9.38zM507.7 451.77h9.38v1.76h-9.38zM527.7 451.77h9.38v1.76h-9.38zM557.7 451.77h9.38v1.76h-9.38zM577.7 451.77h9.38v1.76h-9.38zM367.7 454.08h9.38v1.76h-9.38zM547.7 461h9.38v1.76h-9.38zM437.7 463.31h9.38v1.76h-9.38zM457.7 463.31h9.38v1.76h-9.38zM557.7 463.31h9.38v1.76h-9.38zM577.7 463.31h9.38v1.76h-9.38zM597.7 463.31h9.38v1.76h-9.38zM537.7 465.62h9.38v1.76h-9.38zM397.7 467.92h9.38v1.76h-9.38zM577.7 467.92h9.38v1.76h-9.38zM407.7 470.23h9.38v1.76h-9.38zM437.7 470.23h9.38v1.76h-9.38zM457.7 470.23h9.38v1.76h-9.38zM557.7 470.23h9.38v1.76h-9.38zM547.7 474.85h9.38v1.76h-9.38zM577.7 474.85h9.38v1.76h-9.38zM507.7 477.16h9.38v1.76h-9.38zM607.7 477.16h9.38v1.76h-9.38zM407.7 479.46h9.38v1.76h-9.38zM417.7 479.46h9.38v1.76h-9.38zM477.7 479.46h9.38v1.76h-9.38zM487.7 479.46h9.38v1.76h-9.38zM497.7 479.46h9.38v1.76h-9.38zM557.7 479.46h9.38v1.76h-9.38zM387.7 481.77h9.38v1.76h-9.38zM397.7 481.77h9.38v1.76h-9.38zM487.7 481.77h9.38v1.76h-9.38zM507.7 481.77h9.38v1.76h-9.38zM587.7 481.77h9.38v1.76h-9.38zM597.7 481.77h9.38v1.76h-9.38zM397.7 484.08h9.38v1.76h-9.38zM467.7 484.08h9.38v1.76h-9.38zM537.7 484.08h9.38v1.76h-9.38zM557.7 484.08h9.38v1.76h-9.38zM427.7 486.39h9.38v1.76h-9.38zM477.7 491h9.38v1.76h-9.38zM447.7 495.62h9.38v1.76h-9.38zM497.7 495.62h9.38v1.76h-9.38zM507.7 495.62h9.38v1.76h-9.38zM557.7 495.62h9.38v1.76h-9.38zM567.7 495.62h9.38v1.76h-9.38zM497.7 504.85h9.38v1.76h-9.38zM577.7 504.85h9.38v1.76h-9.38zM547.7 507.16h9.38v1.76h-9.38zM557.7 507.16h9.38v1.76h-9.38zM577.7 507.16h9.38v1.76h-9.38zM587.7 507.16h9.38v1.76h-9.38zM447.7 509.47h9.38v1.76h-9.38zM477.7 509.47h9.38v1.76h-9.38zM487.7 509.47h9.38v1.76h-9.38zM507.7 509.47h9.38v1.76h-9.38zM557.7 509.47h9.38v1.76h-9.38zM587.7 509.47h9.38v1.76h-9.38zM487.7 511.78h9.38v1.76h-9.38zM507.7 511.78h9.38v1.76h-9.38zM557.7 511.78h9.38v1.76h-9.38zM567.7 511.78h9.38v1.76h-9.38zM417.7 514.08h9.38v1.76h-9.38zM487.7 516.39h9.38v1.76h-9.38zM517.7 516.39h9.38v1.76h-9.38z"/>
<path fill="#72ae85" d="M397.7 287.9h9.38v1.76h-9.38zM527.7 287.9h9.38v1.76h-9.38zM387.7 290.21h9.38v1.76h-9.38zM437.7 290.21h9.38v1.76h-9.38zM457.7 290.21h9.38v1.76h-9.38zM467.7 290.21h9.38v1.76h-9.38zM547.7 290.21h9.38v1.76h-9.38zM607.7 290.21h9.38v1.76h-9.38zM407.7 292.52h9.38v1.76h-9.38zM477.7 292.52h9.38v1.76h-9.38zM527.7 292.52h9.38v1.76h-9.38zM557.7 292.52h9.38v1.76h-9.38zM587.7 292.52h9.38v1.76h-9.38zM467.7 294.82h9.38v1.76h-9.38zM497.7 294.82h9.38v1.76h-9.38zM517.7 294.82h9.38v1.76h-9.38zM597.7 294.82h9.38v1.76h-9.38zM387.7 297.13h9.38v1.76h-9.38zM397.7 297.13h9.38v1.76h-9.38zM427.7 297.13h9.38v1.76h-9.38zM447.7 297.13h9.38v1.76h-9.38zM607.7 299.44h9.38v1.76h-9.38zM397.7 301.75h9.38v1.76h-9.38zM437.7 301.75h9.38v1.76h-9.38zM587.7 301.75h9.38v1.76h-9.38zM597.7 301.75h9.38v1.76h-9.38zM607.7 301.75h9.38v1.76h-9.38zM467.7 304.06h9.38v1.76h-9.38zM477.7 304.06h9.38v1.76h-9.38zM507.7 304.06h9.38v1.76h-9.38zM427.7 306.36h9.38v1.76h-9.38zM437.7 306.36h9.38v1.76h-9.38zM577.7 306.36h9.38v1.76h-9.38zM587.7 306.36h9.38v1.76h-9.38zM407.7 308.67h9.38v1.76h-9.38zM427.7 308.67h9.38v1.76h-9.38zM437.7 308.67h9.38v1.76h-9.38zM407.7 310.98h9.38v1.76h-9.38zM447.7 310.98h9.38v1.76h-9.38zM457.7 310.98h9.38v1.76h-9.38zM437.7 315.6h9.38v1.76h-9.38zM447.7 315.6h9.38v1.76h-9.38zM457.7 315.6h9.38v1.76h-9.38zM557.7 315.6h9.38v1.76h-9.38zM447.7 317.9h9.38v1.76h-9.38zM507.7 317.9h9.38v1.76h-9.38zM517.7 317.9h9.38v1.76h-9.38zM387.7 320.21h9.38v1.76h-9.38zM477.7 320.21h9.38v1.76h-9.38zM507.7 320.21h9.38v1.76h-9.38zM377.7 322.52h9.38v1.76h-9.38zM387.7 322.52h9.38v1.76h-9.38zM437.7 322.52h9.38v1.76h-9.38zM487.7 322.52h9.38v1.76h-9.38zM527.7 324.83h9.38v1.76h-9.38zM547.7 324.83h9.38v1.76h-9.38zM577.7 324.83h9.38v1.76h-9.38zM597.7 324.83h9.38v1.76h-9.38zM607.7 324.83h9.38v1.76h-9.38zM387.7 327.14h9.38v1.76h-9.38zM497.7 329.44h9.38v1.76h-9.38zM507.7 329.44h9.38v1.76h-9.38zM587.7 329.44h9.38v1.76h-9.38zM607.7 329.44h9.38v1.76h-9.38zM427.7 331.75h9.38v1.76h-9.38zM477.7 331.75h9.38v1.76h-9.38zM497.7 331.75h9.38v1.76h-9.38zM517.7 331.75h9.38v1.76h-9.38zM397.7 334.06h9.38v1.76h-9.38zM427.7 336.37h9.38v1.76h-9.38zM387.7 338.68h9.38v1.76h-9.38zM477.7 338.68h9.38v1.76h-9.38zM527.7 338.68h9.38v1.76h-9.38zM537.7 338.68h9.38v1.76h-9.38zM437.7 340.98h9.38v1.76h-9.38zM477.7 340.98h9.38v1.76h-9.38zM527.7 340.98h9.38v1.76h-9.38zM417.7 343.29h9.38v1.76h-9.38zM427.7 343.29h9.38v1.76h-9.38zM477.7 343.29h9.38v1.76h-9.38zM487.7 343.29h9.38v1.76h-9.38zM527.7 343.29h9.38v1.76h-9.38zM587.7 343.29h9.38v1.76h-9.38zM607.7 343.29h9.38v1.76h-9.38zM407.7 347.91h9.38v1.76h-9.38zM477.7 347.91h9.38v1.76h-9.38zM487.7 347.91h9.38v1.76h-9.38zM547.7 347.91h9.38v1.76h-9.38zM467.7 350.22h9.38v1.76h-9.38zM477.7 350.22h9.38v1.76h-9.38zM487.7 350.22h9.38v1.76h-9.38zM547.7 350.22h9.38v1.76h-9.38zM567.7 350.22h9.38v1.76h-9.38zM497.7 352.52h9.38v1.76h-9.38zM527.7 352.52h9.38v1.76h-9.38zM607.7 352.52h9.38v1.76h-9.38zM417.7 354.83h9.38v1.76h-9.38zM447.7 354.83h9.38v1.76h-9.38zM377.7 357.14h9.38v1.76h-9.38zM457.7 357.14h9.38v1.76h-9.38zM467.7 357.14h9.38v1.76h-9.38zM567.7 357.14h9.38v1.76h-9.38zM387.7 359.45h9.38v1.76h-9.38zM497.7 359.45h9.38v1.76h-9.38zM557.7 359.45h9.38v1.76h-9.38zM597.7 359.45h9.38v1.76h-9.38zM607.7 359.45h9.38v1.76h-9.38zM497.7 361.76h9.38v1.76h-9.38zM597.7 361.76h9.38v1.76h-9.38zM607.7 361.76h9.38v1.76h-9.38zM417.7 364.06h9.38v1.76h-9.38zM427.7 364.06h9.38v1.76h-9.38zM467.7 364.06h9.38v1.76h-9.38zM537.7 364.06h9.38v1.76h-9.38zM457.7 366.37h9.38v1.76h-9.38zM407.7 368.68h9.38v1.76h-9.38zM417.7 368.68h9.38v1.76h-9.38zM397.7 370.99h9.38v1.76h-9.38zM437.7 370.99h9.38v1.76h-9.38zM467.7 370.99h9.38v1.76h-9.38zM477.7 370.99h9.38v1.76h-9.38zM397.7 373.3h9.38v1.76h-9.38zM407.7 373.3h9.38v1.76h-9.38zM417.7 373.3h9.38v1.76h-9.38zM457.7 373.3h9.38v1.76h-9.38zM467.7 373.3h9.38v1.76h-9.38zM487.7 373.3h9.38v1.76h-9.38zM517.7 373.3h9.38v1.76h-9.38zM607.7 373.3h9.38v1.76h-9.38zM397.7 375.6h9.38v1.76h-9.38zM407.7 375.6h9.38v1.76h-9.38zM487.7 375.6h9.38v1.76h-9.38zM557.7 375.6h9.38v1.76h-9.38zM587.7 375.6h9.38v1.76h-9.38zM467.7 377.91h9.38v1.76h-9.38zM577.7 380.22h9.38v1.76h-9.38zM607.7 380.22h9.38v1.76h-9.38zM437.7 382.53h9.38v1.76h-9.38zM597.7 382.53h9.38v1.76h-9.38zM417.7 384.84h9.38v1.76h-9.38zM427.7 384.84h9.38v1.76h-9.38zM457.7 384.84h9.38v1.76h-9.38zM467.7 384.84h9.38v1.76h-9.38zM397.7 387.14h9.38v1.76h-9.38zM517.7 387.14h9.38v1.76h-9.38zM577.7 387.14h9.38v1.76h-9.38zM597.7 387.14h9.38v1.76h-9.38zM397.7 391.76h9.38v1.76h-9.38zM517.7 391.76h9.38v1.76h-9.38zM407.7 396.38h9.38v1.76h-9.38zM457.7 396.38h9.38v1.76h-9.38zM487.7 396.38h9.38v1.76h-9.38zM497.7 396.38h9.38v1.76h-9.38zM517.7 396.38h9.38v1.76h-9.38zM377.7 398.68h9.38v1.76h-9.38zM407.7 398.68h9.38v1.76h-9.38zM437.7 398.68h9.38v1.76h-9.38zM577.7 398.68h9.38v1.76h-9.38zM427.7 400.99h9.38v1.76h-9.38zM487.7 400.99h9.38v1.76h-9.38zM497.7 400.99h9.38v1.76h-9.38zM507.7 400.99h9.38v1.76h-9.38zM577.7 400.99h9.38v1.76h-9.38zM597.7 400.99h9.38v1.76h-9.38zM437.7 403.3h9.38v1.76h-9.38zM497.7 403.3h9.38v1.76h-9.38zM407.7 414.84h9.38v1.76h-9.38zM507.7 414.84h9.38v1.76h-9.38zM397.7 417.15h9.38v1.76h-9.38zM447.7 417.15h9.38v1.76h-9.38zM457.7 417.15h9.38v1.76h-9.38zM547.7 417.15h9.38v1.76h-9.38zM577.7 417.15h9.38v1.76h-9.38zM587.7 417.15h9.38v1.76h-9.38zM597.7 417.15h9.38v1.76h-9.38zM407.7 419.46h9.38v1.76h-9.38zM427.7 419.46h9.38v1.76h-9.38zM507.7 419.46h9.38v1.76h-9.38zM407.7 421.76h9.38v1.76h-9.38zM587.7 421.76h9.38v1.76h-9.38zM467.7 426.38h9.38v1.76h-9.38zM487.7 426.38h9.38v1.76h-9.38zM537.7 426.38h9.38v1.76h-9.38zM567.7 426.38h9.38v1.76h-9.38zM457.7 428.69h9.38v1.76h-9.38zM417.7 431h9.38v1.76h-9.38zM477.7 431h9.38v1.76h-9.38zM487.7 431h9.38v1.76h-9.38zM497.7 431h9.38v1.76h-9.38zM577.7 431h9.38v1.76h-9.38zM417.7 433.3h9.38v1.76h-9.38zM567.7 433.3h9.38v1.76h-9.38zM397.7 435.61h9.38v1.76h-9.38zM407.7 435.61h9.38v1.76h-9.38zM457.7 435.61h9.38v1.76h-9.38zM517.7 437.92h9.38v1.76h-9.38zM537.7 437.92h9.38v1.76h-9.38zM587.7 437.92h9.38v1.76h-9.38zM437.7 440.23h9.38v1.76h-9.38zM587.7 440.23h9.38v1.76h-9.38zM407.7 442.54h9.38v1.76h-9.38zM487.7 442.54h9.38v1.76h-9.38zM507.7 442.54h9.38v1.76h-9.38zM547.7 444.84h9.38v1.76h-9.38zM467.7 451.77h9.38v1.76h-9.38zM567.7 451.77h9.38v1.76h-9.38zM587.7 451.77h9.38v1.76h-9.38zM537.7 458.69h9.38v1.76h-9.38zM547.7 458.69h9.38v1.76h-9.38zM587.7 458.69h9.38v1.76h-9.38zM597.7 458.69h9.38v1.76h-9.38zM477.7 461h9.38v1.76h-9.38zM497.7 461h9.38v1.76h-9.38zM507.7 461h9.38v1.76h-9.38zM517.7 461h9.38v1.76h-9.38zM597.7 461h9.38v1.76h-9.38zM377.7 463.31h9.38v1.76h-9.38zM487.7 463.31h9.38v1.76h-9.38zM487.7 465.62h9.38v1.76h-9.38zM527.7 465.62h9.38v1.76h-9.38zM557.7 465.62h9.38v1.76h-9.38zM497.7 467.92h9.38v1.76h-9.38zM517.7 467.92h9.38v1.76h-9.38zM397.7 470.23h9.38v1.76h-9.38zM517.7 470.23h9.38v1.76h-9.38zM567.7 470.23h9.38v1.76h-9.38zM447.7 472.54h9.38v1.76h-9.38zM447.7 474.85h9.38v1.76h-9.38zM517.7 474.85h9.38v1.76h-9.38zM557.7 477.16h9.38v1.76h-9.38zM567.7 477.16h9.38v1.76h-9.38zM587.7 477.16h9.38v1.76h-9.38zM387.7 479.46h9.38v1.76h-9.38zM397.7 479.46h9.38v1.76h-9.38zM517.7 479.46h9.38v1.76h-9.38zM567.7 479.46h9.38v1.76h-9.38zM577.7 479.46h9.38v1.76h-9.38zM537.7 481.77h9.38v1.76h-9.38zM607.7 481.77h9.38v1.76h-9.38zM407.7 484.08h9.38v1.76h-9.38zM427.7 484.08h9.38v1.76h-9.38zM497.7 484.08h9.38v1.76h-9.38zM517.7 484.08h9.38v1.76h-9.38zM527.7 484.08h9.38v1.76h-9.38zM547.7 484.08h9.38v1.76h-9.38zM407.7 486.39h9.38v1.76h-9.38zM447.7 486.39h9.38v1.76h-9.38zM477.7 486.39h9.38v1.76h-9.38zM507.7 486.39h9.38v1.76h-9.38zM537.7 486.39h9.38v1.76h-9.38zM437.7 495.62h9.38v1.76h-9.38zM457.7 495.62h9.38v1.76h-9.38zM517.7 495.62h9.38v1.76h-9.38zM417.7 500.24h9.38v1.76h-9.38zM527.7 502.54h9.38v1.76h-9.38zM467.7 504.85h9.38v1.76h-9.38zM477.7 504.85h9.38v1.76h-9.38zM407.7 507.16h9.38v1.76h-9.38zM607.7 507.16h9.38v1.76h-9.38zM387.7 509.47h9.38v1.76h-9.38zM417.7 509.47h9.38v1.76h-9.38zM437.7 509.47h9.38v1.76h-9.38zM497.7 509.47h9.38v1.76h-9.38zM567.7 509.47h9.38v1.76h-9.38zM447.7 511.78h9.38v1.76h-9.38zM497.7 511.78h9.38v1.76h-9.38zM437.7 514.08h9.38v1.76h-9.38zM607.7 514.08h9.38v1.76h-9.38zM377.7 516.39h9.38v1.76h-9.38zM407.7 516.39h9.38v1.76h-9.38zM447.7 516.39h9.38v1.76h-9.38zM467.7 516.39h9.38v1.76h-9.38zM497.7 516.39h9.38v1.76h-9.38z"/>
<path fill="#6eac81" d="M387.7 287.9h9.38v1.76h-9.38zM487.7 290.21h9.38v1.76h-9.38zM507.7 290.21h9.38v1.76h-9.38zM527.7 290.21h9.38v1.76h-9.38zM587.7 290.21h9.38v1.76h-9.38zM597.7 290.21h9.38v1.76h-9.38zM417.7 292.52h9.38v1.76h-9.38zM427.7 292.52h9.38v1.76h-9.38zM407.7 294.82h9.38v1.76h-9.38zM427.7 294.82h9.38v1.76h-9.38zM507.7 294.82h9.38v1.76h-9.38zM417.7 297.13h9.38v1.76h-9.38zM597.7 297.13h9.38v1.76h-9.38zM607.7 297.13h9.38v1.76h-9.38zM587.7 299.44h9.38v1.76h-9.38zM487.7 304.06h9.38v1.76h-9.38zM497.7 304.06h9.38v1.76h-9.38zM547.7 304.06h9.38v1.76h-9.38zM447.7 306.36h9.38v1.76h-9.38zM457.7 306.36h9.38v1.76h-9.38zM537.7 306.36h9.38v1.76h-9.38zM567.7 306.36h9.38v1.76h-9.38zM377.7 308.67h9.38v1.76h-9.38zM397.7 308.67h9.38v1.76h-9.38zM417.7 308.67h9.38v1.76h-9.38zM447.7 308.67h9.38v1.76h-9.38zM467.7 308.67h9.38v1.76h-9.38zM507.7 308.67h9.38v1.76h-9.38zM437.7 310.98h9.38v1.76h-9.38zM487.7 313.29h9.38v1.76h-9.38zM417.7 315.6h9.38v1.76h-9.38zM427.7 315.6h9.38v1.76h-9.38zM427.7 317.9h9.38v1.76h-9.38zM467.7 317.9h9.38v1.76h-9.38zM477.7 317.9h9.38v1.76h-9.38zM487.7 317.9h9.38v1.76h-9.38zM547.7 317.9h9.38v1.76h-9.38zM587.7 317.9h9.38v1.76h-9.38zM607.7 317.9h9.38v1.76h-9.38zM467.7 320.21h9.38v1.76h-9.38zM517.7 320.21h9.38v1.76h-9.38zM527.7 320.21h9.38v1.76h-9.38zM417.7 322.52h9.38v1.76h-9.38zM427.7 322.52h9.38v1.76h-9.38zM597.7 322.52h9.38v1.76h-9.38zM487.7 324.83h9.38v1.76h-9.38zM537.7 324.83h9.38v1.76h-9.38zM557.7 324.83h9.38v1.76h-9.38zM377.7 327.14h9.38v1.76h-9.38zM397.7 327.14h9.38v1.76h-9.38zM417.7 327.14h9.38v1.76h-9.38zM517.7 327.14h9.38v1.76h-9.38zM467.7 329.44h9.38v1.76h-9.38zM477.7 329.44h9.38v1.76h-9.38zM507.7 331.75h9.38v1.76h-9.38zM557.7 331.75h9.38v1.76h-9.38zM577.7 331.75h9.38v1.76h-9.38zM387.7 334.06h9.38v1.76h-9.38zM577.7 338.68h9.38v1.76h-9.38zM407.7 340.98h9.38v1.76h-9.38zM547.7 340.98h9.38v1.76h-9.38zM407.7 343.29h9.38v1.76h-9.38zM547.7 343.29h9.38v1.76h-9.38zM597.7 343.29h9.38v1.76h-9.38zM387.7 347.91h9.38v1.76h-9.38zM507.7 347.91h9.38v1.76h-9.38zM597.7 347.91h9.38v1.76h-9.38zM527.7 350.22h9.38v1.76h-9.38zM537.7 350.22h9.38v1.76h-9.38zM557.7 350.22h9.38v1.76h-9.38zM577.7 350.22h9.38v1.76h-9.38zM427.7 352.52h9.38v1.76h-9.38zM437.7 352.52h9.38v1.76h-9.38zM467.7 352.52h9.38v1.76h-9.38zM507.7 352.52h9.38v1.76h-9.38zM427.7 354.83h9.38v1.76h-9.38zM537.7 354.83h9.38v1.76h-9.38zM397.7 357.14h9.38v1.76h-9.38zM407.7 357.14h9.38v1.76h-9.38zM577.7 357.14h9.38v1.76h-9.38zM507.7 359.45h9.38v1.76h-9.38zM547.7 359.45h9.38v1.76h-9.38zM587.7 359.45h9.38v1.76h-9.38zM377.7 361.76h9.38v1.76h-9.38zM587.7 361.76h9.38v1.76h-9.38zM437.7 366.37h9.38v1.76h-9.38zM447.7 366.37h9.38v1.76h-9.38zM517.7 366.37h9.38v1.76h-9.38zM527.7 366.37h9.38v1.76h-9.38zM397.7 368.68h9.38v1.76h-9.38zM457.7 368.68h9.38v1.76h-9.38zM387.7 370.99h9.38v1.76h-9.38zM407.7 370.99h9.38v1.76h-9.38zM447.7 370.99h9.38v1.76h-9.38zM527.7 370.99h9.38v1.76h-9.38zM547.7 370.99h9.38v1.76h-9.38zM567.7 370.99h9.38v1.76h-9.38zM377.7 373.3h9.38v1.76h-9.38zM447.7 373.3h9.38v1.76h-9.38zM477.7 373.3h9.38v1.76h-9.38zM597.7 373.3h9.38v1.76h-9.38zM417.7 375.6h9.38v1.76h-9.38zM597.7 375.6h9.38v1.76h-9.38zM427.7 377.91h9.38v1.76h-9.38zM487.7 377.91h9.38v1.76h-9.38zM597.7 377.91h9.38v1.76h-9.38zM427.7 380.22h9.38v1.76h-9.38zM557.7 380.22h9.38v1.76h-9.38zM527.7 382.53h9.38v1.76h-9.38zM607.7 382.53h9.38v1.76h-9.38zM377.7 384.84h9.38v1.76h-9.38zM387.7 384.84h9.38v1.76h-9.38zM407.7 384.84h9.38v1.76h-9.38zM437.7 384.84h9.38v1.76h-9.38zM477.7 384.84h9.38v1.76h-9.38zM487.7 384.84h9.38v1.76h-9.38zM547.7 384.84h9.38v1.76h-9.38zM377.7 387.14h9.38v1.76h-9.38zM407.7 387.14h9.38v1.76h-9.38zM417.7 387.14h9.38v1.76h-9.38zM427.7 387.14h9.38v1.76h-9.38zM447.7 387.14h9.38v1.76h-9.38zM527.7 387.14h9.38v1.76h-9.38zM537.7 387.14h9.38v1.76h-9.38zM377.7 391.76h9.38v1.76h-9.38zM387.7 391.76h9.38v1.76h-9.38zM507.7 391.76h9.38v1.76h-9.38zM557.7 391.76h9.38v1.76h-9.38zM417.7 396.38h9.38v1.76h-9.38zM427.7 396.38h9.38v1.76h-9.38zM557.7 396.38h9.38v1.76h-9.38zM587.7 396.38h9.38v1.76h-9.38zM597.7 396.38h9.38v1.76h-9.38zM397.7 398.68h9.38v1.76h-9.38zM417.7 398.68h9.38v1.76h-9.38zM497.7 398.68h9.38v1.76h-9.38zM567.7 400.99h9.38v1.76h-9.38zM517.7 403.3h9.38v1.76h-9.38zM567.7 403.3h9.38v1.76h-9.38zM577.7 403.3h9.38v1.76h-9.38zM467.7 410.22h9.38v1.76h-9.38zM507.7 410.22h9.38v1.76h-9.38zM517.7 410.22h9.38v1.76h-9.38zM597.7 410.22h9.38v1.76h-9.38zM377.7 414.84h9.38v1.76h-9.38zM417.7 414.84h9.38v1.76h-9.38zM567.7 414.84h9.38v1.76h-9.38zM607.7 414.84h9.38v1.76h-9.38zM497.7 417.15h9.38v1.76h-9.38zM397.7 419.46h9.38v1.76h-9.38zM577.7 419.46h9.38v1.76h-9.38zM437.7 424.07h9.38v1.76h-9.38zM577.7 424.07h9.38v1.76h-9.38zM377.7 426.38h9.38v1.76h-9.38zM507.7 426.38h9.38v1.76h-9.38zM547.7 426.38h9.38v1.76h-9.38zM577.7 426.38h9.38v1.76h-9.38zM377.7 428.69h9.38v1.76h-9.38zM387.7 428.69h9.38v1.76h-9.38zM407.7 428.69h9.38v1.76h-9.38zM437.7 428.69h9.38v1.76h-9.38zM477.7 428.69h9.38v1.76h-9.38zM577.7 428.69h9.38v1.76h-9.38zM397.7 431h9.38v1.76h-9.38zM427.7 431h9.38v1.76h-9.38zM457.7 431h9.38v1.76h-9.38zM507.7 431h9.38v1.76h-9.38zM587.7 431h9.38v1.76h-9.38zM607.7 431h9.38v1.76h-9.38zM467.7 433.3h9.38v1.76h-9.38zM387.7 435.61h9.38v1.76h-9.38zM417.7 435.61h9.38v1.76h-9.38zM427.7 435.61h9.38v1.76h-9.38zM587.7 435.61h9.38v1.76h-9.38zM547.7 437.92h9.38v1.76h-9.38zM377.7 440.23h9.38v1.76h-9.38zM387.7 440.23h9.38v1.76h-9.38zM447.7 440.23h9.38v1.76h-9.38zM467.7 440.23h9.38v1.76h-9.38zM607.7 440.23h9.38v1.76h-9.38zM467.7 442.54h9.38v1.76h-9.38zM477.7 442.54h9.38v1.76h-9.38zM577.7 442.54h9.38v1.76h-9.38zM447.7 444.84h9.38v1.76h-9.38zM517.7 444.84h9.38v1.76h-9.38zM577.7 449.46h9.38v1.76h-9.38zM537.7 451.77h9.38v1.76h-9.38zM547.7 451.77h9.38v1.76h-9.38zM487.7 456.38h9.38v1.76h-9.38zM577.7 456.38h9.38v1.76h-9.38zM417.7 458.69h9.38v1.76h-9.38zM427.7 458.69h9.38v1.76h-9.38zM437.7 458.69h9.38v1.76h-9.38zM447.7 458.69h9.38v1.76h-9.38zM487.7 461h9.38v1.76h-9.38zM387.7 463.31h9.38v1.76h-9.38zM407.7 463.31h9.38v1.76h-9.38zM547.7 463.31h9.38v1.76h-9.38zM587.7 463.31h9.38v1.76h-9.38zM607.7 463.31h9.38v1.76h-9.38zM427.7 465.62h9.38v1.76h-9.38zM467.7 465.62h9.38v1.76h-9.38zM547.7 465.62h9.38v1.76h-9.38zM567.7 465.62h9.38v1.76h-9.38zM577.7 465.62h9.38v1.76h-9.38zM457.7 467.92h9.38v1.76h-9.38zM497.7 470.23h9.38v1.76h-9.38zM537.7 470.23h9.38v1.76h-9.38zM597.7 470.23h9.38v1.76h-9.38zM607.7 470.23h9.38v1.76h-9.38zM597.7 472.54h9.38v1.76h-9.38zM397.7 474.85h9.38v1.76h-9.38zM427.7 474.85h9.38v1.76h-9.38zM437.7 474.85h9.38v1.76h-9.38zM507.7 474.85h9.38v1.76h-9.38zM527.7 474.85h9.38v1.76h-9.38zM597.7 474.85h9.38v1.76h-9.38zM597.7 477.16h9.38v1.76h-9.38zM447.7 479.46h9.38v1.76h-9.38zM467.7 479.46h9.38v1.76h-9.38zM507.7 479.46h9.38v1.76h-9.38zM407.7 481.77h9.38v1.76h-9.38zM417.7 481.77h9.38v1.76h-9.38zM477.7 481.77h9.38v1.76h-9.38zM477.7 484.08h9.38v1.76h-9.38zM417.7 486.39h9.38v1.76h-9.38zM457.7 486.39h9.38v1.76h-9.38zM467.7 486.39h9.38v1.76h-9.38zM517.7 486.39h9.38v1.76h-9.38zM377.7 488.7h9.38v1.76h-9.38zM397.7 488.7h9.38v1.76h-9.38zM487.7 491h9.38v1.76h-9.38zM407.7 500.24h9.38v1.76h-9.38zM447.7 502.54h9.38v1.76h-9.38zM467.7 502.54h9.38v1.76h-9.38zM607.7 502.54h9.38v1.76h-9.38zM397.7 504.85h9.38v1.76h-9.38zM447.7 504.85h9.38v1.76h-9.38zM517.7 504.85h9.38v1.76h-9.38zM567.7 504.85h9.38v1.76h-9.38zM457.7 507.16h9.38v1.76h-9.38zM467.7 507.16h9.38v1.76h-9.38zM487.7 507.16h9.38v1.76h-9.38zM507.7 507.16h9.38v1.76h-9.38zM567.7 507.16h9.38v1.76h-9.38zM597.7 507.16h9.38v1.76h-9.38zM517.7 509.47h9.38v1.76h-9.38zM597.7 509.47h9.38v1.76h-9.38zM607.7 509.47h9.38v1.76h-9.38zM437.7 511.78h9.38v1.76h-9.38zM457.7 511.78h9.38v1.76h-9.38zM377.7 514.08h9.38v1.76h-9.38zM427.7 514.08h9.38v1.76h-9.38zM467.7 514.08h9.38v1.76h-9.38zM557.7 514.08h9.38v1.76h-9.38zM577.7 514.08h9.38v1.76h-9.38zM387.7 516.39h9.38v1.76h-9.38zM397.7 516.39h9.38v1.76h-9.38zM457.7 516.39h9.38v1.76h-9.38zM507.7 516.39h9.38v1.76h-9.38zM537.7 516.39h9.38v1.76h-9.38zM607.7 516.39h9.38v1.76h-9.38z"/>
<path fill="#6aaa7e" d="M377.7 290.21h9.38v1.76h-9.38zM407.7 290.21h9.38v1.76h-9.38zM427.7 290.21h9.38v1.76h-9.38zM477.7 290.21h9.38v1.76h-9.38zM497.7 290.21h9.38v1.76h-9.38zM557.7 290.21h9.38v1.76h-9.38zM567.7 290.21h9.38v1.76h-9.38zM577.7 290.21h9.38v1.76h-9.38zM497.7 297.13h9.38v1.76h-9.38zM527.7 297.13h9.38v1.76h-9.38zM547.7 297.13h9.38v1.76h-9.38zM447.7 301.75h9.38v1.76h-9.38zM457.7 304.06h9.38v1.76h-9.38zM607.7 304.06h9.38v1.76h-9.38zM377.7 306.36h9.38v1.76h-9.38zM597.7 306.36h9.38v1.76h-9.38zM517.7 308.67h9.38v1.76h-9.38zM527.7 308.67h9.38v1.76h-9.38zM557.7 308.67h9.38v1.76h-9.38zM597.7 313.29h9.38v1.76h-9.38zM377.7 315.6h9.38v1.76h-9.38zM397.7 315.6h9.38v1.76h-9.38zM467.7 315.6h9.38v1.76h-9.38zM547.7 315.6h9.38v1.76h-9.38zM577.7 315.6h9.38v1.76h-9.38zM437.7 317.9h9.38v1.76h-9.38zM457.7 317.9h9.38v1.76h-9.38zM597.7 317.9h9.38v1.76h-9.38zM447.7 320.21h9.38v1.76h-9.38zM497.7 320.21h9.38v1.76h-9.38zM537.7 320.21h9.38v1.76h-9.38zM547.7 320.21h9.38v1.76h-9.38zM597.7 320.21h9.38v1.76h-9.38zM467.7 324.83h9.38v1.76h-9.38zM477.7 324.83h9.38v1.76h-9.38zM567.7 324.83h9.38v1.76h-9.38zM387.7 329.44h9.38v1.76h-9.38zM437.7 329.44h9.38v1.76h-9.38zM527.7 329.44h9.38v1.76h-9.38zM537.7 329.44h9.38v1.76h-9.38zM457.7 331.75h9.38v1.76h-9.38zM467.7 331.75h9.38v1.76h-9.38zM487.7 331.75h9.38v1.76h-9.38zM567.7 331.75h9.38v1.76h-9.38zM377.7 338.68h9.38v1.76h-9.38zM467.7 338.68h9.38v1.76h-9.38zM517.7 338.68h9.38v1.76h-9.38zM547.7 338.68h9.38v1.76h-9.38zM537.7 340.98h9.38v1.76h-9.38zM577.7 340.98h9.38v1.76h-9.38zM377.7 343.29h9.38v1.76h-9.38zM387.7 343.29h9.38v1.76h-9.38zM557.7 343.29h9.38v1.76h-9.38zM577.7 343.29h9.38v1.76h-9.38zM397.7 347.91h9.38v1.76h-9.38zM467.7 347.91h9.38v1.76h-9.38zM507.7 350.22h9.38v1.76h-9.38zM377.7 352.52h9.38v1.76h-9.38zM387.7 352.52h9.38v1.76h-9.38zM397.7 352.52h9.38v1.76h-9.38zM417.7 352.52h9.38v1.76h-9.38zM537.7 352.52h9.38v1.76h-9.38zM597.7 352.52h9.38v1.76h-9.38zM407.7 354.83h9.38v1.76h-9.38zM467.7 354.83h9.38v1.76h-9.38zM527.7 354.83h9.38v1.76h-9.38zM487.7 357.14h9.38v1.76h-9.38zM497.7 357.14h9.38v1.76h-9.38zM517.7 357.14h9.38v1.76h-9.38zM547.7 357.14h9.38v1.76h-9.38zM587.7 357.14h9.38v1.76h-9.38zM607.7 357.14h9.38v1.76h-9.38zM467.7 359.45h9.38v1.76h-9.38zM477.7 359.45h9.38v1.76h-9.38zM517.7 359.45h9.38v1.76h-9.38zM417.7 361.76h9.38v1.76h-9.38zM437.7 361.76h9.38v1.76h-9.38zM487.7 364.06h9.38v1.76h-9.38zM507.7 364.06h9.38v1.76h-9.38zM557.7 364.06h9.38v1.76h-9.38zM567.7 364.06h9.38v1.76h-9.38zM577.7 364.06h9.38v1.76h-9.38zM387.7 366.37h9.38v1.76h-9.38zM407.7 366.37h9.38v1.76h-9.38zM417.7 366.37h9.38v1.76h-9.38zM477.7 366.37h9.38v1.76h-9.38zM487.7 366.37h9.38v1.76h-9.38zM497.7 366.37h9.38v1.76h-9.38zM507.7 366.37h9.38v1.76h-9.38zM547.7 366.37h9.38v1.76h-9.38zM557.7 366.37h9.38v1.76h-9.38zM577.7 366.37h9.38v1.76h-9.38zM377.7 368.68h9.38v1.76h-9.38zM387.7 368.68h9.38v1.76h-9.38zM447.7 368.68h9.38v1.76h-9.38zM577.7 368.68h9.38v1.76h-9.38zM557.7 370.99h9.38v1.76h-9.38zM607.7 370.99h9.38v1.76h-9.38zM437.7 375.6h9.38v1.76h-9.38zM447.7 375.6h9.38v1.76h-9.38zM537.7 375.6h9.38v1.76h-9.38zM607.7 375.6h9.38v1.76h-9.38zM377.7 377.91h9.38v1.76h-9.38zM477.7 377.91h9.38v1.76h-9.38zM517.7 377.91h9.38v1.76h-9.38zM407.7 382.53h9.38v1.76h-9.38zM427.7 382.53h9.38v1.76h-9.38zM557.7 382.53h9.38v1.76h-9.38zM567.7 382.53h9.38v1.76h-9.38zM597.7 384.84h9.38v1.76h-9.38zM457.7 387.14h9.38v1.76h-9.38zM467.7 387.14h9.38v1.76h-9.38zM487.7 387.14h9.38v1.76h-9.38zM567.7 387.14h9.38v1.76h-9.38zM387.7 398.68h9.38v1.76h-9.38zM427.7 398.68h9.38v1.76h-9.38zM447.7 398.68h9.38v1.76h-9.38zM377.7 400.99h9.38v1.76h-9.38zM387.7 400.99h9.38v1.76h-9.38zM437.7 400.99h9.38v1.76h-9.38zM527.7 400.99h9.38v1.76h-9.38zM547.7 400.99h9.38v1.76h-9.38zM587.7 400.99h9.38v1.76h-9.38zM607.7 400.99h9.38v1.76h-9.38zM427.7 403.3h9.38v1.76h-9.38zM497.7 410.22h9.38v1.76h-9.38zM397.7 414.84h9.38v1.76h-9.38zM487.7 414.84h9.38v1.76h-9.38zM497.7 414.84h9.38v1.76h-9.38zM577.7 414.84h9.38v1.76h-9.38zM587.7 414.84h9.38v1.76h-9.38zM557.7 417.15h9.38v1.76h-9.38zM377.7 419.46h9.38v1.76h-9.38zM517.7 419.46h9.38v1.76h-9.38zM557.7 419.46h9.38v1.76h-9.38zM587.7 419.46h9.38v1.76h-9.38zM457.7 424.07h9.38v1.76h-9.38zM417.7 426.38h9.38v1.76h-9.38zM427.7 426.38h9.38v1.76h-9.38zM437.7 426.38h9.38v1.76h-9.38zM457.7 426.38h9.38v1.76h-9.38zM527.7 426.38h9.38v1.76h-9.38zM587.7 428.69h9.38v1.76h-9.38zM567.7 431h9.38v1.76h-9.38zM377.7 435.61h9.38v1.76h-9.38zM447.7 435.61h9.38v1.76h-9.38zM467.7 435.61h9.38v1.76h-9.38zM487.7 435.61h9.38v1.76h-9.38zM597.7 435.61h9.38v1.76h-9.38zM457.7 442.54h9.38v1.76h-9.38zM567.7 442.54h9.38v1.76h-9.38zM597.7 442.54h9.38v1.76h-9.38zM437.7 444.84h9.38v1.76h-9.38zM447.7 449.46h9.38v1.76h-9.38zM597.7 449.46h9.38v1.76h-9.38zM487.7 454.08h9.38v1.76h-9.38zM437.7 456.38h9.38v1.76h-9.38zM407.7 458.69h9.38v1.76h-9.38zM437.7 461h9.38v1.76h-9.38zM447.7 461h9.38v1.76h-9.38zM607.7 461h9.38v1.76h-9.38zM397.7 463.31h9.38v1.76h-9.38zM417.7 463.31h9.38v1.76h-9.38zM467.7 463.31h9.38v1.76h-9.38zM387.7 465.62h9.38v1.76h-9.38zM397.7 465.62h9.38v1.76h-9.38zM417.7 465.62h9.38v1.76h-9.38zM437.7 465.62h9.38v1.76h-9.38zM457.7 465.62h9.38v1.76h-9.38zM587.7 465.62h9.38v1.76h-9.38zM597.7 465.62h9.38v1.76h-9.38zM377.7 467.92h9.38v1.76h-9.38zM407.7 467.92h9.38v1.76h-9.38zM417.7 467.92h9.38v1.76h-9.38zM427.7 467.92h9.38v1.76h-9.38zM467.7 467.92h9.38v1.76h-9.38zM507.7 467.92h9.38v1.76h-9.38zM377.7 470.23h9.38v1.76h-9.38zM387.7 470.23h9.38v1.76h-9.38zM447.7 470.23h9.38v1.76h-9.38zM467.7 470.23h9.38v1.76h-9.38zM547.7 470.23h9.38v1.76h-9.38zM577.7 470.23h9.38v1.76h-9.38zM587.7 470.23h9.38v1.76h-9.38zM377.7 472.54h9.38v1.76h-9.38zM507.7 472.54h9.38v1.76h-9.38zM517.7 472.54h9.38v1.76h-9.38zM547.7 472.54h9.38v1.76h-9.38zM587.7 472.54h9.38v1.76h-9.38zM387.7 474.85h9.38v1.76h-9.38zM407.7 474.85h9.38v1.76h-9.38zM417.7 474.85h9.38v1.76h-9.38zM477.7 474.85h9.38v1.76h-9.38zM487.7 474.85h9.38v1.76h-9.38zM497.7 474.85h9.38v1.76h-9.38zM587.7 474.85h9.38v1.76h-9.38zM607.7 474.85h9.38v1.76h-9.38zM457.7 477.16h9.38v1.76h-9.38zM477.7 477.16h9.38v1.76h-9.38zM577.7 477.16h9.38v1.76h-9.38zM607.7 479.46h9.38v1.76h-9.38zM427.7 481.77h9.38v1.76h-9.38zM557.7 481.77h9.38v1.76h-9.38zM577.7 481.77h9.38v1.76h-9.38zM377.7 484.08h9.38v1.76h-9.38zM507.7 484.08h9.38v1.76h-9.38zM497.7 486.39h9.38v1.76h-9.38zM527.7 486.39h9.38v1.76h-9.38zM567.7 486.39h9.38v1.76h-9.38zM577.7 486.39h9.38v1.76h-9.38zM467.7 488.7h9.38v1.76h-9.38zM477.7 488.7h9.38v1.76h-9.38zM487.7 488.7h9.38v1.76h-9.38zM497.7 488.7h9.38v1.76h-9.38zM507.7 488.7h9.38v1.76h-9.38zM577.7 488.7h9.38v1.76h-9.38zM377.7 493.31h9.38v1.76h-9.38zM397.7 495.62h9.38v1.76h-9.38zM577.7 495.62h9.38v1.76h-9.38zM607.7 495.62h9.38v1.76h-9.38zM597.7 497.93h9.38v1.76h-9.38zM427.7 500.24h9.38v1.76h-9.38zM437.7 500.24h9.38v1.76h-9.38zM467.7 500.24h9.38v1.76h-9.38zM477.7 500.24h9.38v1.76h-9.38zM417.7 502.54h9.38v1.76h-9.38zM457.7 502.54h9.38v1.76h-9.38zM507.7 502.54h9.38v1.76h-9.38zM517.7 502.54h9.38v1.76h-9.38zM547.7 502.54h9.38v1.76h-9.38zM387.7 504.85h9.38v1.76h-9.38zM437.7 504.85h9.38v1.76h-9.38zM457.7 504.85h9.38v1.76h-9.38zM487.7 504.85h9.38v1.76h-9.38zM507.7 504.85h9.38v1.76h-9.38zM527.7 504.85h9.38v1.76h-9.38zM557.7 504.85h9.38v1.76h-9.38zM417.7 507.16h9.38v1.76h-9.38zM477.7 507.16h9.38v1.76h-9.38zM497.7 507.16h9.38v1.76h-9.38zM517.7 507.16h9.38v1.76h-9.38zM537.7 507.16h9.38v1.76h-9.38zM377.7 509.47h9.38v1.76h-9.38zM547.7 509.47h9.38v1.76h-9.38zM537.7 511.78h9.38v1.76h-9.38zM597.7 511.78h9.38v1.76h-9.38zM397.7 514.08h9.38v1.76h-9.38zM487.7 514.08h9.38v1.76h-9.38zM527.7 514.08h9.38v1.76h-9.38zM587.7 514.08h9.38v1.76h-9.38zM477.7 516.39h9.38v1.76h-9.38zM527.7 516.39h9.38v1.76h-9.38z"/>
<path fill="#67a97c" d="M417.7 290.21h9.38v1.76h-9.38zM517.7 290.21h9.38v1.76h-9.38zM537.7 290.21h9.38v1.76h-9.38zM567.7 297.13h9.38v1.76h-9.38zM397.7 306.36h9.38v1.76h-9.38zM467.7 306.36h9.38v1.76h-9.38zM607.7 306.36h9.38v1.76h-9.38zM537.7 308.67h9.38v1.76h-9.38zM577.7 308.67h9.38v1.76h-9.38zM447.7 313.29h9.38v1.76h-9.38zM467.7 313.29h9.38v1.76h-9.38zM477.7 313.29h9.38v1.76h-9.38zM517.7 313.29h9.38v1.76h-9.38zM537.7 313.29h9.38v1.76h-9.38zM567.7 313.29h9.38v1.76h-9.38zM577.7 313.29h9.38v1.76h-9.38zM607.7 313.29h9.38v1.76h-9.38zM477.7 315.6h9.38v1.76h-9.38zM487.7 315.6h9.38v1.76h-9.38zM497.7 315.6h9.38v1.76h-9.38zM507.7 315.6h9.38v1.76h-9.38zM377.7 317.9h9.38v1.76h-9.38zM397.7 317.9h9.38v1.76h-9.38zM407.7 317.9h9.38v1.76h-9.38zM497.7 317.9h9.38v1.76h-9.38zM487.7 320.21h9.38v1.76h-9.38zM407.7 322.52h9.38v1.76h-9.38zM407.7 327.14h9.38v1.76h-9.38zM457.7 329.44h9.38v1.76h-9.38zM547.7 329.44h9.38v1.76h-9.38zM567.7 329.44h9.38v1.76h-9.38zM577.7 329.44h9.38v1.76h-9.38zM387.7 331.75h9.38v1.76h-9.38zM397.7 331.75h9.38v1.76h-9.38zM407.7 331.75h9.38v1.76h-9.38zM437.7 331.75h9.38v1.76h-9.38zM587.7 331.75h9.38v1.76h-9.38zM387.7 340.98h9.38v1.76h-9.38zM567.7 340.98h9.38v1.76h-9.38zM587.7 340.98h9.38v1.76h-9.38zM537.7 343.29h9.38v1.76h-9.38zM517.7 347.91h9.38v1.76h-9.38zM497.7 350.22h9.38v1.76h-9.38zM547.7 354.83h9.38v1.76h-9.38zM577.7 354.83h9.38v1.76h-9.38zM417.7 357.14h9.38v1.76h-9.38zM407.7 359.45h9.38v1.76h-9.38zM377.7 366.37h9.38v1.76h-9.38zM397.7 366.37h9.38v1.76h-9.38zM537.7 366.37h9.38v1.76h-9.38zM467.7 368.68h9.38v1.76h-9.38zM487.7 368.68h9.38v1.76h-9.38zM557.7 368.68h9.38v1.76h-9.38zM377.7 370.99h9.38v1.76h-9.38zM417.7 370.99h9.38v1.76h-9.38zM427.7 370.99h9.38v1.76h-9.38zM497.7 370.99h9.38v1.76h-9.38zM517.7 370.99h9.38v1.76h-9.38zM577.7 370.99h9.38v1.76h-9.38zM597.7 370.99h9.38v1.76h-9.38zM457.7 375.6h9.38v1.76h-9.38zM527.7 375.6h9.38v1.76h-9.38zM547.7 375.6h9.38v1.76h-9.38zM437.7 377.91h9.38v1.76h-9.38zM387.7 382.53h9.38v1.76h-9.38zM417.7 382.53h9.38v1.76h-9.38zM447.7 382.53h9.38v1.76h-9.38zM457.7 382.53h9.38v1.76h-9.38zM467.7 382.53h9.38v1.76h-9.38zM477.7 382.53h9.38v1.76h-9.38zM577.7 382.53h9.38v1.76h-9.38zM587.7 382.53h9.38v1.76h-9.38zM397.7 384.84h9.38v1.76h-9.38zM577.7 384.84h9.38v1.76h-9.38zM587.7 384.84h9.38v1.76h-9.38zM607.7 384.84h9.38v1.76h-9.38zM387.7 387.14h9.38v1.76h-9.38zM437.7 387.14h9.38v1.76h-9.38zM497.7 387.14h9.38v1.76h-9.38zM557.7 387.14h9.38v1.76h-9.38zM387.7 389.45h9.38v1.76h-9.38zM477.7 389.45h9.38v1.76h-9.38zM487.7 389.45h9.38v1.76h-9.38zM497.7 391.76h9.38v1.76h-9.38zM567.7 391.76h9.38v1.76h-9.38zM587.7 391.76h9.38v1.76h-9.38zM607.7 391.76h9.38v1.76h-9.38zM547.7 398.68h9.38v1.76h-9.38zM557.7 398.68h9.38v1.76h-9.38zM567.7 398.68h9.38v1.76h-9.38zM487.7 407.92h9.38v1.76h-9.38zM557.7 407.92h9.38v1.76h-9.38zM527.7 410.22h9.38v1.76h-9.38zM427.7 414.84h9.38v1.76h-9.38zM547.7 414.84h9.38v1.76h-9.38zM387.7 419.46h9.38v1.76h-9.38zM447.7 424.07h9.38v1.76h-9.38zM407.7 426.38h9.38v1.76h-9.38zM417.7 428.69h9.38v1.76h-9.38zM387.7 431h9.38v1.76h-9.38zM557.7 431h9.38v1.76h-9.38zM597.7 431h9.38v1.76h-9.38zM477.7 433.3h9.38v1.76h-9.38zM507.7 433.3h9.38v1.76h-9.38zM537.7 433.3h9.38v1.76h-9.38zM477.7 435.61h9.38v1.76h-9.38zM607.7 435.61h9.38v1.76h-9.38zM387.7 442.54h9.38v1.76h-9.38zM447.7 442.54h9.38v1.76h-9.38zM517.7 442.54h9.38v1.76h-9.38zM537.7 442.54h9.38v1.76h-9.38zM587.7 442.54h9.38v1.76h-9.38zM507.7 444.84h9.38v1.76h-9.38zM377.7 449.46h9.38v1.76h-9.38zM437.7 449.46h9.38v1.76h-9.38zM567.7 449.46h9.38v1.76h-9.38zM587.7 449.46h9.38v1.76h-9.38zM387.7 454.08h9.38v1.76h-9.38zM407.7 454.08h9.38v1.76h-9.38zM467.7 454.08h9.38v1.76h-9.38zM567.7 454.08h9.38v1.76h-9.38zM407.7 456.38h9.38v1.76h-9.38zM497.7 458.69h9.38v1.76h-9.38zM527.7 458.69h9.38v1.76h-9.38zM567.7 458.69h9.38v1.76h-9.38zM457.7 461h9.38v1.76h-9.38zM527.7 463.31h9.38v1.76h-9.38zM607.7 465.62h9.38v1.76h-9.38zM387.7 467.92h9.38v1.76h-9.38zM477.7 467.92h9.38v1.76h-9.38zM537.7 467.92h9.38v1.76h-9.38zM547.7 467.92h9.38v1.76h-9.38zM557.7 467.92h9.38v1.76h-9.38zM597.7 467.92h9.38v1.76h-9.38zM477.7 470.23h9.38v1.76h-9.38zM397.7 472.54h9.38v1.76h-9.38zM497.7 472.54h9.38v1.76h-9.38zM467.7 474.85h9.38v1.76h-9.38zM557.7 474.85h9.38v1.76h-9.38zM377.7 477.16h9.38v1.76h-9.38zM437.7 477.16h9.38v1.76h-9.38zM467.7 477.16h9.38v1.76h-9.38zM487.7 477.16h9.38v1.76h-9.38zM537.7 477.16h9.38v1.76h-9.38zM547.7 477.16h9.38v1.76h-9.38zM377.7 479.46h9.38v1.76h-9.38zM597.7 479.46h9.38v1.76h-9.38zM437.7 481.77h9.38v1.76h-9.38zM447.7 481.77h9.38v1.76h-9.38zM457.7 481.77h9.38v1.76h-9.38zM547.7 486.39h9.38v1.76h-9.38zM597.7 486.39h9.38v1.76h-9.38zM607.7 486.39h9.38v1.76h-9.38zM517.7 488.7h9.38v1.76h-9.38zM557.7 488.7h9.38v1.76h-9.38zM377.7 491h9.38v1.76h-9.38zM397.7 491h9.38v1.76h-9.38zM467.7 491h9.38v1.76h-9.38zM527.7 491h9.38v1.76h-9.38zM397.7 493.31h9.38v1.76h-9.38zM447.7 493.31h9.38v1.76h-9.38zM567.7 493.31h9.38v1.76h-9.38zM597.7 493.31h9.38v1.76h-9.38zM607.7 493.31h9.38v1.76h-9.38zM487.7 495.62h9.38v1.76h-9.38zM527.7 495.62h9.38v1.76h-9.38zM547.7 495.62h9.38v1.76h-9.38zM587.7 495.62h9.38v1.76h-9.38zM587.7 497.93h9.38v1.76h-9.38zM607.7 497.93h9.38v1.76h-9.38zM487.7 500.24h9.38v1.76h-9.38zM497.7 502.54h9.38v1.76h-9.38zM537.7 502.54h9.38v1.76h-9.38zM377.7 504.85h9.38v1.76h-9.38zM587.7 504.85h9.38v1.76h-9.38zM597.7 504.85h9.38v1.76h-9.38zM377.7 507.16h9.38v1.76h-9.38zM527.7 507.16h9.38v1.76h-9.38zM397.7 509.47h9.38v1.76h-9.38zM527.7 509.47h9.38v1.76h-9.38zM537.7 509.47h9.38v1.76h-9.38zM547.7 511.78h9.38v1.76h-9.38zM587.7 511.78h9.38v1.76h-9.38zM477.7 514.08h9.38v1.76h-9.38zM507.7 514.08h9.38v1.76h-9.38zM597.7 514.08h9.38v1.76h-9.38zM417.7 516.39h9.38v1.76h-9.38zM587.7 516.39h9.38v1.76h-9.38z"/>
<path fill="#64a879" d="M397.7 290.21h9.38v1.76h-9.38zM417.7 294.82h9.38v1.76h-9.38zM407.7 297.13h9.38v1.76h-9.38zM527.7 301.75h9.38v1.76h-9.38zM537.7 301.75h9.38v1.76h-9.38zM437.7 304.06h9.38v1.76h-9.38zM497.7 308.67h9.38v1.76h-9.38zM567.7 308.67h9.38v1.76h-9.38zM377.7 313.29h9.38v1.76h-9.38zM417.7 313.29h9.38v1.76h-9.38zM427.7 313.29h9.38v1.76h-9.38zM507.7 313.29h9.38v1.76h-9.38zM557.7 313.29h9.38v1.76h-9.38zM517.7 315.6h9.38v1.76h-9.38zM527.7 315.6h9.38v1.76h-9.38zM567.7 315.6h9.38v1.76h-9.38zM387.7 317.9h9.38v1.76h-9.38zM537.7 317.9h9.38v1.76h-9.38zM567.7 317.9h9.38v1.76h-9.38zM377.7 320.21h9.38v1.76h-9.38zM587.7 324.83h9.38v1.76h-9.38zM397.7 329.44h9.38v1.76h-9.38zM447.7 329.44h9.38v1.76h-9.38zM557.7 329.44h9.38v1.76h-9.38zM417.7 331.75h9.38v1.76h-9.38zM447.7 331.75h9.38v1.76h-9.38zM527.7 331.75h9.38v1.76h-9.38zM547.7 331.75h9.38v1.76h-9.38zM607.7 331.75h9.38v1.76h-9.38zM417.7 340.98h9.38v1.76h-9.38zM427.7 340.98h9.38v1.76h-9.38zM557.7 340.98h9.38v1.76h-9.38zM467.7 343.29h9.38v1.76h-9.38zM387.7 350.22h9.38v1.76h-9.38zM477.7 354.83h9.38v1.76h-9.38zM587.7 354.83h9.38v1.76h-9.38zM597.7 354.83h9.38v1.76h-9.38zM607.7 354.83h9.38v1.76h-9.38zM387.7 357.14h9.38v1.76h-9.38zM477.7 357.14h9.38v1.76h-9.38zM507.7 357.14h9.38v1.76h-9.38zM597.7 357.14h9.38v1.76h-9.38zM417.7 359.45h9.38v1.76h-9.38zM497.7 364.06h9.38v1.76h-9.38zM497.7 368.68h9.38v1.76h-9.38zM517.7 368.68h9.38v1.76h-9.38zM567.7 368.68h9.38v1.76h-9.38zM607.7 368.68h9.38v1.76h-9.38zM507.7 370.99h9.38v1.76h-9.38zM537.7 370.99h9.38v1.76h-9.38zM587.7 370.99h9.38v1.76h-9.38zM387.7 373.3h9.38v1.76h-9.38zM457.7 377.91h9.38v1.76h-9.38zM497.7 377.91h9.38v1.76h-9.38zM507.7 377.91h9.38v1.76h-9.38zM397.7 382.53h9.38v1.76h-9.38zM487.7 382.53h9.38v1.76h-9.38zM507.7 382.53h9.38v1.76h-9.38zM537.7 382.53h9.38v1.76h-9.38zM547.7 382.53h9.38v1.76h-9.38zM497.7 384.84h9.38v1.76h-9.38zM557.7 384.84h9.38v1.76h-9.38zM567.7 384.84h9.38v1.76h-9.38zM607.7 387.14h9.38v1.76h-9.38zM447.7 389.45h9.38v1.76h-9.38zM597.7 391.76h9.38v1.76h-9.38zM477.7 396.38h9.38v1.76h-9.38zM567.7 396.38h9.38v1.76h-9.38zM397.7 400.99h9.38v1.76h-9.38zM417.7 403.3h9.38v1.76h-9.38zM377.7 407.92h9.38v1.76h-9.38zM387.7 407.92h9.38v1.76h-9.38zM407.7 407.92h9.38v1.76h-9.38zM447.7 407.92h9.38v1.76h-9.38zM527.7 407.92h9.38v1.76h-9.38zM577.7 407.92h9.38v1.76h-9.38zM607.7 407.92h9.38v1.76h-9.38zM547.7 410.22h9.38v1.76h-9.38zM517.7 414.84h9.38v1.76h-9.38zM527.7 414.84h9.38v1.76h-9.38zM597.7 414.84h9.38v1.76h-9.38zM517.7 417.15h9.38v1.76h-9.38zM607.7 419.46h9.38v1.76h-9.38zM447.7 426.38h9.38v1.76h-9.38zM587.7 426.38h9.38v1.76h-9.38zM607.7 426.38h9.38v1.76h-9.38zM517.7 431h9.38v1.76h-9.38zM437.7 433.3h9.38v1.76h-9.38zM487.7 433.3h9.38v1.76h-9.38zM517.7 433.3h9.38v1.76h-9.38zM547.7 433.3h9.38v1.76h-9.38zM507.7 435.61h9.38v1.76h-9.38zM517.7 435.61h9.38v1.76h-9.38zM377.7 442.54h9.38v1.76h-9.38zM437.7 442.54h9.38v1.76h-9.38zM497.7 442.54h9.38v1.76h-9.38zM477.7 449.46h9.38v1.76h-9.38zM487.7 449.46h9.38v1.76h-9.38zM547.7 449.46h9.38v1.76h-9.38zM557.7 449.46h9.38v1.76h-9.38zM377.7 454.08h9.38v1.76h-9.38zM537.7 454.08h9.38v1.76h-9.38zM547.7 454.08h9.38v1.76h-9.38zM577.7 454.08h9.38v1.76h-9.38zM587.7 454.08h9.38v1.76h-9.38zM597.7 454.08h9.38v1.76h-9.38zM607.7 454.08h9.38v1.76h-9.38zM387.7 456.38h9.38v1.76h-9.38zM457.7 456.38h9.38v1.76h-9.38zM557.7 456.38h9.38v1.76h-9.38zM567.7 456.38h9.38v1.76h-9.38zM597.7 456.38h9.38v1.76h-9.38zM387.7 458.69h9.38v1.76h-9.38zM487.7 458.69h9.38v1.76h-9.38zM507.7 458.69h9.38v1.76h-9.38zM577.7 458.69h9.38v1.76h-9.38zM377.7 465.62h9.38v1.76h-9.38zM407.7 465.62h9.38v1.76h-9.38zM447.7 465.62h9.38v1.76h-9.38zM437.7 467.92h9.38v1.76h-9.38zM447.7 467.92h9.38v1.76h-9.38zM487.7 467.92h9.38v1.76h-9.38zM487.7 470.23h9.38v1.76h-9.38zM527.7 470.23h9.38v1.76h-9.38zM437.7 472.54h9.38v1.76h-9.38zM467.7 472.54h9.38v1.76h-9.38zM527.7 472.54h9.38v1.76h-9.38zM537.7 472.54h9.38v1.76h-9.38zM377.7 474.85h9.38v1.76h-9.38zM567.7 474.85h9.38v1.76h-9.38zM407.7 477.16h9.38v1.76h-9.38zM417.7 477.16h9.38v1.76h-9.38zM427.7 477.16h9.38v1.76h-9.38zM447.7 477.16h9.38v1.76h-9.38zM527.7 477.16h9.38v1.76h-9.38zM567.7 481.77h9.38v1.76h-9.38zM447.7 484.08h9.38v1.76h-9.38zM487.7 486.39h9.38v1.76h-9.38zM387.7 488.7h9.38v1.76h-9.38zM417.7 488.7h9.38v1.76h-9.38zM567.7 488.7h9.38v1.76h-9.38zM597.7 488.7h9.38v1.76h-9.38zM607.7 488.7h9.38v1.76h-9.38zM427.7 491h9.38v1.76h-9.38zM447.7 491h9.38v1.76h-9.38zM457.7 491h9.38v1.76h-9.38zM507.7 491h9.38v1.76h-9.38zM517.7 491h9.38v1.76h-9.38zM547.7 491h9.38v1.76h-9.38zM597.7 491h9.38v1.76h-9.38zM607.7 491h9.38v1.76h-9.38zM407.7 493.31h9.38v1.76h-9.38zM437.7 493.31h9.38v1.76h-9.38zM457.7 493.31h9.38v1.76h-9.38zM467.7 495.62h9.38v1.76h-9.38zM477.7 495.62h9.38v1.76h-9.38zM537.7 495.62h9.38v1.76h-9.38zM377.7 502.54h9.38v1.76h-9.38zM387.7 502.54h9.38v1.76h-9.38zM427.7 502.54h9.38v1.76h-9.38zM477.7 502.54h9.38v1.76h-9.38zM557.7 502.54h9.38v1.76h-9.38zM567.7 502.54h9.38v1.76h-9.38zM577.7 502.54h9.38v1.76h-9.38zM597.7 502.54h9.38v1.76h-9.38zM407.7 504.85h9.38v1.76h-9.38zM417.7 504.85h9.38v1.76h-9.38zM537.7 504.85h9.38v1.76h-9.38zM547.7 504.85h9.38v1.76h-9.38zM397.7 507.16h9.38v1.76h-9.38zM527.7 511.78h9.38v1.76h-9.38zM387.7 514.08h9.38v1.76h-9.38zM447.7 514.08h9.38v1.76h-9.38zM457.7 514.08h9.38v1.76h-9.38zM427.7 516.39h9.38v1.76h-9.38zM547.7 516.39h9.38v1.76h-9.38zM577.7 516.39h9.38v1.76h-9.38z"/>
<path fill="#61a777" d="M437.7 294.82h9.38v1.76h-9.38zM487.7 301.75h9.38v1.76h-9.38zM497.7 301.75h9.38v1.76h-9.38zM507.7 301.75h9.38v1.76h-9.38zM547.7 301.75h9.38v1.76h-9.38zM577.7 301.75h9.38v1.76h-9.38zM387.7 306.36h9.38v1.76h-9.38zM387.7 313.29h9.38v1.76h-9.38zM527.7 313.29h9.38v1.76h-9.38zM587.7 313.29h9.38v1.76h-9.38zM417.7 317.9h9.38v1.76h-9.38zM587.7 322.52h9.38v1.76h-9.38zM607.7 322.52h9.38v1.76h-9.38zM377.7 331.75h9.38v1.76h-9.38zM597.7 331.75h9.38v1.76h-9.38zM397.7 340.98h9.38v1.76h-9.38zM597.7 340.98h9.38v1.76h-9.38zM417.7 350.22h9.38v1.76h-9.38zM407.7 352.52h9.38v1.76h-9.38zM427.7 359.45h9.38v1.76h-9.38zM437.7 368.68h9.38v1.76h-9.38zM507.7 368.68h9.38v1.76h-9.38zM537.7 368.68h9.38v1.76h-9.38zM377.7 382.53h9.38v1.76h-9.38zM507.7 387.14h9.38v1.76h-9.38zM377.7 389.45h9.38v1.76h-9.38zM397.7 389.45h9.38v1.76h-9.38zM517.7 389.45h9.38v1.76h-9.38zM537.7 398.68h9.38v1.76h-9.38zM417.7 407.92h9.38v1.76h-9.38zM427.7 407.92h9.38v1.76h-9.38zM467.7 407.92h9.38v1.76h-9.38zM507.7 407.92h9.38v1.76h-9.38zM547.7 407.92h9.38v1.76h-9.38zM597.7 407.92h9.38v1.76h-9.38zM537.7 410.22h9.38v1.76h-9.38zM457.7 414.84h9.38v1.76h-9.38zM537.7 414.84h9.38v1.76h-9.38zM567.7 419.46h9.38v1.76h-9.38zM597.7 419.46h9.38v1.76h-9.38zM597.7 426.38h9.38v1.76h-9.38zM597.7 428.69h9.38v1.76h-9.38zM407.7 433.3h9.38v1.76h-9.38zM587.7 433.3h9.38v1.76h-9.38zM607.7 433.3h9.38v1.76h-9.38zM547.7 442.54h9.38v1.76h-9.38zM607.7 442.54h9.38v1.76h-9.38zM387.7 449.46h9.38v1.76h-9.38zM457.7 449.46h9.38v1.76h-9.38zM397.7 454.08h9.38v1.76h-9.38zM437.7 454.08h9.38v1.76h-9.38zM447.7 454.08h9.38v1.76h-9.38zM477.7 454.08h9.38v1.76h-9.38zM527.7 454.08h9.38v1.76h-9.38zM557.7 454.08h9.38v1.76h-9.38zM397.7 456.38h9.38v1.76h-9.38zM417.7 456.38h9.38v1.76h-9.38zM427.7 456.38h9.38v1.76h-9.38zM447.7 456.38h9.38v1.76h-9.38zM467.7 456.38h9.38v1.76h-9.38zM397.7 458.69h9.38v1.76h-9.38zM467.7 458.69h9.38v1.76h-9.38zM517.7 458.69h9.38v1.76h-9.38zM527.7 467.92h9.38v1.76h-9.38zM567.7 467.92h9.38v1.76h-9.38zM607.7 467.92h9.38v1.76h-9.38zM387.7 472.54h9.38v1.76h-9.38zM457.7 472.54h9.38v1.76h-9.38zM487.7 472.54h9.38v1.76h-9.38zM557.7 472.54h9.38v1.76h-9.38zM577.7 472.54h9.38v1.76h-9.38zM457.7 484.08h9.38v1.76h-9.38zM377.7 486.39h9.38v1.76h-9.38zM387.7 486.39h9.38v1.76h-9.38zM397.7 486.39h9.38v1.76h-9.38zM587.7 486.39h9.38v1.76h-9.38zM427.7 488.7h9.38v1.76h-9.38zM447.7 488.7h9.38v1.76h-9.38zM457.7 488.7h9.38v1.76h-9.38zM537.7 488.7h9.38v1.76h-9.38zM387.7 491h9.38v1.76h-9.38zM407.7 491h9.38v1.76h-9.38zM437.7 491h9.38v1.76h-9.38zM557.7 491h9.38v1.76h-9.38zM577.7 491h9.38v1.76h-9.38zM507.7 493.31h9.38v1.76h-9.38zM517.7 493.31h9.38v1.76h-9.38zM557.7 493.31h9.38v1.76h-9.38zM577.7 493.31h9.38v1.76h-9.38zM377.7 495.62h9.38v1.76h-9.38zM377.7 497.93h9.38v1.76h-9.38zM387.7 497.93h9.38v1.76h-9.38zM397.7 497.93h9.38v1.76h-9.38zM387.7 500.24h9.38v1.76h-9.38zM447.7 500.24h9.38v1.76h-9.38zM457.7 500.24h9.38v1.76h-9.38zM397.7 502.54h9.38v1.76h-9.38zM407.7 502.54h9.38v1.76h-9.38zM487.7 502.54h9.38v1.76h-9.38zM587.7 502.54h9.38v1.76h-9.38zM607.7 504.85h9.38v1.76h-9.38zM387.7 507.16h9.38v1.76h-9.38zM537.7 514.08h9.38v1.76h-9.38zM567.7 514.08h9.38v1.76h-9.38zM437.7 516.39h9.38v1.76h-9.38zM597.7 516.39h9.38v1.76h-9.38z"/>
<path fill="#5ea675" d="M377.7 292.52h9.38v1.76h-9.38zM447.7 292.52h9.38v1.76h-9.38zM407.7 301.75h9.38v1.76h-9.38zM467.7 301.75h9.38v1.76h-9.38zM517.7 301.75h9.38v1.76h-9.38zM477.7 306.36h9.38v1.76h-9.38zM397.7 313.29h9.38v1.76h-9.38zM437.7 313.29h9.38v1.76h-9.38zM457.7 313.29h9.38v1.76h-9.38zM497.7 313.29h9.38v1.76h-9.38zM557.7 317.9h9.38v1.76h-9.38zM377.7 340.98h9.38v1.76h-9.38zM607.7 340.98h9.38v1.76h-9.38zM437.7 350.22h9.38v1.76h-9.38zM457.7 350.22h9.38v1.76h-9.38zM517.7 350.22h9.38v1.76h-9.38zM427.7 357.14h9.38v1.76h-9.38zM567.7 366.37h9.38v1.76h-9.38zM547.7 368.68h9.38v1.76h-9.38zM587.7 368.68h9.38v1.76h-9.38zM447.7 377.91h9.38v1.76h-9.38zM497.7 382.53h9.38v1.76h-9.38zM507.7 384.84h9.38v1.76h-9.38zM437.7 389.45h9.38v1.76h-9.38zM457.7 389.45h9.38v1.76h-9.38zM467.7 389.45h9.38v1.76h-9.38zM577.7 389.45h9.38v1.76h-9.38zM607.7 389.45h9.38v1.76h-9.38zM397.7 407.92h9.38v1.76h-9.38zM437.7 407.92h9.38v1.76h-9.38zM477.7 407.92h9.38v1.76h-9.38zM497.7 407.92h9.38v1.76h-9.38zM517.7 407.92h9.38v1.76h-9.38zM537.7 407.92h9.38v1.76h-9.38zM587.7 407.92h9.38v1.76h-9.38zM447.7 414.84h9.38v1.76h-9.38zM447.7 433.3h9.38v1.76h-9.38zM497.7 433.3h9.38v1.76h-9.38zM527.7 433.3h9.38v1.76h-9.38zM597.7 433.3h9.38v1.76h-9.38zM397.7 442.54h9.38v1.76h-9.38zM397.7 449.46h9.38v1.76h-9.38zM537.7 449.46h9.38v1.76h-9.38zM607.7 449.46h9.38v1.76h-9.38zM427.7 454.08h9.38v1.76h-9.38zM507.7 454.08h9.38v1.76h-9.38zM377.7 456.38h9.38v1.76h-9.38zM497.7 456.38h9.38v1.76h-9.38zM587.7 456.38h9.38v1.76h-9.38zM607.7 456.38h9.38v1.76h-9.38zM557.7 458.69h9.38v1.76h-9.38zM587.7 467.92h9.38v1.76h-9.38zM477.7 472.54h9.38v1.76h-9.38zM567.7 472.54h9.38v1.76h-9.38zM397.7 477.16h9.38v1.76h-9.38zM437.7 484.08h9.38v1.76h-9.38zM557.7 486.39h9.38v1.76h-9.38zM547.7 488.7h9.38v1.76h-9.38zM587.7 488.7h9.38v1.76h-9.38zM417.7 491h9.38v1.76h-9.38zM497.7 491h9.38v1.76h-9.38zM567.7 491h9.38v1.76h-9.38zM417.7 493.31h9.38v1.76h-9.38zM467.7 493.31h9.38v1.76h-9.38zM587.7 493.31h9.38v1.76h-9.38zM387.7 495.62h9.38v1.76h-9.38zM597.7 495.62h9.38v1.76h-9.38zM437.7 502.54h9.38v1.76h-9.38zM427.7 504.85h9.38v1.76h-9.38zM607.7 511.78h9.38v1.76h-9.38zM497.7 514.08h9.38v1.76h-9.38zM517.7 514.08h9.38v1.76h-9.38z"/>
<path fill="#5ba472" d="M417.7 301.75h9.38v1.76h-9.38zM427.7 301.75h9.38v1.76h-9.38zM477.7 301.75h9.38v1.76h-9.38zM567.7 301.75h9.38v1.76h-9.38zM487.7 306.36h9.38v1.76h-9.38zM407.7 313.29h9.38v1.76h-9.38zM547.7 313.29h9.38v1.76h-9.38zM527.7 317.9h9.38v1.76h-9.38zM577.7 317.9h9.38v1.76h-9.38zM397.7 324.83h9.38v1.76h-9.38zM417.7 324.83h9.38v1.76h-9.38zM447.7 324.83h9.38v1.76h-9.38zM457.7 324.83h9.38v1.76h-9.38zM537.7 331.75h9.38v1.76h-9.38zM377.7 350.22h9.38v1.76h-9.38zM407.7 350.22h9.38v1.76h-9.38zM607.7 350.22h9.38v1.76h-9.38zM527.7 368.68h9.38v1.76h-9.38zM597.7 368.68h9.38v1.76h-9.38zM517.7 382.53h9.38v1.76h-9.38zM527.7 389.45h9.38v1.76h-9.38zM537.7 389.45h9.38v1.76h-9.38zM557.7 389.45h9.38v1.76h-9.38zM567.7 389.45h9.38v1.76h-9.38zM587.7 389.45h9.38v1.76h-9.38zM597.7 389.45h9.38v1.76h-9.38zM527.7 398.68h9.38v1.76h-9.38zM457.7 407.92h9.38v1.76h-9.38zM427.7 433.3h9.38v1.76h-9.38zM497.7 435.61h9.38v1.76h-9.38zM407.7 449.46h9.38v1.76h-9.38zM427.7 449.46h9.38v1.76h-9.38zM467.7 449.46h9.38v1.76h-9.38zM527.7 449.46h9.38v1.76h-9.38zM457.7 454.08h9.38v1.76h-9.38zM547.7 456.38h9.38v1.76h-9.38zM477.7 458.69h9.38v1.76h-9.38zM497.7 465.62h9.38v1.76h-9.38zM517.7 465.62h9.38v1.76h-9.38zM407.7 488.7h9.38v1.76h-9.38zM537.7 491h9.38v1.76h-9.38zM587.7 491h9.38v1.76h-9.38zM477.7 493.31h9.38v1.76h-9.38zM487.7 493.31h9.38v1.76h-9.38zM497.7 493.31h9.38v1.76h-9.38zM527.7 493.31h9.38v1.76h-9.38zM537.7 493.31h9.38v1.76h-9.38zM377.7 500.24h9.38v1.76h-9.38zM547.7 514.08h9.38v1.76h-9.38zM557.7 516.39h9.38v1.76h-9.38zM567.7 516.39h9.38v1.76h-9.38z"/>
<path fill="#58a370" d="M387.7 292.52h9.38v1.76h-9.38zM397.7 292.52h9.38v1.76h-9.38zM437.7 292.52h9.38v1.76h-9.38zM457.7 292.52h9.38v1.76h-9.38zM377.7 294.82h9.38v1.76h-9.38zM447.7 294.82h9.38v1.76h-9.38zM557.7 301.75h9.38v1.76h-9.38zM377.7 324.83h9.38v1.76h-9.38zM407.7 324.83h9.38v1.76h-9.38zM427.7 324.83h9.38v1.76h-9.38zM397.7 350.22h9.38v1.76h-9.38zM427.7 350.22h9.38v1.76h-9.38zM447.7 350.22h9.38v1.76h-9.38zM597.7 350.22h9.38v1.76h-9.38zM517.7 384.84h9.38v1.76h-9.38zM417.7 389.45h9.38v1.76h-9.38zM427.7 389.45h9.38v1.76h-9.38zM547.7 389.45h9.38v1.76h-9.38zM567.7 407.92h9.38v1.76h-9.38zM437.7 414.84h9.38v1.76h-9.38zM397.7 433.3h9.38v1.76h-9.38zM527.7 442.54h9.38v1.76h-9.38zM417.7 449.46h9.38v1.76h-9.38zM497.7 454.08h9.38v1.76h-9.38zM527.7 456.38h9.38v1.76h-9.38zM537.7 456.38h9.38v1.76h-9.38zM377.7 458.69h9.38v1.76h-9.38zM507.7 465.62h9.38v1.76h-9.38zM387.7 477.16h9.38v1.76h-9.38zM427.7 493.31h9.38v1.76h-9.38zM397.7 500.24h9.38v1.76h-9.38z"/>
<path fill="#55a26d" d="M397.7 294.82h9.38v1.76h-9.38zM457.7 294.82h9.38v1.76h-9.38zM437.7 324.83h9.38v1.76h-9.38zM587.7 350.22h9.38v1.76h-9.38zM407.7 389.45h9.38v1.76h-9.38zM497.7 389.45h9.38v1.76h-9.38zM507.7 389.45h9.38v1.76h-9.38zM417.7 410.22h9.38v1.76h-9.38zM387.7 433.3h9.38v1.76h-9.38zM457.7 433.3h9.38v1.76h-9.38zM507.7 449.46h9.38v1.76h-9.38zM417.7 454.08h9.38v1.76h-9.38zM517.7 454.08h9.38v1.76h-9.38zM517.7 456.38h9.38v1.76h-9.38zM407.7 472.54h9.38v1.76h-9.38zM417.7 472.54h9.38v1.76h-9.38zM527.7 488.7h9.38v1.76h-9.38zM547.7 493.31h9.38v1.76h-9.38z"/>
<path fill="#52a16b" d="M387.7 294.82h9.38v1.76h-9.38zM387.7 324.83h9.38v1.76h-9.38zM427.7 338.68h9.38v1.76h-9.38zM377.7 433.3h9.38v1.76h-9.38zM497.7 449.46h9.38v1.76h-9.38zM517.7 449.46h9.38v1.76h-9.38zM507.7 456.38h9.38v1.76h-9.38zM427.7 472.54h9.38v1.76h-9.38z"/>
<path fill="#4ea069" d="M407.7 338.68h9.38v1.76h-9.38zM417.7 338.68h9.38v1.76h-9.38zM377.7 410.22h9.38v1.76h-9.38z"/>
<path fill="#4b9f66" d="M387.7 410.22h9.38v1.76h-9.38zM397.7 410.22h9.38v1.76h-9.38zM407.7 410.22h9.38v1.76h-9.38zM427.7 410.22h9.38v1.76h-9.38z"/>
<path fill="#369457" d="M567.7 405.61h9.38v1.76h-9.38zM587.7 405.61h9.38v1.76h-9.38z"/>
<path fill="#349256" d="M377.7 405.61h9.38v1.76h-9.38zM437.7 405.61h9.38v1.76h-9.38zM527.7 405.61h9.38v1.76h-9.38z"/>
<path fill="#319055" d="M407.7 405.61h9.38v1.76h-9.38zM447.7 405.61h9.38v1.76h-9.38zM457.7 405.61h9.38v1.76h-9.38zM467.7 405.61h9.38v1.76h-9.38zM517.7 405.61h9.38v1.76h-9.38zM537.7 405.61h9.38v1.76h-9.38zM547.7 405.61h9.38v1.76h-9.38z"/>
<path fill="#2f8f53" d="M427.7 405.61h9.38v1.76h-9.38zM477.7 405.61h9.38v1.76h-9.38zM487.7 405.61h9.38v1.76h-9.38zM497.7 405.61h9.38v1.76h-9.38zM507.7 405.61h9.38v1.76h-9.38zM597.7 405.61h9.38v1.76h-9.38zM607.7 405.61h9.38v1.76h-9.38z"/>
<path fill="#2d8d52" d="M387.7 405.61h9.38v1.76h-9.38zM557.7 405.61h9.38v1.76h-9.38zM577.7 405.61h9.38v1.76h-9.38z"/>
<path fill="#2b8b51" d="M397.7 405.61h9.38v1.76h-9.38zM417.7 405.61h9.38v1.76h-9.38z"/>
<text x="365" y="289.15" font-size="4.6" fill="#111" text-anchor="end">R1</text>
<line x1="365.5" y1="287.55" x2="367.2" y2="287.55" stroke="#555" stroke-width="0.45"/>
<text x="365" y="312.23" font-size="4.6" fill="#111" text-anchor="end">R11</text>
<line x1="365.5" y1="310.63" x2="367.2" y2="310.63" stroke="#555" stroke-width="0.45"/>
<text x="365" y="335.31" font-size="4.6" fill="#111" text-anchor="end">R21</text>
<line x1="365.5" y1="333.71" x2="367.2" y2="333.71" stroke="#555" stroke-width="0.45"/>
<text x="365" y="358.39" font-size="4.6" fill="#111" text-anchor="end">R31</text>
<line x1="365.5" y1="356.79" x2="367.2" y2="356.79" stroke="#555" stroke-width="0.45"/>
<text x="365" y="381.47" font-size="4.6" fill="#111" text-anchor="end">R41</text>
<line x1="365.5" y1="379.87" x2="367.2" y2="379.87" stroke="#555" stroke-width="0.45"/>
<text x="365" y="404.55" font-size="4.6" fill="#111" text-anchor="end">R51</text>
<line x1="365.5" y1="402.95" x2="367.2" y2="402.95" stroke="#555" stroke-width="0.45"/>
<text x="365" y="427.63" font-size="4.6" fill="#111" text-anchor="end">R61</text>
<line x1="365.5" y1="426.03" x2="367.2" y2="426.03" stroke="#555" stroke-width="0.45"/>
<text x="365" y="450.71" font-size="4.6" fill="#111" text-anchor="end">R71</text>
<line x1="365.5" y1="449.11" x2="367.2" y2="449.11" stroke="#555" stroke-width="0.45"/>
<text x="365" y="473.79" font-size="4.6" fill="#111" text-anchor="end">R81</text>
<line x1="365.5" y1="472.19" x2="367.2" y2="472.19" stroke="#555" stroke-width="0.45"/>
<text x="365" y="496.87" font-size="4.6" fill="#111" text-anchor="end">R91</text>
<line x1="365.5" y1="495.27" x2="367.2" y2="495.27" stroke="#555" stroke-width="0.45"/>
<line x1="372.3" y1="519.2" x2="372.3" y2="520.9" stroke="#555" stroke-width="0.45"/>
<text x="371.4" y="523.7" font-size="4.6" fill="#222" text-anchor="end" transform="rotate(-45 371.4 523.7)">reference_value</text>
<line x1="382.3" y1="519.2" x2="382.3" y2="520.9" stroke="#555" stroke-width="0.45"/>
<text x="381.4" y="523.7" font-size="4.6" fill="#222" text-anchor="end" transform="rotate(-45 381.4 523.7)">L1_ILL_P_1</text>
<line x1="392.3" y1="519.2" x2="392.3" y2="520.9" stroke="#555" stroke-width="0.45"/>
<text x="391.4" y="523.7" font-size="4.6" fill="#222" text-anchor="end" transform="rotate(-45 391.4 523.7)">L1_ILL_P_2</text>
<line x1="402.3" y1="519.2" x2="402.3" y2="520.9" stroke="#555" stroke-width="0.45"/>
<text x="401.4" y="523.7" font-size="4.6" fill="#222" text-anchor="end" transform="rotate(-45 401.4 523.7)">L1_ILL_P_3</text>
<line x1="412.3" y1="519.2" x2="412.3" y2="520.9" stroke="#555" stroke-width="0.45"/>
<text x="411.4" y="523.7" font-size="4.6" fill="#222" text-anchor="end" transform="rotate(-45 411.4 523.7)">L1_ILL_R_1</text>
<line x1="422.3" y1="519.2" x2="422.3" y2="520.9" stroke="#555" stroke-width="0.45"/>
<text x="421.4" y="523.7" font-size="4.6" fill="#222" text-anchor="end" transform="rotate(-45 421.4 523.7)">L1_ILL_R_2</text>
<line x1="432.3" y1="519.2" x2="432.3" y2="520.9" stroke="#555" stroke-width="0.45"/>
<text x="431.4" y="523.7" font-size="4.6" fill="#222" text-anchor="end" transform="rotate(-45 431.4 523.7)">L1_ILL_R_3</text>
<line x1="442.3" y1="519.2" x2="442.3" y2="520.9" stroke="#555" stroke-width="0.45"/>
<text x="441.4" y="523.7" font-size="4.6" fill="#222" text-anchor="end" transform="rotate(-45 441.4 523.7)">L2_DNB_P_1</text>
<line x1="452.3" y1="519.2" x2="452.3" y2="520.9" stroke="#555" stroke-width="0.45"/>
<text x="451.4" y="523.7" font-size="4.6" fill="#222" text-anchor="end" transform="rotate(-45 451.4 523.7)">L2_DNB_P_2</text>
<line x1="462.3" y1="519.2" x2="462.3" y2="520.9" stroke="#555" stroke-width="0.45"/>
<text x="461.4" y="523.7" font-size="4.6" fill="#222" text-anchor="end" transform="rotate(-45 461.4 523.7)">L2_DNB_P_3</text>
<line x1="472.3" y1="519.2" x2="472.3" y2="520.9" stroke="#555" stroke-width="0.45"/>
<text x="471.4" y="523.7" font-size="4.6" fill="#222" text-anchor="end" transform="rotate(-45 471.4 523.7)">L2_DNB_R_1</text>
<line x1="482.3" y1="519.2" x2="482.3" y2="520.9" stroke="#555" stroke-width="0.45"/>
<text x="481.4" y="523.7" font-size="4.6" fill="#222" text-anchor="end" transform="rotate(-45 481.4 523.7)">L2_DNB_R_2</text>
<line x1="492.3" y1="519.2" x2="492.3" y2="520.9" stroke="#555" stroke-width="0.45"/>
<text x="491.4" y="523.7" font-size="4.6" fill="#222" text-anchor="end" transform="rotate(-45 491.4 523.7)">L2_DNB_R_3</text>
<line x1="502.3" y1="519.2" x2="502.3" y2="520.9" stroke="#555" stroke-width="0.45"/>
<text x="501.4" y="523.7" font-size="4.6" fill="#222" text-anchor="end" transform="rotate(-45 501.4 523.7)">L3_DNB_P_1</text>
<line x1="512.3" y1="519.2" x2="512.3" y2="520.9" stroke="#555" stroke-width="0.45"/>
<text x="511.4" y="523.7" font-size="4.6" fill="#222" text-anchor="end" transform="rotate(-45 511.4 523.7)">L3_DNB_P_2</text>
<line x1="522.3" y1="519.2" x2="522.3" y2="520.9" stroke="#555" stroke-width="0.45"/>
<text x="521.4" y="523.7" font-size="4.6" fill="#222" text-anchor="end" transform="rotate(-45 521.4 523.7)">L3_DNB_P_3</text>
<line x1="532.3" y1="519.2" x2="532.3" y2="520.9" stroke="#555" stroke-width="0.45"/>
<text x="531.4" y="523.7" font-size="4.6" fill="#222" text-anchor="end" transform="rotate(-45 531.4 523.7)">L3_DNB_R_1</text>
<line x1="542.3" y1="519.2" x2="542.3" y2="520.9" stroke="#555" stroke-width="0.45"/>
<text x="541.4" y="523.7" font-size="4.6" fill="#222" text-anchor="end" transform="rotate(-45 541.4 523.7)">L3_DNB_R_2</text>
<line x1="552.3" y1="519.2" x2="552.3" y2="520.9" stroke="#555" stroke-width="0.45"/>
<text x="551.4" y="523.7" font-size="4.6" fill="#222" text-anchor="end" transform="rotate(-45 551.4 523.7)">L3_DNB_R_3</text>
<line x1="562.3" y1="519.2" x2="562.3" y2="520.9" stroke="#555" stroke-width="0.45"/>
<text x="561.4" y="523.7" font-size="4.6" fill="#222" text-anchor="end" transform="rotate(-45 561.4 523.7)">L3_ILL_P_1</text>
<line x1="572.3" y1="519.2" x2="572.3" y2="520.9" stroke="#555" stroke-width="0.45"/>
<text x="571.4" y="523.7" font-size="4.6" fill="#222" text-anchor="end" transform="rotate(-45 571.4 523.7)">L3_ILL_P_2</text>
<line x1="582.3" y1="519.2" x2="582.3" y2="520.9" stroke="#555" stroke-width="0.45"/>
<text x="581.4" y="523.7" font-size="4.6" fill="#222" text-anchor="end" transform="rotate(-45 581.4 523.7)">L3_ILL_P_3</text>
<line x1="592.3" y1="519.2" x2="592.3" y2="520.9" stroke="#555" stroke-width="0.45"/>
<text x="591.4" y="523.7" font-size="4.6" fill="#222" text-anchor="end" transform="rotate(-45 591.4 523.7)">L3_ILL_R_1</text>
<line x1="602.3" y1="519.2" x2="602.3" y2="520.9" stroke="#555" stroke-width="0.45"/>
<text x="601.4" y="523.7" font-size="4.6" fill="#222" text-anchor="end" transform="rotate(-45 601.4 523.7)">L3_ILL_R_2</text>
<line x1="612.3" y1="519.2" x2="612.3" y2="520.9" stroke="#555" stroke-width="0.45"/>
<text x="611.4" y="523.7" font-size="4.6" fill="#222" text-anchor="end" transform="rotate(-45 611.4 523.7)">L3_ILL_R_3</text>
<defs><linearGradient id="g367" x1="0" y1="1" x2="0" y2="0">
<stop offset="0" stop-color="#dbe4dd"/>
<stop offset="0.1" stop-color="#c2d7c6"/>
<stop offset="0.2" stop-color="#a8cab0"/>
<stop offset="0.3" stop-color="#8fbd9c"/>
<stop offset="0.4" stop-color="#76b088"/>
<stop offset="0.5" stop-color="#61a777"/>
<stop offset="0.6" stop-color="#4ea069"/>
<stop offset="0.7" stop-color="#3d995b"/>
<stop offset="0.8" stop-color="#2f8f53"/>
<stop offset="0.9" stop-color="#22844c"/>
<stop offset="1" stop-color="#147a44"/>
</linearGradient></defs>
<rect x="633.1" y="287.8" width="11.8" height="232" fill="url(#g367)"/>
<line x1="644.9" y1="304.1" x2="646.4" y2="304.1" stroke="#555" stroke-width="0.45"/>
<text x="647.6" y="305.8" font-size="4.8" fill="#111">1.8</text>
<line x1="644.9" y1="332.5" x2="646.4" y2="332.5" stroke="#555" stroke-width="0.45"/>
<text x="647.6" y="334.2" font-size="4.8" fill="#111">1.6</text>
<line x1="644.9" y1="360.8" x2="646.4" y2="360.8" stroke="#555" stroke-width="0.45"/>
<text x="647.6" y="362.5" font-size="4.8" fill="#111">1.4</text>
<line x1="644.9" y1="388.8" x2="646.4" y2="388.8" stroke="#555" stroke-width="0.45"/>
<text x="647.6" y="390.5" font-size="4.8" fill="#111">1.2</text>
<line x1="644.9" y1="416.8" x2="646.4" y2="416.8" stroke="#555" stroke-width="0.45"/>
<text x="647.6" y="418.5" font-size="4.8" fill="#111">1.0</text>
<line x1="644.9" y1="444.8" x2="646.4" y2="444.8" stroke="#555" stroke-width="0.45"/>
<text x="647.6" y="446.5" font-size="4.8" fill="#111">0.8</text>
<line x1="644.9" y1="472.8" x2="646.4" y2="472.8" stroke="#555" stroke-width="0.45"/>
<text x="647.6" y="474.5" font-size="4.8" fill="#111">0.6</text>
<line x1="644.9" y1="500.8" x2="646.4" y2="500.8" stroke="#555" stroke-width="0.45"/>
<text x="647.6" y="502.5" font-size="4.8" fill="#111">0.4</text>
<text x="668.3" y="405.6" font-size="6.7" fill="#222" text-anchor="middle" transform="rotate(-90 668.3 405.6)" stroke="#222" stroke-width="0.08">Ratio_correction / reference</text>
<text x="7.6" y="585.3" font-size="14.5" fill="#231815" font-weight="bold">e</text>
<text x="94.7" y="585.8" font-size="7.6" fill="#111" text-anchor="middle" stroke="#111" stroke-width="0.11">Cross protocol</text>
<rect x="22.6" y="590" width="144" height="171.7" fill="#fff" stroke="#8c8c8c" stroke-width="0.9"/>
<line x1="20.6" y1="603.1" x2="22.6" y2="603.1" stroke="#444" stroke-width="0.6"/>
<text x="19.6" y="604.85" font-size="5.1" fill="#444" text-anchor="end">100</text>
<line x1="20.6" y1="652.6" x2="22.6" y2="652.6" stroke="#444" stroke-width="0.6"/>
<text x="19.6" y="654.35" font-size="5.1" fill="#444" text-anchor="end">50</text>
<line x1="20.6" y1="702.3" x2="22.6" y2="702.3" stroke="#444" stroke-width="0.6"/>
<text x="19.6" y="704.05" font-size="5.1" fill="#444" text-anchor="end">0</text>
<line x1="20.6" y1="751.5" x2="22.6" y2="751.5" stroke="#444" stroke-width="0.6"/>
<text x="19.6" y="753.25" font-size="5.1" fill="#444" text-anchor="end">-50</text>
<text x="6.6" y="674.5" font-size="7.7" fill="#222" text-anchor="middle" transform="rotate(-90 6.6 674.5)" stroke="#222" stroke-width="0.12">CV (%)</text>
<path d="M42.5,622C42.56,625 42.72,635.33 42.85,640C42.98,644.67 43.11,646.67 43.3,650C43.49,653.33 43.67,657 44,660C44.33,663 44.88,665.5 45.3,668C45.72,670.5 45.93,672.33 46.5,675C47.07,677.67 48.15,681.17 48.7,684C49.25,686.83 49.77,689.67 49.8,692C49.83,694.33 49.35,696.17 48.9,698C48.45,699.83 47.87,701 47.1,703C46.33,705 44.98,707.5 44.3,710C43.62,712.5 43.27,713.83 43,718C42.73,722.17 42.78,730 42.7,735C42.62,740 42.57,748 42.5,748C42.43,748 42.38,740 42.3,735C42.22,730 42.27,722.17 42,718C41.73,713.83 41.38,712.5 40.7,710C40.02,707.5 38.67,705 37.9,703C37.13,701 36.55,699.83 36.1,698C35.65,696.17 35.17,694.33 35.2,692C35.23,689.67 35.75,686.83 36.3,684C36.85,681.17 37.93,677.67 38.5,675C39.07,672.33 39.28,670.5 39.7,668C40.12,665.5 40.67,663 41,660C41.33,657 41.51,653.33 41.7,650C41.89,646.67 42.02,644.67 42.15,640C42.28,635.33 42.44,625 42.5,622Z" fill="#0c4a91" stroke="#000" stroke-width="0.85" stroke-linejoin="round"/>
<line x1="42.5" y1="622" x2="42.5" y2="748" stroke="#000" stroke-width="0.6"/>
<rect x="39.3" y="676.5" width="6.7" height="19.9" fill="#fff" stroke="#000" stroke-width="0.7"/>
<line x1="39.3" y1="689.7" x2="46" y2="689.7" stroke="#000" stroke-width="0.8"/>
<path d="M77,604C77.07,607.5 77.23,617.33 77.4,625C77.57,632.67 77.68,642.83 78,650C78.32,657.17 78.75,662.5 79.3,668C79.85,673.5 80.63,679 81.3,683C81.97,687 83.18,689.17 83.3,692C83.42,694.83 82.55,697.33 82,700C81.45,702.67 80.67,705.5 80,708C79.33,710.5 78.5,712.22 78,715C77.5,717.78 77.33,724.7 77,724.7C76.67,724.7 76.5,717.78 76,715C75.5,712.22 74.67,710.5 74,708C73.33,705.5 72.55,702.67 72,700C71.45,697.33 70.58,694.83 70.7,692C70.82,689.17 72.03,687 72.7,683C73.37,679 74.15,673.5 74.7,668C75.25,662.5 75.68,657.17 76,650C76.32,642.83 76.43,632.67 76.6,625C76.77,617.33 76.93,607.5 77,604Z" fill="#e31b2a" stroke="#000" stroke-width="0.85" stroke-linejoin="round"/>
<line x1="77" y1="604" x2="77" y2="724.7" stroke="#000" stroke-width="0.6"/>
<rect x="73.6" y="667" width="6.9" height="26.9" fill="#fff" stroke="#000" stroke-width="0.7"/>
<line x1="73.6" y1="684.9" x2="80.5" y2="684.9" stroke="#000" stroke-width="0.8"/>
<path d="M111.4,674C111.48,674.55 111.25,676.13 111.9,677.3C112.55,678.47 114.35,679.72 115.3,681C116.25,682.28 116.78,683.83 117.6,685C118.42,686.17 118.73,686.83 120.2,688C121.67,689.17 124.98,690.78 126.4,692C127.82,693.22 129.1,694.3 128.7,695.3C128.3,696.3 125.85,697.05 124,698C122.15,698.95 119.37,700.08 117.6,701C115.83,701.92 114.35,702.83 113.4,703.5C112.45,704.17 112.23,704.37 111.9,705C111.57,705.63 111.57,707.3 111.4,707.3C111.23,707.3 111.23,705.63 110.9,705C110.57,704.37 110.35,704.17 109.4,703.5C108.45,702.83 106.97,701.92 105.2,701C103.43,700.08 100.65,698.95 98.8,698C96.95,697.05 94.5,696.3 94.1,695.3C93.7,694.3 94.98,693.22 96.4,692C97.82,690.78 101.13,689.17 102.6,688C104.07,686.83 104.38,686.17 105.2,685C106.02,683.83 106.55,682.28 107.5,681C108.45,679.72 110.25,678.47 110.9,677.3C111.55,676.13 111.32,674.55 111.4,674Z" fill="#3aa64d" stroke="#000" stroke-width="0.85" stroke-linejoin="round"/>
<line x1="111.4" y1="674" x2="111.4" y2="707.3" stroke="#000" stroke-width="0.6"/>
<rect x="107.5" y="689.9" width="7.4" height="7.2" fill="#fff" stroke="#000" stroke-width="0.7"/>
<line x1="107.5" y1="693.8" x2="114.9" y2="693.8" stroke="#000" stroke-width="0.8"/>
<path d="M145.5,674C145.58,674.5 145.62,676 146,677C146.38,678 147.2,678.83 147.8,680C148.4,681.17 148.43,682.83 149.6,684C150.77,685.17 153.25,686 154.8,687C156.35,688 157.82,689 158.9,690C159.98,691 160.67,692 161.3,693C161.93,694 163.1,695 162.7,696C162.3,697 160.5,698.08 158.9,699C157.3,699.92 154.92,700.75 153.1,701.5C151.28,702.25 149.18,702.92 148,703.5C146.82,704.08 146.42,704.5 146,705C145.58,705.5 145.67,706.5 145.5,706.5C145.33,706.5 145.42,705.5 145,705C144.58,704.5 144.18,704.08 143,703.5C141.82,702.92 139.72,702.25 137.9,701.5C136.08,700.75 133.7,699.92 132.1,699C130.5,698.08 128.7,697 128.3,696C127.9,695 129.07,694 129.7,693C130.33,692 131.02,691 132.1,690C133.18,689 134.65,688 136.2,687C137.75,686 140.23,685.17 141.4,684C142.57,682.83 142.6,681.17 143.2,680C143.8,678.83 144.62,678 145,677C145.38,676 145.42,674.5 145.5,674Z" fill="#0f8fb0" stroke="#000" stroke-width="0.85" stroke-linejoin="round"/>
<line x1="145.5" y1="674" x2="145.5" y2="706.5" stroke="#000" stroke-width="0.6"/>
<rect x="142.2" y="690.1" width="7.1" height="7.4" fill="#fff" stroke="#000" stroke-width="0.7"/>
<line x1="142.2" y1="694.2" x2="149.3" y2="694.2" stroke="#000" stroke-width="0.8"/>
<text x="98.2" y="601.4" font-size="4.8" fill="#333">Group</text>
<rect x="98.6" y="605.6" width="9.7" height="10" fill="#0c4a91" stroke="#000" stroke-width="0.8"/>
<text x="111.9" y="612.3" font-size="5" fill="#333">Mix1_before correction</text>
<rect x="98.6" y="616.4" width="9.7" height="10" fill="#e31b2a" stroke="#000" stroke-width="0.8"/>
<text x="111.9" y="623.1" font-size="5" fill="#333">Mix2_before correction</text>
<rect x="98.6" y="627.2" width="9.7" height="10" fill="#3aa64d" stroke="#000" stroke-width="0.8"/>
<text x="111.9" y="633.9" font-size="5" fill="#333">Mix1_after correction</text>
<rect x="98.6" y="638" width="9.7" height="10" fill="#0f8fb0" stroke="#000" stroke-width="0.8"/>
<text x="111.9" y="644.7" font-size="5" fill="#333">Mix2_after correction</text>
<text x="176.9" y="586" font-size="14.5" fill="#231815" font-weight="bold">f</text>
<text x="267" y="585.8" font-size="7.6" fill="#111" text-anchor="middle" stroke="#111" stroke-width="0.11">Cross platform</text>
<rect x="193.9" y="591.1" width="147.6" height="170.6" fill="#fff" stroke="#8c8c8c" stroke-width="0.9"/>
<line x1="191.9" y1="598.6" x2="193.9" y2="598.6" stroke="#444" stroke-width="0.6"/>
<text x="190.9" y="600.35" font-size="5.1" fill="#444" text-anchor="end">60</text>
<line x1="191.9" y1="640.6" x2="193.9" y2="640.6" stroke="#444" stroke-width="0.6"/>
<text x="190.9" y="642.35" font-size="5.1" fill="#444" text-anchor="end">40</text>
<line x1="191.9" y1="682.9" x2="193.9" y2="682.9" stroke="#444" stroke-width="0.6"/>
<text x="190.9" y="684.65" font-size="5.1" fill="#444" text-anchor="end">20</text>
<line x1="191.9" y1="724.9" x2="193.9" y2="724.9" stroke="#444" stroke-width="0.6"/>
<text x="190.9" y="726.65" font-size="5.1" fill="#444" text-anchor="end">0</text>
<text x="182" y="674.5" font-size="7.7" fill="#222" text-anchor="middle" transform="rotate(-90 182 674.5)" stroke="#222" stroke-width="0.12">CV (%)</text>
<path d="M214.8,631C214.88,634.83 215.1,647.9 215.3,654C215.5,660.1 215.75,663.6 216,667.6C216.25,671.6 216.53,674.93 216.8,678C217.07,681.07 217.3,682.33 217.6,686C217.9,689.67 218.28,696 218.6,700C218.92,704 219.35,707.17 219.5,710C219.65,712.83 219.78,714.67 219.5,717C219.22,719.33 218.38,721.73 217.8,724C217.22,726.27 216.43,728.65 216,730.6C215.57,732.55 215.4,733.5 215.2,735.7C215,737.9 214.93,743.8 214.8,743.8C214.67,743.8 214.6,737.9 214.4,735.7C214.2,733.5 214.03,732.55 213.6,730.6C213.17,728.65 212.38,726.27 211.8,724C211.22,721.73 210.38,719.33 210.1,717C209.82,714.67 209.95,712.83 210.1,710C210.25,707.17 210.68,704 211,700C211.32,696 211.7,689.67 212,686C212.3,682.33 212.53,681.07 212.8,678C213.07,674.93 213.35,671.6 213.6,667.6C213.85,663.6 214.1,660.1 214.3,654C214.5,647.9 214.72,634.83 214.8,631Z" fill="#0c4a91" stroke="#000" stroke-width="0.85" stroke-linejoin="round"/>
<line x1="214.8" y1="631" x2="214.8" y2="743.8" stroke="#000" stroke-width="0.6"/>
<rect x="211.2" y="687.3" width="7.5" height="28.9" fill="#fff" stroke="#000" stroke-width="0.7"/>
<line x1="211.2" y1="706.6" x2="218.7" y2="706.6" stroke="#000" stroke-width="0.8"/>
<path d="M250.4,605C250.45,609.17 250.6,621.83 250.7,630C250.8,638.17 250.83,647.73 251,654C251.17,660.27 251.43,663.6 251.7,667.6C251.97,671.6 252.27,672.6 252.6,678C252.93,683.4 253.43,693.5 253.7,700C253.97,706.5 254.37,712.75 254.2,717C254.03,721.25 253.17,722.95 252.7,725.5C252.23,728.05 251.73,730.05 251.4,732.3C251.07,734.55 250.87,736.27 250.7,739C250.53,741.73 250.5,748.7 250.4,748.7C250.3,748.7 250.27,741.73 250.1,739C249.93,736.27 249.73,734.55 249.4,732.3C249.07,730.05 248.57,728.05 248.1,725.5C247.63,722.95 246.77,721.25 246.6,717C246.43,712.75 246.83,706.5 247.1,700C247.37,693.5 247.87,683.4 248.2,678C248.53,672.6 248.83,671.6 249.1,667.6C249.37,663.6 249.63,660.27 249.8,654C249.97,647.73 250,638.17 250.1,630C250.2,621.83 250.35,609.17 250.4,605Z" fill="#e31b2a" stroke="#000" stroke-width="0.85" stroke-linejoin="round"/>
<line x1="250.4" y1="605" x2="250.4" y2="748.7" stroke="#000" stroke-width="0.6"/>
<rect x="246.3" y="680.2" width="7.7" height="35.2" fill="#fff" stroke="#000" stroke-width="0.7"/>
<line x1="246.3" y1="703.6" x2="254" y2="703.6" stroke="#000" stroke-width="0.8"/>
<path d="M285.7,698.4C285.95,699 286.78,700.9 287.2,702C287.62,703.1 287.82,704 288.2,705C288.58,706 289,707 289.5,708C290,709 290.6,710.08 291.2,711C291.8,711.92 292.42,712.67 293.1,713.5C293.78,714.33 294.07,715.25 295.3,716C296.53,716.75 299.13,717.33 300.5,718C301.87,718.67 303.63,719.33 303.5,720C303.37,720.67 301.33,721.33 299.7,722C298.07,722.67 295.53,723.33 293.7,724C291.87,724.67 289.87,725.42 288.7,726C287.53,726.58 287.2,726.75 286.7,727.5C286.2,728.25 286.03,730.5 285.7,730.5C285.37,730.5 285.2,728.25 284.7,727.5C284.2,726.75 283.87,726.58 282.7,726C281.53,725.42 279.53,724.67 277.7,724C275.87,723.33 273.33,722.67 271.7,722C270.07,721.33 268.03,720.67 267.9,720C267.77,719.33 269.53,718.67 270.9,718C272.27,717.33 274.87,716.75 276.1,716C277.33,715.25 277.62,714.33 278.3,713.5C278.98,712.67 279.6,711.92 280.2,711C280.8,710.08 281.4,709 281.9,708C282.4,707 282.82,706 283.2,705C283.58,704 283.78,703.1 284.2,702C284.62,700.9 285.45,699 285.7,698.4Z" fill="#3aa64d" stroke="#000" stroke-width="0.85" stroke-linejoin="round"/>
<line x1="285.7" y1="698.4" x2="285.7" y2="730.5" stroke="#000" stroke-width="0.6"/>
<rect x="281.7" y="714.5" width="7.5" height="6.9" fill="#fff" stroke="#000" stroke-width="0.7"/>
<line x1="281.7" y1="719.7" x2="289.2" y2="719.7" stroke="#000" stroke-width="0.8"/>
<path d="M320.5,694C320.7,695 321.2,698.5 321.7,700C322.2,701.5 322.95,702 323.5,703C324.05,704 324.62,705 325,706C325.38,707 325.55,708 325.8,709C326.05,710 326.3,711 326.5,712C326.7,713 326.5,714.17 327,715C327.5,715.83 328.25,716.33 329.5,717C330.75,717.67 333.27,718.33 334.5,719C335.73,719.67 337.23,720.33 336.9,721C336.57,721.67 334.23,722.33 332.5,723C330.77,723.67 328.08,724.33 326.5,725C324.92,725.67 323.83,726.33 323,727C322.17,727.67 321.92,728.33 321.5,729C321.08,729.67 320.83,731 320.5,731C320.17,731 319.92,729.67 319.5,729C319.08,728.33 318.83,727.67 318,727C317.17,726.33 316.08,725.67 314.5,725C312.92,724.33 310.23,723.67 308.5,723C306.77,722.33 304.43,721.67 304.1,721C303.77,720.33 305.27,719.67 306.5,719C307.73,718.33 310.25,717.67 311.5,717C312.75,716.33 313.5,715.83 314,715C314.5,714.17 314.3,713 314.5,712C314.7,711 314.95,710 315.2,709C315.45,708 315.62,707 316,706C316.38,705 316.95,704 317.5,703C318.05,702 318.8,701.5 319.3,700C319.8,698.5 320.3,695 320.5,694Z" fill="#0f8fb0" stroke="#000" stroke-width="0.85" stroke-linejoin="round"/>
<line x1="320.5" y1="694" x2="320.5" y2="731" stroke="#000" stroke-width="0.6"/>
<rect x="317" y="712.8" width="7.2" height="8.6" fill="#fff" stroke="#000" stroke-width="0.7"/>
<line x1="317" y1="719.8" x2="324.2" y2="719.8" stroke="#000" stroke-width="0.8"/>
<text x="273.7" y="601.4" font-size="4.8" fill="#333">Group</text>
<rect x="274.1" y="605.6" width="9.7" height="10" fill="#0c4a91" stroke="#000" stroke-width="0.8"/>
<text x="287.4" y="612.3" font-size="5" fill="#333">Mix1_before correction</text>
<rect x="274.1" y="616.4" width="9.7" height="10" fill="#e31b2a" stroke="#000" stroke-width="0.8"/>
<text x="287.4" y="623.1" font-size="5" fill="#333">Mix2_before correction</text>
<rect x="274.1" y="627.2" width="9.7" height="10" fill="#3aa64d" stroke="#000" stroke-width="0.8"/>
<text x="287.4" y="633.9" font-size="5" fill="#333">Mix1_after correction</text>
<rect x="274.1" y="638" width="9.7" height="10" fill="#0f8fb0" stroke="#000" stroke-width="0.8"/>
<text x="287.4" y="644.7" font-size="5" fill="#333">Mix2_after correction</text>
<text x="349.8" y="586" font-size="14.5" fill="#231815" font-weight="bold">g</text>
<text x="437.3" y="585.8" font-size="7.6" fill="#111" text-anchor="middle" stroke="#111" stroke-width="0.11">Cross protocol &amp; platform</text>
<rect x="365.8" y="591.4" width="147.2" height="170.3" fill="#fff" stroke="#8c8c8c" stroke-width="0.9"/>
<line x1="363.8" y1="631.3" x2="365.8" y2="631.3" stroke="#444" stroke-width="0.6"/>
<text x="362.8" y="633.05" font-size="5.1" fill="#444" text-anchor="end">80</text>
<line x1="363.8" y1="676.2" x2="365.8" y2="676.2" stroke="#444" stroke-width="0.6"/>
<text x="362.8" y="677.95" font-size="5.1" fill="#444" text-anchor="end">40</text>
<line x1="363.8" y1="720.9" x2="365.8" y2="720.9" stroke="#444" stroke-width="0.6"/>
<text x="362.8" y="722.65" font-size="5.1" fill="#444" text-anchor="end">0</text>
<text x="353.5" y="674.5" font-size="7.7" fill="#222" text-anchor="middle" transform="rotate(-90 353.5 674.5)" stroke="#222" stroke-width="0.12">CV (%)</text>
<path d="M386.6,635.5C386.65,637.92 386.8,644.42 386.9,650C387,655.58 386.98,663.17 387.2,669C387.42,674.83 387.8,679.83 388.2,685C388.6,690.17 389.22,695.5 389.6,700C389.98,704.5 390.4,709.33 390.5,712C390.6,714.67 390.45,714.5 390.2,716C389.95,717.5 389.38,719.17 389,721C388.62,722.83 388.22,725.17 387.9,727C387.58,728.83 387.28,730.5 387.1,732C386.92,733.5 386.88,734.57 386.8,736C386.72,737.43 386.67,740.6 386.6,740.6C386.53,740.6 386.48,737.43 386.4,736C386.32,734.57 386.28,733.5 386.1,732C385.92,730.5 385.62,728.83 385.3,727C384.98,725.17 384.58,722.83 384.2,721C383.82,719.17 383.25,717.5 383,716C382.75,714.5 382.6,714.67 382.7,712C382.8,709.33 383.22,704.5 383.6,700C383.98,695.5 384.6,690.17 385,685C385.4,679.83 385.78,674.83 386,669C386.22,663.17 386.2,655.58 386.3,650C386.4,644.42 386.55,637.92 386.6,635.5Z" fill="#0c4a91" stroke="#000" stroke-width="0.85" stroke-linejoin="round"/>
<line x1="386.6" y1="635.5" x2="386.6" y2="740.6" stroke="#000" stroke-width="0.6"/>
<rect x="383.2" y="689.7" width="7.1" height="23.3" fill="#fff" stroke="#000" stroke-width="0.7"/>
<line x1="383.2" y1="700.8" x2="390.3" y2="700.8" stroke="#000" stroke-width="0.8"/>
<path d="M421.9,605C421.93,609.17 422.03,622.5 422.1,630C422.17,637.5 422.23,644.83 422.3,650C422.37,655.17 422.32,656.83 422.5,661C422.68,665.17 423.03,670.17 423.4,675C423.77,679.83 424.38,685 424.7,690C425.02,695 425.18,701.5 425.3,705C425.42,708.5 425.55,708.83 425.4,711C425.25,713.17 424.78,715.33 424.4,718C424.02,720.67 423.43,724.33 423.1,727C422.77,729.67 422.57,731.83 422.4,734C422.23,736.17 422.18,737.55 422.1,740C422.02,742.45 421.97,748.7 421.9,748.7C421.83,748.7 421.78,742.45 421.7,740C421.62,737.55 421.57,736.17 421.4,734C421.23,731.83 421.03,729.67 420.7,727C420.37,724.33 419.78,720.67 419.4,718C419.02,715.33 418.55,713.17 418.4,711C418.25,708.83 418.38,708.5 418.5,705C418.62,701.5 418.78,695 419.1,690C419.42,685 420.03,679.83 420.4,675C420.77,670.17 421.12,665.17 421.3,661C421.48,656.83 421.43,655.17 421.5,650C421.57,644.83 421.63,637.5 421.7,630C421.77,622.5 421.87,609.17 421.9,605Z" fill="#e31b2a" stroke="#000" stroke-width="0.85" stroke-linejoin="round"/>
<line x1="421.9" y1="605" x2="421.9" y2="748.7" stroke="#000" stroke-width="0.6"/>
<rect x="418.3" y="677.1" width="7.3" height="32.5" fill="#fff" stroke="#000" stroke-width="0.7"/>
<line x1="418.3" y1="698.2" x2="425.6" y2="698.2" stroke="#000" stroke-width="0.8"/>
<path d="M457,694C457.17,694.58 457.5,696.5 458,697.5C458.5,698.5 459.33,699.25 460,700C460.67,700.75 460.98,701.42 462,702C463.02,702.58 465.27,703 466.1,703.5C466.93,704 466.68,704.5 467,705C467.32,705.5 467.33,705.92 468,706.5C468.67,707.08 469.87,707.83 471,708.5C472.13,709.17 475.13,709.83 474.8,710.5C474.47,711.17 470.97,711.83 469,712.5C467.03,713.17 464.75,713.92 463,714.5C461.25,715.08 459.5,715.5 458.5,716C457.5,716.5 457.5,717.5 457,717.5C456.5,717.5 456.5,716.5 455.5,716C454.5,715.5 452.75,715.08 451,714.5C449.25,713.92 446.97,713.17 445,712.5C443.03,711.83 439.53,711.17 439.2,710.5C438.87,709.83 441.87,709.17 443,708.5C444.13,707.83 445.33,707.08 446,706.5C446.67,705.92 446.68,705.5 447,705C447.32,704.5 447.07,704 447.9,703.5C448.73,703 450.98,702.58 452,702C453.02,701.42 453.33,700.75 454,700C454.67,699.25 455.5,698.5 456,697.5C456.5,696.5 456.83,694.58 457,694Z" fill="#3aa64d" stroke="#000" stroke-width="0.85" stroke-linejoin="round"/>
<line x1="457" y1="694" x2="457" y2="717.5" stroke="#000" stroke-width="0.6"/>
<rect x="453.3" y="706.2" width="7.2" height="5.4" fill="#fff" stroke="#000" stroke-width="0.7"/>
<line x1="453.3" y1="709" x2="460.5" y2="709" stroke="#000" stroke-width="0.8"/>
<path d="M492.2,663C492.3,664.17 492.58,667.83 492.8,670C493.02,672.17 493.23,674 493.5,676C493.77,678 494.03,680 494.4,682C494.77,684 495.15,686.33 495.7,688C496.25,689.67 497.03,690.5 497.7,692C498.37,693.5 499.15,695.5 499.7,697C500.25,698.5 500.83,699.83 501,701C501.17,702.17 501.08,703 500.7,704C500.32,705 499.45,706 498.7,707C497.95,708 497.03,709 496.2,710C495.37,711 494.27,712.17 493.7,713C493.13,713.83 493.05,713.67 492.8,715C492.55,716.33 492.4,721 492.2,721C492,721 491.85,716.33 491.6,715C491.35,713.67 491.27,713.83 490.7,713C490.13,712.17 489.03,711 488.2,710C487.37,709 486.45,708 485.7,707C484.95,706 484.08,705 483.7,704C483.32,703 483.23,702.17 483.4,701C483.57,699.83 484.15,698.5 484.7,697C485.25,695.5 486.03,693.5 486.7,692C487.37,690.5 488.15,689.67 488.7,688C489.25,686.33 489.63,684 490,682C490.37,680 490.63,678 490.9,676C491.17,674 491.38,672.17 491.6,670C491.82,667.83 492.1,664.17 492.2,663Z" fill="#0f8fb0" stroke="#000" stroke-width="0.85" stroke-linejoin="round"/>
<line x1="492.2" y1="663" x2="492.2" y2="721" stroke="#000" stroke-width="0.6"/>
<rect x="489" y="691.8" width="6.5" height="12" fill="#fff" stroke="#000" stroke-width="0.7"/>
<line x1="489" y1="700.9" x2="495.5" y2="700.9" stroke="#000" stroke-width="0.8"/>
<text x="445" y="601.4" font-size="4.8" fill="#333">Group</text>
<rect x="445.4" y="605.6" width="9.7" height="10" fill="#0c4a91" stroke="#000" stroke-width="0.8"/>
<text x="458.7" y="612.3" font-size="5" fill="#333">Mix1_before correction</text>
<rect x="445.4" y="616.4" width="9.7" height="10" fill="#e31b2a" stroke="#000" stroke-width="0.8"/>
<text x="458.7" y="623.1" font-size="5" fill="#333">Mix2_before correction</text>
<rect x="445.4" y="627.2" width="9.7" height="10" fill="#3aa64d" stroke="#000" stroke-width="0.8"/>
<text x="458.7" y="633.9" font-size="5" fill="#333">Mix1_after correction</text>
<rect x="445.4" y="638" width="9.7" height="10" fill="#0f8fb0" stroke="#000" stroke-width="0.8"/>
<text x="458.7" y="644.7" font-size="5" fill="#333">Mix2_after correction</text>
<text x="520.3" y="588.3" font-size="14.5" fill="#231815" font-weight="bold">h</text>
<text x="616.5" y="585.8" font-size="7.6" fill="#111" text-anchor="middle" stroke="#111" stroke-width="0.11">Cross lab &amp; platform &amp; protocol</text>
<rect x="540.8" y="590.6" width="143.2" height="171.1" fill="#fff" stroke="#8c8c8c" stroke-width="0.9"/>
<line x1="538.8" y1="595.9" x2="540.8" y2="595.9" stroke="#444" stroke-width="0.6"/>
<text x="537.8" y="597.65" font-size="5.1" fill="#444" text-anchor="end">150</text>
<line x1="538.8" y1="645.6" x2="540.8" y2="645.6" stroke="#444" stroke-width="0.6"/>
<text x="537.8" y="647.35" font-size="5.1" fill="#444" text-anchor="end">100</text>
<line x1="538.8" y1="695.1" x2="540.8" y2="695.1" stroke="#444" stroke-width="0.6"/>
<text x="537.8" y="696.85" font-size="5.1" fill="#444" text-anchor="end">50</text>
<line x1="538.8" y1="744.8" x2="540.8" y2="744.8" stroke="#444" stroke-width="0.6"/>
<text x="537.8" y="746.55" font-size="5.1" fill="#444" text-anchor="end">0</text>
<text x="524.6" y="674.5" font-size="7.7" fill="#222" text-anchor="middle" transform="rotate(-90 524.6 674.5)" stroke="#222" stroke-width="0.12">CV (%)</text>
<path d="M560.7,656C560.83,658.33 561.25,666.33 561.5,670C561.75,673.67 561.83,676 562.2,678C562.57,680 562.95,680.67 563.7,682C564.45,683.33 565.85,684.67 566.7,686C567.55,687.33 568.25,688.67 568.8,690C569.35,691.33 570.1,692.67 570,694C569.9,695.33 568.83,696.5 568.2,698C567.57,699.5 566.7,701 566.2,703C565.7,705 565.57,707.5 565.2,710C564.83,712.5 564.42,715.5 564,718C563.58,720.5 563.08,722.67 562.7,725C562.32,727.33 562.03,729.37 561.7,732C561.37,734.63 561.03,740.8 560.7,740.8C560.37,740.8 560.03,734.63 559.7,732C559.37,729.37 559.08,727.33 558.7,725C558.32,722.67 557.82,720.5 557.4,718C556.98,715.5 556.57,712.5 556.2,710C555.83,707.5 555.7,705 555.2,703C554.7,701 553.83,699.5 553.2,698C552.57,696.5 551.5,695.33 551.4,694C551.3,692.67 552.05,691.33 552.6,690C553.15,688.67 553.85,687.33 554.7,686C555.55,684.67 556.95,683.33 557.7,682C558.45,680.67 558.83,680 559.2,678C559.57,676 559.65,673.67 559.9,670C560.15,666.33 560.57,658.33 560.7,656Z" fill="#0c4a91" stroke="#000" stroke-width="0.85" stroke-linejoin="round"/>
<line x1="560.7" y1="656" x2="560.7" y2="740.8" stroke="#000" stroke-width="0.6"/>
<rect x="557.9" y="692.5" width="6.5" height="14.8" fill="#fff" stroke="#000" stroke-width="0.7"/>
<line x1="557.9" y1="695.9" x2="564.4" y2="695.9" stroke="#000" stroke-width="0.8"/>
<path d="M595.2,604C595.32,605.83 595.65,611.5 595.9,615C596.15,618.5 596.32,621.67 596.7,625C597.08,628.33 597.7,632.33 598.2,635C598.7,637.67 599.03,639.17 599.7,641C600.37,642.83 601.53,644.5 602.2,646C602.87,647.5 603.25,648.5 603.7,650C604.15,651.5 604.98,653.33 604.9,655C604.82,656.67 603.98,658.33 603.2,660C602.42,661.67 601.12,663.5 600.2,665C599.28,666.5 598.37,667.83 597.7,669C597.03,670.17 596.62,670.57 596.2,672C595.78,673.43 595.53,677.6 595.2,677.6C594.87,677.6 594.62,673.43 594.2,672C593.78,670.57 593.37,670.17 592.7,669C592.03,667.83 591.12,666.5 590.2,665C589.28,663.5 587.98,661.67 587.2,660C586.42,658.33 585.58,656.67 585.5,655C585.42,653.33 586.25,651.5 586.7,650C587.15,648.5 587.53,647.5 588.2,646C588.87,644.5 590.03,642.83 590.7,641C591.37,639.17 591.7,637.67 592.2,635C592.7,632.33 593.32,628.33 593.7,625C594.08,621.67 594.25,618.5 594.5,615C594.75,611.5 595.08,605.83 595.2,604Z" fill="#e31b2a" stroke="#000" stroke-width="0.85" stroke-linejoin="round"/>
<line x1="595.2" y1="604" x2="595.2" y2="677.6" stroke="#000" stroke-width="0.6"/>
<rect x="591.8" y="644.1" width="6.7" height="13.9" fill="#fff" stroke="#000" stroke-width="0.7"/>
<line x1="591.8" y1="653.9" x2="598.5" y2="653.9" stroke="#000" stroke-width="0.8"/>
<path d="M629.5,708C629.63,708.67 630.05,710.67 630.3,712C630.55,713.33 630.72,714.83 631,716C631.28,717.17 631.75,718.17 632,719C632.25,719.83 632.08,720.42 632.5,721C632.92,721.58 633.75,722 634.5,722.5C635.25,723 636.25,723.42 637,724C637.75,724.58 638.42,725.33 639,726C639.58,726.67 640.03,727.33 640.5,728C640.97,728.67 641.47,729.33 641.8,730C642.13,730.67 642.38,731.33 642.5,732C642.62,732.67 642.47,733.33 642.5,734C642.53,734.67 642.87,735.33 642.7,736C642.53,736.67 642.2,737.33 641.5,738C640.8,738.67 639.58,739.33 638.5,740C637.42,740.67 636.08,741.33 635,742C633.92,742.67 632.78,743.42 632,744C631.22,744.58 630.72,744.83 630.3,745.5C629.88,746.17 629.77,748 629.5,748C629.23,748 629.12,746.17 628.7,745.5C628.28,744.83 627.78,744.58 627,744C626.22,743.42 625.08,742.67 624,742C622.92,741.33 621.58,740.67 620.5,740C619.42,739.33 618.2,738.67 617.5,738C616.8,737.33 616.47,736.67 616.3,736C616.13,735.33 616.47,734.67 616.5,734C616.53,733.33 616.38,732.67 616.5,732C616.62,731.33 616.87,730.67 617.2,730C617.53,729.33 618.03,728.67 618.5,728C618.97,727.33 619.42,726.67 620,726C620.58,725.33 621.25,724.58 622,724C622.75,723.42 623.75,723 624.5,722.5C625.25,722 626.08,721.58 626.5,721C626.92,720.42 626.75,719.83 627,719C627.25,718.17 627.72,717.17 628,716C628.28,714.83 628.45,713.33 628.7,712C628.95,710.67 629.37,708.67 629.5,708Z" fill="#3aa64d" stroke="#000" stroke-width="0.85" stroke-linejoin="round"/>
<line x1="629.5" y1="708" x2="629.5" y2="748" stroke="#000" stroke-width="0.6"/>
<rect x="626.4" y="728.4" width="6.6" height="9.2" fill="#fff" stroke="#000" stroke-width="0.7"/>
<line x1="626.4" y1="733.3" x2="633" y2="733.3" stroke="#000" stroke-width="0.8"/>
<path d="M664.2,711C664.37,711.5 664.78,713.17 665.2,714C665.62,714.83 666.2,715.33 666.7,716C667.2,716.67 667.7,717.33 668.2,718C668.7,718.67 669.2,719.33 669.7,720C670.2,720.67 670.62,721.33 671.2,722C671.78,722.67 672.53,723.33 673.2,724C673.87,724.67 674.53,725.33 675.2,726C675.87,726.67 676.53,727.33 677.2,728C677.87,728.67 678.48,729.33 679.2,730C679.92,730.67 681.5,731.33 681.5,732C681.5,732.67 680.25,733.33 679.2,734C678.15,734.67 676.7,735.42 675.2,736C673.7,736.58 671.62,737 670.2,737.5C668.78,738 667.53,738.58 666.7,739C665.87,739.42 665.62,739.58 665.2,740C664.78,740.42 664.53,741.5 664.2,741.5C663.87,741.5 663.62,740.42 663.2,740C662.78,739.58 662.53,739.42 661.7,739C660.87,738.58 659.62,738 658.2,737.5C656.78,737 654.7,736.58 653.2,736C651.7,735.42 650.25,734.67 649.2,734C648.15,733.33 646.9,732.67 646.9,732C646.9,731.33 648.48,730.67 649.2,730C649.92,729.33 650.53,728.67 651.2,728C651.87,727.33 652.53,726.67 653.2,726C653.87,725.33 654.53,724.67 655.2,724C655.87,723.33 656.62,722.67 657.2,722C657.78,721.33 658.2,720.67 658.7,720C659.2,719.33 659.7,718.67 660.2,718C660.7,717.33 661.2,716.67 661.7,716C662.2,715.33 662.78,714.83 663.2,714C663.62,713.17 664.03,711.5 664.2,711Z" fill="#0f8fb0" stroke="#000" stroke-width="0.85" stroke-linejoin="round"/>
<line x1="664.2" y1="711" x2="664.2" y2="741.5" stroke="#000" stroke-width="0.6"/>
<rect x="660.5" y="726.3" width="7.3" height="7.6" fill="#fff" stroke="#000" stroke-width="0.7"/>
<line x1="660.5" y1="730.6" x2="667.8" y2="730.6" stroke="#000" stroke-width="0.8"/>
<text x="616.9" y="601.4" font-size="4.8" fill="#333">Group</text>
<rect x="617.3" y="605.6" width="9.7" height="10" fill="#0c4a91" stroke="#000" stroke-width="0.8"/>
<text x="630.6" y="612.3" font-size="5" fill="#333">Mix1_before correction</text>
<rect x="617.3" y="616.4" width="9.7" height="10" fill="#e31b2a" stroke="#000" stroke-width="0.8"/>
<text x="630.6" y="623.1" font-size="5" fill="#333">Mix2_before correction</text>
<rect x="617.3" y="627.2" width="9.7" height="10" fill="#3aa64d" stroke="#000" stroke-width="0.8"/>
<text x="630.6" y="633.9" font-size="5" fill="#333">Mix1_after correction</text>
<rect x="617.3" y="638" width="9.7" height="10" fill="#0f8fb0" stroke="#000" stroke-width="0.8"/>
<text x="630.6" y="644.7" font-size="5" fill="#333">Mix2_after correction</text>
</svg>
</body></html>
